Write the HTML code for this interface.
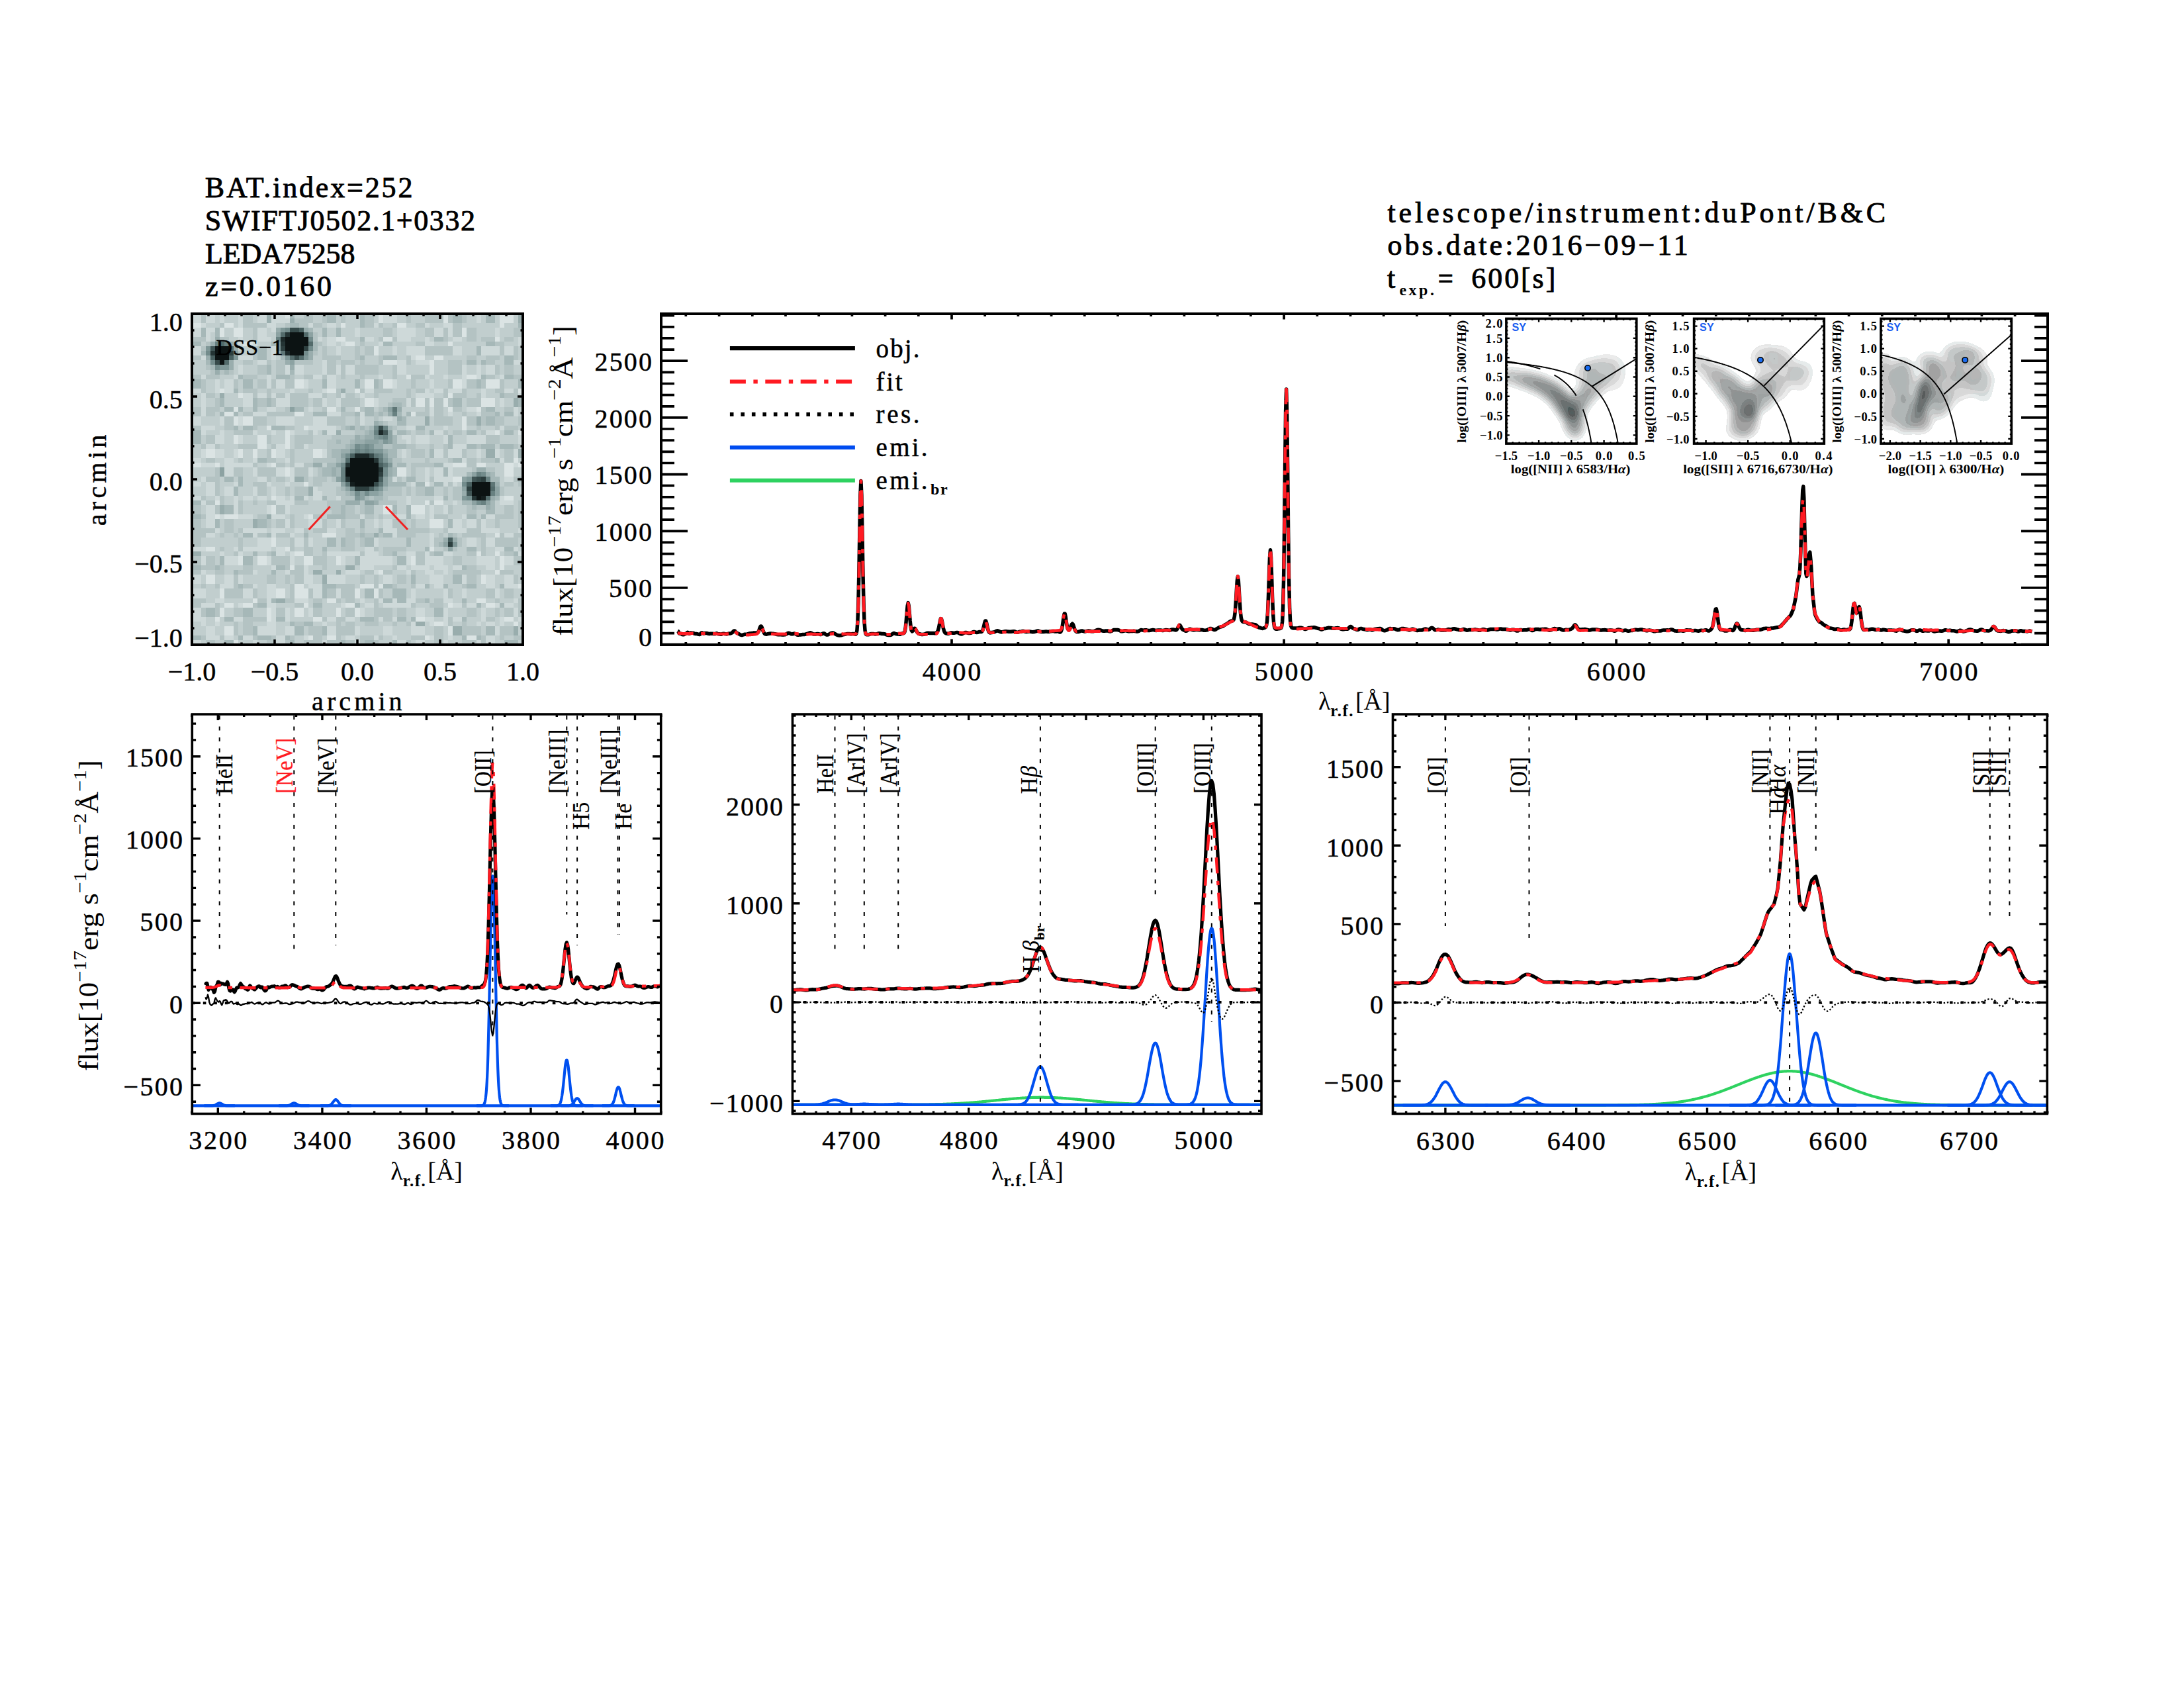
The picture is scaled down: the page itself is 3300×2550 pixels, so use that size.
<!DOCTYPE html><html><head><meta charset="utf-8"><style>html,body{margin:0;padding:0;background:#fff;width:3300px;height:2550px;overflow:hidden}svg{display:block;font-family:"Liberation Serif",serif}</style></head><body>
<svg width="3300" height="2550" viewBox="0 0 3300 2550">
<rect width="3300" height="2550" fill="#fff"/>
<text x="309.8" y="298.4" font-size="44" fill="#000" stroke="#000" stroke-width="0.9" textLength="313.6" lengthAdjust="spacing">BAT.index=252</text>
<text x="309.8" y="347.6" font-size="44" fill="#000" stroke="#000" stroke-width="0.9" textLength="408.2" lengthAdjust="spacing">SWIFTJ0502.1+0332</text>
<text x="310" y="397.9" font-size="44" fill="#000" stroke="#000" stroke-width="0.9" textLength="226.4" lengthAdjust="spacing">LEDA75258</text>
<text x="310" y="447.2" font-size="44" fill="#000" stroke="#000" stroke-width="0.9" textLength="190.9" lengthAdjust="spacing">z=0.0160</text>
<text x="2096.5" y="335.8" font-size="44" fill="#000" stroke="#000" stroke-width="0.9" textLength="752.7" lengthAdjust="spacing">telescope/instrument:duPont/B&amp;C</text>
<text x="2096.5" y="385.2" font-size="44" fill="#000" stroke="#000" stroke-width="0.9" textLength="454.2" lengthAdjust="spacing">obs.date:2016&#8722;09&#8722;11</text>
<text x="2096" y="435.4" font-size="44" fill="#000" stroke="#000" stroke-width="0.9" textLength="15.4" lengthAdjust="spacing">t</text>
<text x="2114.4" y="445.6" font-size="24" fill="#000" font-weight="bold" textLength="52.5" lengthAdjust="spacing">exp.</text>
<text x="2172.7" y="435.4" font-size="44" fill="#000" stroke="#000" stroke-width="0.9" textLength="23.1" lengthAdjust="spacingAndGlyphs">=</text>
<text x="2223.3" y="435.4" font-size="44" fill="#000" stroke="#000" stroke-width="0.9" textLength="127" lengthAdjust="spacing">600[s]</text>
<g transform="translate(290 474) scale(7.04225)" shape-rendering="crispEdges">
<path fill="#0c1313" d="M21 4h3v1h-3zM20 5h5v1h-5zM20 6h5v1h-5zM5 7h3v1h-3zM20 7h4v1h-4zM5 8h3v1h-3zM21 8h3v1h-3zM5 9h3v1h-3zM6 10h1v1h-1zM34 31h5v1h-5zM34 32h6v1h-6zM33 33h7v1h-7zM33 34h7v1h-7zM34 35h6v1h-6zM35 36h4v1h-4zM60 36h4v1h-4zM60 37h4v1h-4zM60 38h4v1h-4zM61 39h1v1h-1z"/>
<path fill="#141e1e" d="M34 36h1v1h-1zM62 39h1v1h-1z"/>
<path fill="#1c2929" d="M19 5h1v1h-1zM20 8h1v1h-1zM40 25h1v1h-1zM35 30h3v1h-3z"/>
<path fill="#243434" d="M20 4h1v1h-1zM19 6h1v1h-1zM4 8h1v1h-1zM39 31h1v1h-1zM33 32h1v1h-1zM40 33h1v1h-1zM33 35h1v1h-1zM60 39h1v1h-1z"/>
<path fill="#2d3f3f" d="M19 7h1v1h-1zM24 7h1v1h-1zM8 8h1v1h-1zM40 34h1v1h-1zM62 35h1v1h-1zM35 37h3v1h-3zM59 37h1v1h-1zM55 49h1v1h-1z"/>
<path fill="#364a4a" d="M21 3h2v1h-2zM22 9h1v1h-1zM5 10h1v1h-1zM40 24h1v1h-1zM38 30h1v1h-1zM61 35h1v1h-1zM39 36h1v1h-1z"/>
<path fill="#405555" d="M4 7h1v1h-1zM41 25h1v1h-1zM60 35h1v1h-1zM59 38h1v1h-1z"/>
<path fill="#496060" d="M23 3h1v1h-1zM4 9h1v1h-1zM8 9h1v1h-1zM34 30h1v1h-1zM40 32h1v1h-1zM40 35h1v1h-1zM59 36h1v1h-1zM38 37h1v1h-1zM55 48h1v1h-1z"/>
<path fill="#536b6b" d="M19 4h1v1h-1zM24 4h1v1h-1zM6 6h1v1h-1zM25 6h1v1h-1zM8 7h1v1h-1zM21 9h1v1h-1zM23 9h1v1h-1zM7 10h1v1h-1zM33 31h1v1h-1zM64 37h1v1h-1zM63 39h1v1h-1z"/>
<path fill="#5e7676" d="M19 8h1v1h-1zM43 20h1v1h-1zM39 30h1v1h-1zM40 31h1v1h-1zM41 32h1v1h-1zM33 36h1v1h-1zM40 36h1v1h-1zM64 36h1v1h-1z"/>
<path fill="#688181" d="M18 5h1v1h-1zM5 6h1v1h-1zM7 6h1v1h-1zM43 21h1v1h-1zM41 24h1v1h-1zM39 25h1v1h-1zM41 26h1v1h-1zM35 29h1v1h-1zM37 29h1v1h-1zM40 30h1v1h-1zM32 33h1v1h-1zM32 34h1v1h-1zM61 34h1v1h-1zM32 35h1v1h-1zM63 35h1v1h-1zM34 37h1v1h-1zM39 37h1v1h-1zM64 38h1v1h-1zM62 40h1v1h-1z"/>
<path fill="#738c8c" d="M20 3h1v1h-1zM25 5h1v1h-1zM25 7h1v1h-1zM3 8h1v1h-1zM24 8h1v1h-1zM4 10h1v1h-1zM5 11h1v1h-1zM39 24h1v1h-1zM40 26h1v1h-1zM35 28h1v1h-1zM37 28h1v1h-1zM36 29h1v1h-1zM38 29h1v1h-1zM33 30h1v1h-1zM32 32h1v1h-1zM41 33h1v1h-1zM41 34h1v1h-1zM62 34h1v1h-1zM58 36h1v1h-1zM35 38h1v1h-1zM37 38h1v1h-1zM59 39h1v1h-1zM61 40h1v1h-1z"/>
<path fill="#7f9797" d="M19 3h1v1h-1zM18 6h1v1h-1zM3 7h1v1h-1zM18 7h1v1h-1zM9 9h1v1h-1zM20 9h1v1h-1zM24 9h1v1h-1zM6 11h2v1h-2zM39 26h1v1h-1zM41 27h1v1h-1zM36 28h1v1h-1zM38 28h1v1h-1zM34 29h1v1h-1zM39 29h2v1h-2zM41 31h1v1h-1zM42 32h1v1h-1zM59 35h1v1h-1zM40 37h1v1h-1zM35 39h1v1h-1zM58 39h1v1h-1zM56 49h1v1h-1z"/>
<path fill="#8ca2a2" d="M18 4h1v1h-1zM25 4h1v1h-1zM9 8h1v1h-1zM21 10h1v1h-1zM21 20h1v1h-1zM42 20h1v1h-1zM42 25h1v1h-1zM42 26h1v1h-1zM37 27h3v1h-3zM42 27h1v1h-1zM32 30h1v1h-1zM41 30h1v1h-1zM31 32h1v1h-1zM6 33h1v1h-1zM6 34h1v1h-1zM60 34h1v1h-1zM31 35h1v1h-1zM41 35h1v1h-1zM58 35h1v1h-1zM32 36h1v1h-1zM41 36h1v1h-1zM33 37h1v1h-1zM58 37h1v1h-1zM65 37h1v1h-1zM36 38h1v1h-1zM38 38h2v1h-2zM65 38h1v1h-1zM36 39h1v1h-1zM37 40h2v1h-2zM60 40h1v1h-1zM63 40h1v1h-1zM54 49h1v1h-1zM55 50h1v1h-1z"/>
<path fill="#99adad" d="M16 0h1v1h-1zM70 0h1v1h-1zM16 1h1v1h-1zM21 1h1v1h-1zM70 1h1v1h-1zM18 3h1v1h-1zM24 3h1v1h-1zM5 5h1v1h-1zM4 6h1v1h-1zM8 6h1v1h-1zM9 7h1v1h-1zM18 8h1v1h-1zM25 8h1v1h-1zM3 9h1v1h-1zM25 9h1v1h-1zM8 10h1v1h-1zM20 10h1v1h-1zM8 11h1v1h-1zM21 11h1v1h-1zM5 12h1v1h-1zM32 16h1v1h-1zM6 17h1v1h-1zM69 18h1v1h-1zM69 19h1v1h-1zM44 20h1v1h-1zM42 21h1v1h-1zM44 22h1v1h-1zM50 22h1v1h-1zM61 22h1v1h-1zM39 23h1v1h-1zM50 23h1v1h-1zM61 23h1v1h-1zM34 24h1v1h-1zM31 25h1v1h-1zM38 25h1v1h-1zM35 26h1v1h-1zM37 26h2v1h-2zM35 27h2v1h-2zM40 27h1v1h-1zM34 28h1v1h-1zM39 28h2v1h-2zM32 29h2v1h-2zM41 29h1v1h-1zM63 29h2v1h-2zM70 29h1v1h-1zM63 30h2v1h-2zM70 30h1v1h-1zM32 31h1v1h-1zM42 31h1v1h-1zM26 32h2v1h-2zM30 33h1v1h-1zM42 33h1v1h-1zM61 33h2v1h-2zM30 34h1v1h-1zM42 34h1v1h-1zM63 34h1v1h-1zM22 35h2v1h-2zM65 36h1v1h-1zM25 37h1v1h-1zM25 38h1v1h-1zM34 38h1v1h-1zM40 38h1v1h-1zM58 38h1v1h-1zM64 39h1v1h-1zM33 40h3v1h-3zM39 40h1v1h-1zM6 41h1v1h-1zM63 41h1v1h-1zM6 42h1v1h-1zM16 43h1v1h-1zM13 44h1v1h-1zM13 45h1v1h-1zM39 47h1v1h-1zM54 48h1v1h-1zM56 48h1v1h-1zM0 51h2v1h-2zM33 54h2v1h-2zM26 55h2v1h-2zM31 55h1v1h-1zM28 56h1v1h-1zM28 57h1v1h-1zM18 61h2v1h-2zM48 66h2v1h-2zM56 67h2v1h-2zM69 67h1v1h-1zM56 68h2v1h-2zM69 68h1v1h-1z"/>
<path fill="#a6b8b8" d="M21 0h1v1h-1zM29 0h2v1h-2zM36 0h1v1h-1zM56 0h2v1h-2zM63 0h2v1h-2zM29 1h2v1h-2zM36 1h1v1h-1zM56 1h2v1h-2zM63 1h2v1h-2zM21 2h2v1h-2zM36 2h1v1h-1zM70 2h1v1h-1zM2 3h1v1h-1zM5 3h1v1h-1zM25 3h1v1h-1zM28 3h1v1h-1zM31 3h1v1h-1zM2 4h1v1h-1zM5 4h1v1h-1zM28 4h1v1h-1zM31 4h1v1h-1zM36 5h1v1h-1zM52 5h2v1h-2zM0 6h2v1h-2zM17 6h1v1h-1zM26 6h1v1h-1zM41 6h2v1h-2zM63 6h2v1h-2zM14 7h2v1h-2zM26 7h1v1h-1zM61 7h1v1h-1zM2 8h1v1h-1zM14 8h2v1h-2zM61 8h1v1h-1zM14 9h2v1h-2zM19 9h1v1h-1zM36 9h1v1h-1zM41 9h3v1h-3zM67 9h2v1h-2zM3 10h1v1h-1zM59 10h2v1h-2zM62 10h1v1h-1zM67 10h2v1h-2zM4 11h1v1h-1zM16 11h1v1h-1zM7 12h1v1h-1zM16 12h1v1h-1zM21 12h1v1h-1zM10 13h1v1h-1zM18 13h3v1h-3zM62 13h1v1h-1zM67 13h2v1h-2zM0 14h2v1h-2zM11 14h2v1h-2zM28 14h1v1h-1zM35 14h1v1h-1zM39 14h1v1h-1zM61 14h1v1h-1zM70 14h1v1h-1zM0 15h2v1h-2zM11 15h2v1h-2zM28 15h1v1h-1zM35 15h1v1h-1zM39 15h1v1h-1zM61 15h1v1h-1zM70 15h1v1h-1zM9 16h1v1h-1zM66 17h1v1h-1zM6 18h1v1h-1zM13 18h1v1h-1zM16 18h1v1h-1zM56 18h2v1h-2zM70 18h1v1h-1zM6 19h1v1h-1zM13 19h1v1h-1zM16 19h1v1h-1zM43 19h2v1h-2zM56 19h2v1h-2zM70 19h1v1h-1zM7 20h2v1h-2zM10 20h1v1h-1zM13 20h1v1h-1zM22 20h2v1h-2zM32 20h1v1h-1zM37 20h2v1h-2zM41 20h1v1h-1zM63 20h2v1h-2zM6 21h1v1h-1zM9 21h1v1h-1zM26 21h3v1h-3zM35 21h1v1h-1zM37 21h2v1h-2zM40 21h1v1h-1zM44 21h1v1h-1zM46 21h1v1h-1zM65 21h1v1h-1zM67 21h2v1h-2zM45 22h1v1h-1zM63 22h2v1h-2zM40 23h1v1h-1zM44 23h2v1h-2zM63 23h2v1h-2zM9 24h1v1h-1zM11 24h2v1h-2zM17 24h3v1h-3zM33 24h1v1h-1zM36 24h1v1h-1zM38 24h1v1h-1zM42 24h1v1h-1zM48 24h2v1h-2zM0 25h2v1h-2zM28 25h1v1h-1zM37 25h1v1h-1zM44 25h2v1h-2zM51 25h1v1h-1zM59 25h2v1h-2zM67 25h2v1h-2zM0 26h2v1h-2zM36 26h1v1h-1zM43 26h1v1h-1zM55 26h1v1h-1zM0 27h2v1h-2zM31 27h1v1h-1zM34 27h1v1h-1zM43 27h1v1h-1zM55 27h1v1h-1zM33 28h1v1h-1zM43 28h3v1h-3zM55 28h1v1h-1zM59 28h2v1h-2zM62 28h3v1h-3zM66 28h3v1h-3zM30 29h2v1h-2zM42 29h2v1h-2zM51 29h1v1h-1zM30 30h2v1h-2zM42 30h2v1h-2zM51 30h1v1h-1zM14 31h2v1h-2zM31 31h1v1h-1zM56 31h2v1h-2zM65 31h1v1h-1zM29 32h2v1h-2zM44 32h2v1h-2zM52 32h2v1h-2zM28 33h2v1h-2zM31 33h1v1h-1zM43 33h1v1h-1zM54 33h1v1h-1zM28 34h2v1h-2zM31 34h1v1h-1zM43 34h1v1h-1zM54 34h1v1h-1zM59 34h1v1h-1zM64 34h1v1h-1zM7 35h2v1h-2zM10 35h1v1h-1zM42 35h1v1h-1zM46 35h2v1h-2zM64 35h2v1h-2zM70 35h1v1h-1zM10 36h1v1h-1zM42 36h4v1h-4zM48 36h2v1h-2zM52 36h2v1h-2zM9 37h1v1h-1zM32 37h1v1h-1zM41 37h1v1h-1zM50 37h2v1h-2zM9 38h1v1h-1zM33 38h1v1h-1zM50 38h2v1h-2zM22 39h2v1h-2zM28 39h1v1h-1zM37 39h1v1h-1zM39 39h2v1h-2zM54 39h1v1h-1zM65 39h1v1h-1zM0 40h2v1h-2zM58 40h2v1h-2zM64 40h1v1h-1zM7 41h2v1h-2zM32 41h1v1h-1zM37 41h2v1h-2zM43 41h1v1h-1zM46 41h1v1h-1zM60 41h1v1h-1zM64 41h1v1h-1zM7 42h2v1h-2zM32 42h1v1h-1zM37 42h2v1h-2zM43 42h1v1h-1zM46 42h1v1h-1zM63 42h2v1h-2zM0 43h2v1h-2zM29 43h4v1h-4zM46 43h1v1h-1zM59 43h2v1h-2zM62 43h1v1h-1zM5 44h1v1h-1zM14 44h2v1h-2zM36 44h1v1h-1zM55 44h1v1h-1zM5 45h1v1h-1zM14 45h2v1h-2zM36 45h1v1h-1zM55 45h1v1h-1zM40 46h1v1h-1zM11 47h2v1h-2zM16 47h1v1h-1zM24 47h1v1h-1zM36 47h1v1h-1zM41 47h2v1h-2zM55 47h1v1h-1zM29 48h2v1h-2zM32 48h1v1h-1zM37 48h2v1h-2zM46 48h1v1h-1zM29 49h2v1h-2zM32 49h1v1h-1zM37 49h2v1h-2zM46 49h1v1h-1zM53 49h1v1h-1zM28 50h1v1h-1zM50 50h1v1h-1zM59 50h2v1h-2zM67 50h2v1h-2zM13 51h1v1h-1zM17 51h1v1h-1zM43 51h1v1h-1zM52 51h2v1h-2zM69 51h1v1h-1zM6 52h1v1h-1zM11 52h2v1h-2zM35 52h1v1h-1zM44 52h2v1h-2zM6 53h1v1h-1zM11 53h2v1h-2zM35 53h1v1h-1zM44 53h2v1h-2zM0 54h2v1h-2zM5 54h1v1h-1zM18 54h2v1h-2zM58 54h1v1h-1zM9 55h1v1h-1zM17 55h1v1h-1zM47 56h1v1h-1zM56 56h2v1h-2zM47 57h1v1h-1zM56 57h2v1h-2zM10 58h1v1h-1zM28 58h3v1h-3zM41 58h2v1h-2zM50 58h1v1h-1zM54 58h1v1h-1zM59 58h2v1h-2zM66 58h1v1h-1zM28 59h1v1h-1zM37 59h2v1h-2zM43 59h3v1h-3zM28 60h1v1h-1zM37 60h2v1h-2zM43 60h3v1h-3zM17 61h1v1h-1zM41 61h2v1h-2zM44 61h2v1h-2zM50 61h1v1h-1zM58 61h1v1h-1zM14 62h2v1h-2zM26 62h2v1h-2zM35 62h1v1h-1zM61 62h1v1h-1zM66 62h1v1h-1zM3 63h2v1h-2zM11 63h2v1h-2zM52 63h2v1h-2zM3 64h2v1h-2zM11 64h2v1h-2zM52 64h2v1h-2zM7 65h2v1h-2zM18 65h2v1h-2zM36 65h3v1h-3zM44 65h2v1h-2zM47 65h1v1h-1zM58 65h1v1h-1zM21 66h1v1h-1zM24 66h2v1h-2zM13 67h1v1h-1zM22 67h2v1h-2zM28 67h1v1h-1zM63 67h2v1h-2zM13 68h1v1h-1zM22 68h2v1h-2zM28 68h1v1h-1zM63 68h2v1h-2zM0 69h2v1h-2zM10 69h1v1h-1zM14 69h3v1h-3zM20 69h1v1h-1zM58 69h1v1h-1zM61 69h1v1h-1zM7 70h2v1h-2zM21 70h1v1h-1zM32 70h1v1h-1zM37 70h2v1h-2zM43 70h1v1h-1zM67 70h3v1h-3z"/>
<path fill="#b4c3c3" d="M2 0h1v1h-1zM11 0h2v1h-2zM24 0h2v1h-2zM28 0h1v1h-1zM32 0h1v1h-1zM37 0h2v1h-2zM46 0h1v1h-1zM50 0h4v1h-4zM55 0h1v1h-1zM58 0h1v1h-1zM2 1h1v1h-1zM11 1h2v1h-2zM22 1h4v1h-4zM28 1h1v1h-1zM32 1h1v1h-1zM37 1h2v1h-2zM46 1h1v1h-1zM50 1h4v1h-4zM55 1h1v1h-1zM58 1h1v1h-1zM6 2h1v1h-1zM11 2h5v1h-5zM20 2h1v1h-1zM23 2h2v1h-2zM26 2h2v1h-2zM37 2h2v1h-2zM40 2h1v1h-1zM43 2h1v1h-1zM48 2h2v1h-2zM56 2h2v1h-2zM13 3h1v1h-1zM41 3h2v1h-2zM50 3h2v1h-2zM54 3h1v1h-1zM56 3h2v1h-2zM59 3h2v1h-2zM69 3h2v1h-2zM13 4h1v1h-1zM26 4h1v1h-1zM41 4h2v1h-2zM50 4h2v1h-2zM54 4h1v1h-1zM56 4h2v1h-2zM59 4h2v1h-2zM69 4h2v1h-2zM0 5h3v1h-3zM6 5h2v1h-2zM13 5h1v1h-1zM26 5h1v1h-1zM40 5h1v1h-1zM43 5h1v1h-1zM54 5h1v1h-1zM59 5h2v1h-2zM62 5h3v1h-3zM67 5h2v1h-2zM3 6h1v1h-1zM9 6h1v1h-1zM27 6h1v1h-1zM36 6h1v1h-1zM48 6h2v1h-2zM65 6h2v1h-2zM2 7h1v1h-1zM13 7h1v1h-1zM28 7h1v1h-1zM35 7h1v1h-1zM37 7h2v1h-2zM50 7h6v1h-6zM66 7h1v1h-1zM69 7h1v1h-1zM10 8h1v1h-1zM13 8h1v1h-1zM26 8h1v1h-1zM28 8h1v1h-1zM35 8h1v1h-1zM37 8h2v1h-2zM50 8h6v1h-6zM66 8h1v1h-1zM69 8h1v1h-1zM0 9h2v1h-2zM13 9h1v1h-1zM28 9h4v1h-4zM35 9h1v1h-1zM40 9h1v1h-1zM46 9h1v1h-1zM59 9h2v1h-2zM63 9h3v1h-3zM69 9h1v1h-1zM11 10h2v1h-2zM16 10h1v1h-1zM18 10h2v1h-2zM22 10h4v1h-4zM29 10h2v1h-2zM32 10h3v1h-3zM36 10h1v1h-1zM40 10h1v1h-1zM46 10h1v1h-1zM55 10h3v1h-3zM63 10h2v1h-2zM3 11h1v1h-1zM14 11h2v1h-2zM18 11h2v1h-2zM29 11h2v1h-2zM32 11h1v1h-1zM35 11h5v1h-5zM43 11h1v1h-1zM55 11h3v1h-3zM65 11h1v1h-1zM67 11h2v1h-2zM4 12h1v1h-1zM6 12h1v1h-1zM8 12h1v1h-1zM14 12h2v1h-2zM18 12h2v1h-2zM29 12h2v1h-2zM32 12h1v1h-1zM35 12h5v1h-5zM43 12h1v1h-1zM55 12h3v1h-3zM65 12h1v1h-1zM67 12h2v1h-2zM0 13h2v1h-2zM3 13h3v1h-3zM11 13h3v1h-3zM21 13h1v1h-1zM24 13h2v1h-2zM28 13h1v1h-1zM32 13h1v1h-1zM36 13h1v1h-1zM43 13h1v1h-1zM47 13h3v1h-3zM63 13h2v1h-2zM69 13h2v1h-2zM2 14h1v1h-1zM9 14h1v1h-1zM14 14h2v1h-2zM17 14h1v1h-1zM20 14h2v1h-2zM40 14h1v1h-1zM47 14h1v1h-1zM55 14h1v1h-1zM59 14h2v1h-2zM62 14h1v1h-1zM66 14h1v1h-1zM2 15h1v1h-1zM9 15h1v1h-1zM14 15h2v1h-2zM17 15h1v1h-1zM20 15h2v1h-2zM40 15h1v1h-1zM47 15h1v1h-1zM55 15h1v1h-1zM59 15h2v1h-2zM62 15h1v1h-1zM66 15h1v1h-1zM2 16h1v1h-1zM11 16h3v1h-3zM16 16h1v1h-1zM25 16h1v1h-1zM31 16h1v1h-1zM36 16h1v1h-1zM39 16h4v1h-4zM46 16h1v1h-1zM48 16h2v1h-2zM54 16h1v1h-1zM58 16h1v1h-1zM65 16h2v1h-2zM69 16h1v1h-1zM3 17h2v1h-2zM13 17h1v1h-1zM16 17h1v1h-1zM18 17h2v1h-2zM21 17h4v1h-4zM28 17h1v1h-1zM31 17h1v1h-1zM33 17h2v1h-2zM39 17h1v1h-1zM46 17h1v1h-1zM54 17h1v1h-1zM56 17h3v1h-3zM61 17h1v1h-1zM67 17h3v1h-3zM5 18h1v1h-1zM14 18h2v1h-2zM17 18h1v1h-1zM21 18h4v1h-4zM26 18h2v1h-2zM32 18h4v1h-4zM43 18h3v1h-3zM47 18h1v1h-1zM50 18h1v1h-1zM52 18h2v1h-2zM55 18h1v1h-1zM59 18h3v1h-3zM5 19h1v1h-1zM14 19h2v1h-2zM17 19h1v1h-1zM21 19h4v1h-4zM26 19h2v1h-2zM32 19h4v1h-4zM42 19h1v1h-1zM45 19h1v1h-1zM47 19h1v1h-1zM50 19h1v1h-1zM52 19h2v1h-2zM55 19h1v1h-1zM59 19h3v1h-3zM0 20h2v1h-2zM3 20h3v1h-3zM20 20h1v1h-1zM28 20h1v1h-1zM36 20h1v1h-1zM40 20h1v1h-1zM50 20h1v1h-1zM52 20h2v1h-2zM56 20h2v1h-2zM62 20h1v1h-1zM67 20h2v1h-2zM0 21h2v1h-2zM3 21h2v1h-2zM11 21h2v1h-2zM16 21h6v1h-6zM32 21h3v1h-3zM39 21h1v1h-1zM41 21h1v1h-1zM48 21h3v1h-3zM52 21h2v1h-2zM58 21h1v1h-1zM62 21h3v1h-3zM7 22h2v1h-2zM13 22h3v1h-3zM29 22h4v1h-4zM35 22h1v1h-1zM39 22h1v1h-1zM52 22h4v1h-4zM59 22h2v1h-2zM62 22h1v1h-1zM65 22h2v1h-2zM70 22h1v1h-1zM7 23h2v1h-2zM13 23h3v1h-3zM29 23h4v1h-4zM35 23h1v1h-1zM41 23h1v1h-1zM52 23h4v1h-4zM59 23h2v1h-2zM62 23h1v1h-1zM65 23h2v1h-2zM70 23h1v1h-1zM0 24h2v1h-2zM7 24h2v1h-2zM13 24h1v1h-1zM20 24h2v1h-2zM32 24h1v1h-1zM35 24h1v1h-1zM37 24h1v1h-1zM43 24h1v1h-1zM61 24h1v1h-1zM65 24h1v1h-1zM67 24h3v1h-3zM9 25h4v1h-4zM25 25h1v1h-1zM35 25h2v1h-2zM46 25h1v1h-1zM48 25h2v1h-2zM54 25h1v1h-1zM56 25h2v1h-2zM62 25h1v1h-1zM3 26h2v1h-2zM16 26h1v1h-1zM22 26h4v1h-4zM30 26h5v1h-5zM63 26h3v1h-3zM3 27h2v1h-2zM16 27h1v1h-1zM22 27h4v1h-4zM29 27h2v1h-2zM32 27h2v1h-2zM63 27h3v1h-3zM2 28h1v1h-1zM5 28h1v1h-1zM10 28h4v1h-4zM17 28h1v1h-1zM22 28h2v1h-2zM29 28h4v1h-4zM41 28h2v1h-2zM46 28h2v1h-2zM51 28h1v1h-1zM54 28h1v1h-1zM61 28h1v1h-1zM69 28h1v1h-1zM16 29h1v1h-1zM21 29h1v1h-1zM29 29h1v1h-1zM47 29h3v1h-3zM54 29h1v1h-1zM58 29h1v1h-1zM67 29h2v1h-2zM16 30h1v1h-1zM21 30h1v1h-1zM29 30h1v1h-1zM47 30h3v1h-3zM54 30h1v1h-1zM58 30h1v1h-1zM67 30h2v1h-2zM3 31h2v1h-2zM10 31h1v1h-1zM16 31h2v1h-2zM21 31h1v1h-1zM26 31h5v1h-5zM43 31h2v1h-2zM50 31h1v1h-1zM55 31h1v1h-1zM59 31h2v1h-2zM62 31h3v1h-3zM67 31h2v1h-2zM13 32h1v1h-1zM18 32h2v1h-2zM21 32h1v1h-1zM24 32h2v1h-2zM43 32h1v1h-1zM47 32h5v1h-5zM59 32h2v1h-2zM5 33h1v1h-1zM9 33h2v1h-2zM14 33h4v1h-4zM22 33h3v1h-3zM27 33h1v1h-1zM47 33h1v1h-1zM60 33h1v1h-1zM63 33h2v1h-2zM5 34h1v1h-1zM9 34h2v1h-2zM14 34h4v1h-4zM22 34h3v1h-3zM27 34h1v1h-1zM47 34h1v1h-1zM3 35h3v1h-3zM16 35h1v1h-1zM18 35h2v1h-2zM24 35h1v1h-1zM26 35h3v1h-3zM30 35h1v1h-1zM44 35h1v1h-1zM51 35h1v1h-1zM69 35h1v1h-1zM5 36h1v1h-1zM13 36h3v1h-3zM26 36h2v1h-2zM55 36h1v1h-1zM67 36h2v1h-2zM70 36h1v1h-1zM5 37h1v1h-1zM14 37h2v1h-2zM20 37h1v1h-1zM22 37h3v1h-3zM31 37h1v1h-1zM42 37h3v1h-3zM46 37h1v1h-1zM48 37h2v1h-2zM54 37h1v1h-1zM56 37h2v1h-2zM66 37h1v1h-1zM5 38h1v1h-1zM14 38h2v1h-2zM20 38h1v1h-1zM22 38h3v1h-3zM31 38h2v1h-2zM41 38h4v1h-4zM46 38h1v1h-1zM48 38h2v1h-2zM54 38h1v1h-1zM56 38h2v1h-2zM66 38h1v1h-1zM2 39h1v1h-1zM6 39h1v1h-1zM32 39h3v1h-3zM38 39h1v1h-1zM41 39h1v1h-1zM56 39h2v1h-2zM3 40h2v1h-2zM6 40h1v1h-1zM10 40h1v1h-1zM13 40h1v1h-1zM16 40h2v1h-2zM22 40h3v1h-3zM29 40h4v1h-4zM36 40h1v1h-1zM40 40h4v1h-4zM51 40h1v1h-1zM70 40h1v1h-1zM0 41h2v1h-2zM5 41h1v1h-1zM10 41h1v1h-1zM18 41h2v1h-2zM29 41h3v1h-3zM33 41h2v1h-2zM36 41h1v1h-1zM55 41h1v1h-1zM59 41h1v1h-1zM61 41h2v1h-2zM67 41h2v1h-2zM70 41h1v1h-1zM0 42h2v1h-2zM5 42h1v1h-1zM10 42h1v1h-1zM18 42h2v1h-2zM30 42h2v1h-2zM33 42h2v1h-2zM36 42h1v1h-1zM55 42h1v1h-1zM59 42h2v1h-2zM67 42h2v1h-2zM70 42h1v1h-1zM2 43h1v1h-1zM14 43h2v1h-2zM21 43h1v1h-1zM26 43h2v1h-2zM33 43h3v1h-3zM37 43h2v1h-2zM40 43h1v1h-1zM52 43h3v1h-3zM65 43h4v1h-4zM70 43h1v1h-1zM0 44h2v1h-2zM7 44h2v1h-2zM16 44h1v1h-1zM18 44h2v1h-2zM21 44h1v1h-1zM28 44h1v1h-1zM32 44h1v1h-1zM43 44h3v1h-3zM47 44h1v1h-1zM61 44h1v1h-1zM65 44h1v1h-1zM70 44h1v1h-1zM0 45h2v1h-2zM7 45h2v1h-2zM16 45h1v1h-1zM18 45h2v1h-2zM21 45h1v1h-1zM28 45h1v1h-1zM32 45h1v1h-1zM43 45h3v1h-3zM47 45h1v1h-1zM61 45h1v1h-1zM65 45h1v1h-1zM70 45h1v1h-1zM0 46h5v1h-5zM7 46h2v1h-2zM10 46h1v1h-1zM24 46h1v1h-1zM26 46h3v1h-3zM33 46h2v1h-2zM36 46h1v1h-1zM44 46h7v1h-7zM54 46h1v1h-1zM59 46h3v1h-3zM0 47h3v1h-3zM6 47h1v1h-1zM9 47h1v1h-1zM14 47h2v1h-2zM18 47h3v1h-3zM33 47h3v1h-3zM37 47h2v1h-2zM40 47h1v1h-1zM44 47h4v1h-4zM53 47h1v1h-1zM56 47h1v1h-1zM58 47h5v1h-5zM66 47h1v1h-1zM69 47h2v1h-2zM0 48h2v1h-2zM10 48h1v1h-1zM21 48h1v1h-1zM24 48h1v1h-1zM33 48h2v1h-2zM36 48h1v1h-1zM52 48h2v1h-2zM57 48h1v1h-1zM62 48h1v1h-1zM65 48h5v1h-5zM0 49h2v1h-2zM10 49h1v1h-1zM21 49h1v1h-1zM24 49h1v1h-1zM33 49h2v1h-2zM36 49h1v1h-1zM52 49h1v1h-1zM57 49h1v1h-1zM62 49h1v1h-1zM65 49h5v1h-5zM6 50h1v1h-1zM10 50h1v1h-1zM21 50h1v1h-1zM24 50h2v1h-2zM32 50h3v1h-3zM39 50h1v1h-1zM41 50h5v1h-5zM54 50h1v1h-1zM56 50h1v1h-1zM62 50h1v1h-1zM9 51h1v1h-1zM16 51h1v1h-1zM24 51h2v1h-2zM28 51h1v1h-1zM36 51h1v1h-1zM41 51h2v1h-2zM48 51h2v1h-2zM51 51h1v1h-1zM59 51h2v1h-2zM62 51h1v1h-1zM67 51h2v1h-2zM0 52h2v1h-2zM3 52h2v1h-2zM17 52h4v1h-4zM26 52h3v1h-3zM48 52h2v1h-2zM56 52h2v1h-2zM69 52h2v1h-2zM0 53h2v1h-2zM3 53h2v1h-2zM17 53h4v1h-4zM26 53h3v1h-3zM48 53h2v1h-2zM56 53h2v1h-2zM69 53h2v1h-2zM2 54h3v1h-3zM6 54h1v1h-1zM11 54h2v1h-2zM20 54h1v1h-1zM22 54h2v1h-2zM28 54h1v1h-1zM43 54h1v1h-1zM59 54h2v1h-2zM0 55h2v1h-2zM5 55h2v1h-2zM10 55h3v1h-3zM21 55h3v1h-3zM37 55h2v1h-2zM41 55h2v1h-2zM47 55h1v1h-1zM56 55h6v1h-6zM66 55h3v1h-3zM9 56h1v1h-1zM16 56h2v1h-2zM20 56h1v1h-1zM22 56h2v1h-2zM36 56h1v1h-1zM39 56h1v1h-1zM44 56h2v1h-2zM59 56h2v1h-2zM69 56h1v1h-1zM9 57h1v1h-1zM16 57h2v1h-2zM20 57h1v1h-1zM22 57h2v1h-2zM36 57h1v1h-1zM39 57h1v1h-1zM44 57h2v1h-2zM59 57h2v1h-2zM69 57h1v1h-1zM2 58h1v1h-1zM5 58h1v1h-1zM9 58h1v1h-1zM11 58h2v1h-2zM21 58h1v1h-1zM31 58h4v1h-4zM39 58h1v1h-1zM43 58h1v1h-1zM47 58h1v1h-1zM58 58h1v1h-1zM7 59h4v1h-4zM13 59h1v1h-1zM21 59h1v1h-1zM25 59h1v1h-1zM29 59h2v1h-2zM32 59h3v1h-3zM40 59h1v1h-1zM55 59h1v1h-1zM63 59h2v1h-2zM67 59h2v1h-2zM7 60h4v1h-4zM13 60h1v1h-1zM21 60h1v1h-1zM25 60h1v1h-1zM29 60h2v1h-2zM32 60h3v1h-3zM40 60h1v1h-1zM55 60h1v1h-1zM63 60h2v1h-2zM67 60h2v1h-2zM0 61h3v1h-3zM14 61h2v1h-2zM20 61h2v1h-2zM26 61h2v1h-2zM31 61h1v1h-1zM33 61h2v1h-2zM39 61h1v1h-1zM48 61h2v1h-2zM52 61h2v1h-2zM65 61h1v1h-1zM70 61h1v1h-1zM0 62h2v1h-2zM5 62h1v1h-1zM13 62h1v1h-1zM22 62h2v1h-2zM39 62h1v1h-1zM47 62h1v1h-1zM51 62h3v1h-3zM58 62h1v1h-1zM70 62h1v1h-1zM2 63h1v1h-1zM5 63h1v1h-1zM9 63h2v1h-2zM18 63h2v1h-2zM26 63h2v1h-2zM33 63h2v1h-2zM39 63h4v1h-4zM44 63h2v1h-2zM59 63h2v1h-2zM65 63h1v1h-1zM67 63h2v1h-2zM70 63h1v1h-1zM2 64h1v1h-1zM5 64h1v1h-1zM9 64h2v1h-2zM18 64h2v1h-2zM26 64h2v1h-2zM33 64h2v1h-2zM39 64h4v1h-4zM44 64h2v1h-2zM59 64h2v1h-2zM65 64h1v1h-1zM67 64h2v1h-2zM70 64h1v1h-1zM11 65h5v1h-5zM28 65h1v1h-1zM31 65h2v1h-2zM39 65h1v1h-1zM41 65h2v1h-2zM55 65h1v1h-1zM63 65h2v1h-2zM9 66h1v1h-1zM11 66h2v1h-2zM22 66h2v1h-2zM31 66h1v1h-1zM33 66h2v1h-2zM37 66h3v1h-3zM43 66h1v1h-1zM46 66h1v1h-1zM55 66h1v1h-1zM58 66h1v1h-1zM9 67h1v1h-1zM11 67h2v1h-2zM25 67h3v1h-3zM31 67h4v1h-4zM52 67h2v1h-2zM58 67h4v1h-4zM66 67h3v1h-3zM9 68h1v1h-1zM11 68h2v1h-2zM25 68h3v1h-3zM31 68h4v1h-4zM52 68h2v1h-2zM58 68h4v1h-4zM66 68h3v1h-3zM2 69h1v1h-1zM6 69h1v1h-1zM13 69h1v1h-1zM17 69h1v1h-1zM21 69h1v1h-1zM26 69h2v1h-2zM31 69h1v1h-1zM36 69h3v1h-3zM40 69h1v1h-1zM47 69h3v1h-3zM52 69h2v1h-2zM62 69h1v1h-1zM66 69h1v1h-1zM69 69h2v1h-2zM3 70h2v1h-2zM16 70h2v1h-2zM20 70h1v1h-1zM24 70h4v1h-4zM29 70h3v1h-3zM33 70h2v1h-2zM36 70h1v1h-1zM39 70h1v1h-1zM46 70h1v1h-1zM52 70h2v1h-2zM58 70h3v1h-3zM62 70h1v1h-1z"/>
<path fill="#c1cece" d="M5 0h1v1h-1zM7 0h3v1h-3zM13 0h1v1h-1zM22 0h2v1h-2zM26 0h2v1h-2zM31 0h1v1h-1zM33 0h3v1h-3zM39 0h1v1h-1zM44 0h2v1h-2zM47 0h3v1h-3zM59 0h2v1h-2zM62 0h1v1h-1zM65 0h1v1h-1zM69 0h1v1h-1zM5 1h1v1h-1zM7 1h3v1h-3zM13 1h1v1h-1zM26 1h2v1h-2zM31 1h1v1h-1zM33 1h3v1h-3zM39 1h1v1h-1zM44 1h2v1h-2zM47 1h3v1h-3zM59 1h2v1h-2zM62 1h1v1h-1zM65 1h1v1h-1zM69 1h1v1h-1zM3 2h3v1h-3zM9 2h1v1h-1zM18 2h2v1h-2zM28 2h1v1h-1zM31 2h1v1h-1zM33 2h3v1h-3zM41 2h2v1h-2zM46 2h2v1h-2zM51 2h3v1h-3zM58 2h8v1h-8zM67 2h3v1h-3zM7 3h2v1h-2zM11 3h2v1h-2zM16 3h1v1h-1zM26 3h2v1h-2zM29 3h2v1h-2zM32 3h3v1h-3zM36 3h5v1h-5zM43 3h1v1h-1zM48 3h2v1h-2zM61 3h4v1h-4zM66 3h3v1h-3zM4 4h1v1h-1zM7 4h2v1h-2zM11 4h2v1h-2zM16 4h2v1h-2zM27 4h1v1h-1zM29 4h2v1h-2zM32 4h3v1h-3zM36 4h5v1h-5zM43 4h1v1h-1zM48 4h2v1h-2zM61 4h4v1h-4zM66 4h3v1h-3zM4 5h1v1h-1zM8 5h2v1h-2zM11 5h2v1h-2zM17 5h1v1h-1zM28 5h1v1h-1zM33 5h3v1h-3zM39 5h1v1h-1zM47 5h3v1h-3zM51 5h1v1h-1zM55 5h1v1h-1zM58 5h1v1h-1zM61 5h1v1h-1zM66 5h1v1h-1zM69 5h1v1h-1zM2 6h1v1h-1zM14 6h3v1h-3zM28 6h1v1h-1zM31 6h1v1h-1zM35 6h1v1h-1zM37 6h3v1h-3zM43 6h5v1h-5zM52 6h3v1h-3zM56 6h7v1h-7zM67 6h3v1h-3zM10 7h3v1h-3zM16 7h1v1h-1zM27 7h1v1h-1zM29 7h2v1h-2zM32 7h3v1h-3zM36 7h1v1h-1zM40 7h3v1h-3zM44 7h2v1h-2zM58 7h3v1h-3zM70 7h1v1h-1zM11 8h2v1h-2zM16 8h1v1h-1zM27 8h1v1h-1zM29 8h2v1h-2zM32 8h3v1h-3zM36 8h1v1h-1zM40 8h3v1h-3zM44 8h2v1h-2zM58 8h3v1h-3zM70 8h1v1h-1zM16 9h1v1h-1zM18 9h1v1h-1zM26 9h2v1h-2zM32 9h3v1h-3zM37 9h3v1h-3zM44 9h2v1h-2zM50 9h2v1h-2zM54 9h5v1h-5zM61 9h2v1h-2zM66 9h1v1h-1zM70 9h1v1h-1zM0 10h3v1h-3zM9 10h2v1h-2zM13 10h1v1h-1zM17 10h1v1h-1zM26 10h2v1h-2zM31 10h1v1h-1zM35 10h1v1h-1zM37 10h3v1h-3zM47 10h1v1h-1zM52 10h3v1h-3zM58 10h1v1h-1zM61 10h1v1h-1zM65 10h2v1h-2zM0 11h3v1h-3zM9 11h1v1h-1zM11 11h3v1h-3zM17 11h1v1h-1zM24 11h4v1h-4zM40 11h3v1h-3zM46 11h5v1h-5zM52 11h3v1h-3zM59 11h2v1h-2zM62 11h1v1h-1zM66 11h1v1h-1zM69 11h2v1h-2zM0 12h4v1h-4zM9 12h1v1h-1zM11 12h3v1h-3zM17 12h1v1h-1zM24 12h4v1h-4zM40 12h3v1h-3zM46 12h5v1h-5zM52 12h3v1h-3zM59 12h2v1h-2zM62 12h1v1h-1zM66 12h1v1h-1zM69 12h2v1h-2zM6 13h3v1h-3zM14 13h2v1h-2zM17 13h1v1h-1zM22 13h2v1h-2zM31 13h1v1h-1zM33 13h3v1h-3zM37 13h3v1h-3zM41 13h2v1h-2zM44 13h2v1h-2zM51 13h3v1h-3zM55 13h3v1h-3zM65 13h1v1h-1zM3 14h2v1h-2zM6 14h1v1h-1zM10 14h1v1h-1zM13 14h1v1h-1zM25 14h3v1h-3zM31 14h4v1h-4zM36 14h1v1h-1zM44 14h3v1h-3zM48 14h3v1h-3zM52 14h3v1h-3zM67 14h3v1h-3zM3 15h2v1h-2zM6 15h1v1h-1zM10 15h1v1h-1zM13 15h1v1h-1zM25 15h3v1h-3zM31 15h4v1h-4zM36 15h1v1h-1zM44 15h3v1h-3zM48 15h3v1h-3zM52 15h3v1h-3zM67 15h3v1h-3zM3 16h2v1h-2zM10 16h1v1h-1zM14 16h2v1h-2zM17 16h4v1h-4zM22 16h3v1h-3zM26 16h2v1h-2zM33 16h2v1h-2zM43 16h3v1h-3zM47 16h1v1h-1zM51 16h1v1h-1zM59 16h3v1h-3zM63 16h2v1h-2zM0 17h2v1h-2zM5 17h1v1h-1zM7 17h3v1h-3zM29 17h2v1h-2zM35 17h1v1h-1zM37 17h2v1h-2zM40 17h6v1h-6zM47 17h1v1h-1zM52 17h2v1h-2zM59 17h2v1h-2zM63 17h3v1h-3zM0 18h2v1h-2zM3 18h2v1h-2zM7 18h4v1h-4zM25 18h1v1h-1zM29 18h2v1h-2zM36 18h1v1h-1zM40 18h3v1h-3zM58 18h1v1h-1zM65 18h1v1h-1zM67 18h2v1h-2zM0 19h2v1h-2zM3 19h2v1h-2zM7 19h4v1h-4zM25 19h1v1h-1zM29 19h2v1h-2zM36 19h1v1h-1zM40 19h2v1h-2zM58 19h1v1h-1zM65 19h1v1h-1zM67 19h2v1h-2zM6 20h1v1h-1zM11 20h2v1h-2zM14 20h2v1h-2zM18 20h2v1h-2zM24 20h1v1h-1zM26 20h2v1h-2zM31 20h1v1h-1zM33 20h2v1h-2zM39 20h1v1h-1zM45 20h5v1h-5zM54 20h1v1h-1zM58 20h1v1h-1zM65 20h2v1h-2zM70 20h1v1h-1zM5 21h1v1h-1zM10 21h1v1h-1zM24 21h2v1h-2zM45 21h1v1h-1zM54 21h1v1h-1zM56 21h2v1h-2zM59 21h2v1h-2zM66 21h1v1h-1zM70 21h1v1h-1zM2 22h4v1h-4zM16 22h2v1h-2zM22 22h4v1h-4zM33 22h2v1h-2zM37 22h2v1h-2zM40 22h1v1h-1zM43 22h1v1h-1zM46 22h4v1h-4zM51 22h1v1h-1zM56 22h2v1h-2zM67 22h3v1h-3zM2 23h4v1h-4zM16 23h2v1h-2zM22 23h4v1h-4zM33 23h2v1h-2zM37 23h2v1h-2zM42 23h2v1h-2zM46 23h4v1h-4zM51 23h1v1h-1zM56 23h2v1h-2zM67 23h3v1h-3zM5 24h2v1h-2zM10 24h1v1h-1zM14 24h2v1h-2zM22 24h2v1h-2zM31 24h1v1h-1zM44 24h2v1h-2zM50 24h4v1h-4zM55 24h3v1h-3zM59 24h2v1h-2zM62 24h3v1h-3zM70 24h1v1h-1zM3 25h3v1h-3zM7 25h2v1h-2zM14 25h3v1h-3zM18 25h2v1h-2zM22 25h3v1h-3zM27 25h1v1h-1zM32 25h3v1h-3zM43 25h1v1h-1zM47 25h1v1h-1zM50 25h1v1h-1zM55 25h1v1h-1zM58 25h1v1h-1zM61 25h1v1h-1zM66 25h1v1h-1zM69 25h1v1h-1zM2 26h1v1h-1zM7 26h2v1h-2zM11 26h3v1h-3zM17 26h3v1h-3zM21 26h1v1h-1zM26 26h4v1h-4zM44 26h1v1h-1zM47 26h1v1h-1zM51 26h3v1h-3zM56 26h3v1h-3zM66 26h4v1h-4zM2 27h1v1h-1zM7 27h2v1h-2zM11 27h3v1h-3zM17 27h3v1h-3zM21 27h1v1h-1zM26 27h3v1h-3zM44 27h2v1h-2zM47 27h1v1h-1zM51 27h3v1h-3zM56 27h3v1h-3zM66 27h4v1h-4zM0 28h2v1h-2zM6 28h4v1h-4zM16 28h1v1h-1zM21 28h1v1h-1zM25 28h4v1h-4zM48 28h3v1h-3zM52 28h2v1h-2zM65 28h1v1h-1zM70 28h1v1h-1zM0 29h2v1h-2zM7 29h2v1h-2zM11 29h2v1h-2zM14 29h2v1h-2zM20 29h1v1h-1zM22 29h4v1h-4zM44 29h1v1h-1zM46 29h1v1h-1zM50 29h1v1h-1zM59 29h2v1h-2zM62 29h1v1h-1zM66 29h1v1h-1zM0 30h2v1h-2zM7 30h2v1h-2zM11 30h2v1h-2zM14 30h2v1h-2zM20 30h1v1h-1zM22 30h4v1h-4zM44 30h1v1h-1zM46 30h1v1h-1zM50 30h1v1h-1zM59 30h2v1h-2zM62 30h1v1h-1zM66 30h1v1h-1zM2 31h1v1h-1zM5 31h2v1h-2zM9 31h1v1h-1zM11 31h2v1h-2zM18 31h2v1h-2zM22 31h4v1h-4zM45 31h5v1h-5zM51 31h4v1h-4zM61 31h1v1h-1zM70 31h1v1h-1zM6 32h1v1h-1zM14 32h2v1h-2zM20 32h1v1h-1zM28 32h1v1h-1zM46 32h1v1h-1zM63 32h4v1h-4zM0 33h5v1h-5zM11 33h2v1h-2zM26 33h1v1h-1zM46 33h1v1h-1zM48 33h2v1h-2zM51 33h1v1h-1zM56 33h4v1h-4zM65 33h2v1h-2zM69 33h2v1h-2zM0 34h5v1h-5zM11 34h2v1h-2zM26 34h1v1h-1zM46 34h1v1h-1zM48 34h2v1h-2zM51 34h1v1h-1zM56 34h3v1h-3zM65 34h2v1h-2zM69 34h2v1h-2zM0 35h2v1h-2zM6 35h1v1h-1zM9 35h1v1h-1zM11 35h3v1h-3zM17 35h1v1h-1zM20 35h1v1h-1zM25 35h1v1h-1zM29 35h1v1h-1zM45 35h1v1h-1zM48 35h2v1h-2zM66 35h1v1h-1zM2 36h1v1h-1zM6 36h3v1h-3zM11 36h2v1h-2zM17 36h3v1h-3zM21 36h3v1h-3zM25 36h1v1h-1zM28 36h4v1h-4zM46 36h1v1h-1zM51 36h1v1h-1zM57 36h1v1h-1zM66 36h1v1h-1zM69 36h1v1h-1zM0 37h3v1h-3zM6 37h1v1h-1zM10 37h3v1h-3zM16 37h1v1h-1zM18 37h2v1h-2zM21 37h1v1h-1zM27 37h4v1h-4zM45 37h1v1h-1zM47 37h1v1h-1zM52 37h2v1h-2zM55 37h1v1h-1zM67 37h4v1h-4zM0 38h3v1h-3zM6 38h1v1h-1zM10 38h3v1h-3zM16 38h1v1h-1zM18 38h2v1h-2zM21 38h1v1h-1zM28 38h3v1h-3zM45 38h1v1h-1zM47 38h1v1h-1zM52 38h2v1h-2zM55 38h1v1h-1zM67 38h4v1h-4zM3 39h2v1h-2zM7 39h2v1h-2zM10 39h1v1h-1zM13 39h1v1h-1zM16 39h1v1h-1zM20 39h1v1h-1zM25 39h1v1h-1zM29 39h2v1h-2zM42 39h4v1h-4zM47 39h5v1h-5zM55 39h1v1h-1zM69 39h2v1h-2zM7 40h2v1h-2zM11 40h2v1h-2zM14 40h2v1h-2zM25 40h4v1h-4zM44 40h2v1h-2zM47 40h3v1h-3zM54 40h2v1h-2zM57 40h1v1h-1zM65 40h1v1h-1zM69 40h1v1h-1zM2 41h1v1h-1zM11 41h5v1h-5zM21 41h8v1h-8zM35 41h1v1h-1zM39 41h2v1h-2zM44 41h2v1h-2zM50 41h1v1h-1zM52 41h2v1h-2zM56 41h3v1h-3zM65 41h2v1h-2zM69 41h1v1h-1zM2 42h1v1h-1zM11 42h5v1h-5zM21 42h9v1h-9zM35 42h1v1h-1zM39 42h2v1h-2zM44 42h2v1h-2zM50 42h1v1h-1zM52 42h2v1h-2zM56 42h3v1h-3zM61 42h2v1h-2zM65 42h2v1h-2zM69 42h1v1h-1zM13 43h1v1h-1zM20 43h1v1h-1zM22 43h2v1h-2zM28 43h1v1h-1zM39 43h1v1h-1zM41 43h3v1h-3zM47 43h1v1h-1zM50 43h1v1h-1zM55 43h3v1h-3zM61 43h1v1h-1zM69 43h1v1h-1zM2 44h1v1h-1zM6 44h1v1h-1zM9 44h4v1h-4zM17 44h1v1h-1zM22 44h3v1h-3zM29 44h2v1h-2zM33 44h3v1h-3zM37 44h2v1h-2zM40 44h1v1h-1zM46 44h1v1h-1zM48 44h3v1h-3zM54 44h1v1h-1zM58 44h1v1h-1zM63 44h2v1h-2zM66 44h4v1h-4zM2 45h1v1h-1zM6 45h1v1h-1zM9 45h4v1h-4zM17 45h1v1h-1zM22 45h3v1h-3zM29 45h2v1h-2zM33 45h3v1h-3zM37 45h2v1h-2zM40 45h1v1h-1zM46 45h1v1h-1zM48 45h3v1h-3zM54 45h1v1h-1zM58 45h1v1h-1zM63 45h2v1h-2zM66 45h4v1h-4zM6 46h1v1h-1zM9 46h1v1h-1zM16 46h1v1h-1zM20 46h2v1h-2zM25 46h1v1h-1zM31 46h2v1h-2zM35 46h1v1h-1zM37 46h3v1h-3zM51 46h3v1h-3zM66 46h4v1h-4zM5 47h1v1h-1zM7 47h2v1h-2zM10 47h1v1h-1zM22 47h2v1h-2zM25 47h3v1h-3zM31 47h2v1h-2zM48 47h3v1h-3zM52 47h1v1h-1zM54 47h1v1h-1zM57 47h1v1h-1zM63 47h2v1h-2zM2 48h8v1h-8zM11 48h3v1h-3zM18 48h3v1h-3zM26 48h3v1h-3zM31 48h1v1h-1zM35 48h1v1h-1zM40 48h6v1h-6zM47 48h4v1h-4zM58 48h1v1h-1zM61 48h1v1h-1zM70 48h1v1h-1zM2 49h8v1h-8zM11 49h3v1h-3zM18 49h3v1h-3zM26 49h3v1h-3zM31 49h1v1h-1zM35 49h1v1h-1zM40 49h6v1h-6zM47 49h4v1h-4zM58 49h1v1h-1zM61 49h1v1h-1zM70 49h1v1h-1zM5 50h1v1h-1zM7 50h2v1h-2zM17 50h1v1h-1zM22 50h2v1h-2zM26 50h2v1h-2zM29 50h3v1h-3zM35 50h2v1h-2zM40 50h1v1h-1zM46 50h4v1h-4zM52 50h2v1h-2zM57 50h2v1h-2zM61 50h1v1h-1zM63 50h2v1h-2zM70 50h1v1h-1zM2 51h4v1h-4zM7 51h2v1h-2zM11 51h2v1h-2zM14 51h2v1h-2zM20 51h1v1h-1zM26 51h2v1h-2zM40 51h1v1h-1zM44 51h2v1h-2zM56 51h3v1h-3zM63 51h2v1h-2zM66 51h1v1h-1zM5 52h1v1h-1zM13 52h1v1h-1zM22 52h2v1h-2zM29 52h2v1h-2zM33 52h2v1h-2zM43 52h1v1h-1zM54 52h2v1h-2zM58 52h3v1h-3zM65 52h1v1h-1zM5 53h1v1h-1zM13 53h1v1h-1zM22 53h2v1h-2zM29 53h2v1h-2zM33 53h2v1h-2zM43 53h1v1h-1zM54 53h2v1h-2zM58 53h3v1h-3zM65 53h1v1h-1zM7 54h4v1h-4zM13 54h4v1h-4zM25 54h3v1h-3zM29 54h4v1h-4zM35 54h1v1h-1zM39 54h4v1h-4zM46 54h1v1h-1zM51 54h1v1h-1zM55 54h1v1h-1zM61 54h2v1h-2zM65 54h1v1h-1zM67 54h4v1h-4zM3 55h2v1h-2zM7 55h2v1h-2zM14 55h3v1h-3zM18 55h2v1h-2zM25 55h1v1h-1zM28 55h3v1h-3zM32 55h1v1h-1zM36 55h1v1h-1zM43 55h3v1h-3zM48 55h2v1h-2zM52 55h2v1h-2zM55 55h1v1h-1zM62 55h3v1h-3zM69 55h2v1h-2zM2 56h1v1h-1zM5 56h2v1h-2zM11 56h5v1h-5zM18 56h2v1h-2zM21 56h1v1h-1zM26 56h2v1h-2zM33 56h3v1h-3zM37 56h2v1h-2zM40 56h1v1h-1zM43 56h1v1h-1zM46 56h1v1h-1zM48 56h3v1h-3zM54 56h2v1h-2zM61 56h1v1h-1zM65 56h2v1h-2zM70 56h1v1h-1zM2 57h1v1h-1zM5 57h2v1h-2zM11 57h5v1h-5zM18 57h2v1h-2zM21 57h1v1h-1zM26 57h2v1h-2zM33 57h3v1h-3zM37 57h2v1h-2zM40 57h1v1h-1zM43 57h1v1h-1zM46 57h1v1h-1zM48 57h3v1h-3zM54 57h2v1h-2zM61 57h1v1h-1zM65 57h2v1h-2zM70 57h1v1h-1zM0 58h2v1h-2zM3 58h2v1h-2zM14 58h2v1h-2zM18 58h3v1h-3zM24 58h1v1h-1zM35 58h1v1h-1zM44 58h3v1h-3zM51 58h1v1h-1zM55 58h3v1h-3zM61 58h2v1h-2zM65 58h1v1h-1zM3 59h3v1h-3zM14 59h2v1h-2zM20 59h1v1h-1zM36 59h1v1h-1zM41 59h2v1h-2zM46 59h1v1h-1zM48 59h6v1h-6zM56 59h2v1h-2zM59 59h4v1h-4zM66 59h1v1h-1zM69 59h2v1h-2zM3 60h3v1h-3zM14 60h2v1h-2zM20 60h1v1h-1zM36 60h1v1h-1zM41 60h2v1h-2zM46 60h1v1h-1zM48 60h6v1h-6zM56 60h2v1h-2zM59 60h4v1h-4zM66 60h1v1h-1zM69 60h2v1h-2zM3 61h2v1h-2zM7 61h6v1h-6zM25 61h1v1h-1zM28 61h1v1h-1zM32 61h1v1h-1zM35 61h1v1h-1zM37 61h2v1h-2zM51 61h1v1h-1zM56 61h2v1h-2zM59 61h2v1h-2zM63 61h2v1h-2zM66 61h3v1h-3zM6 62h1v1h-1zM9 62h1v1h-1zM18 62h4v1h-4zM25 62h1v1h-1zM28 62h4v1h-4zM36 62h1v1h-1zM40 62h1v1h-1zM48 62h3v1h-3zM54 62h1v1h-1zM62 62h1v1h-1zM69 62h1v1h-1zM7 63h2v1h-2zM13 63h3v1h-3zM21 63h1v1h-1zM24 63h1v1h-1zM28 63h3v1h-3zM32 63h1v1h-1zM37 63h2v1h-2zM43 63h1v1h-1zM46 63h2v1h-2zM50 63h2v1h-2zM55 63h4v1h-4zM61 63h1v1h-1zM63 63h2v1h-2zM66 63h1v1h-1zM7 64h2v1h-2zM13 64h3v1h-3zM21 64h1v1h-1zM24 64h1v1h-1zM28 64h3v1h-3zM32 64h1v1h-1zM37 64h2v1h-2zM43 64h1v1h-1zM46 64h2v1h-2zM50 64h2v1h-2zM55 64h4v1h-4zM61 64h1v1h-1zM63 64h2v1h-2zM66 64h1v1h-1zM3 65h2v1h-2zM6 65h1v1h-1zM21 65h5v1h-5zM35 65h1v1h-1zM46 65h1v1h-1zM52 65h2v1h-2zM59 65h3v1h-3zM65 65h1v1h-1zM69 65h1v1h-1zM0 66h2v1h-2zM3 66h2v1h-2zM6 66h3v1h-3zM10 66h1v1h-1zM13 66h3v1h-3zM18 66h3v1h-3zM26 66h2v1h-2zM29 66h2v1h-2zM32 66h1v1h-1zM35 66h2v1h-2zM40 66h3v1h-3zM44 66h2v1h-2zM50 66h1v1h-1zM56 66h2v1h-2zM59 66h2v1h-2zM62 66h1v1h-1zM65 66h1v1h-1zM67 66h2v1h-2zM70 66h1v1h-1zM0 67h3v1h-3zM5 67h2v1h-2zM10 67h1v1h-1zM18 67h2v1h-2zM24 67h1v1h-1zM36 67h5v1h-5zM43 67h4v1h-4zM50 67h2v1h-2zM54 67h1v1h-1zM62 67h1v1h-1zM70 67h1v1h-1zM0 68h3v1h-3zM5 68h2v1h-2zM10 68h1v1h-1zM18 68h2v1h-2zM24 68h1v1h-1zM36 68h5v1h-5zM43 68h4v1h-4zM50 68h2v1h-2zM54 68h1v1h-1zM62 68h1v1h-1zM70 68h1v1h-1zM9 69h1v1h-1zM22 69h2v1h-2zM28 69h1v1h-1zM32 69h1v1h-1zM35 69h1v1h-1zM41 69h2v1h-2zM44 69h3v1h-3zM54 69h1v1h-1zM56 69h2v1h-2zM65 69h1v1h-1zM67 69h2v1h-2zM2 70h1v1h-1zM5 70h2v1h-2zM10 70h3v1h-3zM14 70h2v1h-2zM22 70h2v1h-2zM40 70h3v1h-3zM47 70h1v1h-1zM50 70h2v1h-2zM55 70h3v1h-3zM65 70h2v1h-2zM70 70h1v1h-1z"/>
<path fill="#ced9d9" d="M0 0h2v1h-2zM3 0h2v1h-2zM6 0h1v1h-1zM10 0h1v1h-1zM14 0h2v1h-2zM17 0h3v1h-3zM41 0h3v1h-3zM61 0h1v1h-1zM0 1h2v1h-2zM3 1h2v1h-2zM6 1h1v1h-1zM10 1h1v1h-1zM14 1h2v1h-2zM17 1h4v1h-4zM41 1h3v1h-3zM61 1h1v1h-1zM2 2h1v1h-1zM10 2h1v1h-1zM16 2h2v1h-2zM25 2h1v1h-1zM29 2h2v1h-2zM39 2h1v1h-1zM50 2h1v1h-1zM54 2h2v1h-2zM0 3h2v1h-2zM3 3h2v1h-2zM14 3h2v1h-2zM17 3h1v1h-1zM35 3h1v1h-1zM44 3h4v1h-4zM52 3h2v1h-2zM55 3h1v1h-1zM65 3h1v1h-1zM0 4h2v1h-2zM3 4h1v1h-1zM14 4h2v1h-2zM35 4h1v1h-1zM44 4h4v1h-4zM52 4h2v1h-2zM55 4h1v1h-1zM65 4h1v1h-1zM3 5h1v1h-1zM10 5h1v1h-1zM14 5h3v1h-3zM27 5h1v1h-1zM29 5h2v1h-2zM37 5h2v1h-2zM44 5h3v1h-3zM50 5h1v1h-1zM56 5h2v1h-2zM70 5h1v1h-1zM10 6h1v1h-1zM13 6h1v1h-1zM29 6h2v1h-2zM32 6h1v1h-1zM40 6h1v1h-1zM50 6h2v1h-2zM70 6h1v1h-1zM0 7h2v1h-2zM17 7h1v1h-1zM31 7h1v1h-1zM43 7h1v1h-1zM46 7h4v1h-4zM56 7h2v1h-2zM62 7h4v1h-4zM67 7h2v1h-2zM0 8h2v1h-2zM17 8h1v1h-1zM31 8h1v1h-1zM43 8h1v1h-1zM46 8h4v1h-4zM56 8h2v1h-2zM62 8h4v1h-4zM67 8h2v1h-2zM2 9h1v1h-1zM10 9h3v1h-3zM17 9h1v1h-1zM47 9h1v1h-1zM14 10h2v1h-2zM28 10h1v1h-1zM44 10h2v1h-2zM48 10h3v1h-3zM69 10h2v1h-2zM10 11h1v1h-1zM20 11h1v1h-1zM22 11h2v1h-2zM28 11h1v1h-1zM31 11h1v1h-1zM33 11h2v1h-2zM44 11h2v1h-2zM58 11h1v1h-1zM61 11h1v1h-1zM63 11h2v1h-2zM10 12h1v1h-1zM20 12h1v1h-1zM22 12h2v1h-2zM28 12h1v1h-1zM31 12h1v1h-1zM33 12h2v1h-2zM44 12h2v1h-2zM58 12h1v1h-1zM61 12h1v1h-1zM63 12h2v1h-2zM2 13h1v1h-1zM9 13h1v1h-1zM16 13h1v1h-1zM26 13h2v1h-2zM29 13h2v1h-2zM40 13h1v1h-1zM50 13h1v1h-1zM54 13h1v1h-1zM58 13h1v1h-1zM61 13h1v1h-1zM66 13h1v1h-1zM5 14h1v1h-1zM7 14h2v1h-2zM16 14h1v1h-1zM18 14h2v1h-2zM24 14h1v1h-1zM29 14h2v1h-2zM43 14h1v1h-1zM51 14h1v1h-1zM58 14h1v1h-1zM5 15h1v1h-1zM7 15h2v1h-2zM16 15h1v1h-1zM18 15h2v1h-2zM24 15h1v1h-1zM29 15h2v1h-2zM43 15h1v1h-1zM51 15h1v1h-1zM58 15h1v1h-1zM0 16h2v1h-2zM5 16h1v1h-1zM7 16h2v1h-2zM21 16h1v1h-1zM28 16h1v1h-1zM37 16h2v1h-2zM50 16h1v1h-1zM52 16h2v1h-2zM55 16h3v1h-3zM62 16h1v1h-1zM67 16h2v1h-2zM2 17h1v1h-1zM11 17h2v1h-2zM14 17h2v1h-2zM17 17h1v1h-1zM20 17h1v1h-1zM25 17h3v1h-3zM32 17h1v1h-1zM36 17h1v1h-1zM48 17h4v1h-4zM62 17h1v1h-1zM70 17h1v1h-1zM2 18h1v1h-1zM11 18h2v1h-2zM18 18h3v1h-3zM28 18h1v1h-1zM31 18h1v1h-1zM39 18h1v1h-1zM46 18h1v1h-1zM66 18h1v1h-1zM2 19h1v1h-1zM11 19h2v1h-2zM18 19h3v1h-3zM28 19h1v1h-1zM31 19h1v1h-1zM39 19h1v1h-1zM46 19h1v1h-1zM66 19h1v1h-1zM2 20h1v1h-1zM16 20h2v1h-2zM25 20h1v1h-1zM51 20h1v1h-1zM59 20h2v1h-2zM69 20h1v1h-1zM2 21h1v1h-1zM13 21h3v1h-3zM29 21h3v1h-3zM36 21h1v1h-1zM51 21h1v1h-1zM55 21h1v1h-1zM61 21h1v1h-1zM69 21h1v1h-1zM0 22h2v1h-2zM6 22h1v1h-1zM10 22h1v1h-1zM18 22h4v1h-4zM26 22h3v1h-3zM36 22h1v1h-1zM41 22h2v1h-2zM0 23h2v1h-2zM6 23h1v1h-1zM10 23h1v1h-1zM18 23h4v1h-4zM26 23h3v1h-3zM36 23h1v1h-1zM2 24h3v1h-3zM25 24h6v1h-6zM46 24h2v1h-2zM54 24h1v1h-1zM66 24h1v1h-1zM2 25h1v1h-1zM6 25h1v1h-1zM13 25h1v1h-1zM17 25h1v1h-1zM21 25h1v1h-1zM26 25h1v1h-1zM29 25h2v1h-2zM52 25h2v1h-2zM63 25h2v1h-2zM5 26h2v1h-2zM10 26h1v1h-1zM45 26h2v1h-2zM48 26h3v1h-3zM54 26h1v1h-1zM59 26h4v1h-4zM70 26h1v1h-1zM5 27h2v1h-2zM10 27h1v1h-1zM46 27h1v1h-1zM48 27h3v1h-3zM54 27h1v1h-1zM59 27h4v1h-4zM70 27h1v1h-1zM3 28h2v1h-2zM18 28h2v1h-2zM24 28h1v1h-1zM56 28h3v1h-3zM2 29h1v1h-1zM5 29h2v1h-2zM9 29h1v1h-1zM18 29h2v1h-2zM28 29h1v1h-1zM45 29h1v1h-1zM52 29h2v1h-2zM55 29h3v1h-3zM61 29h1v1h-1zM65 29h1v1h-1zM69 29h1v1h-1zM2 30h1v1h-1zM5 30h2v1h-2zM9 30h1v1h-1zM18 30h2v1h-2zM28 30h1v1h-1zM45 30h1v1h-1zM52 30h2v1h-2zM55 30h3v1h-3zM61 30h1v1h-1zM65 30h1v1h-1zM69 30h1v1h-1zM0 31h2v1h-2zM7 31h2v1h-2zM13 31h1v1h-1zM20 31h1v1h-1zM58 31h1v1h-1zM66 31h1v1h-1zM2 32h3v1h-3zM7 32h6v1h-6zM16 32h1v1h-1zM22 32h2v1h-2zM54 32h2v1h-2zM69 32h1v1h-1zM7 33h2v1h-2zM13 33h1v1h-1zM18 33h2v1h-2zM21 33h1v1h-1zM25 33h1v1h-1zM50 33h1v1h-1zM52 33h2v1h-2zM55 33h1v1h-1zM7 34h2v1h-2zM13 34h1v1h-1zM18 34h2v1h-2zM21 34h1v1h-1zM25 34h1v1h-1zM50 34h1v1h-1zM52 34h2v1h-2zM55 34h1v1h-1zM2 35h1v1h-1zM14 35h2v1h-2zM21 35h1v1h-1zM43 35h1v1h-1zM50 35h1v1h-1zM52 35h4v1h-4zM67 35h2v1h-2zM0 36h2v1h-2zM3 36h2v1h-2zM9 36h1v1h-1zM16 36h1v1h-1zM20 36h1v1h-1zM47 36h1v1h-1zM54 36h1v1h-1zM56 36h1v1h-1zM3 37h2v1h-2zM7 37h2v1h-2zM13 37h1v1h-1zM17 37h1v1h-1zM26 37h1v1h-1zM3 38h2v1h-2zM7 38h2v1h-2zM13 38h1v1h-1zM17 38h1v1h-1zM26 38h2v1h-2zM0 39h2v1h-2zM5 39h1v1h-1zM9 39h1v1h-1zM11 39h2v1h-2zM14 39h2v1h-2zM18 39h2v1h-2zM21 39h1v1h-1zM24 39h1v1h-1zM26 39h2v1h-2zM31 39h1v1h-1zM46 39h1v1h-1zM52 39h2v1h-2zM66 39h1v1h-1zM2 40h1v1h-1zM9 40h1v1h-1zM18 40h4v1h-4zM46 40h1v1h-1zM56 40h1v1h-1zM66 40h3v1h-3zM3 41h2v1h-2zM9 41h1v1h-1zM16 41h1v1h-1zM20 41h1v1h-1zM51 41h1v1h-1zM54 41h1v1h-1zM3 42h2v1h-2zM9 42h1v1h-1zM16 42h1v1h-1zM20 42h1v1h-1zM51 42h1v1h-1zM54 42h1v1h-1zM3 43h2v1h-2zM6 43h1v1h-1zM10 43h3v1h-3zM17 43h3v1h-3zM24 43h1v1h-1zM36 43h1v1h-1zM44 43h2v1h-2zM48 43h2v1h-2zM51 43h1v1h-1zM58 43h1v1h-1zM63 43h2v1h-2zM3 44h2v1h-2zM20 44h1v1h-1zM25 44h3v1h-3zM31 44h1v1h-1zM39 44h1v1h-1zM41 44h2v1h-2zM56 44h2v1h-2zM59 44h2v1h-2zM62 44h1v1h-1zM3 45h2v1h-2zM20 45h1v1h-1zM25 45h3v1h-3zM31 45h1v1h-1zM39 45h1v1h-1zM41 45h2v1h-2zM56 45h2v1h-2zM59 45h2v1h-2zM62 45h1v1h-1zM5 46h1v1h-1zM11 46h5v1h-5zM17 46h3v1h-3zM22 46h2v1h-2zM29 46h2v1h-2zM41 46h3v1h-3zM55 46h4v1h-4zM62 46h4v1h-4zM70 46h1v1h-1zM3 47h2v1h-2zM13 47h1v1h-1zM17 47h1v1h-1zM21 47h1v1h-1zM43 47h1v1h-1zM51 47h1v1h-1zM67 47h2v1h-2zM14 48h3v1h-3zM22 48h2v1h-2zM25 48h1v1h-1zM39 48h1v1h-1zM51 48h1v1h-1zM59 48h2v1h-2zM63 48h2v1h-2zM14 49h3v1h-3zM22 49h2v1h-2zM25 49h1v1h-1zM39 49h1v1h-1zM51 49h1v1h-1zM59 49h2v1h-2zM63 49h2v1h-2zM0 50h3v1h-3zM9 50h1v1h-1zM11 50h6v1h-6zM18 50h2v1h-2zM37 50h2v1h-2zM65 50h2v1h-2zM69 50h1v1h-1zM6 51h1v1h-1zM10 51h1v1h-1zM18 51h2v1h-2zM21 51h1v1h-1zM29 51h7v1h-7zM37 51h3v1h-3zM46 51h2v1h-2zM50 51h1v1h-1zM54 51h2v1h-2zM70 51h1v1h-1zM2 52h1v1h-1zM7 52h3v1h-3zM16 52h1v1h-1zM21 52h1v1h-1zM32 52h1v1h-1zM36 52h7v1h-7zM46 52h1v1h-1zM50 52h4v1h-4zM61 52h4v1h-4zM67 52h2v1h-2zM2 53h1v1h-1zM7 53h3v1h-3zM16 53h1v1h-1zM21 53h1v1h-1zM32 53h1v1h-1zM36 53h7v1h-7zM46 53h1v1h-1zM50 53h4v1h-4zM61 53h4v1h-4zM67 53h2v1h-2zM17 54h1v1h-1zM24 54h1v1h-1zM36 54h3v1h-3zM44 54h2v1h-2zM47 54h4v1h-4zM52 54h3v1h-3zM56 54h2v1h-2zM63 54h2v1h-2zM2 55h1v1h-1zM13 55h1v1h-1zM20 55h1v1h-1zM24 55h1v1h-1zM33 55h3v1h-3zM39 55h1v1h-1zM46 55h1v1h-1zM50 55h2v1h-2zM54 55h1v1h-1zM0 56h2v1h-2zM7 56h2v1h-2zM10 56h1v1h-1zM24 56h2v1h-2zM29 56h4v1h-4zM41 56h2v1h-2zM51 56h3v1h-3zM58 56h1v1h-1zM63 56h2v1h-2zM67 56h2v1h-2zM0 57h2v1h-2zM7 57h2v1h-2zM10 57h1v1h-1zM24 57h2v1h-2zM29 57h4v1h-4zM41 57h2v1h-2zM51 57h3v1h-3zM58 57h1v1h-1zM63 57h2v1h-2zM67 57h2v1h-2zM6 58h3v1h-3zM13 58h1v1h-1zM16 58h2v1h-2zM25 58h3v1h-3zM48 58h2v1h-2zM52 58h2v1h-2zM63 58h2v1h-2zM67 58h3v1h-3zM0 59h3v1h-3zM11 59h2v1h-2zM16 59h2v1h-2zM26 59h2v1h-2zM31 59h1v1h-1zM47 59h1v1h-1zM54 59h1v1h-1zM58 59h1v1h-1zM65 59h1v1h-1zM0 60h3v1h-3zM11 60h2v1h-2zM16 60h2v1h-2zM26 60h2v1h-2zM31 60h1v1h-1zM47 60h1v1h-1zM54 60h1v1h-1zM58 60h1v1h-1zM65 60h1v1h-1zM5 61h2v1h-2zM16 61h1v1h-1zM22 61h3v1h-3zM36 61h1v1h-1zM40 61h1v1h-1zM43 61h1v1h-1zM46 61h2v1h-2zM54 61h2v1h-2zM69 61h1v1h-1zM2 62h3v1h-3zM10 62h1v1h-1zM16 62h2v1h-2zM32 62h1v1h-1zM37 62h2v1h-2zM41 62h6v1h-6zM56 62h2v1h-2zM59 62h2v1h-2zM65 62h1v1h-1zM67 62h2v1h-2zM0 63h2v1h-2zM17 63h1v1h-1zM20 63h1v1h-1zM25 63h1v1h-1zM36 63h1v1h-1zM48 63h2v1h-2zM54 63h1v1h-1zM62 63h1v1h-1zM69 63h1v1h-1zM0 64h2v1h-2zM17 64h1v1h-1zM20 64h1v1h-1zM25 64h1v1h-1zM36 64h1v1h-1zM48 64h2v1h-2zM54 64h1v1h-1zM62 64h1v1h-1zM69 64h1v1h-1zM0 65h3v1h-3zM9 65h2v1h-2zM17 65h1v1h-1zM20 65h1v1h-1zM29 65h2v1h-2zM33 65h2v1h-2zM40 65h1v1h-1zM43 65h1v1h-1zM50 65h2v1h-2zM54 65h1v1h-1zM56 65h2v1h-2zM62 65h1v1h-1zM66 65h1v1h-1zM70 65h1v1h-1zM2 66h1v1h-1zM5 66h1v1h-1zM16 66h2v1h-2zM28 66h1v1h-1zM47 66h1v1h-1zM51 66h1v1h-1zM54 66h1v1h-1zM61 66h1v1h-1zM63 66h2v1h-2zM66 66h1v1h-1zM3 67h2v1h-2zM14 67h4v1h-4zM20 67h2v1h-2zM29 67h2v1h-2zM35 67h1v1h-1zM41 67h2v1h-2zM47 67h3v1h-3zM65 67h1v1h-1zM3 68h2v1h-2zM14 68h4v1h-4zM20 68h2v1h-2zM29 68h2v1h-2zM35 68h1v1h-1zM41 68h2v1h-2zM47 68h3v1h-3zM65 68h1v1h-1zM3 69h3v1h-3zM7 69h2v1h-2zM11 69h2v1h-2zM18 69h2v1h-2zM24 69h1v1h-1zM33 69h2v1h-2zM39 69h1v1h-1zM43 69h1v1h-1zM51 69h1v1h-1zM55 69h1v1h-1zM63 69h2v1h-2zM0 70h2v1h-2zM13 70h1v1h-1zM18 70h2v1h-2zM28 70h1v1h-1zM35 70h1v1h-1zM44 70h2v1h-2zM48 70h2v1h-2zM54 70h1v1h-1zM61 70h1v1h-1zM63 70h2v1h-2z"/>
<path fill="#dbe4e4" d="M20 0h1v1h-1zM40 0h1v1h-1zM54 0h1v1h-1zM66 0h3v1h-3zM40 1h1v1h-1zM54 1h1v1h-1zM66 1h3v1h-3zM0 2h2v1h-2zM7 2h2v1h-2zM32 2h1v1h-1zM44 2h2v1h-2zM66 2h1v1h-1zM6 3h1v1h-1zM9 3h2v1h-2zM58 3h1v1h-1zM6 4h1v1h-1zM9 4h2v1h-2zM58 4h1v1h-1zM31 5h2v1h-2zM41 5h2v1h-2zM65 5h1v1h-1zM11 6h2v1h-2zM33 6h2v1h-2zM55 6h1v1h-1zM39 7h1v1h-1zM39 8h1v1h-1zM48 9h2v1h-2zM52 9h2v1h-2zM41 10h3v1h-3zM51 10h1v1h-1zM51 11h1v1h-1zM51 12h1v1h-1zM46 13h1v1h-1zM59 13h2v1h-2zM22 14h2v1h-2zM37 14h2v1h-2zM41 14h2v1h-2zM56 14h2v1h-2zM63 14h3v1h-3zM22 15h2v1h-2zM37 15h2v1h-2zM41 15h2v1h-2zM56 15h2v1h-2zM63 15h3v1h-3zM6 16h1v1h-1zM29 16h2v1h-2zM35 16h1v1h-1zM70 16h1v1h-1zM10 17h1v1h-1zM55 17h1v1h-1zM37 18h2v1h-2zM48 18h2v1h-2zM51 18h1v1h-1zM54 18h1v1h-1zM62 18h3v1h-3zM37 19h2v1h-2zM48 19h2v1h-2zM51 19h1v1h-1zM54 19h1v1h-1zM62 19h3v1h-3zM9 20h1v1h-1zM29 20h2v1h-2zM35 20h1v1h-1zM55 20h1v1h-1zM61 20h1v1h-1zM7 21h2v1h-2zM22 21h2v1h-2zM47 21h1v1h-1zM9 22h1v1h-1zM11 22h2v1h-2zM58 22h1v1h-1zM9 23h1v1h-1zM11 23h2v1h-2zM58 23h1v1h-1zM16 24h1v1h-1zM24 24h1v1h-1zM58 24h1v1h-1zM20 25h1v1h-1zM65 25h1v1h-1zM70 25h1v1h-1zM9 26h1v1h-1zM14 26h2v1h-2zM20 26h1v1h-1zM9 27h1v1h-1zM14 27h2v1h-2zM20 27h1v1h-1zM14 28h2v1h-2zM20 28h1v1h-1zM3 29h2v1h-2zM10 29h1v1h-1zM13 29h1v1h-1zM17 29h1v1h-1zM26 29h2v1h-2zM3 30h2v1h-2zM10 30h1v1h-1zM13 30h1v1h-1zM17 30h1v1h-1zM26 30h2v1h-2zM69 31h1v1h-1zM0 32h2v1h-2zM5 32h1v1h-1zM17 32h1v1h-1zM56 32h3v1h-3zM61 32h2v1h-2zM67 32h2v1h-2zM70 32h1v1h-1zM20 33h1v1h-1zM44 33h2v1h-2zM67 33h2v1h-2zM20 34h1v1h-1zM44 34h2v1h-2zM67 34h2v1h-2zM56 35h2v1h-2zM24 36h1v1h-1zM50 36h1v1h-1zM17 39h1v1h-1zM67 39h2v1h-2zM5 40h1v1h-1zM50 40h1v1h-1zM52 40h2v1h-2zM17 41h1v1h-1zM41 41h2v1h-2zM47 41h3v1h-3zM17 42h1v1h-1zM41 42h2v1h-2zM47 42h3v1h-3zM5 43h1v1h-1zM7 43h3v1h-3zM25 43h1v1h-1zM51 44h3v1h-3zM51 45h3v1h-3zM28 47h3v1h-3zM65 47h1v1h-1zM17 48h1v1h-1zM17 49h1v1h-1zM3 50h2v1h-2zM20 50h1v1h-1zM51 50h1v1h-1zM22 51h2v1h-2zM61 51h1v1h-1zM65 51h1v1h-1zM10 52h1v1h-1zM14 52h2v1h-2zM24 52h2v1h-2zM31 52h1v1h-1zM47 52h1v1h-1zM66 52h1v1h-1zM10 53h1v1h-1zM14 53h2v1h-2zM24 53h2v1h-2zM31 53h1v1h-1zM47 53h1v1h-1zM66 53h1v1h-1zM21 54h1v1h-1zM66 54h1v1h-1zM40 55h1v1h-1zM65 55h1v1h-1zM3 56h2v1h-2zM62 56h1v1h-1zM3 57h2v1h-2zM62 57h1v1h-1zM22 58h2v1h-2zM36 58h3v1h-3zM40 58h1v1h-1zM70 58h1v1h-1zM6 59h1v1h-1zM18 59h2v1h-2zM22 59h3v1h-3zM35 59h1v1h-1zM39 59h1v1h-1zM6 60h1v1h-1zM18 60h2v1h-2zM22 60h3v1h-3zM35 60h1v1h-1zM39 60h1v1h-1zM13 61h1v1h-1zM29 61h2v1h-2zM61 61h2v1h-2zM7 62h2v1h-2zM11 62h2v1h-2zM24 62h1v1h-1zM33 62h2v1h-2zM55 62h1v1h-1zM63 62h2v1h-2zM6 63h1v1h-1zM16 63h1v1h-1zM22 63h2v1h-2zM31 63h1v1h-1zM35 63h1v1h-1zM6 64h1v1h-1zM16 64h1v1h-1zM22 64h2v1h-2zM31 64h1v1h-1zM35 64h1v1h-1zM5 65h1v1h-1zM16 65h1v1h-1zM26 65h2v1h-2zM48 65h2v1h-2zM67 65h2v1h-2zM52 66h2v1h-2zM69 66h1v1h-1zM7 67h2v1h-2zM55 67h1v1h-1zM7 68h2v1h-2zM55 68h1v1h-1zM25 69h1v1h-1zM29 69h2v1h-2zM50 69h1v1h-1zM59 69h2v1h-2zM9 70h1v1h-1z"/>
</g>
<line x1="466.7" y1="800" x2="498.7" y2="765.3" stroke="#f02020" stroke-width="3"/>
<line x1="583" y1="765.3" x2="616" y2="800" stroke="#f02020" stroke-width="3"/>
<text x="326.6" y="535.8" font-size="34" fill="#000" stroke="#000" stroke-width="0.5" textLength="100.8" lengthAdjust="spacing">DSS&#8722;1</text>
<rect x="290" y="474" width="500" height="500" fill="none" stroke="#000" stroke-width="4"/>
<path d="M290 974v-8M290 474v8M415 974v-8M415 474v8M540 974v-8M540 474v8M665 974v-8M665 474v8M790 974v-8M790 474v8M290 974v-3.5M290 474v3.5M315 974v-3.5M315 474v3.5M340 974v-3.5M340 474v3.5M365 974v-3.5M365 474v3.5M390 974v-3.5M390 474v3.5M415 974v-3.5M415 474v3.5M440 974v-3.5M440 474v3.5M465 974v-3.5M465 474v3.5M490 974v-3.5M490 474v3.5M515 974v-3.5M515 474v3.5M540 974v-3.5M540 474v3.5M565 974v-3.5M565 474v3.5M590 974v-3.5M590 474v3.5M615 974v-3.5M615 474v3.5M640 974v-3.5M640 474v3.5M665 974v-3.5M665 474v3.5M690 974v-3.5M690 474v3.5M715 974v-3.5M715 474v3.5M740 974v-3.5M740 474v3.5M765 974v-3.5M765 474v3.5M790 974v-3.5M790 474v3.5M290 974h8M790 974h-8M290 849h8M790 849h-8M290 724h8M790 724h-8M290 599h8M790 599h-8M290 474h8M790 474h-8M290 974h3.5M790 974h-3.5M290 949h3.5M790 949h-3.5M290 924h3.5M790 924h-3.5M290 899h3.5M790 899h-3.5M290 874h3.5M790 874h-3.5M290 849h3.5M790 849h-3.5M290 824h3.5M790 824h-3.5M290 799h3.5M790 799h-3.5M290 774h3.5M790 774h-3.5M290 749h3.5M790 749h-3.5M290 724h3.5M790 724h-3.5M290 699h3.5M790 699h-3.5M290 674h3.5M790 674h-3.5M290 649h3.5M790 649h-3.5M290 624h3.5M790 624h-3.5M290 599h3.5M790 599h-3.5M290 574h3.5M790 574h-3.5M290 549h3.5M790 549h-3.5M290 524h3.5M790 524h-3.5M290 499h3.5M790 499h-3.5M290 474h3.5M790 474h-3.5" stroke="#000" stroke-width="3.5" fill="none"/>
<text x="290" y="1028.2" font-size="40" fill="#000" stroke="#000" stroke-width="0.5" text-anchor="middle">&#8722;1.0</text>
<text x="415" y="1028.2" font-size="40" fill="#000" stroke="#000" stroke-width="0.5" text-anchor="middle">&#8722;0.5</text>
<text x="540" y="1028.2" font-size="40" fill="#000" stroke="#000" stroke-width="0.5" text-anchor="middle">0.0</text>
<text x="665" y="1028.2" font-size="40" fill="#000" stroke="#000" stroke-width="0.5" text-anchor="middle">0.5</text>
<text x="790" y="1028.2" font-size="40" fill="#000" stroke="#000" stroke-width="0.5" text-anchor="middle">1.0</text>
<text x="275.7" y="499.6" font-size="40" fill="#000" stroke="#000" stroke-width="0.5" text-anchor="end">1.0</text>
<text x="275.7" y="617" font-size="40" fill="#000" stroke="#000" stroke-width="0.5" text-anchor="end">0.5</text>
<text x="275.7" y="741.3" font-size="40" fill="#000" stroke="#000" stroke-width="0.5" text-anchor="end">0.0</text>
<text x="275.7" y="865" font-size="40" fill="#000" stroke="#000" stroke-width="0.5" text-anchor="end">&#8722;0.5</text>
<text x="275.7" y="977" font-size="40" fill="#000" stroke="#000" stroke-width="0.5" text-anchor="end">&#8722;1.0</text>
<text x="471.1" y="1072.7" font-size="40" fill="#000" stroke="#000" stroke-width="0.5" textLength="136.5" lengthAdjust="spacing">arcmin</text>
<text transform="translate(159.8 794.2) rotate(-90)" font-size="40" fill="#000" stroke="#000" stroke-width="0.5" textLength="137.5" lengthAdjust="spacing">arcmin</text>
<svg x="999" y="474" width="2095" height="500" viewBox="999 474 2095 500" overflow="hidden">
<polyline points="1023.8,953.3 1024.8,953.8 1025.8,956 1026.8,957.1 1027.8,957.1 1028.8,957.2 1029.8,958 1030.8,958.6 1031.8,958.7 1032.8,958.8 1033.8,958.6 1034.8,957.9 1035.8,957.3 1036.8,957.1 1037.9,956.3 1038.9,955.3 1039.9,955.8 1040.9,957.2 1041.9,957.3 1042.9,956.1 1043.9,955.9 1044.9,956.2 1045.9,956.3 1046.9,956.2 1047.9,956.5 1048.9,957 1049.9,957.3 1050.9,957.4 1051.9,957.6 1052.9,957.6 1053.9,957.8 1054.9,958.1 1055.9,958.4 1056.9,958.6 1057.9,958 1058.9,957 1059.9,956 1060.9,955.8 1061.9,956.5 1063,957 1064,956.7 1065,956.5 1066,956.6 1067,956.5 1068,956.5 1069,956.8 1070,957.2 1071,957.4 1072,957.4 1073,957.3 1074,957.2 1075,957.3 1076,957.3 1077,957.3 1078,957.4 1079,957.4 1080,957.5 1081,957.5 1082,957 1083,956.8 1084,957.3 1085,957.7 1086,957.9 1087.1,957.8 1088.1,958 1089.1,958.3 1090.1,958.2 1091.1,957.7 1092.1,957.4 1093.1,957.2 1094.1,957.2 1095.1,957.6 1096.1,957.8 1097.1,957.8 1098.1,957.9 1099.1,957.8 1100.1,957.4 1101.1,957.1 1102.1,957.1 1103.1,957.1 1104.1,956.9 1105.1,956.4 1106.1,955.8 1107.1,955 1108.1,953.8 1109.1,952.9 1110.1,953 1111.2,953.9 1112.2,955.1 1113.2,956.1 1114.2,956.6 1115.2,957 1116.2,957.5 1117.2,958.1 1118.2,958.7 1119.2,959.1 1120.2,959.4 1121.2,959.5 1122.2,959.2 1123.2,958.9 1124.2,958.5 1125.2,958.3 1126.2,958.3 1127.2,958.3 1128.2,958.2 1129.2,958 1130.2,957.7 1131.2,957.3 1132.2,957 1133.2,956.8 1134.2,956.7 1135.3,956.6 1136.3,956.6 1137.3,956.4 1138.3,956.1 1139.3,956 1140.3,955.9 1141.3,955.9 1142.3,956.2 1143.3,956.4 1144.3,956.2 1145.3,955.4 1146.3,953.6 1147.3,950.9 1148.3,947.9 1149.3,945.9 1150.3,945.9 1151.3,947.9 1152.3,950.9 1153.3,953.8 1154.3,955.9 1155.3,957.2 1156.3,957.9 1157.3,958.2 1158.3,958.2 1159.4,957.9 1160.4,957.6 1161.4,957.4 1162.4,957.2 1163.4,957.1 1164.4,957.1 1165.4,957.1 1166.4,957.2 1167.4,957.2 1168.4,957.3 1169.4,957.4 1170.4,957.6 1171.4,957.8 1172.4,958.1 1173.4,958.3 1174.4,958.6 1175.4,958.7 1176.4,958.8 1177.4,958.7 1178.4,958.7 1179.4,958.7 1180.4,958.8 1181.4,958.9 1182.4,958.9 1183.5,958.9 1184.5,958.9 1185.5,958.8 1186.5,958.7 1187.5,958.3 1188.5,957.7 1189.5,957 1190.5,956.5 1191.5,956.3 1192.5,956.4 1193.5,956.8 1194.5,957.2 1195.5,957.7 1196.5,957.9 1197.5,957.8 1198.5,957.5 1199.5,957.2 1200.5,957.1 1201.5,957.5 1202.5,958 1203.5,958.5 1204.5,959 1205.5,959.2 1206.5,959.2 1207.5,959.1 1208.6,959 1209.6,958.9 1210.6,958.8 1211.6,958.7 1212.6,958.6 1213.6,958.6 1214.6,958.5 1215.6,958.4 1216.6,958.2 1217.6,957.9 1218.6,957.8 1219.6,957.5 1220.6,957.2 1221.6,956.7 1222.6,956.3 1223.6,955.9 1224.6,955.8 1225.6,956.1 1226.6,956.7 1227.6,957.3 1228.6,957.8 1229.6,958 1230.6,958.1 1231.6,958 1232.7,957.9 1233.7,957.7 1234.7,957.5 1235.7,957.4 1236.7,957.6 1237.7,957.9 1238.7,958.2 1239.7,958.5 1240.7,958.4 1241.7,957.9 1242.7,957.3 1243.7,956.9 1244.7,956.8 1245.7,957 1246.7,957.7 1247.7,958.4 1248.7,959 1249.7,959.1 1250.7,959 1251.7,958.6 1252.7,958.1 1253.7,957.5 1254.7,957 1255.7,956.5 1256.8,956.2 1257.8,956 1258.8,956 1259.8,956.4 1260.8,957 1261.8,957.6 1262.8,958.2 1263.8,958.8 1264.8,959.2 1265.8,959.6 1266.8,959.8 1267.8,959.9 1268.8,959.9 1269.8,959.9 1270.8,959.7 1271.8,959.5 1272.8,959.2 1273.8,958.9 1274.8,958.6 1275.8,958.4 1276.8,958.3 1277.8,958.1 1278.8,957.8 1279.8,957.6 1280.9,957.5 1281.9,957.5 1282.9,957.5 1283.9,957.6 1284.9,957.8 1285.9,957.8 1286.9,957.7 1287.9,957.6 1288.9,957.6 1289.9,957.6 1290.9,957.8 1291.9,958.1 1292.9,958.2 1293.9,956.9 1294.9,952.2 1295.9,939 1296.9,910.7 1297.9,862.9 1298.9,801.9 1299.9,748.1 1300.9,726.5 1301.9,748.4 1302.9,802.4 1303.9,863.3 1305,910.8 1306,939 1307,952.2 1308,957.1 1309,958.6 1310,958.8 1311,958.8 1312,958.7 1313,958.5 1314,958.2 1315,957.9 1316,957.6 1317,957.5 1318,957.4 1319,957.5 1320,957.6 1321,957.8 1322,957.9 1323,957.9 1324,957.8 1325,957.7 1326,957.3 1327,957 1328,956.8 1329.1,956.8 1330.1,956.9 1331.1,957.1 1332.1,957.5 1333.1,957.6 1334.1,957.6 1335.1,957.6 1336.1,957.7 1337.1,957.9 1338.1,958.3 1339.1,958.7 1340.1,959.1 1341.1,959.3 1342.1,959.4 1343.1,959.4 1344.1,959.4 1345.1,959.4 1346.1,959.3 1347.1,958.8 1348.1,958 1349.1,957.1 1350.1,956.6 1351.1,956.6 1352.1,957 1353.2,957.4 1354.2,957.7 1355.2,957.9 1356.2,957.9 1357.2,957.9 1358.2,958.1 1359.2,958.2 1360.2,958.2 1361.2,957.8 1362.2,957.4 1363.2,957 1364.2,956.8 1365.2,956.8 1366.2,956.1 1367.2,953.8 1368.2,948.2 1369.2,938.4 1370.2,926 1371.2,915 1372.2,910.6 1373.2,915 1374.2,925.8 1375.2,938 1376.2,947.3 1377.2,952.4 1378.3,953.9 1379.3,953 1380.3,951.2 1381.3,949.5 1382.3,949.2 1383.3,950.2 1384.3,952.2 1385.3,954.3 1386.3,955.8 1387.3,956.7 1388.3,957.2 1389.3,957.6 1390.3,958 1391.3,958.2 1392.3,958.4 1393.3,958.4 1394.3,958.4 1395.3,958.3 1396.3,958.2 1397.3,958 1398.3,957.5 1399.3,957 1400.3,956.5 1401.3,956.3 1402.4,956.2 1403.4,956.2 1404.4,956.4 1405.4,956.5 1406.4,956.5 1407.4,956.6 1408.4,956.5 1409.4,956.5 1410.4,956.5 1411.4,956.6 1412.4,956.7 1413.4,956.6 1414.4,956.3 1415.4,955.6 1416.4,954.3 1417.4,952.1 1418.4,948.6 1419.4,943.5 1420.4,938.2 1421.4,934.6 1422.4,934.8 1423.4,938.4 1424.4,944 1425.4,949.3 1426.5,953.1 1427.5,955.3 1428.5,956.4 1429.5,956.9 1430.5,957.1 1431.5,957.2 1432.5,957.3 1433.5,957.2 1434.5,956.8 1435.5,956.4 1436.5,956 1437.5,955.8 1438.5,955.9 1439.5,956.2 1440.5,956.3 1441.5,956.3 1442.5,956.1 1443.5,955.9 1444.5,955.6 1445.5,955.4 1446.5,955.4 1447.5,955.7 1448.5,956.2 1449.5,956.7 1450.6,957.4 1451.6,957.8 1452.6,957.9 1453.6,957.7 1454.6,957.2 1455.6,956.7 1456.6,956.1 1457.6,955.6 1458.6,955.4 1459.6,955.4 1460.6,955.6 1461.6,955.9 1462.6,956.3 1463.6,956.5 1464.6,956.5 1465.6,956.4 1466.6,956.3 1467.6,956 1468.6,955.5 1469.6,955 1470.6,954.6 1471.6,954.5 1472.6,954.6 1473.6,955 1474.7,955.3 1475.7,955.4 1476.7,955.4 1477.7,955.2 1478.7,954.8 1479.7,954.5 1480.7,954.4 1481.7,954.5 1482.7,954.5 1483.7,954 1484.7,952.5 1485.7,949.5 1486.7,945.3 1487.7,940.8 1488.7,937.9 1489.7,938 1490.7,941.3 1491.7,946.1 1492.7,950.6 1493.7,953.8 1494.7,955.4 1495.7,955.9 1496.7,955.8 1497.7,955.5 1498.8,955.4 1499.8,955.3 1500.8,955.2 1501.8,955 1502.8,954.6 1503.8,954.1 1504.8,953.5 1505.8,953.1 1506.8,952.8 1507.8,953 1508.8,953.3 1509.8,953.8 1510.8,954.3 1511.8,954.6 1512.8,954.9 1513.8,954.8 1514.8,954.7 1515.8,954.4 1516.8,954.1 1517.8,953.9 1518.8,953.7 1519.8,953.7 1520.8,953.8 1521.8,953.9 1522.8,954.1 1523.9,954.2 1524.9,954.3 1525.9,954.3 1526.9,954.2 1527.9,954.2 1528.9,954.1 1529.9,954 1530.9,953.8 1531.9,953.7 1532.9,953.8 1533.9,954.1 1534.9,954.6 1535.9,955.1 1536.9,955.3 1537.9,955.2 1538.9,954.9 1539.9,954.5 1540.9,954.3 1541.9,954.3 1542.9,954.1 1543.9,953.9 1544.9,953.5 1545.9,953.5 1546.9,953.5 1548,953.9 1549,954.2 1550,954.4 1551,954.5 1552,954.3 1553,954.2 1554,954 1555,953.9 1556,954.1 1557,954.2 1558,954.4 1559,954.6 1560,954.7 1561,954.7 1562,954.6 1563,954.5 1564,954.2 1565,953.9 1566,953.5 1567,953.2 1568,953.1 1569,953.1 1570,953.5 1571,953.9 1572.1,954.3 1573.1,954.5 1574.1,954.6 1575.1,954.5 1576.1,954.5 1577.1,954.5 1578.1,954.3 1579.1,954.2 1580.1,954.1 1581.1,954.1 1582.1,954.2 1583.1,954.3 1584.1,954.4 1585.1,954.2 1586.1,954 1587.1,953.8 1588.1,953.7 1589.1,953.6 1590.1,953.5 1591.1,953.5 1592.1,953.5 1593.1,953.7 1594.1,954 1595.1,954.1 1596.2,953.9 1597.2,953.8 1598.2,953.8 1599.2,954 1600.2,954.5 1601.2,955 1602.2,954.9 1603.2,953.8 1604.2,951.1 1605.2,946.2 1606.2,939.2 1607.2,931.8 1608.2,927 1609.2,927 1610.2,931.9 1611.2,939.1 1612.2,945.4 1613.2,949.5 1614.2,951.2 1615.2,951.3 1616.2,950.4 1617.2,948.4 1618.2,945.7 1619.2,943.2 1620.3,942.2 1621.3,943.2 1622.3,946 1623.3,949.2 1624.3,951.8 1625.3,953.4 1626.3,954.3 1627.3,954.6 1628.3,954.6 1629.3,954.5 1630.3,954.3 1631.3,953.9 1632.3,953.5 1633.3,953.1 1634.3,952.9 1635.3,953 1636.3,953.3 1637.3,953.6 1638.3,953.9 1639.3,954 1640.3,953.8 1641.3,953.6 1642.3,953.4 1643.3,953.2 1644.4,953.1 1645.4,953.1 1646.4,953.2 1647.4,953.3 1648.4,953.6 1649.4,953.7 1650.4,953.8 1651.4,953.8 1652.4,953.7 1653.4,953.4 1654.4,953 1655.4,952.6 1656.4,952.1 1657.4,951.7 1658.4,951.4 1659.4,951.3 1660.4,951.4 1661.4,951.5 1662.4,951.8 1663.4,952.1 1664.4,952.5 1665.4,952.9 1666.4,953.2 1667.4,953.3 1668.5,953.3 1669.5,953.2 1670.5,953.1 1671.5,953 1672.5,953 1673.5,953 1674.5,953.1 1675.5,953.5 1676.5,953.8 1677.5,953.9 1678.5,953.7 1679.5,953.4 1680.5,952.7 1681.5,952.1 1682.5,951.7 1683.5,951.4 1684.5,951.4 1685.5,951.5 1686.5,951.6 1687.5,951.6 1688.5,951.5 1689.5,951.7 1690.5,952 1691.5,952.4 1692.5,952.9 1693.6,953.5 1694.6,953.8 1695.6,953.8 1696.6,953.6 1697.6,953.3 1698.6,953 1699.6,952.8 1700.6,952.7 1701.6,952.8 1702.6,953.1 1703.6,953.4 1704.6,953.7 1705.6,953.8 1706.6,953.7 1707.6,953.6 1708.6,953.5 1709.6,953.4 1710.6,953.4 1711.6,953.4 1712.6,953.3 1713.6,953.3 1714.6,953.4 1715.6,953.6 1716.6,953.8 1717.7,954 1718.7,954 1719.7,953.8 1720.7,953.4 1721.7,952.8 1722.7,952.1 1723.7,951.6 1724.7,951.6 1725.7,951.8 1726.7,952.1 1727.7,952.2 1728.7,952.1 1729.7,951.8 1730.7,951.7 1731.7,951.7 1732.7,952 1733.7,952.2 1734.7,952.5 1735.7,952.6 1736.7,952.6 1737.7,952.4 1738.7,952.2 1739.7,951.9 1740.7,951.7 1741.8,951.6 1742.8,951.6 1743.8,951.8 1744.8,952.1 1745.8,952.3 1746.8,952.4 1747.8,952.3 1748.8,952.2 1749.8,952 1750.8,951.9 1751.8,951.9 1752.8,952 1753.8,952 1754.8,952.2 1755.8,952.4 1756.8,952.4 1757.8,952.4 1758.8,952.1 1759.8,951.9 1760.8,951.7 1761.8,951.6 1762.8,951.7 1763.8,951.8 1764.8,952 1765.9,952.3 1766.9,952.4 1767.9,952.2 1768.9,951.8 1769.9,951.3 1770.9,951 1771.9,950.9 1772.9,951 1773.9,951.3 1774.9,951.5 1775.9,951.8 1776.9,951.9 1777.9,951.4 1778.9,950.1 1779.9,948.1 1780.9,945.9 1781.9,944.5 1782.9,944.6 1783.9,946.1 1784.9,948 1785.9,949.8 1786.9,950.9 1787.9,951.6 1788.9,952.1 1790,952.6 1791,953 1792,953.2 1793,953.1 1794,952.5 1795,951.7 1796,951 1797,950.4 1798,950.3 1799,950.5 1800,950.9 1801,951.3 1802,951.6 1803,951.8 1804,951.8 1805,951.6 1806,951.5 1807,951.4 1808,951.3 1809,951.3 1810,951.5 1811,951.6 1812,951.7 1813,951.7 1814.1,951.5 1815.1,951.4 1816.1,951.4 1817.1,951.7 1818.1,952 1819.1,952.3 1820.1,952.3 1821.1,952.3 1822.1,952.2 1823.1,951.9 1824.1,951.7 1825.1,951.2 1826.1,950.6 1827.1,950 1828.1,949.6 1829.1,949.5 1830.1,949.6 1831.1,949.9 1832.1,950.4 1833.1,950.9 1834.1,951.4 1835.1,951.6 1836.1,951.4 1837.1,950.8 1838.1,950.1 1839.2,949.5 1840.2,948.9 1841.2,948.3 1842.2,947.8 1843.2,947.4 1844.2,947 1845.2,946.8 1846.2,946.6 1847.2,946.4 1848.2,945.8 1849.2,945.2 1850.2,944.4 1851.2,943.7 1852.2,943.1 1853.2,942.6 1854.2,942 1855.2,941.4 1856.2,940.7 1857.2,939.9 1858.2,939.1 1859.2,938.5 1860.2,938.2 1861.2,938.1 1862.2,937.9 1863.3,937.2 1864.3,935.7 1865.3,931.7 1866.3,923.6 1867.3,910 1868.3,892.6 1869.3,877.2 1870.3,871 1871.3,877.3 1872.3,892.9 1873.3,910.5 1874.3,924.6 1875.3,933 1876.3,937.2 1877.3,938.9 1878.3,939.5 1879.3,939.6 1880.3,939.6 1881.3,939.8 1882.3,940 1883.3,940.4 1884.3,941 1885.3,941.6 1886.3,942.2 1887.4,942.6 1888.4,942.9 1889.4,943 1890.4,942.9 1891.4,942.9 1892.4,943 1893.4,943.2 1894.4,943.4 1895.4,943.6 1896.4,943.7 1897.4,944 1898.4,944.7 1899.4,945.6 1900.4,946.7 1901.4,947.5 1902.4,948 1903.4,948.2 1904.4,948.5 1905.4,948.9 1906.4,949.2 1907.4,949.4 1908.4,949.3 1909.4,948.9 1910.4,948.5 1911.5,948.1 1912.5,947.4 1913.5,945.2 1914.5,938.9 1915.5,924.9 1916.5,900.8 1917.5,869.7 1918.5,842.1 1919.5,830.7 1920.5,841.9 1921.5,869.5 1922.5,900.8 1923.5,925.3 1924.5,939.8 1925.5,946.5 1926.5,949.2 1927.5,950.1 1928.5,950.3 1929.5,950.2 1930.5,950 1931.5,949.8 1932.5,949.7 1933.5,949.5 1934.5,949.4 1935.6,948.8 1936.6,946.5 1937.6,939 1938.6,918.5 1939.6,874.5 1940.6,800.2 1941.6,705.3 1942.6,621.6 1943.6,588 1944.6,622.3 1945.6,706.4 1946.6,801.1 1947.6,874.9 1948.6,918.3 1949.6,938.3 1950.6,945.7 1951.6,947.9 1952.6,948.6 1953.6,948.9 1954.6,949 1955.6,949 1956.6,949 1957.6,949 1958.6,949.1 1959.7,949.1 1960.7,948.9 1961.7,948.7 1962.7,948.5 1963.7,948.3 1964.7,948.3 1965.7,948.3 1966.7,948.5 1967.7,948.7 1968.7,949.1 1969.7,949.6 1970.7,950.1 1971.7,950.5 1972.7,950.4 1973.7,950.1 1974.7,949.7 1975.7,949.2 1976.7,948.8 1977.7,948.5 1978.7,948.4 1979.7,948.3 1980.7,948.2 1981.7,948.1 1982.7,948 1983.8,947.9 1984.8,947.8 1985.8,947.8 1986.8,948 1987.8,948.2 1988.8,948.6 1989.8,948.9 1990.8,949.2 1991.8,949.4 1992.8,949.5 1993.8,949.9 1994.8,950.4 1995.8,950.9 1996.8,951.1 1997.8,950.8 1998.8,950.4 1999.8,949.8 2000.8,949.5 2001.8,949.4 2002.8,949.4 2003.8,949.3 2004.8,949 2005.8,948.7 2006.8,948.5 2007.8,948.3 2008.9,948.4 2009.9,948.5 2010.9,948.5 2011.9,948.7 2012.9,949 2013.9,949.2 2014.9,949.3 2015.9,949.3 2016.9,949.2 2017.9,949 2018.9,948.8 2019.9,948.7 2020.9,948.6 2021.9,948.7 2022.9,948.9 2023.9,949.3 2024.9,949.7 2025.9,950 2026.9,950.3 2027.9,950.6 2028.9,950.8 2029.9,950.8 2030.9,950.6 2031.9,950.2 2033,950 2034,950 2035,950.2 2036,950.2 2037,949.7 2038,948.7 2039,947.5 2040,946.6 2041,946.4 2042,947 2043,948 2044,948.9 2045,949.5 2046,949.7 2047,949.9 2048,950.3 2049,950.9 2050,951.3 2051,951.4 2052,951.2 2053,950.7 2054,950 2055,949.6 2056,949.4 2057.1,949.5 2058.1,949.8 2059.1,950.2 2060.1,950.5 2061.1,950.6 2062.1,950.7 2063.1,951 2064.1,951.1 2065.1,951.4 2066.1,951.5 2067.1,951.3 2068.1,951 2069.1,950.7 2070.1,950.8 2071.1,951.1 2072.1,951.5 2073.1,951.8 2074.1,951.7 2075.1,951.3 2076.1,950.9 2077.1,950.5 2078.1,950.3 2079.1,950.2 2080.1,950.1 2081.2,950 2082.2,949.8 2083.2,949.6 2084.2,949.4 2085.2,949.4 2086.2,949.7 2087.2,950.2 2088.2,951 2089.2,951.8 2090.2,952.4 2091.2,952.7 2092.2,952.7 2093.2,952.5 2094.2,952.3 2095.2,951.9 2096.2,951.5 2097.2,950.8 2098.2,950.2 2099.2,949.7 2100.2,949.6 2101.2,949.6 2102.2,949.9 2103.2,950 2104.2,949.9 2105.3,949.8 2106.3,949.7 2107.3,949.9 2108.3,950.2 2109.3,950.7 2110.3,951.2 2111.3,951.5 2112.3,951.7 2113.3,951.6 2114.3,951.3 2115.3,950.8 2116.3,950.3 2117.3,949.8 2118.3,949.5 2119.3,949.4 2120.3,949.5 2121.3,949.7 2122.3,950 2123.3,950.1 2124.3,950.3 2125.3,950.5 2126.3,950.8 2127.3,951.3 2128.3,951.7 2129.4,951.9 2130.4,951.7 2131.4,951.3 2132.4,950.9 2133.4,950.4 2134.4,950.2 2135.4,950.4 2136.4,950.8 2137.4,951.2 2138.4,951.6 2139.4,952 2140.4,952.3 2141.4,952.5 2142.4,952.4 2143.4,952.2 2144.4,952 2145.4,952 2146.4,952.1 2147.4,952.1 2148.4,952 2149.4,951.7 2150.4,951.3 2151.4,950.7 2152.4,950.3 2153.4,950.1 2154.5,950.2 2155.5,950.5 2156.5,951 2157.5,951.3 2158.5,951.3 2159.5,950.9 2160.5,950.2 2161.5,949.3 2162.5,948.6 2163.5,948.3 2164.5,948.6 2165.5,949.3 2166.5,950.3 2167.5,951.2 2168.5,951.7 2169.5,951.8 2170.5,951.6 2171.5,951.4 2172.5,951.1 2173.5,951.1 2174.5,951.4 2175.5,951.5 2176.5,951.7 2177.5,952 2178.6,952.1 2179.6,952.1 2180.6,951.9 2181.6,951.9 2182.6,951.9 2183.6,951.9 2184.6,951.9 2185.6,951.7 2186.6,951.2 2187.6,950.8 2188.6,950.6 2189.6,950.7 2190.6,950.8 2191.6,950.9 2192.6,950.9 2193.6,950.6 2194.6,950.2 2195.6,949.9 2196.6,949.8 2197.6,949.8 2198.6,950 2199.6,950.3 2200.6,950.5 2201.6,950.9 2202.7,951.1 2203.7,951.3 2204.7,951.6 2205.7,951.8 2206.7,951.9 2207.7,951.8 2208.7,951.5 2209.7,951.1 2210.7,950.7 2211.7,950.5 2212.7,950.7 2213.7,951.1 2214.7,951.6 2215.7,952 2216.7,952.2 2217.7,952.1 2218.7,951.9 2219.7,951.5 2220.7,951.4 2221.7,951.5 2222.7,951.6 2223.7,951.6 2224.7,951.6 2225.7,951.4 2226.8,951.3 2227.8,951.1 2228.8,951.1 2229.8,951.1 2230.8,951.3 2231.8,951.4 2232.8,951.7 2233.8,952 2234.8,952.3 2235.8,952.3 2236.8,952.2 2237.8,951.8 2238.8,951.4 2239.8,951 2240.8,950.8 2241.8,950.7 2242.8,951 2243.8,951.2 2244.8,951.7 2245.8,952 2246.8,952.1 2247.8,952 2248.8,951.7 2249.8,951.2 2250.9,950.8 2251.9,950.5 2252.9,950.5 2253.9,950.5 2254.9,950.5 2255.9,950.5 2256.9,950.4 2257.9,950.4 2258.9,950.6 2259.9,950.7 2260.9,950.9 2261.9,951 2262.9,950.9 2263.9,950.7 2264.9,950.3 2265.9,950.1 2266.9,949.9 2267.9,950 2268.9,950.2 2269.9,950.5 2270.9,950.6 2271.9,950.5 2272.9,950.5 2273.9,950.5 2275,950.6 2276,950.7 2277,950.9 2278,951.2 2279,951.4 2280,951.6 2281,951.8 2282,951.9 2283,951.8 2284,951.5 2285,951.3 2286,951.2 2287,951.2 2288,951.5 2289,951.9 2290,952.4 2291,952.8 2292,953.1 2293,953.1 2294,952.8 2295,952.3 2296,951.8 2297,951.5 2298,951.4 2299.1,951.7 2300.1,951.9 2301.1,951.9 2302.1,951.8 2303.1,951.8 2304.1,951.8 2305.1,951.8 2306.1,951.8 2307.1,951.7 2308.1,951.3 2309.1,950.9 2310.1,950.7 2311.1,950.7 2312.1,951 2313.1,951.5 2314.1,952.2 2315.1,952.6 2316.1,952.5 2317.1,952.1 2318.1,951.5 2319.1,950.9 2320.1,950.6 2321.1,950.5 2322.1,950.5 2323.1,950.5 2324.2,950.5 2325.2,950.8 2326.2,950.9 2327.2,951 2328.2,950.8 2329.2,950.7 2330.2,950.6 2331.2,950.5 2332.2,950.5 2333.2,950.5 2334.2,950.3 2335.2,950.2 2336.2,950.3 2337.2,950.7 2338.2,951.2 2339.2,951.7 2340.2,952.1 2341.2,952.2 2342.2,952.1 2343.2,951.9 2344.2,951.6 2345.2,951.1 2346.2,950.5 2347.2,949.9 2348.3,949.6 2349.3,949.6 2350.3,949.9 2351.3,950.2 2352.3,950.4 2353.3,950.3 2354.3,950.1 2355.3,949.8 2356.3,949.7 2357.3,949.9 2358.3,950.4 2359.3,951.1 2360.3,951.6 2361.3,951.9 2362.3,952 2363.3,951.9 2364.3,951.7 2365.3,951.5 2366.3,951.3 2367.3,951.3 2368.3,951.4 2369.3,951.5 2370.3,951.4 2371.3,951.1 2372.4,950.8 2373.4,950.4 2374.4,950 2375.4,949.3 2376.4,948.2 2377.4,946.7 2378.4,945.2 2379.4,944.1 2380.4,944.1 2381.4,945.2 2382.4,946.8 2383.4,948.5 2384.4,949.8 2385.4,950.5 2386.4,950.8 2387.4,950.9 2388.4,950.9 2389.4,950.9 2390.4,950.8 2391.4,950.8 2392.4,950.7 2393.4,950.7 2394.4,950.6 2395.4,950.6 2396.5,950.8 2397.5,951.1 2398.5,951.4 2399.5,951.8 2400.5,952 2401.5,952 2402.5,951.9 2403.5,951.7 2404.5,951.4 2405.5,951.1 2406.5,951 2407.5,950.9 2408.5,950.9 2409.5,951 2410.5,951.1 2411.5,951.1 2412.5,951.1 2413.5,951.2 2414.5,951.3 2415.5,951.6 2416.5,951.8 2417.5,952 2418.5,952.1 2419.5,952 2420.6,951.9 2421.6,951.8 2422.6,951.8 2423.6,951.7 2424.6,951.6 2425.6,951.7 2426.6,951.8 2427.6,952.1 2428.6,952.2 2429.6,952.3 2430.6,952.3 2431.6,952.1 2432.6,952.1 2433.6,952.1 2434.6,952.1 2435.6,952.2 2436.6,952.3 2437.6,952.7 2438.6,953 2439.6,953.2 2440.6,953.1 2441.6,952.6 2442.6,952 2443.6,951.4 2444.7,951.1 2445.7,951.1 2446.7,951.2 2447.7,951.5 2448.7,951.8 2449.7,952.1 2450.7,952.5 2451.7,952.7 2452.7,952.7 2453.7,952.5 2454.7,952.2 2455.7,952.1 2456.7,952.2 2457.7,952.5 2458.7,952.9 2459.7,953.2 2460.7,953.3 2461.7,953.1 2462.7,952.9 2463.7,952.6 2464.7,952.5 2465.7,952.5 2466.7,952.4 2467.7,952.1 2468.7,951.8 2469.8,951.5 2470.8,951.3 2471.8,951.2 2472.8,951.4 2473.8,951.6 2474.8,951.7 2475.8,951.6 2476.8,951.4 2477.8,951.1 2478.8,950.9 2479.8,950.9 2480.8,951 2481.8,951.3 2482.8,951.6 2483.8,951.8 2484.8,952 2485.8,952.3 2486.8,952.5 2487.8,952.7 2488.8,952.7 2489.8,952.5 2490.8,952.3 2491.8,952.1 2492.8,952.1 2493.9,952.3 2494.9,952.4 2495.9,952.6 2496.9,952.9 2497.9,953.3 2498.9,953.7 2499.9,953.8 2500.9,953.7 2501.9,953.3 2502.9,953 2503.9,952.8 2504.9,952.8 2505.9,953 2506.9,953.1 2507.9,953.1 2508.9,953 2509.9,952.8 2510.9,952.5 2511.9,952.3 2512.9,952.1 2513.9,952 2514.9,952 2515.9,952 2516.9,951.9 2518,951.9 2519,951.8 2520,951.9 2521,952 2522,951.9 2523,951.7 2524,951.3 2525,950.9 2526,951 2527,951.2 2528,951.8 2529,952.3 2530,952.7 2531,953 2532,953.1 2533,953.2 2534,953.2 2535,953.1 2536,953.1 2537,952.9 2538,952.8 2539,952.7 2540,952.7 2541,952.8 2542.1,953 2543.1,953.2 2544.1,953.2 2545.1,952.9 2546.1,952.5 2547.1,952.1 2548.1,951.8 2549.1,951.8 2550.1,951.9 2551.1,951.9 2552.1,951.9 2553.1,951.9 2554.1,952 2555.1,952.2 2556.1,952.5 2557.1,952.7 2558.1,952.8 2559.1,952.7 2560.1,952.5 2561.1,952.4 2562.1,952.4 2563.1,952.6 2564.1,952.9 2565.1,953.1 2566.2,953.2 2567.2,953 2568.2,952.7 2569.2,952.4 2570.2,952.3 2571.2,952.3 2572.2,952.4 2573.2,952.5 2574.2,952.4 2575.2,952.2 2576.2,951.9 2577.2,951.8 2578.2,951.8 2579.2,952.1 2580.2,952.6 2581.2,953 2582.2,953 2583.2,952.7 2584.2,951.9 2585.2,950.9 2586.2,949.7 2587.2,948 2588.2,944.8 2589.2,939.6 2590.3,932.5 2591.3,925.1 2592.3,920.1 2593.3,919.8 2594.3,924.4 2595.3,931.8 2596.3,939.6 2597.3,945.7 2598.3,949.3 2599.3,950.9 2600.3,951.3 2601.3,951.4 2602.3,951.5 2603.3,951.8 2604.3,952.3 2605.3,952.7 2606.3,953 2607.3,953 2608.3,953 2609.3,952.9 2610.3,952.7 2611.3,952.4 2612.3,952 2613.3,951.4 2614.4,951.2 2615.4,951.4 2616.4,951.8 2617.4,952.4 2618.4,952.5 2619.4,951.8 2620.4,950.2 2621.4,947.7 2622.4,944.9 2623.4,942.7 2624.4,941.8 2625.4,942.5 2626.4,944.4 2627.4,946.8 2628.4,948.9 2629.4,950.3 2630.4,951.2 2631.4,951.6 2632.4,951.8 2633.4,951.8 2634.4,951.9 2635.4,952.2 2636.4,952.4 2637.4,952.4 2638.4,952.1 2639.5,951.7 2640.5,951.4 2641.5,951.2 2642.5,951.5 2643.5,951.8 2644.5,952.1 2645.5,952.2 2646.5,952.2 2647.5,952.2 2648.5,952.2 2649.5,952.2 2650.5,952.1 2651.5,951.9 2652.5,951.8 2653.5,951.5 2654.5,951.3 2655.5,951.2 2656.5,951.2 2657.5,951.3 2658.5,951.3 2659.5,951.3 2660.5,951.2 2661.5,950.9 2662.5,950.5 2663.6,950 2664.6,949.7 2665.6,949.4 2666.6,949.4 2667.6,949.3 2668.6,949.3 2669.6,949.3 2670.6,949.4 2671.6,949.5 2672.6,949.7 2673.6,949.6 2674.6,949.4 2675.6,949.2 2676.6,948.9 2677.6,948.9 2678.6,948.9 2679.6,948.9 2680.6,948.6 2681.6,948.4 2682.6,948.1 2683.6,947.9 2684.6,947.7 2685.6,947.6 2686.6,947.4 2687.7,947.1 2688.7,946.8 2689.7,946.4 2690.7,946.1 2691.7,944.9 2692.7,943.7 2693.7,942.6 2694.7,941.6 2695.7,940.5 2696.7,939.3 2697.7,938.2 2698.7,937 2699.7,935.7 2700.7,934.6 2701.7,933.6 2702.7,932.5 2703.7,931.5 2704.7,930.7 2705.7,929.2 2706.7,927.2 2707.7,925 2708.7,922.5 2709.7,919.9 2710.7,915.1 2711.8,909.9 2712.8,904.9 2713.8,899.6 2714.8,891.3 2715.8,883 2716.8,875.8 2717.8,872.2 2718.8,868.4 2719.8,857.6 2720.8,834.8 2721.8,799.9 2722.8,766.4 2723.8,740.4 2724.8,734.9 2725.8,752.4 2726.8,795.2 2727.8,831.9 2728.8,866.6 2729.8,870.5 2730.8,869.1 2731.8,855.8 2732.8,842.7 2733.8,836.9 2734.8,834.2 2735.9,845.2 2736.9,859.3 2737.9,879.2 2738.9,898 2739.9,907 2740.9,915.9 2741.9,924.6 2742.9,929.1 2743.9,931.2 2744.9,933.3 2745.9,935.2 2746.9,936.7 2747.9,938.1 2748.9,939.3 2749.9,939.8 2750.9,940.1 2751.9,940.7 2752.9,941.5 2753.9,942.4 2754.9,943.3 2755.9,943.9 2756.9,944.5 2757.9,945.1 2758.9,945.5 2760,946 2761,946.7 2762,947.5 2763,948.1 2764,948.6 2765,948.9 2766,949.1 2767,949.2 2768,949.4 2769,949.6 2770,949.9 2771,950.3 2772,950.6 2773,950.6 2774,950.4 2775,950.2 2776,950 2777,950 2778,950.4 2779,951 2780,951.6 2781,952 2782,952.1 2783,951.9 2784,951.5 2785.1,951.2 2786.1,951.1 2787.1,951.1 2788.1,951.3 2789.1,951.4 2790.1,951.4 2791.1,951.3 2792.1,951.1 2793.1,951 2794.1,951 2795.1,950.7 2796.1,948.9 2797.1,944.7 2798.1,937.5 2799.1,927.9 2800.1,918.4 2801.1,912.2 2802.1,911.4 2803.1,915.6 2804.1,921.7 2805.1,925.9 2806.1,925.7 2807.1,922.1 2808.1,918 2809.2,916.6 2810.2,919.9 2811.2,927 2812.2,935.4 2813.2,942.8 2814.2,947.9 2815.2,950.6 2816.2,951.6 2817.2,951.6 2818.2,951.4 2819.2,951.1 2820.2,951 2821.2,951.2 2822.2,951.3 2823.2,951.4 2824.2,951.3 2825.2,951 2826.2,950.7 2827.2,950.4 2828.2,950.2 2829.2,950.2 2830.2,950.3 2831.2,950.6 2832.2,950.9 2833.3,951.3 2834.3,951.5 2835.3,951.4 2836.3,951.2 2837.3,950.9 2838.3,950.8 2839.3,951.1 2840.3,951.6 2841.3,951.9 2842.3,952.1 2843.3,951.9 2844.3,951.5 2845.3,951.2 2846.3,951.2 2847.3,951.4 2848.3,951.6 2849.3,951.8 2850.3,952.1 2851.3,952.2 2852.3,952.2 2853.3,952.1 2854.3,952 2855.3,951.9 2856.3,951.9 2857.4,952 2858.4,952.1 2859.4,952.2 2860.4,952.2 2861.4,952.3 2862.4,952.5 2863.4,952.9 2864.4,953.1 2865.4,953.2 2866.4,952.8 2867.4,952.2 2868.4,951.6 2869.4,951.1 2870.4,951 2871.4,951.3 2872.4,951.9 2873.4,952.4 2874.4,952.7 2875.4,952.8 2876.4,952.9 2877.4,953 2878.4,953.3 2879.4,953.6 2880.4,953.8 2881.5,953.9 2882.5,953.8 2883.5,953.7 2884.5,953.3 2885.5,953 2886.5,952.5 2887.5,952.1 2888.5,951.8 2889.5,951.8 2890.5,951.8 2891.5,951.8 2892.5,952.1 2893.5,952.4 2894.5,952.8 2895.5,953.3 2896.5,953.4 2897.5,953.2 2898.5,952.6 2899.5,952.1 2900.5,951.9 2901.5,952 2902.5,952.4 2903.5,952.9 2904.5,953.2 2905.6,953.3 2906.6,953.2 2907.6,952.9 2908.6,952.7 2909.6,952.7 2910.6,952.8 2911.6,952.9 2912.6,953.1 2913.6,953.1 2914.6,953 2915.6,952.7 2916.6,952.4 2917.6,952.2 2918.6,952.3 2919.6,952.6 2920.6,953.1 2921.6,953.7 2922.6,953.9 2923.6,953.9 2924.6,953.7 2925.6,953.4 2926.6,953.2 2927.6,953 2928.6,953 2929.6,953 2930.7,953 2931.7,953.1 2932.7,953.2 2933.7,953.2 2934.7,953.2 2935.7,952.9 2936.7,952.6 2937.7,952.1 2938.7,951.7 2939.7,951.7 2940.7,951.9 2941.7,952.3 2942.7,952.4 2943.7,952.5 2944.7,952.4 2945.7,952.3 2946.7,952.3 2947.7,952.5 2948.7,952.7 2949.7,952.8 2950.7,952.8 2951.7,952.8 2952.7,952.8 2953.7,953.1 2954.8,953.4 2955.8,953.8 2956.8,953.9 2957.8,953.8 2958.8,953.5 2959.8,952.9 2960.8,952.5 2961.8,952.2 2962.8,952.4 2963.8,952.8 2964.8,953.3 2965.8,953.8 2966.8,953.9 2967.8,953.8 2968.8,953.6 2969.8,953.3 2970.8,952.9 2971.8,952.6 2972.8,952.1 2973.8,951.7 2974.8,951.3 2975.8,951.1 2976.8,951 2977.8,951.1 2978.9,951.4 2979.9,951.8 2980.9,952.2 2981.9,952.6 2982.9,952.8 2983.9,953 2984.9,953.1 2985.9,953.2 2986.9,953.2 2987.9,953.2 2988.9,953 2989.9,952.6 2990.9,952 2991.9,951.5 2992.9,951.1 2993.9,950.9 2994.9,951.1 2995.9,951.6 2996.9,952.2 2997.9,952.6 2998.9,952.8 2999.9,952.8 3000.9,952.7 3001.9,952.7 3003,952.8 3004,953 3005,952.9 3006,952.7 3007,952.4 3008,951.6 3009,950.5 3010,949 3011,947.5 3012,946.5 3013,946.4 3014,947.4 3015,949.1 3016,950.8 3017,952.1 3018,952.7 3019,953 3020,953 3021,953.2 3022,953.3 3023,953.4 3024,953.2 3025,952.9 3026,952.7 3027.1,952.6 3028.1,952.7 3029.1,952.8 3030.1,952.9 3031.1,953.2 3032.1,953.7 3033.1,954.1 3034.1,954.5 3035.1,954.8 3036.1,954.6 3037.1,954.3 3038.1,953.7 3039.1,953.3 3040.1,953 3041.1,953 3042.1,953 3043.1,952.9 3044.1,952.8 3045.1,952.8 3046.1,952.9 3047.1,953.2 3048.1,953.7 3049.1,954 3050.1,953.9 3051.2,953.4 3052.2,953 3053.2,952.7 3054.2,952.7 3055.2,953.1 3056.2,953.4 3057.2,953.5 3058.2,953.5 3059.2,953.4 3060.2,953.4 3061.2,953.6 3062.2,953.8 3063.2,953.9 3064.2,953.6 3065.2,953.4 3066.2,953.1 3067.2,953 3068.2,953.3 3069.2,953.7 3070.2,954" fill="none" stroke="#000" stroke-width="5.5" stroke-linejoin="round"/>
<polyline points="1023.8,956.3 1024.8,956.4 1025.8,956.5 1026.8,956.6 1027.8,956.8 1028.8,956.9 1029.8,957 1030.8,957.1 1031.8,957.2 1032.8,957.3 1033.8,957.4 1034.8,957.4 1035.8,957.4 1036.8,957.4 1037.9,957.4 1038.9,957.3 1039.9,957.3 1040.9,957.2 1041.9,957.1 1042.9,957.1 1043.9,957 1044.9,956.9 1045.9,956.8 1046.9,956.7 1047.9,956.7 1048.9,956.6 1049.9,956.6 1050.9,956.6 1051.9,956.6 1052.9,956.5 1053.9,956.6 1054.9,956.6 1055.9,956.7 1056.9,956.7 1057.9,956.7 1058.9,956.8 1059.9,956.8 1060.9,956.9 1061.9,957 1063,957 1064,957.1 1065,957.1 1066,957.1 1067,957.1 1068,957.1 1069,957.1 1070,957.1 1071,957.1 1072,957.1 1073,957.1 1074,957.1 1075,957.1 1076,957.2 1077,957.2 1078,957.3 1079,957.3 1080,957.3 1081,957.4 1082,957.5 1083,957.6 1084,957.7 1085,957.7 1086,957.7 1087.1,957.7 1088.1,957.7 1089.1,957.7 1090.1,957.7 1091.1,957.7 1092.1,957.7 1093.1,957.8 1094.1,957.8 1095.1,957.7 1096.1,957.7 1097.1,957.6 1098.1,957.6 1099.1,957.6 1100.1,957.6 1101.1,957.6 1102.1,957.6 1103.1,957.5 1104.1,957.4 1105.1,957.2 1106.1,956.5 1107.1,955.5 1108.1,954.2 1109.1,953.3 1110.1,953.3 1111.2,954.2 1112.2,955.5 1113.2,956.6 1114.2,957.2 1115.2,957.5 1116.2,957.7 1117.2,957.8 1118.2,957.9 1119.2,958 1120.2,958.1 1121.2,958.2 1122.2,958.4 1123.2,958.5 1124.2,958.6 1125.2,958.8 1126.2,958.9 1127.2,959 1128.2,959.1 1129.2,959.1 1130.2,959.1 1131.2,959.1 1132.2,959 1133.2,959 1134.2,958.9 1135.3,958.8 1136.3,958.7 1137.3,958.6 1138.3,958.5 1139.3,958.4 1140.3,958.3 1141.3,958.1 1142.3,958 1143.3,957.8 1144.3,957.2 1145.3,956.1 1146.3,954.1 1147.3,951.1 1148.3,947.9 1149.3,945.7 1150.3,945.5 1151.3,947.6 1152.3,950.7 1153.3,953.6 1154.3,955.6 1155.3,956.7 1156.3,957.1 1157.3,957.3 1158.3,957.4 1159.4,957.5 1160.4,957.5 1161.4,957.6 1162.4,957.7 1163.4,957.7 1164.4,957.7 1165.4,957.8 1166.4,957.8 1167.4,957.8 1168.4,957.8 1169.4,957.9 1170.4,957.8 1171.4,957.8 1172.4,957.9 1173.4,957.8 1174.4,957.9 1175.4,957.9 1176.4,957.9 1177.4,957.9 1178.4,957.9 1179.4,957.9 1180.4,957.9 1181.4,957.8 1182.4,957.9 1183.5,957.9 1184.5,957.9 1185.5,957.9 1186.5,957.9 1187.5,957.9 1188.5,957.9 1189.5,957.9 1190.5,957.9 1191.5,957.9 1192.5,957.9 1193.5,957.8 1194.5,957.8 1195.5,957.7 1196.5,957.6 1197.5,957.5 1198.5,957.5 1199.5,957.4 1200.5,957.4 1201.5,957.4 1202.5,957.4 1203.5,957.4 1204.5,957.4 1205.5,957.5 1206.5,957.6 1207.5,957.6 1208.6,957.7 1209.6,957.8 1210.6,957.9 1211.6,958 1212.6,958.1 1213.6,958.1 1214.6,958.2 1215.6,958.2 1216.6,958.2 1217.6,958.2 1218.6,958.2 1219.6,958.1 1220.6,958.1 1221.6,958.1 1222.6,958 1223.6,958 1224.6,957.9 1225.6,957.9 1226.6,957.9 1227.6,958 1228.6,958 1229.6,958.1 1230.6,958.1 1231.6,958.1 1232.7,958.2 1233.7,958.2 1234.7,958.2 1235.7,958.3 1236.7,958.3 1237.7,958.3 1238.7,958.3 1239.7,958.3 1240.7,958.4 1241.7,958.3 1242.7,958.3 1243.7,958.2 1244.7,958.2 1245.7,958.2 1246.7,958.2 1247.7,958.2 1248.7,958.2 1249.7,958.1 1250.7,958.1 1251.7,958 1252.7,957.9 1253.7,957.8 1254.7,957.8 1255.7,957.7 1256.8,957.6 1257.8,957.5 1258.8,957.5 1259.8,957.4 1260.8,957.4 1261.8,957.3 1262.8,957.3 1263.8,957.3 1264.8,957.4 1265.8,957.4 1266.8,957.4 1267.8,957.5 1268.8,957.6 1269.8,957.6 1270.8,957.6 1271.8,957.6 1272.8,957.6 1273.8,957.7 1274.8,957.7 1275.8,957.7 1276.8,957.7 1277.8,957.7 1278.8,957.7 1279.8,957.7 1280.9,957.8 1281.9,957.8 1282.9,957.9 1283.9,957.9 1284.9,957.9 1285.9,957.9 1286.9,958 1287.9,958 1288.9,958 1289.9,958.1 1290.9,958.1 1291.9,958 1292.9,957.7 1293.9,956.4 1294.9,951.7 1295.9,938.7 1296.9,910.6 1297.9,863.1 1298.9,802.2 1299.9,748.3 1300.9,726.5 1301.9,748.5 1302.9,802.5 1303.9,863.5 1305,911.2 1306,939.3 1307,952.4 1308,957.1 1309,958.4 1310,958.6 1311,958.6 1312,958.5 1313,958.3 1314,958.2 1315,958.1 1316,958 1317,957.9 1318,957.9 1319,957.8 1320,957.8 1321,957.7 1322,957.7 1323,957.8 1324,957.8 1325,957.9 1326,958 1327,958.1 1328,958.2 1329.1,958.2 1330.1,958.3 1331.1,958.4 1332.1,958.4 1333.1,958.5 1334.1,958.6 1335.1,958.6 1336.1,958.6 1337.1,958.6 1338.1,958.6 1339.1,958.6 1340.1,958.5 1341.1,958.5 1342.1,958.4 1343.1,958.3 1344.1,958.3 1345.1,958.2 1346.1,958 1347.1,957.9 1348.1,957.7 1349.1,957.6 1350.1,957.4 1351.1,957.2 1352.1,957.1 1353.2,957 1354.2,956.9 1355.2,956.8 1356.2,956.7 1357.2,956.7 1358.2,956.7 1359.2,956.7 1360.2,956.8 1361.2,956.9 1362.2,957 1363.2,957.1 1364.2,957.2 1365.2,957 1366.2,956.1 1367.2,953.5 1368.2,948 1369.2,938.5 1370.2,926.4 1371.2,915.7 1372.2,911.3 1373.2,915.6 1374.2,926.3 1375.2,938.4 1376.2,947.7 1377.2,952.8 1378.3,954.3 1379.3,953.4 1380.3,951.2 1381.3,949.2 1382.3,948.4 1383.3,949.4 1384.3,951.6 1385.3,954.1 1386.3,956.1 1387.3,957.3 1388.3,957.9 1389.3,958.1 1390.3,958.1 1391.3,958.2 1392.3,958.2 1393.3,958.2 1394.3,958.2 1395.3,958.2 1396.3,958.3 1397.3,958.3 1398.3,958.4 1399.3,958.4 1400.3,958.4 1401.3,958.5 1402.4,958.6 1403.4,958.6 1404.4,958.6 1405.4,958.5 1406.4,958.5 1407.4,958.4 1408.4,958.3 1409.4,958.2 1410.4,958.1 1411.4,957.9 1412.4,957.8 1413.4,957.6 1414.4,957.5 1415.4,957.1 1416.4,956.1 1417.4,954 1418.4,950.2 1419.4,944.5 1420.4,938.4 1421.4,934.3 1422.4,934.2 1423.4,938.2 1424.4,944.3 1425.4,949.9 1426.5,953.6 1427.5,955.6 1428.5,956.4 1429.5,956.7 1430.5,956.8 1431.5,956.8 1432.5,956.8 1433.5,956.8 1434.5,956.8 1435.5,956.7 1436.5,956.7 1437.5,956.6 1438.5,956.5 1439.5,956.4 1440.5,956.3 1441.5,956.2 1442.5,956 1443.5,955.9 1444.5,955.8 1445.5,955.7 1446.5,955.7 1447.5,955.7 1448.5,955.6 1449.5,955.6 1450.6,955.6 1451.6,955.7 1452.6,955.8 1453.6,955.9 1454.6,955.9 1455.6,956 1456.6,956.1 1457.6,956.2 1458.6,956.2 1459.6,956.2 1460.6,956.2 1461.6,956.2 1462.6,956.2 1463.6,956.1 1464.6,956.1 1465.6,956 1466.6,955.9 1467.6,955.9 1468.6,955.8 1469.6,955.7 1470.6,955.6 1471.6,955.6 1472.6,955.5 1473.6,955.5 1474.7,955.5 1475.7,955.5 1476.7,955.5 1477.7,955.5 1478.7,955.6 1479.7,955.6 1480.7,955.7 1481.7,955.7 1482.7,955.5 1483.7,955 1484.7,953.5 1485.7,950.7 1486.7,946.6 1487.7,942.1 1488.7,939.1 1489.7,939.1 1490.7,942.1 1491.7,946.6 1492.7,950.7 1493.7,953.5 1494.7,954.9 1495.7,955.5 1496.7,955.7 1497.7,955.7 1498.8,955.7 1499.8,955.8 1500.8,955.8 1501.8,955.8 1502.8,955.7 1503.8,955.7 1504.8,955.6 1505.8,955.6 1506.8,955.5 1507.8,955.4 1508.8,955.3 1509.8,955.3 1510.8,955.2 1511.8,955.1 1512.8,955.1 1513.8,955.1 1514.8,955 1515.8,955 1516.8,955 1517.8,955 1518.8,955 1519.8,955 1520.8,955 1521.8,955.1 1522.8,955.1 1523.9,955.1 1524.9,955.1 1525.9,955.2 1526.9,955.3 1527.9,955.3 1528.9,955.4 1529.9,955.4 1530.9,955.5 1531.9,955.5 1532.9,955.6 1533.9,955.6 1534.9,955.5 1535.9,955.4 1536.9,955.4 1537.9,955.2 1538.9,955.1 1539.9,954.9 1540.9,954.8 1541.9,954.6 1542.9,954.4 1543.9,954.3 1544.9,954.1 1545.9,953.9 1546.9,953.8 1548,953.7 1549,953.6 1550,953.5 1551,953.5 1552,953.5 1553,953.6 1554,953.6 1555,953.7 1556,953.7 1557,953.8 1558,953.9 1559,954 1560,954.1 1561,954.2 1562,954.3 1563,954.4 1564,954.3 1565,954.3 1566,954.3 1567,954.3 1568,954.2 1569,954.2 1570,954.2 1571,954.1 1572.1,954.1 1573.1,954 1574.1,953.9 1575.1,953.9 1576.1,953.9 1577.1,953.8 1578.1,953.8 1579.1,953.9 1580.1,953.8 1581.1,953.8 1582.1,953.8 1583.1,953.7 1584.1,953.7 1585.1,953.6 1586.1,953.6 1587.1,953.5 1588.1,953.5 1589.1,953.4 1590.1,953.3 1591.1,953.1 1592.1,953.1 1593.1,953 1594.1,952.8 1595.1,952.7 1596.2,952.7 1597.2,952.6 1598.2,952.5 1599.2,952.5 1600.2,952.4 1601.2,952.3 1602.2,952 1603.2,951.1 1604.2,948.9 1605.2,944.7 1606.2,938.4 1607.2,931.6 1608.2,927.1 1609.2,927.2 1610.2,932 1611.2,939.1 1612.2,945.7 1613.2,950.1 1614.2,952.3 1615.2,952.7 1616.2,951.8 1617.2,949.7 1618.2,946.8 1619.2,944.2 1620.3,943.2 1621.3,944.3 1622.3,946.8 1623.3,949.7 1624.3,951.9 1625.3,953.1 1626.3,953.7 1627.3,953.8 1628.3,953.7 1629.3,953.7 1630.3,953.6 1631.3,953.6 1632.3,953.5 1633.3,953.5 1634.3,953.4 1635.3,953.4 1636.3,953.5 1637.3,953.6 1638.3,953.6 1639.3,953.7 1640.3,953.7 1641.3,953.8 1642.3,953.8 1643.3,953.8 1644.4,953.9 1645.4,953.9 1646.4,953.9 1647.4,953.9 1648.4,953.9 1649.4,953.9 1650.4,953.9 1651.4,953.8 1652.4,953.8 1653.4,953.8 1654.4,953.8 1655.4,953.8 1656.4,953.8 1657.4,953.7 1658.4,953.8 1659.4,953.7 1660.4,953.7 1661.4,953.7 1662.4,953.7 1663.4,953.6 1664.4,953.7 1665.4,953.6 1666.4,953.6 1667.4,953.6 1668.5,953.5 1669.5,953.4 1670.5,953.4 1671.5,953.3 1672.5,953.3 1673.5,953.2 1674.5,953.1 1675.5,953.1 1676.5,953.1 1677.5,953.1 1678.5,953.1 1679.5,953.1 1680.5,953.1 1681.5,953.1 1682.5,953.1 1683.5,953.1 1684.5,953.2 1685.5,953.2 1686.5,953.2 1687.5,953.2 1688.5,953.2 1689.5,953.2 1690.5,953.1 1691.5,953.1 1692.5,953 1693.6,952.9 1694.6,952.9 1695.6,952.8 1696.6,952.8 1697.6,952.8 1698.6,952.7 1699.6,952.7 1700.6,952.7 1701.6,952.8 1702.6,952.8 1703.6,952.8 1704.6,952.8 1705.6,952.9 1706.6,952.9 1707.6,953 1708.6,953 1709.6,953 1710.6,953 1711.6,953 1712.6,953 1713.6,953 1714.6,953 1715.6,953.1 1716.6,953.1 1717.7,953.1 1718.7,953.1 1719.7,953.1 1720.7,953.2 1721.7,953.2 1722.7,953.2 1723.7,953.2 1724.7,953.2 1725.7,953.2 1726.7,953.2 1727.7,953.2 1728.7,953.2 1729.7,953.1 1730.7,953.1 1731.7,953 1732.7,952.9 1733.7,952.8 1734.7,952.8 1735.7,952.7 1736.7,952.6 1737.7,952.6 1738.7,952.5 1739.7,952.5 1740.7,952.4 1741.8,952.4 1742.8,952.4 1743.8,952.4 1744.8,952.4 1745.8,952.5 1746.8,952.5 1747.8,952.6 1748.8,952.6 1749.8,952.6 1750.8,952.6 1751.8,952.5 1752.8,952.6 1753.8,952.6 1754.8,952.5 1755.8,952.4 1756.8,952.3 1757.8,952.3 1758.8,952.2 1759.8,952.1 1760.8,952.1 1761.8,952 1762.8,952 1763.8,952 1764.8,952.1 1765.9,952.1 1766.9,952.2 1767.9,952.2 1768.9,952.2 1769.9,952.3 1770.9,952.4 1771.9,952.4 1772.9,952.4 1773.9,952.4 1774.9,952.3 1775.9,952.2 1776.9,951.8 1777.9,951 1778.9,949.6 1779.9,947.5 1780.9,945.2 1781.9,943.6 1782.9,943.5 1783.9,945 1784.9,947.2 1785.9,949.2 1786.9,950.5 1787.9,951.2 1788.9,951.5 1790,951.5 1791,951.5 1792,951.4 1793,951.4 1794,951.3 1795,951.2 1796,951.1 1797,951 1798,950.9 1799,950.9 1800,950.9 1801,950.9 1802,950.8 1803,950.8 1804,950.8 1805,950.8 1806,950.9 1807,950.9 1808,950.9 1809,951 1810,951 1811,951 1812,950.9 1813,950.9 1814.1,950.9 1815.1,950.8 1816.1,950.7 1817.1,950.7 1818.1,950.6 1819.1,950.6 1820.1,950.5 1821.1,950.5 1822.1,950.5 1823.1,950.5 1824.1,950.5 1825.1,950.5 1826.1,950.5 1827.1,950.5 1828.1,950.5 1829.1,950.4 1830.1,950.3 1831.1,950.2 1832.1,950.1 1833.1,950 1834.1,949.8 1835.1,949.5 1836.1,949.3 1837.1,949 1838.1,948.7 1839.2,948.4 1840.2,948.1 1841.2,947.8 1842.2,947.5 1843.2,947.2 1844.2,946.8 1845.2,946.5 1846.2,946.1 1847.2,945.8 1848.2,945.4 1849.2,944.9 1850.2,944.5 1851.2,944 1852.2,943.5 1853.2,943 1854.2,942.4 1855.2,941.8 1856.2,941.3 1857.2,940.7 1858.2,940.2 1859.2,939.7 1860.2,939.2 1861.2,938.8 1862.2,938.3 1863.3,937.6 1864.3,936 1865.3,932 1866.3,923.7 1867.3,909.8 1868.3,892.2 1869.3,876.7 1870.3,870.4 1871.3,876.7 1872.3,892.3 1873.3,910 1874.3,923.8 1875.3,932.1 1876.3,936 1877.3,937.6 1878.3,938.3 1879.3,938.7 1880.3,939 1881.3,939.4 1882.3,939.7 1883.3,940.1 1884.3,940.5 1885.3,941 1886.3,941.4 1887.4,941.9 1888.4,942.4 1889.4,942.9 1890.4,943.5 1891.4,944 1892.4,944.5 1893.4,945 1894.4,945.5 1895.4,946 1896.4,946.5 1897.4,946.9 1898.4,947.2 1899.4,947.6 1900.4,947.8 1901.4,948 1902.4,948.2 1903.4,948.3 1904.4,948.4 1905.4,948.5 1906.4,948.5 1907.4,948.6 1908.4,948.5 1909.4,948.5 1910.4,948.5 1911.5,948.3 1912.5,947.6 1913.5,945.1 1914.5,938.4 1915.5,923.8 1916.5,899.2 1917.5,867.8 1918.5,839.9 1919.5,828.6 1920.5,839.9 1921.5,867.8 1922.5,899.3 1923.5,923.9 1924.5,938.5 1925.5,945.3 1926.5,947.8 1927.5,948.5 1928.5,948.7 1929.5,948.7 1930.5,948.7 1931.5,948.7 1932.5,948.8 1933.5,948.8 1934.5,948.8 1935.6,948.3 1936.6,946.2 1937.6,938.7 1938.6,918.6 1939.6,874.8 1940.6,800.7 1941.6,705.9 1942.6,622 1943.6,588 1944.6,622.1 1945.6,706.2 1946.6,801.2 1947.6,875.5 1948.6,919.4 1949.6,939.7 1950.6,947.2 1951.6,949.4 1952.6,950 1953.6,950.1 1954.6,950.1 1955.6,950.1 1956.6,950.1 1957.6,950.1 1958.6,950.1 1959.7,950.1 1960.7,950.1 1961.7,950.1 1962.7,950 1963.7,950 1964.7,949.9 1965.7,949.9 1966.7,949.8 1967.7,949.8 1968.7,949.7 1969.7,949.6 1970.7,949.6 1971.7,949.5 1972.7,949.5 1973.7,949.4 1974.7,949.4 1975.7,949.3 1976.7,949.3 1977.7,949.2 1978.7,949.2 1979.7,949.2 1980.7,949.1 1981.7,949.1 1982.7,949.1 1983.8,949.1 1984.8,949.1 1985.8,949.1 1986.8,949.1 1987.8,949.2 1988.8,949.2 1989.8,949.2 1990.8,949.3 1991.8,949.4 1992.8,949.4 1993.8,949.5 1994.8,949.6 1995.8,949.6 1996.8,949.7 1997.8,949.7 1998.8,949.7 1999.8,949.8 2000.8,949.8 2001.8,949.8 2002.8,949.7 2003.8,949.7 2004.8,949.6 2005.8,949.6 2006.8,949.5 2007.8,949.4 2008.9,949.3 2009.9,949.3 2010.9,949.3 2011.9,949.2 2012.9,949.2 2013.9,949.2 2014.9,949.2 2015.9,949.2 2016.9,949.3 2017.9,949.3 2018.9,949.3 2019.9,949.3 2020.9,949.3 2021.9,949.3 2022.9,949.3 2023.9,949.4 2024.9,949.4 2025.9,949.4 2026.9,949.3 2027.9,949.3 2028.9,949.3 2029.9,949.4 2030.9,949.4 2031.9,949.5 2033,949.5 2034,949.5 2035,949.3 2036,948.9 2037,948.3 2038,947.4 2039,946.5 2040,946 2041,946.1 2042,946.7 2043,947.8 2044,948.8 2045,949.6 2046,950 2047,950.3 2048,950.3 2049,950.4 2050,950.4 2051,950.3 2052,950.4 2053,950.3 2054,950.3 2055,950.3 2056,950.3 2057.1,950.4 2058.1,950.4 2059.1,950.4 2060.1,950.5 2061.1,950.5 2062.1,950.5 2063.1,950.5 2064.1,950.6 2065.1,950.5 2066.1,950.6 2067.1,950.6 2068.1,950.6 2069.1,950.6 2070.1,950.6 2071.1,950.6 2072.1,950.6 2073.1,950.7 2074.1,950.7 2075.1,950.7 2076.1,950.8 2077.1,950.9 2078.1,951 2079.1,951.1 2080.1,951.2 2081.2,951.2 2082.2,951.3 2083.2,951.4 2084.2,951.4 2085.2,951.4 2086.2,951.4 2087.2,951.4 2088.2,951.4 2089.2,951.3 2090.2,951.2 2091.2,951.1 2092.2,951 2093.2,950.9 2094.2,950.8 2095.2,950.7 2096.2,950.6 2097.2,950.6 2098.2,950.5 2099.2,950.5 2100.2,950.5 2101.2,950.5 2102.2,950.4 2103.2,950.5 2104.2,950.5 2105.3,950.5 2106.3,950.5 2107.3,950.6 2108.3,950.6 2109.3,950.6 2110.3,950.7 2111.3,950.7 2112.3,950.7 2113.3,950.8 2114.3,950.8 2115.3,950.8 2116.3,950.9 2117.3,950.9 2118.3,950.9 2119.3,951 2120.3,951 2121.3,951 2122.3,951 2123.3,951 2124.3,951 2125.3,951 2126.3,951.1 2127.3,951.1 2128.3,951.1 2129.4,951.1 2130.4,951.1 2131.4,951.1 2132.4,951.2 2133.4,951.2 2134.4,951.1 2135.4,951.1 2136.4,951.1 2137.4,951.1 2138.4,951.1 2139.4,951.1 2140.4,951.1 2141.4,951.1 2142.4,951.1 2143.4,951.2 2144.4,951.2 2145.4,951.3 2146.4,951.4 2147.4,951.4 2148.4,951.5 2149.4,951.6 2150.4,951.6 2151.4,951.6 2152.4,951.7 2153.4,951.8 2154.5,951.8 2155.5,951.8 2156.5,951.8 2157.5,951.8 2158.5,951.8 2159.5,951.8 2160.5,951.8 2161.5,951.8 2162.5,951.8 2163.5,951.8 2164.5,951.9 2165.5,951.9 2166.5,951.9 2167.5,951.9 2168.5,951.9 2169.5,951.8 2170.5,951.7 2171.5,951.7 2172.5,951.7 2173.5,951.6 2174.5,951.6 2175.5,951.5 2176.5,951.5 2177.5,951.4 2178.6,951.4 2179.6,951.5 2180.6,951.5 2181.6,951.5 2182.6,951.6 2183.6,951.7 2184.6,951.8 2185.6,951.9 2186.6,952 2187.6,952 2188.6,952.1 2189.6,952.1 2190.6,952.2 2191.6,952.2 2192.6,952.2 2193.6,952.2 2194.6,952.2 2195.6,952.2 2196.6,952.2 2197.6,952.1 2198.6,952 2199.6,952 2200.6,951.9 2201.6,951.9 2202.7,951.9 2203.7,951.8 2204.7,951.7 2205.7,951.7 2206.7,951.7 2207.7,951.6 2208.7,951.6 2209.7,951.5 2210.7,951.5 2211.7,951.5 2212.7,951.4 2213.7,951.4 2214.7,951.3 2215.7,951.3 2216.7,951.3 2217.7,951.3 2218.7,951.3 2219.7,951.3 2220.7,951.3 2221.7,951.3 2222.7,951.4 2223.7,951.4 2224.7,951.4 2225.7,951.4 2226.8,951.5 2227.8,951.5 2228.8,951.5 2229.8,951.5 2230.8,951.5 2231.8,951.5 2232.8,951.5 2233.8,951.5 2234.8,951.5 2235.8,951.6 2236.8,951.6 2237.8,951.6 2238.8,951.7 2239.8,951.8 2240.8,951.9 2241.8,951.9 2242.8,952 2243.8,952.1 2244.8,952.1 2245.8,952.1 2246.8,952.2 2247.8,952.1 2248.8,952.1 2249.8,952 2250.9,951.9 2251.9,951.8 2252.9,951.5 2253.9,951.3 2254.9,951.2 2255.9,950.9 2256.9,950.7 2257.9,950.4 2258.9,950.3 2259.9,950.1 2260.9,949.9 2261.9,949.8 2262.9,949.8 2263.9,949.7 2264.9,949.8 2265.9,949.8 2266.9,949.9 2267.9,950 2268.9,950.2 2269.9,950.4 2270.9,950.5 2271.9,950.7 2272.9,950.8 2273.9,950.9 2275,951.1 2276,951.1 2277,951.2 2278,951.3 2279,951.3 2280,951.3 2281,951.3 2282,951.3 2283,951.3 2284,951.3 2285,951.3 2286,951.3 2287,951.3 2288,951.3 2289,951.3 2290,951.3 2291,951.3 2292,951.4 2293,951.4 2294,951.4 2295,951.5 2296,951.5 2297,951.5 2298,951.6 2299.1,951.7 2300.1,951.7 2301.1,951.7 2302.1,951.7 2303.1,951.7 2304.1,951.7 2305.1,951.7 2306.1,951.6 2307.1,951.5 2308.1,951.4 2309.1,951.3 2310.1,951.2 2311.1,951.1 2312.1,951 2313.1,950.9 2314.1,950.8 2315.1,950.7 2316.1,950.6 2317.1,950.5 2318.1,950.4 2319.1,950.4 2320.1,950.4 2321.1,950.5 2322.1,950.5 2323.1,950.6 2324.2,950.7 2325.2,950.7 2326.2,950.9 2327.2,951 2328.2,951.2 2329.2,951.3 2330.2,951.5 2331.2,951.6 2332.2,951.7 2333.2,951.9 2334.2,952 2335.2,952 2336.2,952 2337.2,952 2338.2,951.9 2339.2,951.8 2340.2,951.7 2341.2,951.6 2342.2,951.5 2343.2,951.4 2344.2,951.2 2345.2,951.1 2346.2,951 2347.2,951 2348.3,951 2349.3,951.1 2350.3,951.2 2351.3,951.2 2352.3,951.4 2353.3,951.5 2354.3,951.6 2355.3,951.8 2356.3,951.9 2357.3,952 2358.3,952 2359.3,952.1 2360.3,952.1 2361.3,952.1 2362.3,952.1 2363.3,952.1 2364.3,952 2365.3,952 2366.3,951.9 2367.3,951.9 2368.3,951.9 2369.3,951.9 2370.3,951.9 2371.3,951.9 2372.4,951.9 2373.4,951.8 2374.4,951.5 2375.4,950.8 2376.4,949.6 2377.4,947.9 2378.4,946.2 2379.4,945.2 2380.4,945.2 2381.4,946.4 2382.4,948.1 2383.4,949.9 2384.4,951.3 2385.4,952.1 2386.4,952.4 2387.4,952.6 2388.4,952.6 2389.4,952.5 2390.4,952.5 2391.4,952.4 2392.4,952.4 2393.4,952.4 2394.4,952.3 2395.4,952.3 2396.5,952.3 2397.5,952.3 2398.5,952.3 2399.5,952.2 2400.5,952.2 2401.5,952.1 2402.5,952 2403.5,952 2404.5,951.9 2405.5,951.9 2406.5,951.8 2407.5,951.7 2408.5,951.7 2409.5,951.6 2410.5,951.6 2411.5,951.6 2412.5,951.7 2413.5,951.7 2414.5,951.8 2415.5,951.8 2416.5,951.8 2417.5,951.9 2418.5,951.9 2419.5,952 2420.6,952 2421.6,952.1 2422.6,952.1 2423.6,952 2424.6,952 2425.6,952.1 2426.6,952.1 2427.6,952.1 2428.6,952.1 2429.6,952.1 2430.6,952 2431.6,952.1 2432.6,952.1 2433.6,952.2 2434.6,952.2 2435.6,952.1 2436.6,952.1 2437.6,952.1 2438.6,952.1 2439.6,952.1 2440.6,952.1 2441.6,952 2442.6,952 2443.6,952 2444.7,952 2445.7,952 2446.7,952 2447.7,952.1 2448.7,952.2 2449.7,952.2 2450.7,952.2 2451.7,952.3 2452.7,952.3 2453.7,952.3 2454.7,952.3 2455.7,952.3 2456.7,952.3 2457.7,952.2 2458.7,952.2 2459.7,952.1 2460.7,952 2461.7,952 2462.7,951.9 2463.7,951.8 2464.7,951.8 2465.7,951.8 2466.7,951.9 2467.7,951.9 2468.7,951.9 2469.8,951.9 2470.8,952 2471.8,952 2472.8,952.1 2473.8,952.2 2474.8,952.2 2475.8,952.3 2476.8,952.3 2477.8,952.3 2478.8,952.3 2479.8,952.2 2480.8,952.2 2481.8,952.2 2482.8,952.1 2483.8,952.1 2484.8,952.1 2485.8,952 2486.8,952.1 2487.8,952.1 2488.8,952.1 2489.8,952.1 2490.8,952.1 2491.8,952.2 2492.8,952.3 2493.9,952.4 2494.9,952.4 2495.9,952.5 2496.9,952.7 2497.9,952.7 2498.9,952.8 2499.9,952.9 2500.9,952.9 2501.9,953 2502.9,953 2503.9,953 2504.9,953 2505.9,952.9 2506.9,952.9 2507.9,952.9 2508.9,952.8 2509.9,952.8 2510.9,952.7 2511.9,952.7 2512.9,952.7 2513.9,952.8 2514.9,952.8 2515.9,952.8 2516.9,952.8 2518,952.9 2519,952.9 2520,952.9 2521,952.9 2522,952.9 2523,952.8 2524,952.8 2525,952.7 2526,952.6 2527,952.5 2528,952.4 2529,952.3 2530,952.2 2531,952.1 2532,952.1 2533,952 2534,952.1 2535,952.1 2536,952.2 2537,952.2 2538,952.2 2539,952.3 2540,952.3 2541,952.4 2542.1,952.4 2543.1,952.5 2544.1,952.5 2545.1,952.4 2546.1,952.4 2547.1,952.4 2548.1,952.4 2549.1,952.4 2550.1,952.4 2551.1,952.4 2552.1,952.5 2553.1,952.5 2554.1,952.6 2555.1,952.7 2556.1,952.6 2557.1,952.7 2558.1,952.8 2559.1,952.8 2560.1,952.9 2561.1,952.9 2562.1,953 2563.1,953 2564.1,953.1 2565.1,953.1 2566.2,953.1 2567.2,953.1 2568.2,953 2569.2,953 2570.2,953 2571.2,953 2572.2,953 2573.2,953 2574.2,952.9 2575.2,952.8 2576.2,952.7 2577.2,952.6 2578.2,952.6 2579.2,952.5 2580.2,952.4 2581.2,952.4 2582.2,952.3 2583.2,952.2 2584.2,952 2585.2,951.7 2586.2,950.9 2587.2,949.1 2588.2,945.6 2589.2,939.9 2590.3,932.5 2591.3,925.2 2592.3,920.6 2593.3,920.5 2594.3,925.1 2595.3,932.3 2596.3,939.5 2597.3,945.1 2598.3,948.5 2599.3,950.2 2600.3,951 2601.3,951.2 2602.3,951.3 2603.3,951.3 2604.3,951.4 2605.3,951.5 2606.3,951.6 2607.3,951.6 2608.3,951.7 2609.3,951.8 2610.3,951.9 2611.3,952 2612.3,952.2 2613.3,952.2 2614.4,952.3 2615.4,952.4 2616.4,952.4 2617.4,952.2 2618.4,951.8 2619.4,951 2620.4,949.5 2621.4,947.4 2622.4,945 2623.4,943 2624.4,942.2 2625.4,942.9 2626.4,944.8 2627.4,947.1 2628.4,949.2 2629.4,950.6 2630.4,951.4 2631.4,951.8 2632.4,952 2633.4,952.1 2634.4,952.2 2635.4,952.3 2636.4,952.3 2637.4,952.4 2638.4,952.4 2639.5,952.4 2640.5,952.4 2641.5,952.4 2642.5,952.4 2643.5,952.3 2644.5,952.2 2645.5,952.2 2646.5,952.1 2647.5,951.9 2648.5,951.8 2649.5,951.7 2650.5,951.7 2651.5,951.6 2652.5,951.6 2653.5,951.5 2654.5,951.3 2655.5,951.3 2656.5,951.2 2657.5,951.1 2658.5,951.1 2659.5,951.1 2660.5,951.1 2661.5,951 2662.5,951.1 2663.6,951.1 2664.6,951.1 2665.6,951.2 2666.6,951.2 2667.6,951.2 2668.6,951.2 2669.6,951.1 2670.6,951.1 2671.6,951 2672.6,950.9 2673.6,950.7 2674.6,950.6 2675.6,950.4 2676.6,950.2 2677.6,950 2678.6,949.7 2679.6,949.5 2680.6,949.2 2681.6,948.9 2682.6,948.6 2683.6,948.3 2684.6,948 2685.6,947.8 2686.6,947.6 2687.7,947.4 2688.7,947.2 2689.7,946.9 2690.7,946.7 2691.7,945.5 2692.7,944.3 2693.7,943 2694.7,941.6 2695.7,940.3 2696.7,939 2697.7,937.9 2698.7,936.8 2699.7,935.7 2700.7,934.6 2701.7,933.5 2702.7,932.4 2703.7,931.4 2704.7,930.4 2705.7,928.6 2706.7,926.3 2707.7,924 2708.7,921.8 2709.7,919.6 2710.7,914.9 2711.8,909.7 2712.8,904.4 2713.8,898.8 2714.8,890.3 2715.8,881.8 2716.8,874.5 2717.8,870.9 2718.8,867.3 2719.8,856.9 2720.8,834.7 2721.8,800.5 2722.8,773.5 2723.8,757.4 2724.8,755 2725.8,766.4 2726.8,795.7 2727.8,832.2 2728.8,867 2729.8,871.1 2730.8,870.9 2731.8,860.6 2732.8,850.2 2733.8,844.5 2734.8,841 2735.9,848.9 2736.9,860.8 2737.9,880.2 2738.9,898.5 2739.9,906.9 2740.9,915.3 2741.9,923.7 2742.9,927.9 2743.9,929.7 2744.9,931.6 2745.9,933.5 2746.9,935.4 2747.9,937.3 2748.9,939.2 2749.9,940.3 2750.9,941.1 2751.9,941.9 2752.9,942.6 2753.9,943.4 2754.9,944.1 2755.9,944.9 2756.9,945.6 2757.9,946.3 2758.9,946.8 2760,947.1 2761,947.4 2762,947.7 2763,948 2764,948.4 2765,948.6 2766,948.9 2767,949.3 2768,949.6 2769,949.9 2770,950 2771,950.2 2772,950.4 2773,950.6 2774,950.8 2775,951 2776,951.2 2777,951.4 2778,951.6 2779,951.8 2780,951.9 2781,952.1 2782,952.2 2783,952.3 2784,952.3 2785.1,952.2 2786.1,952.1 2787.1,952.1 2788.1,952 2789.1,951.9 2790.1,951.9 2791.1,951.8 2792.1,951.7 2793.1,951.6 2794.1,951.2 2795.1,950.3 2796.1,948.1 2797.1,943.7 2798.1,936.4 2799.1,926.9 2800.1,917.5 2801.1,911.5 2802.1,911.1 2803.1,915.8 2804.1,922.5 2805.1,927.1 2806.1,927.1 2807.1,923.2 2808.1,918.6 2809.2,916.8 2810.2,919.9 2811.2,926.8 2812.2,935.2 2813.2,942.5 2814.2,947.5 2815.2,950.2 2816.2,951.4 2817.2,951.8 2818.2,951.9 2819.2,951.9 2820.2,951.8 2821.2,951.7 2822.2,951.7 2823.2,951.7 2824.2,951.6 2825.2,951.6 2826.2,951.6 2827.2,951.5 2828.2,951.6 2829.2,951.5 2830.2,951.5 2831.2,951.5 2832.2,951.4 2833.3,951.4 2834.3,951.4 2835.3,951.3 2836.3,951.3 2837.3,951.3 2838.3,951.2 2839.3,951.2 2840.3,951.2 2841.3,951.2 2842.3,951.2 2843.3,951.2 2844.3,951.3 2845.3,951.4 2846.3,951.5 2847.3,951.6 2848.3,951.7 2849.3,951.8 2850.3,951.9 2851.3,952 2852.3,952.1 2853.3,952.1 2854.3,952.2 2855.3,952.3 2856.3,952.3 2857.4,952.3 2858.4,952.3 2859.4,952.2 2860.4,952.2 2861.4,952.2 2862.4,952 2863.4,952 2864.4,951.9 2865.4,951.8 2866.4,951.7 2867.4,951.6 2868.4,951.5 2869.4,951.4 2870.4,951.2 2871.4,951.2 2872.4,951.1 2873.4,951.1 2874.4,951.1 2875.4,951.1 2876.4,951.1 2877.4,951.2 2878.4,951.2 2879.4,951.3 2880.4,951.3 2881.5,951.4 2882.5,951.5 2883.5,951.6 2884.5,951.6 2885.5,951.7 2886.5,951.7 2887.5,951.8 2888.5,951.8 2889.5,951.8 2890.5,951.8 2891.5,951.8 2892.5,951.7 2893.5,951.7 2894.5,951.7 2895.5,951.6 2896.5,951.6 2897.5,951.5 2898.5,951.5 2899.5,951.5 2900.5,951.4 2901.5,951.4 2902.5,951.4 2903.5,951.4 2904.5,951.4 2905.6,951.4 2906.6,951.4 2907.6,951.4 2908.6,951.5 2909.6,951.5 2910.6,951.6 2911.6,951.6 2912.6,951.7 2913.6,951.8 2914.6,951.8 2915.6,951.9 2916.6,951.9 2917.6,952 2918.6,952 2919.6,952 2920.6,952 2921.6,952 2922.6,952 2923.6,951.9 2924.6,951.9 2925.6,951.8 2926.6,951.8 2927.6,951.8 2928.6,951.8 2929.6,951.8 2930.7,951.8 2931.7,951.8 2932.7,951.8 2933.7,951.9 2934.7,951.9 2935.7,952 2936.7,952.1 2937.7,952.2 2938.7,952.3 2939.7,952.3 2940.7,952.4 2941.7,952.5 2942.7,952.6 2943.7,952.7 2944.7,952.8 2945.7,952.9 2946.7,952.9 2947.7,953.1 2948.7,953.2 2949.7,953.3 2950.7,953.4 2951.7,953.5 2952.7,953.6 2953.7,953.7 2954.8,953.7 2955.8,953.7 2956.8,953.8 2957.8,953.8 2958.8,953.8 2959.8,953.8 2960.8,953.8 2961.8,953.7 2962.8,953.7 2963.8,953.6 2964.8,953.5 2965.8,953.5 2966.8,953.4 2967.8,953.4 2968.8,953.3 2969.8,953.3 2970.8,953.2 2971.8,953.1 2972.8,953 2973.8,953 2974.8,952.9 2975.8,952.8 2976.8,952.8 2977.8,952.7 2978.9,952.7 2979.9,952.6 2980.9,952.5 2981.9,952.5 2982.9,952.5 2983.9,952.5 2984.9,952.5 2985.9,952.5 2986.9,952.5 2987.9,952.5 2988.9,952.6 2989.9,952.7 2990.9,952.7 2991.9,952.8 2992.9,952.8 2993.9,952.8 2994.9,952.8 2995.9,952.8 2996.9,952.8 2997.9,952.8 2998.9,952.8 2999.9,952.7 3000.9,952.6 3001.9,952.5 3003,952.4 3004,952.2 3005,952.1 3006,951.8 3007,951.4 3008,950.7 3009,949.7 3010,948.3 3011,946.9 3012,946.1 3013,946.2 3014,947.2 3015,948.7 3016,950.2 3017,951.4 3018,952.2 3019,952.7 3020,952.9 3021,953 3022,953 3023,953.1 3024,953 3025,953 3026,952.9 3027.1,952.8 3028.1,952.7 3029.1,952.6 3030.1,952.5 3031.1,952.4 3032.1,952.4 3033.1,952.3 3034.1,952.3 3035.1,952.3 3036.1,952.3 3037.1,952.4 3038.1,952.4 3039.1,952.4 3040.1,952.5 3041.1,952.6 3042.1,952.6 3043.1,952.7 3044.1,952.8 3045.1,952.8 3046.1,952.9 3047.1,952.9 3048.1,953 3049.1,953 3050.1,953.1 3051.2,953.2 3052.2,953.2 3053.2,953.3 3054.2,953.4 3055.2,953.4 3056.2,953.5 3057.2,953.5 3058.2,953.6 3059.2,953.6 3060.2,953.7 3061.2,953.6 3062.2,953.6 3063.2,953.6 3064.2,953.6 3065.2,953.5 3066.2,953.5 3067.2,953.4 3068.2,953.3 3069.2,953.2 3070.2,953.1" fill="none" stroke="#ff1a22" stroke-width="4.6" stroke-linejoin="round" stroke-dasharray="24 11.5 6.4 11.5"/>
</svg>
<line x1="1102.9" y1="526.2" x2="1291.9" y2="526.2" stroke="#000" stroke-width="6.2"/>
<line x1="1102.9" y1="576.5" x2="1291.9" y2="576.5" stroke="#ff1a22" stroke-width="6.2" stroke-dasharray="24 11.5 6.4 11.5"/>
<line x1="1102.9" y1="626" x2="1293.9" y2="626" stroke="#000" stroke-width="6.2" stroke-dasharray="5.6 10.9"/>
<line x1="1102.9" y1="676.1" x2="1291.9" y2="676.1" stroke="#004cf0" stroke-width="6"/>
<line x1="1102.9" y1="725.8" x2="1291.9" y2="725.8" stroke="#2ed260" stroke-width="6"/>
<text x="1323.6" y="539.5" font-size="39" fill="#000" stroke="#000" stroke-width="0.5" textLength="66" lengthAdjust="spacing">obj.</text>
<text x="1323.6" y="589.8" font-size="39" fill="#000" stroke="#000" stroke-width="0.5" textLength="40" lengthAdjust="spacing">fit</text>
<text x="1323.6" y="639.3" font-size="39" fill="#000" stroke="#000" stroke-width="0.5" textLength="66" lengthAdjust="spacing">res.</text>
<text x="1323.6" y="688.7" font-size="39" fill="#000" stroke="#000" stroke-width="0.5" textLength="78" lengthAdjust="spacing">emi.</text>
<text x="1323.6" y="739" font-size="39" fill="#000" stroke="#000" stroke-width="0.5" textLength="78" lengthAdjust="spacing">emi.</text>
<text x="1406" y="747.3" font-size="24" fill="#000" font-weight="bold" textLength="25.6" lengthAdjust="spacing">br</text>
<rect x="999" y="474" width="2095" height="500" fill="none" stroke="#000" stroke-width="4"/>
<path d="M1438 974v-8.5M1438 474v8.5M1940.1 974v-8.5M1940.1 474v8.5M2442.1 974v-8.5M2442.1 474v8.5M2944.2 974v-8.5M2944.2 474v8.5M1036.3 974v-4M1036.3 474v4M1086.6 974v-4M1086.6 474v4M1136.8 974v-4M1136.8 474v4M1187 974v-4M1187 474v4M1237.2 974v-4M1237.2 474v4M1287.4 974v-4M1287.4 474v4M1337.6 974v-4M1337.6 474v4M1387.8 974v-4M1387.8 474v4M1438 974v-4M1438 474v4M1488.2 974v-4M1488.2 474v4M1538.4 974v-4M1538.4 474v4M1588.6 974v-4M1588.6 474v4M1638.8 974v-4M1638.8 474v4M1689 974v-4M1689 474v4M1739.2 974v-4M1739.2 474v4M1789.4 974v-4M1789.4 474v4M1839.7 974v-4M1839.7 474v4M1889.9 974v-4M1889.9 474v4M1940.1 974v-4M1940.1 474v4M1990.3 974v-4M1990.3 474v4M2040.5 974v-4M2040.5 474v4M2090.7 974v-4M2090.7 474v4M2140.9 974v-4M2140.9 474v4M2191.1 974v-4M2191.1 474v4M2241.3 974v-4M2241.3 474v4M2291.5 974v-4M2291.5 474v4M2341.7 974v-4M2341.7 474v4M2391.9 974v-4M2391.9 474v4M2442.1 974v-4M2442.1 474v4M2492.3 974v-4M2492.3 474v4M2542.6 974v-4M2542.6 474v4M2592.8 974v-4M2592.8 474v4M2643 974v-4M2643 474v4M2693.2 974v-4M2693.2 474v4M2743.4 974v-4M2743.4 474v4M2793.6 974v-4M2793.6 474v4M2843.8 974v-4M2843.8 474v4M2894 974v-4M2894 474v4M2944.2 974v-4M2944.2 474v4M2994.4 974v-4M2994.4 474v4M3044.6 974v-4M3044.6 474v4M999 973.7h40M3094 973.7h-40M999 888h40M3094 888h-40M999 802.3h40M3094 802.3h-40M999 716.6h40M3094 716.6h-40M999 630.9h40M3094 630.9h-40M999 545.2h40M3094 545.2h-40M999 973.7h20M3094 973.7h-20M999 956.6h20M3094 956.6h-20M999 939.4h20M3094 939.4h-20M999 922.3h20M3094 922.3h-20M999 905.1h20M3094 905.1h-20M999 888h20M3094 888h-20M999 870.9h20M3094 870.9h-20M999 853.7h20M3094 853.7h-20M999 836.6h20M3094 836.6h-20M999 819.4h20M3094 819.4h-20M999 802.3h20M3094 802.3h-20M999 785.2h20M3094 785.2h-20M999 768h20M3094 768h-20M999 750.9h20M3094 750.9h-20M999 733.7h20M3094 733.7h-20M999 716.6h20M3094 716.6h-20M999 699.5h20M3094 699.5h-20M999 682.3h20M3094 682.3h-20M999 665.2h20M3094 665.2h-20M999 648h20M3094 648h-20M999 630.9h20M3094 630.9h-20M999 613.8h20M3094 613.8h-20M999 596.6h20M3094 596.6h-20M999 579.5h20M3094 579.5h-20M999 562.3h20M3094 562.3h-20M999 545.2h20M3094 545.2h-20M999 528.1h20M3094 528.1h-20M999 510.9h20M3094 510.9h-20M999 493.8h20M3094 493.8h-20M999 476.6h20M3094 476.6h-20" stroke="#000" stroke-width="3.7" fill="none"/>
<text x="1438" y="1027.6" font-size="40" fill="#000" stroke="#000" stroke-width="0.5" text-anchor="middle" textLength="88.6" lengthAdjust="spacing">4000</text>
<text x="1940.1" y="1027.6" font-size="40" fill="#000" stroke="#000" stroke-width="0.5" text-anchor="middle" textLength="88.6" lengthAdjust="spacing">5000</text>
<text x="2442.1" y="1027.6" font-size="40" fill="#000" stroke="#000" stroke-width="0.5" text-anchor="middle" textLength="88.6" lengthAdjust="spacing">6000</text>
<text x="2944.2" y="1027.6" font-size="40" fill="#000" stroke="#000" stroke-width="0.5" text-anchor="middle" textLength="88.6" lengthAdjust="spacing">7000</text>
<text x="985" y="975.8" font-size="40" fill="#000" stroke="#000" stroke-width="0.5" text-anchor="end" textLength="22" lengthAdjust="spacing">0</text>
<text x="985" y="902.3" font-size="40" fill="#000" stroke="#000" stroke-width="0.5" text-anchor="end" textLength="65" lengthAdjust="spacing">500</text>
<text x="985" y="817.3" font-size="40" fill="#000" stroke="#000" stroke-width="0.5" text-anchor="end" textLength="86.5" lengthAdjust="spacing">1000</text>
<text x="985" y="731.3" font-size="40" fill="#000" stroke="#000" stroke-width="0.5" text-anchor="end" textLength="86.5" lengthAdjust="spacing">1500</text>
<text x="985" y="645.8" font-size="40" fill="#000" stroke="#000" stroke-width="0.5" text-anchor="end" textLength="86.5" lengthAdjust="spacing">2000</text>
<text x="985" y="560.3" font-size="40" fill="#000" stroke="#000" stroke-width="0.5" text-anchor="end" textLength="86.5" lengthAdjust="spacing">2500</text>
<text x="1991.9" y="1072" font-size="38">&#955;<tspan font-size="25" font-weight="bold" dy="10" letter-spacing="1.5">r.f.</tspan><tspan dy="-10" dx="2">[&#197;]</tspan></text>
<text transform="translate(865 960.7) rotate(-90)" font-size="42" textLength="468.7" lengthAdjust="spacingAndGlyphs">flux[10<tspan font-size="28" dy="-18">&#8722;17</tspan><tspan dy="18">erg s</tspan><tspan font-size="28" dy="-18">&#8722;1</tspan><tspan dy="18">cm</tspan><tspan font-size="28" dy="-18">&#8722;2</tspan><tspan dy="18">&#197;</tspan><tspan font-size="28" dy="-18">&#8722;1</tspan><tspan dy="18">]</tspan></text>
<svg x="290.3" y="1079" width="708.4" height="603.5" viewBox="290.3 1079 708.4 603.5" overflow="hidden">
<polyline points="308.4,1670.4 308.8,1670.4 309.2,1670.4 309.6,1670.4 310,1670.4 310.4,1670.4 310.8,1670.4 311.2,1670.4 311.6,1670.4 312,1670.4 312.4,1670.4 312.8,1670.4 313.2,1670.4 313.5,1670.4 313.9,1670.4 314.3,1670.4 314.7,1670.4 315.1,1670.4 315.5,1670.4 315.9,1670.4 316.3,1670.4 316.7,1670.4 317.1,1670.4 317.5,1670.4 317.9,1670.4 318.3,1670.4 318.7,1670.4 319.1,1670.4 319.5,1670.4 319.8,1670.3 320.2,1670.3 320.6,1670.3 321,1670.3 321.4,1670.3 321.8,1670.2 322.2,1670.2 322.6,1670.1 323,1670 323.4,1669.9 323.8,1669.8 324.2,1669.7 324.6,1669.6 325,1669.5 325.4,1669.3 325.8,1669.1 326.1,1668.9 326.5,1668.7 326.9,1668.5 327.3,1668.2 327.7,1668 328.1,1667.7 328.5,1667.5 328.9,1667.3 329.3,1667.1 329.7,1666.9 330.1,1666.7 330.5,1666.6 330.9,1666.5 331.3,1666.4 331.7,1666.4 332.1,1666.4 332.5,1666.5 332.8,1666.6 333.2,1666.7 333.6,1666.9 334,1667.1 334.4,1667.3 334.8,1667.5 335.2,1667.7 335.6,1668 336,1668.2 336.4,1668.5 336.8,1668.7 337.2,1668.9 337.6,1669.1 338,1669.3 338.4,1669.5 338.8,1669.6 339.1,1669.7 339.5,1669.8 339.9,1669.9 340.3,1670 340.7,1670.1 341.1,1670.2 341.5,1670.2 341.9,1670.3 342.3,1670.3 342.7,1670.3 343.1,1670.3 343.5,1670.3 343.9,1670.4 344.3,1670.4 344.7,1670.4 345.1,1670.4 345.4,1670.4 345.8,1670.4 346.2,1670.4 346.6,1670.4 347,1670.4 347.4,1670.4 347.8,1670.4 348.2,1670.4 348.6,1670.4 349,1670.4 349.4,1670.4 349.8,1670.4 350.2,1670.4 350.6,1670.4 351,1670.4 351.4,1670.4 351.8,1670.4 352.1,1670.4 352.5,1670.4 352.9,1670.4 353.3,1670.4 353.7,1670.4 354.1,1670.4 354.5,1670.4 354.9,1670.4" fill="none" stroke="#0050f0" stroke-width="4.2" stroke-linejoin="round"/>
<polyline points="421.1,1670.4 421.5,1670.4 421.9,1670.4 422.3,1670.4 422.6,1670.4 423,1670.4 423.4,1670.4 423.8,1670.4 424.2,1670.4 424.6,1670.4 425,1670.4 425.4,1670.4 425.8,1670.4 426.2,1670.4 426.6,1670.4 427,1670.4 427.4,1670.4 427.8,1670.4 428.2,1670.4 428.6,1670.4 429,1670.4 429.3,1670.4 429.7,1670.4 430.1,1670.4 430.5,1670.4 430.9,1670.4 431.3,1670.4 431.7,1670.4 432.1,1670.4 432.5,1670.3 432.9,1670.3 433.3,1670.3 433.7,1670.3 434.1,1670.3 434.5,1670.2 434.9,1670.2 435.3,1670.1 435.6,1670 436,1669.9 436.4,1669.8 436.8,1669.7 437.2,1669.6 437.6,1669.5 438,1669.3 438.4,1669.1 438.8,1668.9 439.2,1668.7 439.6,1668.5 440,1668.2 440.4,1668 440.8,1667.7 441.2,1667.5 441.6,1667.3 441.9,1667.1 442.3,1666.9 442.7,1666.7 443.1,1666.6 443.5,1666.5 443.9,1666.4 444.3,1666.4 444.7,1666.4 445.1,1666.5 445.5,1666.6 445.9,1666.7 446.3,1666.9 446.7,1667.1 447.1,1667.3 447.5,1667.5 447.9,1667.7 448.3,1668 448.6,1668.2 449,1668.5 449.4,1668.7 449.8,1668.9 450.2,1669.1 450.6,1669.3 451,1669.5 451.4,1669.6 451.8,1669.7 452.2,1669.8 452.6,1669.9 453,1670 453.4,1670.1 453.8,1670.2 454.2,1670.2 454.6,1670.3 454.9,1670.3 455.3,1670.3 455.7,1670.3 456.1,1670.3 456.5,1670.4 456.9,1670.4 457.3,1670.4 457.7,1670.4 458.1,1670.4 458.5,1670.4 458.9,1670.4 459.3,1670.4 459.7,1670.4 460.1,1670.4 460.5,1670.4 460.9,1670.4 461.2,1670.4 461.6,1670.4 462,1670.4 462.4,1670.4 462.8,1670.4 463.2,1670.4 463.6,1670.4 464,1670.4 464.4,1670.4 464.8,1670.4 465.2,1670.4 465.6,1670.4 466,1670.4 466.4,1670.4 466.8,1670.4 467.2,1670.4 467.6,1670.4" fill="none" stroke="#0050f0" stroke-width="4.2" stroke-linejoin="round"/>
<polyline points="484.1,1670.4 484.5,1670.4 484.9,1670.4 485.3,1670.4 485.7,1670.4 486.1,1670.4 486.5,1670.4 486.9,1670.4 487.2,1670.4 487.6,1670.4 488,1670.4 488.4,1670.4 488.8,1670.4 489.2,1670.4 489.6,1670.4 490,1670.4 490.4,1670.4 490.8,1670.4 491.2,1670.4 491.6,1670.4 492,1670.4 492.4,1670.4 492.8,1670.4 493.2,1670.4 493.5,1670.4 493.9,1670.4 494.3,1670.3 494.7,1670.3 495.1,1670.3 495.5,1670.3 495.9,1670.3 496.3,1670.2 496.7,1670.1 497.1,1670.1 497.5,1670 497.9,1669.9 498.3,1669.7 498.7,1669.6 499.1,1669.4 499.5,1669.1 499.8,1668.9 500.2,1668.6 500.6,1668.2 501,1667.8 501.4,1667.4 501.8,1666.9 502.2,1666.4 502.6,1665.9 503,1665.4 503.4,1664.8 503.8,1664.3 504.2,1663.7 504.6,1663.2 505,1662.7 505.4,1662.3 505.8,1661.9 506.1,1661.6 506.5,1661.4 506.9,1661.2 507.3,1661.2 507.7,1661.2 508.1,1661.4 508.5,1661.6 508.9,1661.9 509.3,1662.3 509.7,1662.7 510.1,1663.2 510.5,1663.7 510.9,1664.3 511.3,1664.8 511.7,1665.4 512.1,1665.9 512.5,1666.4 512.8,1666.9 513.2,1667.4 513.6,1667.8 514,1668.2 514.4,1668.6 514.8,1668.9 515.2,1669.1 515.6,1669.4 516,1669.6 516.4,1669.7 516.8,1669.9 517.2,1670 517.6,1670.1 518,1670.1 518.4,1670.2 518.8,1670.3 519.1,1670.3 519.5,1670.3 519.9,1670.3 520.3,1670.3 520.7,1670.4 521.1,1670.4 521.5,1670.4 521.9,1670.4 522.3,1670.4 522.7,1670.4 523.1,1670.4 523.5,1670.4 523.9,1670.4 524.3,1670.4 524.7,1670.4 525.1,1670.4 525.4,1670.4 525.8,1670.4 526.2,1670.4 526.6,1670.4 527,1670.4 527.4,1670.4 527.8,1670.4 528.2,1670.4 528.6,1670.4 529,1670.4 529.4,1670.4 529.8,1670.4 530.2,1670.4 530.6,1670.4" fill="none" stroke="#0050f0" stroke-width="4.2" stroke-linejoin="round"/>
<polyline points="720,1670.4 720.4,1670.4 720.8,1670.4 721.2,1670.4 721.6,1670.4 722,1670.4 722.4,1670.4 722.8,1670.4 723.2,1670.4 723.6,1670.4 724,1670.4 724.4,1670.4 724.8,1670.4 725.1,1670.4 725.5,1670.4 725.9,1670.4 726.3,1670.4 726.7,1670.4 727.1,1670.3 727.5,1670.3 727.9,1670.3 728.3,1670.2 728.7,1670.2 729.1,1670.1 729.5,1669.9 729.9,1669.8 730.3,1669.5 730.7,1669.2 731.1,1668.7 731.4,1668.1 731.8,1667.3 732.2,1666.3 732.6,1665 733,1663.3 733.4,1661.1 733.8,1658.5 734.2,1655.1 734.6,1651.1 735,1646.2 735.4,1640.3 735.8,1633.3 736.2,1625.2 736.6,1615.8 737,1605 737.4,1592.8 737.7,1579.1 738.1,1564.1 738.5,1547.7 738.9,1530.1 739.3,1511.5 739.7,1492 740.1,1472 740.5,1451.8 740.9,1431.7 741.3,1412.2 741.7,1393.6 742.1,1376.5 742.5,1361.1 742.9,1348 743.3,1337.4 743.7,1329.6 744.1,1324.9 744.4,1323.3 744.8,1324.9 745.2,1329.6 745.6,1337.4 746,1348 746.4,1361.1 746.8,1376.5 747.2,1393.6 747.6,1412.2 748,1431.7 748.4,1451.8 748.8,1472 749.2,1492 749.6,1511.5 750,1530.1 750.4,1547.7 750.7,1564.1 751.1,1579.1 751.5,1592.8 751.9,1605 752.3,1615.8 752.7,1625.2 753.1,1633.3 753.5,1640.3 753.9,1646.2 754.3,1651.1 754.7,1655.1 755.1,1658.5 755.5,1661.1 755.9,1663.3 756.3,1665 756.7,1666.3 757,1667.3 757.4,1668.1 757.8,1668.7 758.2,1669.2 758.6,1669.5 759,1669.8 759.4,1669.9 759.8,1670.1 760.2,1670.2 760.6,1670.2 761,1670.3 761.4,1670.3 761.8,1670.3 762.2,1670.4 762.6,1670.4 763,1670.4 763.4,1670.4 763.7,1670.4 764.1,1670.4 764.5,1670.4 764.9,1670.4 765.3,1670.4 765.7,1670.4 766.1,1670.4 766.5,1670.4 766.9,1670.4 767.3,1670.4 767.7,1670.4 768.1,1670.4 768.5,1670.4 768.9,1670.4" fill="none" stroke="#0050f0" stroke-width="4.2" stroke-linejoin="round"/>
<polyline points="831.9,1670.4 832.3,1670.4 832.7,1670.4 833.1,1670.4 833.5,1670.4 833.9,1670.4 834.2,1670.4 834.6,1670.4 835,1670.4 835.4,1670.4 835.8,1670.4 836.2,1670.4 836.6,1670.4 837,1670.4 837.4,1670.4 837.8,1670.4 838.2,1670.4 838.6,1670.4 839,1670.4 839.4,1670.4 839.8,1670.4 840.2,1670.4 840.5,1670.3 840.9,1670.3 841.3,1670.3 841.7,1670.3 842.1,1670.2 842.5,1670.1 842.9,1670.1 843.3,1669.9 843.7,1669.8 844.1,1669.6 844.5,1669.3 844.9,1669 845.3,1668.5 845.7,1668 846.1,1667.4 846.5,1666.5 846.9,1665.6 847.2,1664.4 847.6,1663 848,1661.4 848.4,1659.5 848.8,1657.4 849.2,1655 849.6,1652.2 850,1649.2 850.4,1646 850.8,1642.5 851.2,1638.8 851.6,1634.9 852,1630.9 852.4,1626.9 852.8,1622.9 853.2,1619 853.5,1615.4 853.9,1611.9 854.3,1608.9 854.7,1606.3 855.1,1604.2 855.5,1602.6 855.9,1601.7 856.3,1601.4 856.7,1601.7 857.1,1602.6 857.5,1604.2 857.9,1606.3 858.3,1608.9 858.7,1611.9 859.1,1615.4 859.5,1619 859.8,1622.9 860.2,1626.9 860.6,1630.9 861,1634.9 861.4,1638.8 861.8,1642.5 862.2,1646 862.6,1649.2 863,1652.2 863.4,1655 863.8,1657.4 864.2,1659.5 864.6,1661.4 865,1663 865.4,1664.4 865.8,1665.6 866.2,1666.5 866.5,1667.4 866.9,1668 867.3,1668.5 867.7,1669 868.1,1669.3 868.5,1669.6 868.9,1669.8 869.3,1669.9 869.7,1670.1 870.1,1670.1 870.5,1670.2 870.9,1670.3 871.3,1670.3 871.7,1670.3 872.1,1670.3 872.5,1670.4 872.8,1670.4 873.2,1670.4 873.6,1670.4 874,1670.4 874.4,1670.4 874.8,1670.4 875.2,1670.4 875.6,1670.4 876,1670.4 876.4,1670.4 876.8,1670.4 877.2,1670.4 877.6,1670.4 878,1670.4 878.4,1670.4 878.8,1670.4 879.1,1670.4 879.5,1670.4 879.9,1670.4 880.3,1670.4 880.7,1670.4" fill="none" stroke="#0050f0" stroke-width="4.2" stroke-linejoin="round"/>
<polyline points="847.6,1670.4 848,1670.4 848.4,1670.4 848.8,1670.4 849.2,1670.4 849.6,1670.4 850,1670.4 850.4,1670.4 850.8,1670.4 851.2,1670.4 851.6,1670.4 852,1670.4 852.4,1670.4 852.8,1670.4 853.2,1670.4 853.5,1670.4 853.9,1670.4 854.3,1670.4 854.7,1670.4 855.1,1670.4 855.5,1670.4 855.9,1670.4 856.3,1670.4 856.7,1670.4 857.1,1670.4 857.5,1670.4 857.9,1670.4 858.3,1670.3 858.7,1670.3 859.1,1670.3 859.5,1670.3 859.8,1670.3 860.2,1670.2 860.6,1670.2 861,1670.1 861.4,1670 861.8,1669.9 862.2,1669.8 862.6,1669.6 863,1669.4 863.4,1669.2 863.8,1668.9 864.2,1668.6 864.6,1668.3 865,1667.9 865.4,1667.4 865.8,1667 866.2,1666.4 866.5,1665.9 866.9,1665.3 867.3,1664.6 867.7,1664 868.1,1663.3 868.5,1662.7 868.9,1662.1 869.3,1661.5 869.7,1660.9 870.1,1660.4 870.5,1660 870.9,1659.7 871.3,1659.4 871.7,1659.3 872.1,1659.2 872.5,1659.3 872.8,1659.4 873.2,1659.7 873.6,1660 874,1660.4 874.4,1660.9 874.8,1661.5 875.2,1662.1 875.6,1662.7 876,1663.3 876.4,1664 876.8,1664.6 877.2,1665.3 877.6,1665.9 878,1666.4 878.4,1667 878.8,1667.4 879.1,1667.9 879.5,1668.3 879.9,1668.6 880.3,1668.9 880.7,1669.2 881.1,1669.4 881.5,1669.6 881.9,1669.8 882.3,1669.9 882.7,1670 883.1,1670.1 883.5,1670.2 883.9,1670.2 884.3,1670.3 884.7,1670.3 885.1,1670.3 885.5,1670.3 885.8,1670.3 886.2,1670.4 886.6,1670.4 887,1670.4 887.4,1670.4 887.8,1670.4 888.2,1670.4 888.6,1670.4 889,1670.4 889.4,1670.4 889.8,1670.4 890.2,1670.4 890.6,1670.4 891,1670.4 891.4,1670.4 891.8,1670.4 892.1,1670.4 892.5,1670.4 892.9,1670.4 893.3,1670.4 893.7,1670.4 894.1,1670.4 894.5,1670.4 894.9,1670.4 895.3,1670.4 895.7,1670.4 896.1,1670.4 896.5,1670.4" fill="none" stroke="#0050f0" stroke-width="4.2" stroke-linejoin="round"/>
<polyline points="909.9,1670.4 910.3,1670.4 910.7,1670.4 911.1,1670.4 911.4,1670.4 911.8,1670.4 912.2,1670.4 912.6,1670.4 913,1670.4 913.4,1670.4 913.8,1670.4 914.2,1670.4 914.6,1670.4 915,1670.4 915.4,1670.4 915.8,1670.4 916.2,1670.4 916.6,1670.4 917,1670.4 917.4,1670.4 917.7,1670.4 918.1,1670.4 918.5,1670.4 918.9,1670.4 919.3,1670.4 919.7,1670.3 920.1,1670.3 920.5,1670.3 920.9,1670.3 921.3,1670.2 921.7,1670.1 922.1,1670.1 922.5,1669.9 922.9,1669.8 923.3,1669.6 923.7,1669.4 924.1,1669.2 924.4,1668.8 924.8,1668.4 925.2,1668 925.6,1667.4 926,1666.7 926.4,1666 926.8,1665.1 927.2,1664.1 927.6,1663 928,1661.8 928.4,1660.5 928.8,1659 929.2,1657.5 929.6,1656 930,1654.4 930.4,1652.7 930.7,1651.1 931.1,1649.5 931.5,1648 931.9,1646.6 932.3,1645.4 932.7,1644.3 933.1,1643.5 933.5,1642.8 933.9,1642.5 934.3,1642.3 934.7,1642.5 935.1,1642.8 935.5,1643.5 935.9,1644.3 936.3,1645.4 936.7,1646.6 937,1648 937.4,1649.5 937.8,1651.1 938.2,1652.7 938.6,1654.4 939,1656 939.4,1657.5 939.8,1659 940.2,1660.5 940.6,1661.8 941,1663 941.4,1664.1 941.8,1665.1 942.2,1666 942.6,1666.7 943,1667.4 943.4,1668 943.7,1668.4 944.1,1668.8 944.5,1669.2 944.9,1669.4 945.3,1669.6 945.7,1669.8 946.1,1669.9 946.5,1670.1 946.9,1670.1 947.3,1670.2 947.7,1670.3 948.1,1670.3 948.5,1670.3 948.9,1670.3 949.3,1670.4 949.7,1670.4 950,1670.4 950.4,1670.4 950.8,1670.4 951.2,1670.4 951.6,1670.4 952,1670.4 952.4,1670.4 952.8,1670.4 953.2,1670.4 953.6,1670.4 954,1670.4 954.4,1670.4 954.8,1670.4 955.2,1670.4 955.6,1670.4 956,1670.4 956.3,1670.4 956.7,1670.4 957.1,1670.4 957.5,1670.4 957.9,1670.4 958.3,1670.4 958.7,1670.4" fill="none" stroke="#0050f0" stroke-width="4.2" stroke-linejoin="round"/>
<polyline points="286,1670.4 1002.8,1670.4" fill="none" stroke="#0050f0" stroke-width="4.4" stroke-linejoin="round"/>
<polyline points="290.3,1515.2 998.7,1515.2" fill="none" stroke="#000" stroke-width="4" stroke-linejoin="round" stroke-dasharray="4.6 11.9"/>
<polyline points="310.4,1506.3 311.6,1509.6 312.8,1507.5 313.9,1502.7 315.1,1506.4 316.3,1514 317.5,1517.2 318.7,1518.2 319.8,1518.9 321,1517.3 322.2,1516.3 323.4,1515.3 324.6,1509.9 325.8,1507.4 326.9,1509.5 328.1,1511.5 329.3,1513.2 330.5,1513.7 331.7,1512.1 332.8,1513 334,1516.3 335.2,1518.4 336.4,1515.8 337.6,1511.9 338.8,1510.9 339.9,1511 341.1,1510.1 342.3,1511 343.5,1512.6 344.7,1514.6 345.8,1515.7 347,1514.5 348.2,1513.2 349.4,1512.8 350.6,1513.2 351.8,1515.6 352.9,1516.6 354.1,1516.2 355.3,1515.7 356.5,1515.9 357.7,1516.7 358.8,1517.3 360,1516.8 361.2,1516.5 362.4,1517.6 363.6,1518.8 364.7,1518.7 365.9,1517.6 367.1,1516.9 368.3,1517 369.5,1516.6 370.7,1516.2 371.8,1516.2 373,1516.1 374.2,1516 375.4,1515.1 376.6,1514.6 377.7,1515 378.9,1514.5 380.1,1513.9 381.3,1514.6 382.5,1515.6 383.7,1516.3 384.8,1516.6 386,1516.2 387.2,1515.6 388.4,1515.2 389.6,1515 390.7,1514.6 391.9,1514.3 393.1,1514.8 394.3,1516 395.5,1517.1 396.7,1517.4 397.8,1516.9 399,1516 400.2,1515.1 401.4,1514.5 402.6,1514.5 403.7,1515.2 404.9,1515.9 406.1,1516.4 407.3,1516.3 408.5,1515.7 409.7,1515.2 410.8,1515 412,1514.7 413.2,1514.7 414.4,1514.7 415.6,1514.4 416.7,1513.6 417.9,1512.7 419.1,1512 420.3,1511.8 421.5,1512.3 422.6,1513.2 423.8,1514.3 425,1515 426.2,1515.6 427.4,1516 428.6,1515.9 429.7,1515.6 430.9,1515.5 432.1,1515.4 433.3,1515.6 434.5,1515.9 435.6,1516.7 436.8,1517.1 438,1517.1 439.2,1516.9 440.4,1516.5 441.6,1516.1 442.7,1515.9 443.9,1515.5 445.1,1515 446.3,1514.1 447.5,1513.6 448.6,1513.6 449.8,1513.7 451,1514.1 452.2,1514.3 453.4,1514.4 454.6,1514.8 455.7,1515.2 456.9,1515.7 458.1,1515.9 459.3,1515.7 460.5,1515.2 461.6,1514.3 462.8,1513.5 464,1512.7 465.2,1512.2 466.4,1512.3 467.6,1512.7 468.7,1513.4 469.9,1514 471.1,1514.5 472.3,1514.9 473.5,1515.2 474.6,1515.4 475.8,1515.3 477,1515 478.2,1514.6 479.4,1514.5 480.5,1514.5 481.7,1514.9 482.9,1515.1 484.1,1515.7 485.3,1516 486.5,1515.9 487.6,1515.6 488.8,1515 490,1514.5 491.2,1514.4 492.4,1514.6 493.5,1515.1 494.7,1515.1 495.9,1515 497.1,1514.7 498.3,1514.3 499.5,1514.1 500.6,1513.9 501.8,1513.5 503,1512.7 504.2,1511.2 505.4,1509.7 506.5,1508.8 507.7,1508.8 508.9,1509.8 510.1,1511.5 511.3,1513.4 512.5,1515 513.6,1515.8 514.8,1516.1 516,1515.5 517.2,1514.6 518.4,1513.8 519.5,1513.5 520.7,1513.4 521.9,1513.6 523.1,1514 524.3,1514.6 525.4,1515.3 526.6,1516.4 527.8,1517.3 529,1517.9 530.2,1517.9 531.4,1517.5 532.5,1516.9 533.7,1516.5 534.9,1516.2 536.1,1516.1 537.3,1515.9 538.4,1515.8 539.6,1515.7 540.8,1515.9 542,1516.4 543.2,1516.8 544.4,1516.9 545.5,1516.7 546.7,1516.3 547.9,1515.7 549.1,1515.1 550.3,1514.7 551.4,1514.3 552.6,1514 553.8,1513.9 555,1514.1 556.2,1514.7 557.4,1515.8 558.5,1516.8 559.7,1517.5 560.9,1517.8 562.1,1517.4 563.3,1516.7 564.4,1515.9 565.6,1515.6 566.8,1515.8 568,1516.2 569.2,1516.5 570.4,1516.5 571.5,1516.2 572.7,1515.9 573.9,1515.8 575.1,1516 576.3,1516.3 577.4,1516.5 578.6,1516.5 579.8,1516.3 581,1515.9 582.2,1515.4 583.3,1514.7 584.5,1514.2 585.7,1513.6 586.9,1513.3 588.1,1513.4 589.3,1513.8 590.4,1514.4 591.6,1515.3 592.8,1516.1 594,1516.5 595.2,1516.7 596.3,1516.7 597.5,1516.5 598.7,1516.6 599.9,1516.7 601.1,1516.7 602.3,1516.4 603.4,1516.1 604.6,1515.8 605.8,1515.7 607,1515.9 608.2,1516.3 609.3,1516.6 610.5,1517 611.7,1517 612.9,1516.7 614.1,1516 615.3,1515.3 616.4,1515.1 617.6,1515.4 618.8,1516.2 620,1516.9 621.2,1517 622.3,1516.6 623.5,1515.8 624.7,1515.1 625.9,1514.7 627.1,1514.7 628.3,1515 629.4,1515 630.6,1514.9 631.8,1514.6 633,1514.3 634.2,1514.3 635.3,1514.6 636.5,1515.3 637.7,1515.7 638.9,1515.6 640.1,1515 641.2,1513.8 642.4,1512.7 643.6,1512 644.8,1512.1 646,1512.9 647.2,1514.1 648.3,1515.1 649.5,1515.7 650.7,1515.9 651.9,1515.6 653.1,1515.1 654.2,1514.5 655.4,1513.9 656.6,1513.3 657.8,1513 659,1513.2 660.2,1513.9 661.3,1514.7 662.5,1515.4 663.7,1515.8 664.9,1515.9 666.1,1515.7 667.2,1515.8 668.4,1515.8 669.6,1515.7 670.8,1515.5 672,1515 673.2,1514.7 674.3,1514.7 675.5,1514.8 676.7,1515 677.9,1515.1 679.1,1515 680.2,1515 681.4,1515.1 682.6,1515.3 683.8,1515.3 685,1515.4 686.2,1515.6 687.3,1515.8 688.5,1515.9 689.7,1515.9 690.9,1515.5 692.1,1515.1 693.2,1514.9 694.4,1514.7 695.6,1514.5 696.8,1514.4 698,1514.3 699.1,1514.3 700.3,1514.6 701.5,1514.8 702.7,1514.8 703.9,1514.9 705.1,1515.1 706.2,1515.4 707.4,1515.8 708.6,1516.2 709.8,1516.2 711,1515.8 712.1,1515.5 713.3,1515.1 714.5,1514.9 715.7,1514.9 716.9,1514.5 718.1,1513.6 719.2,1512.6 720.4,1511.5 721.6,1510.8 722.8,1510.8 724,1511.3 725.1,1512 726.3,1512.6 727.5,1512.9 728.7,1513 729.9,1513 731.1,1513.3 732.2,1513.9 733.4,1514.7 734.6,1515.6 735.8,1516.5 737,1517.6 738.1,1519.9 739.3,1525.1 740.5,1534.1 741.7,1546.1 742.9,1557.6 744.1,1563.7 745.2,1561.3 746.4,1551.3 747.6,1538.5 748.8,1527.4 750,1520.2 751.1,1516.7 752.3,1515.5 753.5,1515.7 754.7,1516.5 755.9,1517.4 757,1518.2 758.2,1518.3 759.4,1517.8 760.6,1516.8 761.8,1515.8 763,1515.1 764.1,1514.8 765.3,1514.7 766.5,1514.8 767.7,1515 768.9,1514.9 770,1515 771.2,1515 772.4,1515 773.6,1514.9 774.8,1514.8 776,1514.9 777.1,1515.2 778.3,1515.7 779.5,1516.2 780.7,1516.6 781.9,1516.7 783,1516.7 784.2,1516.7 785.4,1517.1 786.6,1517.7 787.8,1518.3 789,1518.9 790.1,1519 791.3,1518.9 792.5,1518.4 793.7,1517.6 794.9,1516.7 796,1515.7 797.2,1515 798.4,1514.5 799.6,1514.2 800.8,1514.4 802,1514.3 803.1,1514.2 804.3,1513.8 805.5,1513.3 806.7,1512.9 807.9,1512.8 809,1513.2 810.2,1513.7 811.4,1514 812.6,1514.2 813.8,1514.1 814.9,1514 816.1,1513.9 817.3,1514 818.5,1514.1 819.7,1514 820.9,1513.9 822,1514 823.2,1514.2 824.4,1514.3 825.6,1514.2 826.8,1513.8 827.9,1512.8 829.1,1511.9 830.3,1511.4 831.5,1511.3 832.7,1511.5 833.9,1511.8 835,1511.9 836.2,1512.1 837.4,1512.2 838.6,1512.5 839.8,1512.8 840.9,1513.1 842.1,1513.2 843.3,1513.2 844.5,1513.2 845.7,1513.5 846.9,1514.1 848,1515 849.2,1515.7 850.4,1516.2 851.6,1516.2 852.8,1516.2 853.9,1516.2 855.1,1516.5 856.3,1516.7 857.5,1516.8 858.7,1516.7 859.8,1516.3 861,1515.9 862.2,1515.5 863.4,1515.4 864.6,1515.4 865.8,1515.3 866.9,1514.7 868.1,1513.4 869.3,1511.6 870.5,1510.1 871.7,1509.6 872.8,1510.1 874,1511.2 875.2,1512.3 876.4,1513.1 877.6,1513.7 878.8,1514.4 879.9,1515.2 881.1,1516 882.3,1516.6 883.5,1517 884.7,1516.9 885.8,1516.6 887,1516.3 888.2,1516 889.4,1515.9 890.6,1515.9 891.8,1515.8 892.9,1515.8 894.1,1515.8 895.3,1515.9 896.5,1516.5 897.7,1517 898.8,1517.5 900,1517.5 901.2,1517.1 902.4,1516.4 903.6,1515.7 904.8,1515.3 905.9,1515.1 907.1,1514.8 908.3,1514.4 909.5,1514 910.7,1513.8 911.8,1513.9 913,1514.5 914.2,1515 915.4,1515 916.6,1514.6 917.7,1514.3 918.9,1514.4 920.1,1514.8 921.3,1515.5 922.5,1515.9 923.7,1515.8 924.8,1515.3 926,1514.6 927.2,1514.2 928.4,1514 929.6,1514.2 930.7,1514.6 931.9,1514.9 933.1,1515.2 934.3,1515.4 935.5,1515.6 936.7,1515.9 937.8,1516 939,1516 940.2,1515.8 941.4,1515.3 942.6,1514.8 943.7,1514.3 944.9,1513.7 946.1,1513.2 947.3,1513.2 948.5,1513.7 949.7,1514.4 950.8,1515.3 952,1515.8 953.2,1515.7 954.4,1515.1 955.6,1514.3 956.7,1513.9 957.9,1513.9 959.1,1514.2 960.3,1514.8 961.5,1515.1 962.7,1515.4 963.8,1515.6 965,1515.9 966.2,1516.3 967.4,1516.6 968.6,1516.7 969.7,1516.6 970.9,1516.4 972.1,1516.2 973.3,1515.8 974.5,1515.3 975.6,1514.9 976.8,1514.5 978,1514.3 979.2,1514.3 980.4,1514.5 981.6,1514.7 982.7,1514.7 983.9,1514.6 985.1,1514.2 986.3,1513.8 987.5,1513.6 988.6,1513.3 989.8,1513.4 991,1513.6 992.2,1513.9 993.4,1514 994.6,1514.1 995.7,1514.2 996.9,1514.6 998.1,1515.4 999.3,1516.4" fill="none" stroke="#000" stroke-width="2.3" stroke-linejoin="round"/>
<polyline points="310.4,1488.1 311.6,1485.3 312.8,1485.4 313.9,1490.1 315.1,1495.5 316.3,1493.4 317.5,1491.5 318.7,1491.3 319.8,1492.6 321,1494.1 322.2,1495.9 323.4,1499.4 324.6,1497.6 325.8,1491.6 326.9,1489.6 328.1,1487.4 329.3,1483.4 330.5,1483.3 331.7,1487.4 332.8,1487.7 334,1485.3 335.2,1485.8 336.4,1486 337.6,1486.3 338.8,1486.9 339.9,1487.2 341.1,1487.5 342.3,1485.9 343.5,1483.3 344.7,1486.1 345.8,1492.4 347,1496.5 348.2,1497.1 349.4,1495.7 350.6,1494.8 351.8,1494.8 352.9,1496.8 354.1,1498.7 355.3,1497.4 356.5,1494.2 357.7,1492.1 358.8,1492 360,1491.8 361.2,1490.2 362.4,1487.5 363.6,1485.6 364.7,1487.3 365.9,1489.4 367.1,1490.2 368.3,1490.9 369.5,1492.1 370.7,1493.7 371.8,1494 373,1493.8 374.2,1495.4 375.4,1494.6 376.6,1490.8 377.7,1488.9 378.9,1490.3 380.1,1492.2 381.3,1493 382.5,1493.6 383.7,1494.6 384.8,1495 386,1493.9 387.2,1492.4 388.4,1491.1 389.6,1490.4 390.7,1489.9 391.9,1489.9 393.1,1491.6 394.3,1491.9 395.5,1490.8 396.7,1491.3 397.8,1493.4 399,1495.5 400.2,1496.8 401.4,1496.7 402.6,1495.1 403.7,1491.9 404.9,1490.9 406.1,1491.8 407.3,1491.7 408.5,1490.9 409.7,1490.5 410.8,1490.1 412,1490.2 413.2,1490 414.4,1489.7 415.6,1490.3 416.7,1491.2 417.9,1491.1 419.1,1490.3 420.3,1491 421.5,1492 422.6,1492 423.8,1491.5 425,1490.8 426.2,1490.1 427.4,1490 428.6,1489.8 429.7,1489.4 430.9,1488.8 432.1,1489 433.3,1490.6 434.5,1491.6 435.6,1491.4 436.8,1491.4 438,1490.7 439.2,1489.3 440.4,1488.2 441.6,1487.7 442.7,1487.9 443.9,1488.3 445.1,1488.7 446.3,1489.4 447.5,1489.9 448.6,1490.2 449.8,1490.6 451,1491.7 452.2,1492.7 453.4,1493.5 454.6,1493.9 455.7,1493.7 456.9,1493 458.1,1492.4 459.3,1491.8 460.5,1491.2 461.6,1490.9 462.8,1490.6 464,1490.2 465.2,1490.2 466.4,1490.2 467.6,1490.4 468.7,1491.1 469.9,1491.9 471.1,1493 472.3,1493.4 473.5,1493.2 474.6,1493.3 475.8,1493.5 477,1493.7 478.2,1494.2 479.4,1494.6 480.5,1494.7 481.7,1494.3 482.9,1494.1 484.1,1494.5 485.3,1495.2 486.5,1496 487.6,1495.9 488.8,1495.1 490,1493.9 491.2,1492.3 492.4,1491.1 493.5,1490.6 494.7,1490.5 495.9,1490.1 497.1,1489.4 498.3,1488.6 499.5,1487.6 500.6,1486.6 501.8,1485.4 503,1483.1 504.2,1480.1 505.4,1477.1 506.5,1475 507.7,1474.4 508.9,1475.8 510.1,1478.6 511.3,1481.8 512.5,1484.7 513.6,1486.9 514.8,1488.5 516,1489.4 517.2,1489.8 518.4,1490 519.5,1490.2 520.7,1490.4 521.9,1490.3 523.1,1490.3 524.3,1490.3 525.4,1490 526.6,1489.7 527.8,1489.3 529,1489 530.2,1489.2 531.4,1490.2 532.5,1491.8 533.7,1493.1 534.9,1493.9 536.1,1493.8 537.3,1493.1 538.4,1492 539.6,1491.2 540.8,1491.2 542,1491.6 543.2,1491.9 544.4,1492.3 545.5,1492.5 546.7,1492.7 547.9,1493 549.1,1493.4 550.3,1493.8 551.4,1493.7 552.6,1493.2 553.8,1492.8 555,1492.3 556.2,1492.1 557.4,1492 558.5,1492 559.7,1492.3 560.9,1492.5 562.1,1492.6 563.3,1492.9 564.4,1493 565.6,1492.9 566.8,1492.6 568,1492 569.2,1491.6 570.4,1491.4 571.5,1491.8 572.7,1492.5 573.9,1493 575.1,1493.2 576.3,1493.1 577.4,1493.1 578.6,1493 579.8,1492.8 581,1492.8 582.2,1492.7 583.3,1492.7 584.5,1493.1 585.7,1493.2 586.9,1493 588.1,1492.3 589.3,1491.5 590.4,1490.7 591.6,1490.2 592.8,1490.2 594,1490.7 595.2,1491.3 596.3,1492.1 597.5,1492.7 598.7,1493.1 599.9,1493.2 601.1,1493.2 602.3,1493 603.4,1492.7 604.6,1492.5 605.8,1492.3 607,1492 608.2,1491.8 609.3,1491.6 610.5,1491.4 611.7,1491.6 612.9,1492.1 614.1,1492.5 615.3,1492.5 616.4,1492.1 617.6,1491.5 618.8,1490.8 620,1490.1 621.2,1489.5 622.3,1489.2 623.5,1489.3 624.7,1489.8 625.9,1490.8 627.1,1491.9 628.3,1493 629.4,1493.5 630.6,1493.5 631.8,1492.8 633,1491.6 634.2,1490.3 635.3,1489.3 636.5,1489 637.7,1489.5 638.9,1490.5 640.1,1491.5 641.2,1492.1 642.4,1492.3 643.6,1492 644.8,1491.7 646,1491.1 647.2,1490.7 648.3,1490.4 649.5,1490.3 650.7,1490.4 651.9,1490.6 653.1,1490.6 654.2,1490.9 655.4,1491.2 656.6,1491.7 657.8,1492.1 659,1492.8 660.2,1493.6 661.3,1494.4 662.5,1495 663.7,1495.4 664.9,1495.1 666.1,1494.4 667.2,1493.4 668.4,1492.9 669.6,1492.6 670.8,1492.8 672,1493.1 673.2,1493.3 674.3,1493 675.5,1492.5 676.7,1491.8 677.9,1491.1 679.1,1490.6 680.2,1490.5 681.4,1490.5 682.6,1490.4 683.8,1490.3 685,1490 686.2,1489.7 687.3,1489.8 688.5,1490 689.7,1490.2 690.9,1490.6 692.1,1490.9 693.2,1491.4 694.4,1491.8 695.6,1492.3 696.8,1492.7 698,1492.9 699.1,1493 700.3,1493 701.5,1492.7 702.7,1492.2 703.9,1491.5 705.1,1490.8 706.2,1490.2 707.4,1490.2 708.6,1490.7 709.8,1491.4 711,1492.1 712.1,1492.4 713.3,1492.5 714.5,1492.2 715.7,1492 716.9,1491.9 718.1,1492.1 719.2,1492.1 720.4,1491.9 721.6,1491.6 722.8,1491.5 724,1491.6 725.1,1491.6 726.3,1491.1 727.5,1490.2 728.7,1489.1 729.9,1488.2 731.1,1487.1 732.2,1485.5 733.4,1481.8 734.6,1473.9 735.8,1458.9 737,1434.6 738.1,1399.4 739.3,1353.8 740.5,1302 741.7,1251.3 742.9,1211.1 744.1,1190.3 745.2,1194.1 746.4,1221.5 747.6,1266.2 748.8,1318.5 750,1369.2 751.1,1411.5 752.3,1443.1 753.5,1464.4 754.7,1477.5 755.9,1484.9 757,1488.8 758.2,1490.7 759.4,1491.5 760.6,1491.8 761.8,1492 763,1492.3 764.1,1492.8 765.3,1493.1 766.5,1493.3 767.7,1492.9 768.9,1492.4 770,1491.9 771.2,1491.5 772.4,1491.4 773.6,1491.7 774.8,1492.2 776,1492.8 777.1,1493.4 778.3,1494.1 779.5,1494.6 780.7,1494.6 781.9,1494.3 783,1493.6 784.2,1492.3 785.4,1490.9 786.6,1489.7 787.8,1488.7 789,1488.3 790.1,1488.4 791.3,1489.4 792.5,1490.6 793.7,1492 794.9,1492.6 796,1492.1 797.2,1490.7 798.4,1489.3 799.6,1488.4 800.8,1488.6 802,1489.8 803.1,1491.1 804.3,1492 805.5,1492.4 806.7,1492 807.9,1491.3 809,1490.2 810.2,1489.1 811.4,1488.5 812.6,1488.4 813.8,1489.4 814.9,1490.7 816.1,1492.1 817.3,1493.2 818.5,1493.8 819.7,1494 820.9,1493.9 822,1493.9 823.2,1494 824.4,1493.8 825.6,1493.5 826.8,1492.8 827.9,1492 829.1,1491.3 830.3,1491.2 831.5,1491.3 832.7,1491.6 833.9,1491.9 835,1492.1 836.2,1492.3 837.4,1492.6 838.6,1492.7 839.8,1492.4 840.9,1491.7 842.1,1490.9 843.3,1490.4 844.5,1490.1 845.7,1489.6 846.9,1487.7 848,1483.9 849.2,1477.6 850.4,1468.6 851.6,1457.4 852.8,1445.4 853.9,1434.4 855.1,1426.6 856.3,1423.7 857.5,1426.7 858.7,1434.5 859.8,1445.6 861,1457.8 862.2,1468.9 863.4,1477.4 864.6,1482.9 865.8,1485.5 866.9,1485.7 868.1,1483.9 869.3,1481 870.5,1478 871.7,1476 872.8,1476 874,1477.7 875.2,1480.5 876.4,1483.3 877.6,1485.8 878.8,1487.8 879.9,1489.5 881.1,1490.6 882.3,1491.7 883.5,1492.4 884.7,1492.9 885.8,1493.4 887,1493.6 888.2,1493.2 889.4,1492.4 890.6,1491.3 891.8,1490.6 892.9,1490.3 894.1,1490.5 895.3,1490.8 896.5,1490.8 897.7,1491.2 898.8,1491.8 900,1492.7 901.2,1493.7 902.4,1494.2 903.6,1493.9 904.8,1492.7 905.9,1491.5 907.1,1490.8 908.3,1490.5 909.5,1490.8 910.7,1491.4 911.8,1491.7 913,1491.8 914.2,1491.6 915.4,1491.2 916.6,1490.6 917.7,1490.1 918.9,1489.6 920.1,1489.5 921.3,1489.4 922.5,1488.9 923.7,1487.9 924.8,1486.1 926,1483.3 927.2,1479.6 928.4,1475 929.6,1469.6 930.7,1464.1 931.9,1459.4 933.1,1456.6 934.3,1456.1 935.5,1458.2 936.7,1462.6 937.8,1468.1 939,1473.9 940.2,1479.1 941.4,1483.3 942.6,1486.5 943.7,1488.5 944.9,1489.5 946.1,1489.8 947.3,1489.9 948.5,1489.9 949.7,1490.1 950.8,1490.3 952,1490.3 953.2,1490.3 954.4,1490.1 955.6,1489.7 956.7,1489.1 957.9,1488.5 959.1,1488.2 960.3,1488.3 961.5,1488.8 962.7,1489.6 963.8,1490 965,1490.1 966.2,1490 967.4,1490 968.6,1490.3 969.7,1491 970.9,1491.8 972.1,1492.3 973.3,1492.5 974.5,1492.3 975.6,1491.9 976.8,1491.4 978,1490.9 979.2,1490.6 980.4,1490.6 981.6,1491 982.7,1491.3 983.9,1491.3 985.1,1491.3 986.3,1490.7 987.5,1490.2 988.6,1489.8 989.8,1489.6 991,1490 992.2,1490.6 993.4,1490.9 994.6,1490.6 995.7,1489.9 996.9,1489.2 998.1,1488.9 999.3,1489.3" fill="none" stroke="#000" stroke-width="5.2" stroke-linejoin="round"/>
<polyline points="310.4,1491.7 311.6,1491.7 312.8,1491.8 313.9,1491.8 315.1,1491.8 316.3,1491.8 317.5,1491.8 318.7,1491.8 319.8,1491.8 321,1491.7 322.2,1491.6 323.4,1491.4 324.6,1491.1 325.8,1490.7 326.9,1490.2 328.1,1489.5 329.3,1489 330.5,1488.5 331.7,1488.4 332.8,1488.6 334,1489 335.2,1489.6 336.4,1490.2 337.6,1490.8 338.8,1491.2 339.9,1491.5 341.1,1491.7 342.3,1491.9 343.5,1491.9 344.7,1491.9 345.8,1492 347,1492 348.2,1492 349.4,1492 350.6,1492 351.8,1492 352.9,1492 354.1,1492 355.3,1492 356.5,1492 357.7,1492 358.8,1492 360,1492.1 361.2,1492.1 362.4,1492.1 363.6,1492.1 364.7,1492.1 365.9,1492.1 367.1,1492.1 368.3,1492.1 369.5,1492.1 370.7,1492.1 371.8,1492.1 373,1492.1 374.2,1492.1 375.4,1492.2 376.6,1492.2 377.7,1492.2 378.9,1492.2 380.1,1492.2 381.3,1492.2 382.5,1492.2 383.7,1492.2 384.8,1492.2 386,1492.2 387.2,1492.2 388.4,1492.2 389.6,1492.2 390.7,1492.2 391.9,1492.3 393.1,1492.3 394.3,1492.3 395.5,1492.3 396.7,1492.3 397.8,1492.3 399,1492.3 400.2,1492.3 401.4,1492.3 402.6,1492.3 403.7,1492.3 404.9,1492.3 406.1,1492.3 407.3,1492.4 408.5,1492.4 409.7,1492.4 410.8,1492.4 412,1492.4 413.2,1492.4 414.4,1492.4 415.6,1492.4 416.7,1492.4 417.9,1492.4 419.1,1492.4 420.3,1492.4 421.5,1492.4 422.6,1492.4 423.8,1492.4 425,1492.4 426.2,1492.4 427.4,1492.4 428.6,1492.4 429.7,1492.4 430.9,1492.3 432.1,1492.3 433.3,1492.3 434.5,1492.2 435.6,1492 436.8,1491.7 438,1491.3 439.2,1490.6 440.4,1489.9 441.6,1489.2 442.7,1488.7 443.9,1488.4 445.1,1488.5 446.3,1488.9 447.5,1489.5 448.6,1490.2 449.8,1490.9 451,1491.4 452.2,1491.8 453.4,1492.1 454.6,1492.2 455.7,1492.3 456.9,1492.3 458.1,1492.3 459.3,1492.4 460.5,1492.4 461.6,1492.4 462.8,1492.4 464,1492.4 465.2,1492.4 466.4,1492.4 467.6,1492.4 468.7,1492.4 469.9,1492.4 471.1,1492.4 472.3,1492.4 473.5,1492.4 474.6,1492.4 475.8,1492.4 477,1492.4 478.2,1492.4 479.4,1492.4 480.5,1492.4 481.7,1492.4 482.9,1492.4 484.1,1492.4 485.3,1492.4 486.5,1492.4 487.6,1492.4 488.8,1492.4 490,1492.4 491.2,1492.4 492.4,1492.3 493.5,1492.3 494.7,1492.3 495.9,1492.2 497.1,1492 498.3,1491.7 499.5,1491 500.6,1490 501.8,1488.6 503,1486.9 504.2,1485.1 505.4,1483.6 506.5,1482.6 507.7,1482.5 508.9,1483.2 510.1,1484.6 511.3,1486.3 512.5,1488.1 513.6,1489.6 514.8,1490.7 516,1491.5 517.2,1491.9 518.4,1492.2 519.5,1492.3 520.7,1492.3 521.9,1492.3 523.1,1492.4 524.3,1492.4 525.4,1492.4 526.6,1492.4 527.8,1492.4 529,1492.4 530.2,1492.4 531.4,1492.4 532.5,1492.4 533.7,1492.4 534.9,1492.4 536.1,1492.4 537.3,1492.4 538.4,1492.4 539.6,1492.4 540.8,1492.4 542,1492.4 543.2,1492.4 544.4,1492.4 545.5,1492.4 546.7,1492.4 547.9,1492.4 549.1,1492.4 550.3,1492.4 551.4,1492.4 552.6,1492.4 553.8,1492.4 555,1492.4 556.2,1492.4 557.4,1492.4 558.5,1492.4 559.7,1492.4 560.9,1492.4 562.1,1492.4 563.3,1492.4 564.4,1492.4 565.6,1492.4 566.8,1492.4 568,1492.4 569.2,1492.4 570.4,1492.4 571.5,1492.4 572.7,1492.4 573.9,1492.4 575.1,1492.4 576.3,1492.4 577.4,1492.4 578.6,1492.4 579.8,1492.4 581,1492.4 582.2,1492.4 583.3,1492.4 584.5,1492.4 585.7,1492.4 586.9,1492.4 588.1,1492.4 589.3,1492.4 590.4,1492.4 591.6,1492.4 592.8,1492.4 594,1492.4 595.2,1492.4 596.3,1492.4 597.5,1492.4 598.7,1492.4 599.9,1492.4 601.1,1492.4 602.3,1492.4 603.4,1492.4 604.6,1492.4 605.8,1492.4 607,1492.4 608.2,1492.4 609.3,1492.4 610.5,1492.4 611.7,1492.4 612.9,1492.4 614.1,1492.4 615.3,1492.4 616.4,1492.4 617.6,1492.4 618.8,1492.4 620,1492.4 621.2,1492.4 622.3,1492.4 623.5,1492.4 624.7,1492.4 625.9,1492.4 627.1,1492.4 628.3,1492.4 629.4,1492.4 630.6,1492.4 631.8,1492.4 633,1492.4 634.2,1492.4 635.3,1492.4 636.5,1492.4 637.7,1492.4 638.9,1492.4 640.1,1492.4 641.2,1492.4 642.4,1492.4 643.6,1492.4 644.8,1492.4 646,1492.3 647.2,1492.3 648.3,1492.3 649.5,1492.3 650.7,1492.3 651.9,1492.3 653.1,1492.3 654.2,1492.3 655.4,1492.3 656.6,1492.3 657.8,1492.3 659,1492.3 660.2,1492.3 661.3,1492.3 662.5,1492.3 663.7,1492.3 664.9,1492.3 666.1,1492.3 667.2,1492.3 668.4,1492.3 669.6,1492.3 670.8,1492.2 672,1492.2 673.2,1492.2 674.3,1492.2 675.5,1492.2 676.7,1492.2 677.9,1492.2 679.1,1492.2 680.2,1492.2 681.4,1492.2 682.6,1492.2 683.8,1492.2 685,1492.2 686.2,1492.2 687.3,1492.2 688.5,1492.2 689.7,1492.2 690.9,1492.2 692.1,1492.2 693.2,1492.2 694.4,1492.1 695.6,1492.1 696.8,1492.1 698,1492.1 699.1,1492.1 700.3,1492.1 701.5,1492.1 702.7,1492.1 703.9,1492.1 705.1,1492.1 706.2,1492.1 707.4,1492.1 708.6,1492.1 709.8,1492.1 711,1492.1 712.1,1492.1 713.3,1492.1 714.5,1492.1 715.7,1492.1 716.9,1492.1 718.1,1492 719.2,1492 720.4,1492 721.6,1492 722.8,1492 724,1492 725.1,1492 726.3,1492 727.5,1491.9 728.7,1491.8 729.9,1491.4 731.1,1490.4 732.2,1488 733.4,1482.9 734.6,1473.1 735.8,1455.7 737,1427.9 738.1,1387.8 739.3,1336.2 740.5,1277.7 741.7,1220.7 742.9,1176 744.1,1153.3 745.2,1158 746.4,1188.9 747.6,1238.9 748.8,1297.5 750,1354.4 751.1,1402.5 752.3,1438.4 753.5,1462.4 754.7,1476.9 755.9,1484.9 757,1488.9 758.2,1490.7 759.4,1491.4 760.6,1491.7 761.8,1491.8 763,1491.8 764.1,1491.8 765.3,1491.8 766.5,1491.8 767.7,1491.8 768.9,1491.8 770,1491.8 771.2,1491.8 772.4,1491.8 773.6,1491.8 774.8,1491.8 776,1491.8 777.1,1491.8 778.3,1491.8 779.5,1491.8 780.7,1491.8 781.9,1491.8 783,1491.8 784.2,1491.8 785.4,1491.8 786.6,1491.8 787.8,1491.8 789,1491.7 790.1,1491.7 791.3,1491.7 792.5,1491.7 793.7,1491.7 794.9,1491.7 796,1491.7 797.2,1491.7 798.4,1491.7 799.6,1491.7 800.8,1491.7 802,1491.7 803.1,1491.7 804.3,1491.7 805.5,1491.7 806.7,1491.7 807.9,1491.7 809,1491.7 810.2,1491.7 811.4,1491.7 812.6,1491.6 813.8,1491.6 814.9,1491.6 816.1,1491.6 817.3,1491.6 818.5,1491.6 819.7,1491.6 820.9,1491.6 822,1491.6 823.2,1491.6 824.4,1491.6 825.6,1491.6 826.8,1491.6 827.9,1491.6 829.1,1491.6 830.3,1491.6 831.5,1491.6 832.7,1491.6 833.9,1491.6 835,1491.6 836.2,1491.5 837.4,1491.5 838.6,1491.5 839.8,1491.5 840.9,1491.5 842.1,1491.4 843.3,1491.1 844.5,1490.5 845.7,1489.2 846.9,1486.8 848,1482.8 849.2,1476.5 850.4,1467.8 851.6,1457 852.8,1445.4 853.9,1434.7 855.1,1427.2 856.3,1424.4 857.5,1427.1 858.7,1434.6 859.8,1445.2 861,1456.7 862.2,1467.1 863.4,1475.3 864.6,1480.6 865.8,1483.3 866.9,1484 868.1,1483.3 869.3,1482.1 870.5,1480.9 871.7,1480.2 872.8,1480.4 874,1481.4 875.2,1483.1 876.4,1485 877.6,1486.9 878.8,1488.4 879.9,1489.6 881.1,1490.4 882.3,1490.8 883.5,1491.1 884.7,1491.2 885.8,1491.2 887,1491.2 888.2,1491.2 889.4,1491.2 890.6,1491.2 891.8,1491.2 892.9,1491.1 894.1,1491.1 895.3,1491.1 896.5,1491.1 897.7,1491 898.8,1491 900,1491 901.2,1491 902.4,1491 903.6,1490.9 904.8,1490.9 905.9,1490.9 907.1,1490.9 908.3,1490.8 909.5,1490.8 910.7,1490.8 911.8,1490.8 913,1490.8 914.2,1490.7 915.4,1490.7 916.6,1490.7 917.7,1490.7 918.9,1490.6 920.1,1490.5 921.3,1490.4 922.5,1490.1 923.7,1489.5 924.8,1488.4 926,1486.5 927.2,1483.5 928.4,1479.5 929.6,1474.5 930.7,1469.1 931.9,1464.1 933.1,1460.6 934.3,1459.3 935.5,1460.6 936.7,1464 937.8,1468.9 939,1474.3 940.2,1479.3 941.4,1483.3 942.6,1486.2 943.7,1488 944.9,1489.1 946.1,1489.6 947.3,1489.9 948.5,1490 949.7,1490 950.8,1490 952,1490 953.2,1490 954.4,1490 955.6,1489.9 956.7,1489.9 957.9,1489.9 959.1,1489.9 960.3,1489.9 961.5,1489.8 962.7,1489.8 963.8,1489.8 965,1489.8 966.2,1489.7 967.4,1489.7 968.6,1489.7 969.7,1489.7 970.9,1489.7 972.1,1489.6 973.3,1489.6 974.5,1489.6 975.6,1489.6 976.8,1489.5 978,1489.5 979.2,1489.5 980.4,1489.5 981.6,1489.5 982.7,1489.4 983.9,1489.4 985.1,1489.4 986.3,1489.4 987.5,1489.3 988.6,1489.3 989.8,1489.3 991,1489.3 992.2,1489.3 993.4,1489.2 994.6,1489.2 995.7,1489.2 996.9,1489.2 998.1,1489.1 999.3,1489.1" fill="none" stroke="#ff1a22" stroke-width="4.4" stroke-linejoin="round" stroke-dasharray="24 11.5 6.4 11.5"/>
</svg>
<path d="M331.7 1081V1433.9M444.3 1081V1437.6M507.3 1081V1428.3M744.4 1081V1566M856.3 1081V1381.6M872.1 1081V1428.3M933.5 1081V1411.5M935.9 1081V1411.5" stroke="#000" stroke-width="2" stroke-dasharray="6 10.5" fill="none"/>
<rect x="290.3" y="1079" width="708.4" height="603.5" fill="none" stroke="#000" stroke-width="3.6"/>
<path d="M329.3 1682.5v-9M329.3 1079v9M486.9 1682.5v-9M486.9 1079v9M644.4 1682.5v-9M644.4 1079v9M802 1682.5v-9M802 1079v9M959.5 1682.5v-9M959.5 1079v9M289.9 1682.5v-4M289.9 1079v4M329.3 1682.5v-4M329.3 1079v4M368.7 1682.5v-4M368.7 1079v4M408.1 1682.5v-4M408.1 1079v4M447.5 1682.5v-4M447.5 1079v4M486.9 1682.5v-4M486.9 1079v4M526.2 1682.5v-4M526.2 1079v4M565.6 1682.5v-4M565.6 1079v4M605 1682.5v-4M605 1079v4M644.4 1682.5v-4M644.4 1079v4M683.8 1682.5v-4M683.8 1079v4M723.2 1682.5v-4M723.2 1079v4M762.6 1682.5v-4M762.6 1079v4M802 1682.5v-4M802 1079v4M841.3 1682.5v-4M841.3 1079v4M880.7 1682.5v-4M880.7 1079v4M920.1 1682.5v-4M920.1 1079v4M959.5 1682.5v-4M959.5 1079v4M998.9 1682.5v-4M998.9 1079v4M290.3 1639.4h12.6M998.7 1639.4h-12.6M290.3 1515.2h12.6M998.7 1515.2h-12.6M290.3 1391h12.6M998.7 1391h-12.6M290.3 1266.9h12.6M998.7 1266.9h-12.6M290.3 1142.8h12.6M998.7 1142.8h-12.6M290.3 1664.2h5.8M998.7 1664.2h-5.8M290.3 1639.4h5.8M998.7 1639.4h-5.8M290.3 1614.5h5.8M998.7 1614.5h-5.8M290.3 1589.7h5.8M998.7 1589.7h-5.8M290.3 1564.9h5.8M998.7 1564.9h-5.8M290.3 1540h5.8M998.7 1540h-5.8M290.3 1515.2h5.8M998.7 1515.2h-5.8M290.3 1490.4h5.8M998.7 1490.4h-5.8M290.3 1465.5h5.8M998.7 1465.5h-5.8M290.3 1440.7h5.8M998.7 1440.7h-5.8M290.3 1415.9h5.8M998.7 1415.9h-5.8M290.3 1391h5.8M998.7 1391h-5.8M290.3 1366.2h5.8M998.7 1366.2h-5.8M290.3 1341.4h5.8M998.7 1341.4h-5.8M290.3 1316.6h5.8M998.7 1316.6h-5.8M290.3 1291.7h5.8M998.7 1291.7h-5.8M290.3 1266.9h5.8M998.7 1266.9h-5.8M290.3 1242.1h5.8M998.7 1242.1h-5.8M290.3 1217.2h5.8M998.7 1217.2h-5.8M290.3 1192.4h5.8M998.7 1192.4h-5.8M290.3 1167.6h5.8M998.7 1167.6h-5.8M290.3 1142.8h5.8M998.7 1142.8h-5.8M290.3 1117.9h5.8M998.7 1117.9h-5.8M290.3 1093.1h5.8M998.7 1093.1h-5.8" stroke="#000" stroke-width="3.4" fill="none"/>
<text x="329.3" y="1736.2" font-size="40" fill="#000" stroke="#000" stroke-width="0.5" text-anchor="middle" textLength="88" lengthAdjust="spacing">3200</text>
<text x="486.9" y="1736.2" font-size="40" fill="#000" stroke="#000" stroke-width="0.5" text-anchor="middle" textLength="88" lengthAdjust="spacing">3400</text>
<text x="644.4" y="1736.2" font-size="40" fill="#000" stroke="#000" stroke-width="0.5" text-anchor="middle" textLength="88" lengthAdjust="spacing">3600</text>
<text x="802" y="1736.2" font-size="40" fill="#000" stroke="#000" stroke-width="0.5" text-anchor="middle" textLength="88" lengthAdjust="spacing">3800</text>
<text x="959.5" y="1736.2" font-size="40" fill="#000" stroke="#000" stroke-width="0.5" text-anchor="middle" textLength="88" lengthAdjust="spacing">4000</text>
<text x="276" y="1654.7" font-size="40" fill="#000" stroke="#000" stroke-width="0.5" text-anchor="end" textLength="89.5" lengthAdjust="spacing">&#8722;500</text>
<text x="276" y="1530.5" font-size="40" fill="#000" stroke="#000" stroke-width="0.5" text-anchor="end" textLength="21.5" lengthAdjust="spacing">0</text>
<text x="276" y="1406.3" font-size="40" fill="#000" stroke="#000" stroke-width="0.5" text-anchor="end" textLength="64.5" lengthAdjust="spacing">500</text>
<text x="276" y="1282.2" font-size="40" fill="#000" stroke="#000" stroke-width="0.5" text-anchor="end" textLength="86" lengthAdjust="spacing">1000</text>
<text x="276" y="1158" font-size="40" fill="#000" stroke="#000" stroke-width="0.5" text-anchor="end" textLength="86" lengthAdjust="spacing">1500</text>
<text transform="translate(350.9 1200.6) rotate(-90)" font-size="36" fill="#000" stroke="#000" stroke-width="0.2" textLength="61.6" lengthAdjust="spacingAndGlyphs">HeII</text>
<text transform="translate(441.5 1198.8) rotate(-90)" font-size="36" fill="#ff1a22" stroke="#ff1a22" stroke-width="0.2" textLength="84" lengthAdjust="spacingAndGlyphs">[NeV]</text>
<text transform="translate(505 1198.8) rotate(-90)" font-size="36" fill="#000" stroke="#000" stroke-width="0.2" textLength="84" lengthAdjust="spacingAndGlyphs">[NeV]</text>
<text transform="translate(742 1198.8) rotate(-90)" font-size="36" fill="#000" stroke="#000" stroke-width="0.2" textLength="65.4" lengthAdjust="spacingAndGlyphs">[OII]</text>
<text transform="translate(854 1198.8) rotate(-90)" font-size="36" fill="#000" stroke="#000" stroke-width="0.2" textLength="97.1" lengthAdjust="spacingAndGlyphs">[NeIII]</text>
<text transform="translate(890.2 1252.9) rotate(-90)" font-size="36" fill="#000" stroke="#000" stroke-width="0.2" textLength="41.1" lengthAdjust="spacingAndGlyphs">H5</text>
<text transform="translate(932.3 1198.8) rotate(-90)" font-size="36" fill="#000" stroke="#000" stroke-width="0.2" textLength="97.1" lengthAdjust="spacingAndGlyphs">[NeIII]</text>
<text transform="translate(953.6 1252.9) rotate(-90)" font-size="36" fill="#000" stroke="#000" stroke-width="0.2" textLength="39.2" lengthAdjust="spacingAndGlyphs">He</text>
<text x="590.2" y="1781.8" font-size="38">&#955;<tspan font-size="25" font-weight="bold" dy="10" letter-spacing="1.5">r.f.</tspan><tspan dy="-10" dx="2">[&#197;]</tspan></text>
<text transform="translate(148 1618) rotate(-90)" font-size="42" textLength="470" lengthAdjust="spacingAndGlyphs">flux[10<tspan font-size="28" dy="-18">&#8722;17</tspan><tspan dy="18">erg s</tspan><tspan font-size="28" dy="-18">&#8722;1</tspan><tspan dy="18">cm</tspan><tspan font-size="28" dy="-18">&#8722;2</tspan><tspan dy="18">&#197;</tspan><tspan font-size="28" dy="-18">&#8722;1</tspan><tspan dy="18">]</tspan></text>
<svg x="1197.5" y="1079" width="708.5" height="603.5" viewBox="1197.5 1079 708.5 603.5" overflow="hidden">
<polyline points="1188.7,1668.9 1189.6,1668.9 1190.5,1668.9 1191.4,1668.9 1192.3,1668.9 1193.2,1668.9 1194.1,1668.9 1195,1668.9 1195.8,1668.9 1196.7,1668.9 1197.6,1668.9 1198.5,1668.9 1199.4,1668.9 1200.3,1668.9 1201.2,1668.9 1202,1668.9 1202.9,1668.9 1203.8,1668.9 1204.7,1668.9 1205.6,1668.9 1206.5,1668.9 1207.4,1668.9 1208.3,1668.9 1209.1,1668.9 1210,1668.9 1210.9,1668.9 1211.8,1668.9 1212.7,1668.9 1213.6,1668.9 1214.5,1668.9 1215.4,1668.9 1216.2,1668.9 1217.1,1668.9 1218,1668.9 1218.9,1668.9 1219.8,1668.9 1220.7,1668.9 1221.6,1668.9 1222.4,1668.9 1223.3,1668.9 1224.2,1668.9 1225.1,1668.9 1226,1668.9 1226.9,1668.9 1227.8,1668.9 1228.7,1668.9 1229.5,1668.9 1230.4,1668.9 1231.3,1668.9 1232.2,1668.9 1233.1,1668.9 1234,1668.9 1234.9,1668.9 1235.7,1668.9 1236.6,1668.9 1237.5,1668.9 1238.4,1668.9 1239.3,1668.9 1240.2,1668.9 1241.1,1668.9 1242,1668.9 1242.8,1668.9 1243.7,1668.9 1244.6,1668.9 1245.5,1668.9 1246.4,1668.9 1247.3,1668.9 1248.2,1668.9 1249.1,1668.9 1249.9,1668.9 1250.8,1668.9 1251.7,1668.9 1252.6,1668.9 1253.5,1668.9 1254.4,1668.9 1255.3,1668.9 1256.1,1668.9 1257,1668.9 1257.9,1668.9 1258.8,1668.9 1259.7,1668.9 1260.6,1668.9 1261.5,1668.9 1262.4,1668.9 1263.2,1668.9 1264.1,1668.9 1265,1668.9 1265.9,1668.9 1266.8,1668.9 1267.7,1668.9 1268.6,1668.9 1269.4,1668.9 1270.3,1668.9 1271.2,1668.9 1272.1,1668.9 1273,1668.9 1273.9,1668.9 1274.8,1668.9 1275.7,1668.9 1276.5,1668.9 1277.4,1668.9 1278.3,1668.9 1279.2,1668.9 1280.1,1668.9 1281,1668.9 1281.9,1668.9 1282.8,1668.9 1283.6,1668.9 1284.5,1668.9 1285.4,1668.9 1286.3,1668.9 1287.2,1668.9 1288.1,1668.9 1289,1668.9 1289.8,1668.9 1290.7,1668.9 1291.6,1668.9 1292.5,1668.9 1293.4,1668.9 1294.3,1668.9 1295.2,1668.9 1296.1,1668.9 1296.9,1668.9 1297.8,1668.9 1298.7,1668.9 1299.6,1668.9 1300.5,1668.9 1301.4,1668.9 1302.3,1668.9 1303.2,1668.9 1304,1668.9 1304.9,1668.9 1305.8,1668.9 1306.7,1668.9 1307.6,1668.9 1308.5,1668.9 1309.4,1668.9 1310.2,1668.9 1311.1,1668.9 1312,1668.9 1312.9,1668.9 1313.8,1668.9 1314.7,1668.9 1315.6,1668.9 1316.5,1668.9 1317.3,1668.9 1318.2,1668.9 1319.1,1668.9 1320,1668.9 1320.9,1668.9 1321.8,1668.9 1322.7,1668.9 1323.5,1668.9 1324.4,1668.9 1325.3,1668.9 1326.2,1668.9 1327.1,1668.9 1328,1668.9 1328.9,1668.9 1329.8,1668.9 1330.6,1668.9 1331.5,1668.9 1332.4,1668.9 1333.3,1668.9 1334.2,1668.9 1335.1,1668.9 1336,1668.9 1336.9,1668.9 1337.7,1668.9 1338.6,1668.9 1339.5,1668.9 1340.4,1668.9 1341.3,1668.9 1342.2,1668.9 1343.1,1668.9 1343.9,1668.9 1344.8,1668.9 1345.7,1668.9 1346.6,1668.9 1347.5,1668.9 1348.4,1668.9 1349.3,1668.9 1350.2,1668.9 1351,1668.9 1351.9,1668.9 1352.8,1668.9 1353.7,1668.9 1354.6,1668.9 1355.5,1668.9 1356.4,1668.9 1357.2,1668.9 1358.1,1668.9 1359,1668.9 1359.9,1668.9 1360.8,1668.8 1361.7,1668.8 1362.6,1668.8 1363.5,1668.8 1364.3,1668.8 1365.2,1668.8 1366.1,1668.8 1367,1668.8 1367.9,1668.8 1368.8,1668.8 1369.7,1668.8 1370.6,1668.8 1371.4,1668.8 1372.3,1668.8 1373.2,1668.8 1374.1,1668.8 1375,1668.8 1375.9,1668.8 1376.8,1668.8 1377.6,1668.8 1378.5,1668.8 1379.4,1668.7 1380.3,1668.7 1381.2,1668.7 1382.1,1668.7 1383,1668.7 1383.9,1668.7 1384.7,1668.7 1385.6,1668.7 1386.5,1668.7 1387.4,1668.7 1388.3,1668.7 1389.2,1668.7 1390.1,1668.6 1390.9,1668.6 1391.8,1668.6 1392.7,1668.6 1393.6,1668.6 1394.5,1668.6 1395.4,1668.6 1396.3,1668.6 1397.2,1668.6 1398,1668.5 1398.9,1668.5 1399.8,1668.5 1400.7,1668.5 1401.6,1668.5 1402.5,1668.5 1403.4,1668.5 1404.3,1668.4 1405.1,1668.4 1406,1668.4 1406.9,1668.4 1407.8,1668.4 1408.7,1668.4 1409.6,1668.3 1410.5,1668.3 1411.3,1668.3 1412.2,1668.3 1413.1,1668.3 1414,1668.2 1414.9,1668.2 1415.8,1668.2 1416.7,1668.2 1417.6,1668.2 1418.4,1668.1 1419.3,1668.1 1420.2,1668.1 1421.1,1668.1 1422,1668 1422.9,1668 1423.8,1668 1424.6,1668 1425.5,1667.9 1426.4,1667.9 1427.3,1667.9 1428.2,1667.8 1429.1,1667.8 1430,1667.8 1430.9,1667.7 1431.7,1667.7 1432.6,1667.7 1433.5,1667.6 1434.4,1667.6 1435.3,1667.6 1436.2,1667.5 1437.1,1667.5 1438,1667.4 1438.8,1667.4 1439.7,1667.4 1440.6,1667.3 1441.5,1667.3 1442.4,1667.2 1443.3,1667.2 1444.2,1667.2 1445,1667.1 1445.9,1667.1 1446.8,1667 1447.7,1667 1448.6,1666.9 1449.5,1666.9 1450.4,1666.8 1451.3,1666.8 1452.1,1666.7 1453,1666.7 1453.9,1666.6 1454.8,1666.6 1455.7,1666.5 1456.6,1666.4 1457.5,1666.4 1458.3,1666.3 1459.2,1666.3 1460.1,1666.2 1461,1666.2 1461.9,1666.1 1462.8,1666 1463.7,1666 1464.6,1665.9 1465.4,1665.8 1466.3,1665.8 1467.2,1665.7 1468.1,1665.6 1469,1665.6 1469.9,1665.5 1470.8,1665.4 1471.7,1665.4 1472.5,1665.3 1473.4,1665.2 1474.3,1665.1 1475.2,1665.1 1476.1,1665 1477,1664.9 1477.9,1664.8 1478.7,1664.8 1479.6,1664.7 1480.5,1664.6 1481.4,1664.5 1482.3,1664.5 1483.2,1664.4 1484.1,1664.3 1485,1664.2 1485.8,1664.1 1486.7,1664 1487.6,1664 1488.5,1663.9 1489.4,1663.8 1490.3,1663.7 1491.2,1663.6 1492,1663.5 1492.9,1663.5 1493.8,1663.4 1494.7,1663.3 1495.6,1663.2 1496.5,1663.1 1497.4,1663 1498.3,1662.9 1499.1,1662.8 1500,1662.8 1500.9,1662.7 1501.8,1662.6 1502.7,1662.5 1503.6,1662.4 1504.5,1662.3 1505.4,1662.2 1506.2,1662.1 1507.1,1662 1508,1662 1508.9,1661.9 1509.8,1661.8 1510.7,1661.7 1511.6,1661.6 1512.4,1661.5 1513.3,1661.4 1514.2,1661.3 1515.1,1661.2 1516,1661.2 1516.9,1661.1 1517.8,1661 1518.7,1660.9 1519.5,1660.8 1520.4,1660.7 1521.3,1660.6 1522.2,1660.6 1523.1,1660.5 1524,1660.4 1524.9,1660.3 1525.7,1660.2 1526.6,1660.1 1527.5,1660.1 1528.4,1660 1529.3,1659.9 1530.2,1659.8 1531.1,1659.8 1532,1659.7 1532.8,1659.6 1533.7,1659.5 1534.6,1659.5 1535.5,1659.4 1536.4,1659.3 1537.3,1659.2 1538.2,1659.2 1539.1,1659.1 1539.9,1659 1540.8,1659 1541.7,1658.9 1542.6,1658.9 1543.5,1658.8 1544.4,1658.7 1545.3,1658.7 1546.1,1658.6 1547,1658.6 1547.9,1658.5 1548.8,1658.5 1549.7,1658.4 1550.6,1658.4 1551.5,1658.3 1552.4,1658.3 1553.2,1658.2 1554.1,1658.2 1555,1658.1 1555.9,1658.1 1556.8,1658.1 1557.7,1658 1558.6,1658 1559.4,1658 1560.3,1657.9 1561.2,1657.9 1562.1,1657.9 1563,1657.9 1563.9,1657.8 1564.8,1657.8 1565.7,1657.8 1566.5,1657.8 1567.4,1657.8 1568.3,1657.8 1569.2,1657.8 1570.1,1657.7 1571,1657.7 1571.9,1657.7 1572.8,1657.7 1573.6,1657.7 1574.5,1657.7 1575.4,1657.7 1576.3,1657.7 1577.2,1657.7 1578.1,1657.8 1579,1657.8 1579.8,1657.8 1580.7,1657.8 1581.6,1657.8 1582.5,1657.8 1583.4,1657.8 1584.3,1657.9 1585.2,1657.9 1586.1,1657.9 1586.9,1657.9 1587.8,1658 1588.7,1658 1589.6,1658 1590.5,1658.1 1591.4,1658.1 1592.3,1658.1 1593.2,1658.2 1594,1658.2 1594.9,1658.3 1595.8,1658.3 1596.7,1658.4 1597.6,1658.4 1598.5,1658.5 1599.4,1658.5 1600.2,1658.6 1601.1,1658.6 1602,1658.7 1602.9,1658.7 1603.8,1658.8 1604.7,1658.9 1605.6,1658.9 1606.5,1659 1607.3,1659 1608.2,1659.1 1609.1,1659.2 1610,1659.2 1610.9,1659.3 1611.8,1659.4 1612.7,1659.5 1613.5,1659.5 1614.4,1659.6 1615.3,1659.7 1616.2,1659.8 1617.1,1659.8 1618,1659.9 1618.9,1660 1619.8,1660.1 1620.6,1660.1 1621.5,1660.2 1622.4,1660.3 1623.3,1660.4 1624.2,1660.5 1625.1,1660.6 1626,1660.6 1626.9,1660.7 1627.7,1660.8 1628.6,1660.9 1629.5,1661 1630.4,1661.1 1631.3,1661.2 1632.2,1661.2 1633.1,1661.3 1633.9,1661.4 1634.8,1661.5 1635.7,1661.6 1636.6,1661.7 1637.5,1661.8 1638.4,1661.9 1639.3,1662 1640.2,1662 1641,1662.1 1641.9,1662.2 1642.8,1662.3 1643.7,1662.4 1644.6,1662.5 1645.5,1662.6 1646.4,1662.7 1647.2,1662.8 1648.1,1662.8 1649,1662.9 1649.9,1663 1650.8,1663.1 1651.7,1663.2 1652.6,1663.3 1653.5,1663.4 1654.3,1663.5 1655.2,1663.5 1656.1,1663.6 1657,1663.7 1657.9,1663.8 1658.8,1663.9 1659.7,1664 1660.6,1664 1661.4,1664.1 1662.3,1664.2 1663.2,1664.3 1664.1,1664.4 1665,1664.5 1665.9,1664.5 1666.8,1664.6 1667.6,1664.7 1668.5,1664.8 1669.4,1664.8 1670.3,1664.9 1671.2,1665 1672.1,1665.1 1673,1665.1 1673.9,1665.2 1674.7,1665.3 1675.6,1665.4 1676.5,1665.4 1677.4,1665.5 1678.3,1665.6 1679.2,1665.6 1680.1,1665.7 1680.9,1665.8 1681.8,1665.8 1682.7,1665.9 1683.6,1666 1684.5,1666 1685.4,1666.1 1686.3,1666.2 1687.2,1666.2 1688,1666.3 1688.9,1666.3 1689.8,1666.4 1690.7,1666.4 1691.6,1666.5 1692.5,1666.6 1693.4,1666.6 1694.3,1666.7 1695.1,1666.7 1696,1666.8 1696.9,1666.8 1697.8,1666.9 1698.7,1666.9 1699.6,1667 1700.5,1667 1701.3,1667.1 1702.2,1667.1 1703.1,1667.2 1704,1667.2 1704.9,1667.2 1705.8,1667.3 1706.7,1667.3 1707.6,1667.4 1708.4,1667.4 1709.3,1667.4 1710.2,1667.5 1711.1,1667.5 1712,1667.6 1712.9,1667.6 1713.8,1667.6 1714.6,1667.7 1715.5,1667.7 1716.4,1667.7 1717.3,1667.8 1718.2,1667.8 1719.1,1667.8 1720,1667.9 1720.9,1667.9 1721.7,1667.9 1722.6,1668 1723.5,1668 1724.4,1668 1725.3,1668 1726.2,1668.1 1727.1,1668.1 1728,1668.1 1728.8,1668.1 1729.7,1668.2 1730.6,1668.2 1731.5,1668.2 1732.4,1668.2 1733.3,1668.2 1734.2,1668.3 1735,1668.3 1735.9,1668.3 1736.8,1668.3 1737.7,1668.3 1738.6,1668.4 1739.5,1668.4 1740.4,1668.4 1741.3,1668.4 1742.1,1668.4 1743,1668.4 1743.9,1668.5 1744.8,1668.5 1745.7,1668.5 1746.6,1668.5 1747.5,1668.5 1748.3,1668.5 1749.2,1668.5 1750.1,1668.6 1751,1668.6 1751.9,1668.6 1752.8,1668.6 1753.7,1668.6 1754.6,1668.6 1755.4,1668.6 1756.3,1668.6 1757.2,1668.6 1758.1,1668.7 1759,1668.7 1759.9,1668.7 1760.8,1668.7 1761.7,1668.7 1762.5,1668.7 1763.4,1668.7 1764.3,1668.7 1765.2,1668.7 1766.1,1668.7 1767,1668.7 1767.9,1668.7 1768.7,1668.8 1769.6,1668.8 1770.5,1668.8 1771.4,1668.8 1772.3,1668.8 1773.2,1668.8 1774.1,1668.8 1775,1668.8 1775.8,1668.8 1776.7,1668.8 1777.6,1668.8 1778.5,1668.8 1779.4,1668.8 1780.3,1668.8 1781.2,1668.8 1782,1668.8 1782.9,1668.8 1783.8,1668.8 1784.7,1668.8 1785.6,1668.8 1786.5,1668.8 1787.4,1668.9 1788.3,1668.9 1789.1,1668.9 1790,1668.9 1790.9,1668.9 1791.8,1668.9 1792.7,1668.9 1793.6,1668.9 1794.5,1668.9 1795.4,1668.9 1796.2,1668.9 1797.1,1668.9 1798,1668.9 1798.9,1668.9 1799.8,1668.9 1800.7,1668.9 1801.6,1668.9 1802.4,1668.9 1803.3,1668.9 1804.2,1668.9 1805.1,1668.9 1806,1668.9 1806.9,1668.9 1807.8,1668.9 1808.7,1668.9 1809.5,1668.9 1810.4,1668.9 1811.3,1668.9 1812.2,1668.9 1813.1,1668.9 1814,1668.9 1814.9,1668.9 1815.7,1668.9 1816.6,1668.9 1817.5,1668.9 1818.4,1668.9 1819.3,1668.9 1820.2,1668.9 1821.1,1668.9 1822,1668.9 1822.8,1668.9 1823.7,1668.9 1824.6,1668.9 1825.5,1668.9 1826.4,1668.9 1827.3,1668.9 1828.2,1668.9 1829.1,1668.9 1829.9,1668.9 1830.8,1668.9 1831.7,1668.9 1832.6,1668.9 1833.5,1668.9 1834.4,1668.9 1835.3,1668.9 1836.1,1668.9 1837,1668.9 1837.9,1668.9 1838.8,1668.9 1839.7,1668.9 1840.6,1668.9 1841.5,1668.9 1842.4,1668.9 1843.2,1668.9 1844.1,1668.9 1845,1668.9 1845.9,1668.9 1846.8,1668.9 1847.7,1668.9 1848.6,1668.9 1849.4,1668.9 1850.3,1668.9 1851.2,1668.9 1852.1,1668.9 1853,1668.9 1853.9,1668.9 1854.8,1668.9 1855.7,1668.9 1856.5,1668.9 1857.4,1668.9 1858.3,1668.9 1859.2,1668.9 1860.1,1668.9 1861,1668.9 1861.9,1668.9 1862.8,1668.9 1863.6,1668.9 1864.5,1668.9 1865.4,1668.9 1866.3,1668.9 1867.2,1668.9 1868.1,1668.9 1869,1668.9 1869.8,1668.9 1870.7,1668.9 1871.6,1668.9 1872.5,1668.9 1873.4,1668.9 1874.3,1668.9 1875.2,1668.9 1876.1,1668.9 1876.9,1668.9 1877.8,1668.9 1878.7,1668.9 1879.6,1668.9 1880.5,1668.9 1881.4,1668.9 1882.3,1668.9 1883.2,1668.9 1884,1668.9 1884.9,1668.9 1885.8,1668.9 1886.7,1668.9 1887.6,1668.9 1888.5,1668.9 1889.4,1668.9 1890.2,1668.9 1891.1,1668.9 1892,1668.9 1892.9,1668.9 1893.8,1668.9 1894.7,1668.9 1895.6,1668.9 1896.5,1668.9 1897.3,1668.9 1898.2,1668.9 1899.1,1668.9 1900,1668.9 1900.9,1668.9 1901.8,1668.9 1902.7,1668.9 1903.5,1668.9 1904.4,1668.9 1905.3,1668.9 1906.2,1668.9 1907.1,1668.9 1908,1668.9 1908.9,1668.9 1909.8,1668.9 1910.6,1668.9 1911.5,1668.9 1912.4,1668.9 1913.3,1668.9 1914.2,1668.9 1915.1,1668.9" fill="none" stroke="#2ed260" stroke-width="4.2" stroke-linejoin="round"/>
<polyline points="1198.5,1668.9 1199.4,1668.9 1200.3,1668.9 1201.2,1668.9 1202,1668.9 1202.9,1668.9 1203.8,1668.9 1204.7,1668.9 1205.6,1668.9 1206.5,1668.9 1207.4,1668.9 1208.3,1668.9 1209.1,1668.9 1210,1668.9 1210.9,1668.9 1211.8,1668.9 1212.7,1668.9 1213.6,1668.9 1214.5,1668.9 1215.4,1668.9 1216.2,1668.9 1217.1,1668.9 1218,1668.9 1218.9,1668.9 1219.8,1668.9 1220.7,1668.9 1221.6,1668.9 1222.4,1668.9 1223.3,1668.9 1224.2,1668.9 1225.1,1668.9 1226,1668.9 1226.9,1668.9 1227.8,1668.9 1228.7,1668.9 1229.5,1668.8 1230.4,1668.8 1231.3,1668.8 1232.2,1668.8 1233.1,1668.7 1234,1668.7 1234.9,1668.6 1235.7,1668.5 1236.6,1668.4 1237.5,1668.3 1238.4,1668.2 1239.3,1668.1 1240.2,1667.9 1241.1,1667.7 1242,1667.5 1242.8,1667.3 1243.7,1667.1 1244.6,1666.8 1245.5,1666.5 1246.4,1666.2 1247.3,1665.9 1248.2,1665.5 1249.1,1665.1 1249.9,1664.8 1250.8,1664.4 1251.7,1664 1252.6,1663.6 1253.5,1663.3 1254.4,1662.9 1255.3,1662.6 1256.1,1662.3 1257,1662.1 1257.9,1661.9 1258.8,1661.7 1259.7,1661.6 1260.6,1661.5 1261.5,1661.5 1262.4,1661.5 1263.2,1661.6 1264.1,1661.7 1265,1661.9 1265.9,1662.1 1266.8,1662.3 1267.7,1662.6 1268.6,1662.9 1269.4,1663.3 1270.3,1663.6 1271.2,1664 1272.1,1664.4 1273,1664.8 1273.9,1665.1 1274.8,1665.5 1275.7,1665.9 1276.5,1666.2 1277.4,1666.5 1278.3,1666.8 1279.2,1667.1 1280.1,1667.3 1281,1667.5 1281.9,1667.7 1282.8,1667.9 1283.6,1668.1 1284.5,1668.2 1285.4,1668.3 1286.3,1668.4 1287.2,1668.5 1288.1,1668.6 1289,1668.7 1289.8,1668.7 1290.7,1668.8 1291.6,1668.8 1292.5,1668.8 1293.4,1668.8 1294.3,1668.9 1295.2,1668.9 1296.1,1668.9 1296.9,1668.9 1297.8,1668.9 1298.7,1668.9 1299.6,1668.9 1300.5,1668.9 1301.4,1668.9 1302.3,1668.9 1303.2,1668.9 1304,1668.9 1304.9,1668.9 1305.8,1668.9 1306.7,1668.9 1307.6,1668.9 1308.5,1668.9 1309.4,1668.9 1310.2,1668.9 1311.1,1668.9 1312,1668.9 1312.9,1668.9 1313.8,1668.9 1314.7,1668.9 1315.6,1668.9 1316.5,1668.9 1317.3,1668.9 1318.2,1668.9 1319.1,1668.9 1320,1668.9 1320.9,1668.9 1321.8,1668.9 1322.7,1668.9 1323.5,1668.9 1324.4,1668.9" fill="none" stroke="#0050f0" stroke-width="4.2" stroke-linejoin="round"/>
<polyline points="1242.8,1668.9 1243.7,1668.9 1244.6,1668.9 1245.5,1668.9 1246.4,1668.9 1247.3,1668.9 1248.2,1668.9 1249.1,1668.9 1249.9,1668.9 1250.8,1668.9 1251.7,1668.9 1252.6,1668.9 1253.5,1668.9 1254.4,1668.9 1255.3,1668.9 1256.1,1668.9 1257,1668.9 1257.9,1668.9 1258.8,1668.9 1259.7,1668.9 1260.6,1668.9 1261.5,1668.9 1262.4,1668.9 1263.2,1668.9 1264.1,1668.9 1265,1668.9 1265.9,1668.9 1266.8,1668.9 1267.7,1668.9 1268.6,1668.9 1269.4,1668.9 1270.3,1668.9 1271.2,1668.9 1272.1,1668.9 1273,1668.9 1273.9,1668.9 1274.8,1668.9 1275.7,1668.9 1276.5,1668.9 1277.4,1668.9 1278.3,1668.9 1279.2,1668.9 1280.1,1668.9 1281,1668.8 1281.9,1668.8 1282.8,1668.8 1283.6,1668.8 1284.5,1668.8 1285.4,1668.7 1286.3,1668.7 1287.2,1668.7 1288.1,1668.6 1289,1668.6 1289.8,1668.5 1290.7,1668.5 1291.6,1668.4 1292.5,1668.4 1293.4,1668.3 1294.3,1668.3 1295.2,1668.2 1296.1,1668.1 1296.9,1668.1 1297.8,1668 1298.7,1668 1299.6,1667.9 1300.5,1667.9 1301.4,1667.8 1302.3,1667.8 1303.2,1667.8 1304,1667.7 1304.9,1667.7 1305.8,1667.7 1306.7,1667.7 1307.6,1667.7 1308.5,1667.8 1309.4,1667.8 1310.2,1667.8 1311.1,1667.9 1312,1667.9 1312.9,1668 1313.8,1668 1314.7,1668.1 1315.6,1668.1 1316.5,1668.2 1317.3,1668.3 1318.2,1668.3 1319.1,1668.4 1320,1668.4 1320.9,1668.5 1321.8,1668.5 1322.7,1668.6 1323.5,1668.6 1324.4,1668.7 1325.3,1668.7 1326.2,1668.7 1327.1,1668.8 1328,1668.8 1328.9,1668.8 1329.8,1668.8 1330.6,1668.8 1331.5,1668.9 1332.4,1668.9 1333.3,1668.9 1334.2,1668.9 1335.1,1668.9 1336,1668.9 1336.9,1668.9 1337.7,1668.9 1338.6,1668.9 1339.5,1668.9 1340.4,1668.9 1341.3,1668.9 1342.2,1668.9 1343.1,1668.9 1343.9,1668.9 1344.8,1668.9 1345.7,1668.9 1346.6,1668.9 1347.5,1668.9 1348.4,1668.9 1349.3,1668.9 1350.2,1668.9 1351,1668.9 1351.9,1668.9 1352.8,1668.9 1353.7,1668.9 1354.6,1668.9 1355.5,1668.9 1356.4,1668.9 1357.2,1668.9 1358.1,1668.9 1359,1668.9 1359.9,1668.9 1360.8,1668.9 1361.7,1668.9 1362.6,1668.9 1363.5,1668.9 1364.3,1668.9 1365.2,1668.9 1366.1,1668.9 1367,1668.9 1367.9,1668.9 1368.8,1668.9" fill="none" stroke="#0050f0" stroke-width="4.2" stroke-linejoin="round"/>
<polyline points="1294.3,1668.9 1295.2,1668.9 1296.1,1668.9 1296.9,1668.9 1297.8,1668.9 1298.7,1668.9 1299.6,1668.9 1300.5,1668.9 1301.4,1668.9 1302.3,1668.9 1303.2,1668.9 1304,1668.9 1304.9,1668.9 1305.8,1668.9 1306.7,1668.9 1307.6,1668.9 1308.5,1668.9 1309.4,1668.9 1310.2,1668.9 1311.1,1668.9 1312,1668.9 1312.9,1668.9 1313.8,1668.9 1314.7,1668.9 1315.6,1668.9 1316.5,1668.9 1317.3,1668.9 1318.2,1668.9 1319.1,1668.9 1320,1668.9 1320.9,1668.9 1321.8,1668.9 1322.7,1668.9 1323.5,1668.9 1324.4,1668.9 1325.3,1668.9 1326.2,1668.9 1327.1,1668.9 1328,1668.9 1328.9,1668.9 1329.8,1668.9 1330.6,1668.9 1331.5,1668.9 1332.4,1668.8 1333.3,1668.8 1334.2,1668.8 1335.1,1668.8 1336,1668.8 1336.9,1668.7 1337.7,1668.7 1338.6,1668.7 1339.5,1668.6 1340.4,1668.6 1341.3,1668.5 1342.2,1668.5 1343.1,1668.4 1343.9,1668.4 1344.8,1668.3 1345.7,1668.3 1346.6,1668.2 1347.5,1668.1 1348.4,1668.1 1349.3,1668 1350.2,1668 1351,1667.9 1351.9,1667.9 1352.8,1667.8 1353.7,1667.8 1354.6,1667.8 1355.5,1667.7 1356.4,1667.7 1357.2,1667.7 1358.1,1667.7 1359,1667.7 1359.9,1667.8 1360.8,1667.8 1361.7,1667.8 1362.6,1667.9 1363.5,1667.9 1364.3,1668 1365.2,1668 1366.1,1668.1 1367,1668.1 1367.9,1668.2 1368.8,1668.3 1369.7,1668.3 1370.6,1668.4 1371.4,1668.4 1372.3,1668.5 1373.2,1668.5 1374.1,1668.6 1375,1668.6 1375.9,1668.7 1376.8,1668.7 1377.6,1668.7 1378.5,1668.8 1379.4,1668.8 1380.3,1668.8 1381.2,1668.8 1382.1,1668.8 1383,1668.9 1383.9,1668.9 1384.7,1668.9 1385.6,1668.9 1386.5,1668.9 1387.4,1668.9 1388.3,1668.9 1389.2,1668.9 1390.1,1668.9 1390.9,1668.9 1391.8,1668.9 1392.7,1668.9 1393.6,1668.9 1394.5,1668.9 1395.4,1668.9 1396.3,1668.9 1397.2,1668.9 1398,1668.9 1398.9,1668.9 1399.8,1668.9 1400.7,1668.9 1401.6,1668.9 1402.5,1668.9 1403.4,1668.9 1404.3,1668.9 1405.1,1668.9 1406,1668.9 1406.9,1668.9 1407.8,1668.9 1408.7,1668.9 1409.6,1668.9 1410.5,1668.9 1411.3,1668.9 1412.2,1668.9 1413.1,1668.9 1414,1668.9 1414.9,1668.9 1415.8,1668.9 1416.7,1668.9 1417.6,1668.9 1418.4,1668.9 1419.3,1668.9 1420.2,1668.9" fill="none" stroke="#0050f0" stroke-width="4.2" stroke-linejoin="round"/>
<polyline points="1514.2,1668.9 1515.1,1668.9 1516,1668.9 1516.9,1668.9 1517.8,1668.9 1518.7,1668.9 1519.5,1668.9 1520.4,1668.9 1521.3,1668.9 1522.2,1668.9 1523.1,1668.9 1524,1668.9 1524.9,1668.9 1525.7,1668.9 1526.6,1668.9 1527.5,1668.9 1528.4,1668.9 1529.3,1668.9 1530.2,1668.9 1531.1,1668.9 1532,1668.9 1532.8,1668.9 1533.7,1668.9 1534.6,1668.9 1535.5,1668.9 1536.4,1668.8 1537.3,1668.8 1538.2,1668.8 1539.1,1668.7 1539.9,1668.7 1540.8,1668.6 1541.7,1668.4 1542.6,1668.3 1543.5,1668.1 1544.4,1667.8 1545.3,1667.5 1546.1,1667.1 1547,1666.7 1547.9,1666.1 1548.8,1665.4 1549.7,1664.6 1550.6,1663.6 1551.5,1662.4 1552.4,1661.1 1553.2,1659.6 1554.1,1657.9 1555,1655.9 1555.9,1653.8 1556.8,1651.4 1557.7,1648.9 1558.6,1646.1 1559.4,1643.2 1560.3,1640.2 1561.2,1637.1 1562.1,1633.9 1563,1630.7 1563.9,1627.6 1564.8,1624.6 1565.7,1621.7 1566.5,1619.1 1567.4,1616.8 1568.3,1614.8 1569.2,1613.3 1570.1,1612.1 1571,1611.4 1571.9,1611.1 1572.8,1611.4 1573.6,1612.1 1574.5,1613.3 1575.4,1614.8 1576.3,1616.8 1577.2,1619.1 1578.1,1621.7 1579,1624.6 1579.8,1627.6 1580.7,1630.7 1581.6,1633.9 1582.5,1637.1 1583.4,1640.2 1584.3,1643.2 1585.2,1646.1 1586.1,1648.9 1586.9,1651.4 1587.8,1653.8 1588.7,1655.9 1589.6,1657.9 1590.5,1659.6 1591.4,1661.1 1592.3,1662.4 1593.2,1663.6 1594,1664.6 1594.9,1665.4 1595.8,1666.1 1596.7,1666.7 1597.6,1667.1 1598.5,1667.5 1599.4,1667.8 1600.2,1668.1 1601.1,1668.3 1602,1668.4 1602.9,1668.6 1603.8,1668.7 1604.7,1668.7 1605.6,1668.8 1606.5,1668.8 1607.3,1668.8 1608.2,1668.9 1609.1,1668.9 1610,1668.9 1610.9,1668.9 1611.8,1668.9 1612.7,1668.9 1613.5,1668.9 1614.4,1668.9 1615.3,1668.9 1616.2,1668.9 1617.1,1668.9 1618,1668.9 1618.9,1668.9 1619.8,1668.9 1620.6,1668.9 1621.5,1668.9 1622.4,1668.9 1623.3,1668.9 1624.2,1668.9 1625.1,1668.9 1626,1668.9 1626.9,1668.9 1627.7,1668.9 1628.6,1668.9 1629.5,1668.9" fill="none" stroke="#0050f0" stroke-width="4.2" stroke-linejoin="round"/>
<polyline points="1688,1668.9 1688.9,1668.9 1689.8,1668.9 1690.7,1668.9 1691.6,1668.9 1692.5,1668.9 1693.4,1668.9 1694.3,1668.9 1695.1,1668.9 1696,1668.9 1696.9,1668.9 1697.8,1668.9 1698.7,1668.9 1699.6,1668.9 1700.5,1668.9 1701.3,1668.9 1702.2,1668.9 1703.1,1668.9 1704,1668.9 1704.9,1668.9 1705.8,1668.9 1706.7,1668.9 1707.6,1668.9 1708.4,1668.9 1709.3,1668.8 1710.2,1668.8 1711.1,1668.8 1712,1668.7 1712.9,1668.6 1713.8,1668.5 1714.6,1668.3 1715.5,1668.1 1716.4,1667.9 1717.3,1667.6 1718.2,1667.2 1719.1,1666.7 1720,1666 1720.9,1665.3 1721.7,1664.3 1722.6,1663.2 1723.5,1661.9 1724.4,1660.3 1725.3,1658.4 1726.2,1656.3 1727.1,1653.8 1728,1651.1 1728.8,1647.9 1729.7,1644.5 1730.6,1640.7 1731.5,1636.5 1732.4,1632.1 1733.3,1627.4 1734.2,1622.5 1735,1617.5 1735.9,1612.3 1736.8,1607.2 1737.7,1602.2 1738.6,1597.3 1739.5,1592.7 1740.4,1588.5 1741.3,1584.8 1742.1,1581.6 1743,1579 1743.9,1577.1 1744.8,1576 1745.7,1575.6 1746.6,1576 1747.5,1577.1 1748.3,1579 1749.2,1581.6 1750.1,1584.8 1751,1588.5 1751.9,1592.7 1752.8,1597.3 1753.7,1602.2 1754.6,1607.2 1755.4,1612.3 1756.3,1617.5 1757.2,1622.5 1758.1,1627.4 1759,1632.1 1759.9,1636.5 1760.8,1640.7 1761.7,1644.5 1762.5,1647.9 1763.4,1651.1 1764.3,1653.8 1765.2,1656.3 1766.1,1658.4 1767,1660.3 1767.9,1661.9 1768.7,1663.2 1769.6,1664.3 1770.5,1665.3 1771.4,1666 1772.3,1666.7 1773.2,1667.2 1774.1,1667.6 1775,1667.9 1775.8,1668.1 1776.7,1668.3 1777.6,1668.5 1778.5,1668.6 1779.4,1668.7 1780.3,1668.8 1781.2,1668.8 1782,1668.8 1782.9,1668.9 1783.8,1668.9 1784.7,1668.9 1785.6,1668.9 1786.5,1668.9 1787.4,1668.9 1788.3,1668.9 1789.1,1668.9 1790,1668.9 1790.9,1668.9 1791.8,1668.9 1792.7,1668.9 1793.6,1668.9 1794.5,1668.9 1795.4,1668.9 1796.2,1668.9 1797.1,1668.9 1798,1668.9 1798.9,1668.9 1799.8,1668.9 1800.7,1668.9 1801.6,1668.9 1802.4,1668.9 1803.3,1668.9" fill="none" stroke="#0050f0" stroke-width="4.2" stroke-linejoin="round"/>
<polyline points="1773.2,1668.9 1774.1,1668.9 1775,1668.9 1775.8,1668.9 1776.7,1668.9 1777.6,1668.9 1778.5,1668.9 1779.4,1668.9 1780.3,1668.9 1781.2,1668.9 1782,1668.9 1782.9,1668.9 1783.8,1668.9 1784.7,1668.9 1785.6,1668.9 1786.5,1668.9 1787.4,1668.9 1788.3,1668.9 1789.1,1668.9 1790,1668.9 1790.9,1668.9 1791.8,1668.8 1792.7,1668.8 1793.6,1668.7 1794.5,1668.7 1795.4,1668.6 1796.2,1668.4 1797.1,1668.2 1798,1668 1798.9,1667.7 1799.8,1667.2 1800.7,1666.7 1801.6,1666 1802.4,1665 1803.3,1663.9 1804.2,1662.5 1805.1,1660.7 1806,1658.5 1806.9,1655.8 1807.8,1652.6 1808.7,1648.8 1809.5,1644.2 1810.4,1638.9 1811.3,1632.8 1812.2,1625.8 1813.1,1617.8 1814,1608.9 1814.9,1599 1815.7,1588.1 1816.6,1576.3 1817.5,1563.6 1818.4,1550.2 1819.3,1536.2 1820.2,1521.8 1821.1,1507.1 1822,1492.4 1822.8,1478 1823.7,1464.1 1824.6,1451 1825.5,1439 1826.4,1428.3 1827.3,1419.2 1828.2,1411.9 1829.1,1406.5 1829.9,1403.2 1830.8,1402.1 1831.7,1403.2 1832.6,1406.5 1833.5,1411.9 1834.4,1419.2 1835.3,1428.3 1836.1,1439 1837,1451 1837.9,1464.1 1838.8,1478 1839.7,1492.4 1840.6,1507.1 1841.5,1521.8 1842.4,1536.2 1843.2,1550.2 1844.1,1563.6 1845,1576.3 1845.9,1588.1 1846.8,1599 1847.7,1608.9 1848.6,1617.8 1849.4,1625.8 1850.3,1632.8 1851.2,1638.9 1852.1,1644.2 1853,1648.8 1853.9,1652.6 1854.8,1655.8 1855.7,1658.5 1856.5,1660.7 1857.4,1662.5 1858.3,1663.9 1859.2,1665 1860.1,1666 1861,1666.7 1861.9,1667.2 1862.8,1667.7 1863.6,1668 1864.5,1668.2 1865.4,1668.4 1866.3,1668.6 1867.2,1668.7 1868.1,1668.7 1869,1668.8 1869.8,1668.8 1870.7,1668.9 1871.6,1668.9 1872.5,1668.9 1873.4,1668.9 1874.3,1668.9 1875.2,1668.9 1876.1,1668.9 1876.9,1668.9 1877.8,1668.9 1878.7,1668.9 1879.6,1668.9 1880.5,1668.9 1881.4,1668.9 1882.3,1668.9 1883.2,1668.9 1884,1668.9 1884.9,1668.9 1885.8,1668.9 1886.7,1668.9 1887.6,1668.9 1888.5,1668.9" fill="none" stroke="#0050f0" stroke-width="4.2" stroke-linejoin="round"/>
<polyline points="1188.7,1668.9 1916,1668.9" fill="none" stroke="#0050f0" stroke-width="4.4" stroke-linejoin="round"/>
<polyline points="1197.5,1514.1 1906,1514.1" fill="none" stroke="#000" stroke-width="4" stroke-linejoin="round" stroke-dasharray="4.6 11.9"/>
<polyline points="1197.6,1513.9 1199.4,1513.8 1201.2,1513.8 1202.9,1513.9 1204.7,1514 1206.5,1514 1208.3,1513.9 1210,1513.8 1211.8,1513.7 1213.6,1513.8 1215.4,1513.9 1217.1,1514.2 1218.9,1514.4 1220.7,1514.4 1222.4,1514.4 1224.2,1514.2 1226,1514 1227.8,1513.9 1229.5,1513.8 1231.3,1513.8 1233.1,1513.8 1234.9,1513.8 1236.6,1513.9 1238.4,1514 1240.2,1514.2 1242,1514.3 1243.7,1514.5 1245.5,1514.6 1247.3,1514.7 1249.1,1514.7 1250.8,1514.7 1252.6,1514.6 1254.4,1514.6 1256.1,1514.6 1257.9,1514.7 1259.7,1514.6 1261.5,1514.6 1263.2,1514.5 1265,1514.5 1266.8,1514.5 1268.6,1514.5 1270.3,1514.4 1272.1,1514.2 1273.9,1514 1275.7,1513.8 1277.4,1513.7 1279.2,1513.8 1281,1514 1282.8,1514.2 1284.5,1514.3 1286.3,1514.4 1288.1,1514.4 1289.8,1514.4 1291.6,1514.2 1293.4,1514 1295.2,1513.8 1296.9,1513.7 1298.7,1513.7 1300.5,1513.8 1302.3,1513.9 1304,1513.9 1305.8,1513.8 1307.6,1513.7 1309.4,1513.8 1311.1,1513.9 1312.9,1514 1314.7,1514 1316.5,1513.9 1318.2,1513.7 1320,1513.6 1321.8,1513.6 1323.5,1513.6 1325.3,1513.7 1327.1,1513.8 1328.9,1514 1330.6,1514.1 1332.4,1514.2 1334.2,1514.2 1336,1514.2 1337.7,1514 1339.5,1513.9 1341.3,1513.9 1343.1,1514 1344.8,1514.2 1346.6,1514.4 1348.4,1514.3 1350.2,1514.1 1351.9,1513.9 1353.7,1513.7 1355.5,1513.7 1357.2,1514 1359,1514.3 1360.8,1514.6 1362.6,1514.7 1364.3,1514.6 1366.1,1514.4 1367.9,1514.2 1369.7,1514 1371.4,1513.9 1373.2,1513.9 1375,1513.9 1376.8,1513.8 1378.5,1513.8 1380.3,1513.8 1382.1,1513.8 1383.9,1513.8 1385.6,1513.8 1387.4,1513.8 1389.2,1513.7 1390.9,1513.6 1392.7,1513.5 1394.5,1513.6 1396.3,1513.7 1398,1513.8 1399.8,1513.9 1401.6,1513.9 1403.4,1513.8 1405.1,1513.8 1406.9,1513.7 1408.7,1513.7 1410.5,1513.7 1412.2,1513.8 1414,1514 1415.8,1514.1 1417.6,1514.2 1419.3,1514.2 1421.1,1514.2 1422.9,1514.1 1424.6,1514 1426.4,1513.9 1428.2,1513.9 1430,1514 1431.7,1514 1433.5,1514 1435.3,1514 1437.1,1513.9 1438.8,1513.8 1440.6,1513.8 1442.4,1513.8 1444.2,1513.8 1445.9,1513.8 1447.7,1513.8 1449.5,1513.8 1451.3,1513.9 1453,1514.1 1454.8,1514.3 1456.6,1514.5 1458.3,1514.6 1460.1,1514.6 1461.9,1514.6 1463.7,1514.5 1465.4,1514.2 1467.2,1513.9 1469,1513.7 1470.8,1513.7 1472.5,1513.8 1474.3,1514.1 1476.1,1514.4 1477.9,1514.6 1479.6,1514.6 1481.4,1514.5 1483.2,1514.4 1485,1514.3 1486.7,1514.3 1488.5,1514.2 1490.3,1514.1 1492,1514 1493.8,1514 1495.6,1514 1497.4,1514 1499.1,1513.9 1500.9,1513.8 1502.7,1513.6 1504.5,1513.5 1506.2,1513.6 1508,1513.7 1509.8,1513.8 1511.6,1514 1513.3,1514.2 1515.1,1514.3 1516.9,1514.4 1518.7,1514.5 1520.4,1514.5 1522.2,1514.4 1524,1514.3 1525.7,1514.2 1527.5,1514.2 1529.3,1514.3 1531.1,1514.4 1532.8,1514.6 1534.6,1514.6 1536.4,1514.6 1538.2,1514.4 1539.9,1514.2 1541.7,1513.9 1543.5,1513.8 1545.3,1513.8 1547,1513.9 1548.8,1514.2 1550.6,1514.4 1552.4,1514.6 1554.1,1514.7 1555.9,1514.6 1557.7,1514.4 1559.4,1514.3 1561.2,1514.1 1563,1514 1564.8,1514 1566.5,1514.1 1568.3,1514.3 1570.1,1514.5 1571.9,1514.7 1573.6,1514.8 1575.4,1514.7 1577.2,1514.6 1579,1514.4 1580.7,1514.3 1582.5,1514.4 1584.3,1514.4 1586.1,1514.4 1587.8,1514.3 1589.6,1514.1 1591.4,1513.8 1593.2,1513.6 1594.9,1513.5 1596.7,1513.6 1598.5,1513.7 1600.2,1513.9 1602,1514.1 1603.8,1514.2 1605.6,1514.2 1607.3,1514.1 1609.1,1513.8 1610.9,1513.5 1612.7,1513.3 1614.4,1513.3 1616.2,1513.2 1618,1513.3 1619.8,1513.3 1621.5,1513.4 1623.3,1513.6 1625.1,1513.7 1626.9,1513.8 1628.6,1513.9 1630.4,1514 1632.2,1514 1633.9,1514.1 1635.7,1514.2 1637.5,1514.2 1639.3,1514.3 1641,1514.4 1642.8,1514.5 1644.6,1514.6 1646.4,1514.6 1648.1,1514.6 1649.9,1514.5 1651.7,1514.4 1653.5,1514.4 1655.2,1514.5 1657,1514.6 1658.8,1514.7 1660.6,1514.7 1662.3,1514.8 1664.1,1514.8 1665.9,1514.9 1667.6,1514.8 1669.4,1514.6 1671.2,1514.4 1673,1514.3 1674.7,1514 1676.5,1513.9 1678.3,1513.7 1680.1,1513.5 1681.8,1513.6 1683.6,1513.8 1685.4,1514.2 1687.2,1514.7 1688.9,1515 1690.7,1515.1 1692.5,1514.9 1694.3,1514.6 1696,1514.4 1697.8,1514.3 1699.6,1514.4 1701.3,1514.5 1703.1,1514.4 1704.9,1514.3 1706.7,1514.1 1708.4,1513.8 1710.2,1513.6 1712,1513.6 1713.8,1513.7 1715.5,1514 1717.3,1514.3 1719.1,1514.7 1720.9,1515.2 1722.6,1515.9 1724.4,1516.6 1726.2,1517.4 1728,1517.9 1729.7,1518.1 1731.5,1517.6 1733.3,1516.6 1735,1514.9 1736.8,1512.8 1738.6,1510.4 1740.4,1507.9 1742.1,1505.5 1743.9,1503.8 1745.7,1503.2 1747.5,1504 1749.2,1505.9 1751,1508.8 1752.8,1512 1754.6,1515.4 1756.3,1518.4 1758.1,1520.8 1759.9,1522.4 1761.7,1522.9 1763.4,1522.3 1765.2,1521 1767,1519.3 1768.7,1517.6 1770.5,1516.2 1772.3,1515.3 1774.1,1514.7 1775.8,1514.4 1777.6,1514.1 1779.4,1514 1781.2,1513.9 1782.9,1513.8 1784.7,1513.7 1786.5,1513.6 1788.3,1513.6 1790,1513.5 1791.8,1513.6 1793.6,1513.7 1795.4,1513.9 1797.1,1514.2 1798.9,1514.4 1800.7,1514.6 1802.4,1514.8 1804.2,1515.1 1806,1515.5 1807.8,1516.5 1809.5,1518.2 1811.3,1520.9 1813.1,1524.2 1814.9,1527.4 1816.6,1529.7 1818.4,1530.1 1820.2,1527.7 1822,1522 1823.7,1513 1825.5,1501.6 1827.3,1489.7 1829.1,1480.6 1830.8,1477.2 1832.6,1480.7 1834.4,1489.8 1836.1,1501.5 1837.9,1512.7 1839.7,1522.3 1841.5,1529.7 1843.2,1535.2 1845,1538.5 1846.8,1539.6 1848.6,1538.5 1850.3,1535.5 1852.1,1531.4 1853.9,1527.1 1855.7,1523.1 1857.4,1519.8 1859.2,1517.4 1861,1515.8 1862.8,1514.8 1864.5,1514.4 1866.3,1514.2 1868.1,1514.1 1869.8,1514.1 1871.6,1514.1 1873.4,1514.1 1875.2,1514.2 1876.9,1514.3 1878.7,1514.3 1880.5,1514.3 1882.3,1514.2 1884,1514.1 1885.8,1514 1887.6,1513.9 1889.4,1513.8 1891.1,1513.7 1892.9,1513.7 1894.7,1513.6 1896.5,1513.6 1898.2,1513.5 1900,1513.4 1901.8,1513.4 1903.5,1513.4 1905.3,1513.5 1907.1,1513.6" fill="none" stroke="#000" stroke-width="2.3" stroke-linejoin="round" stroke-dasharray="2.4 2.8"/>
<polyline points="1197.6,1495.6 1199.4,1495.7 1201.2,1495.6 1202.9,1495.4 1204.7,1495.2 1206.5,1495 1208.3,1494.9 1210,1494.9 1211.8,1495.1 1213.6,1495.4 1215.4,1495.7 1217.1,1495.9 1218.9,1495.9 1220.7,1495.6 1222.4,1495.3 1224.2,1495 1226,1494.8 1227.8,1494.7 1229.5,1494.9 1231.3,1494.9 1233.1,1494.8 1234.9,1494.7 1236.6,1494.5 1238.4,1494.1 1240.2,1493.7 1242,1493.3 1243.7,1493 1245.5,1492.7 1247.3,1492.5 1249.1,1492.1 1250.8,1491.6 1252.6,1491.1 1254.4,1490.5 1256.1,1490 1257.9,1489.7 1259.7,1489.4 1261.5,1489.3 1263.2,1489.1 1265,1489.2 1266.8,1489.4 1268.6,1489.9 1270.3,1490.6 1272.1,1491.4 1273.9,1492.2 1275.7,1492.9 1277.4,1493.3 1279.2,1493.6 1281,1493.7 1282.8,1493.8 1284.5,1493.9 1286.3,1494.1 1288.1,1494.2 1289.8,1494.3 1291.6,1494.2 1293.4,1494 1295.2,1493.8 1296.9,1493.6 1298.7,1493.6 1300.5,1493.7 1302.3,1493.9 1304,1494 1305.8,1494.1 1307.6,1493.9 1309.4,1493.7 1311.1,1493.4 1312.9,1493.3 1314.7,1493.3 1316.5,1493.4 1318.2,1493.6 1320,1493.9 1321.8,1494.1 1323.5,1494.3 1325.3,1494.4 1327.1,1494.5 1328.9,1494.7 1330.6,1494.9 1332.4,1495 1334.2,1495 1336,1494.8 1337.7,1494.6 1339.5,1494.3 1341.3,1494 1343.1,1493.8 1344.8,1493.8 1346.6,1493.9 1348.4,1493.9 1350.2,1493.8 1351.9,1493.6 1353.7,1493.3 1355.5,1493.1 1357.2,1493.1 1359,1493.2 1360.8,1493.4 1362.6,1493.6 1364.3,1493.7 1366.1,1493.8 1367.9,1493.8 1369.7,1493.8 1371.4,1493.6 1373.2,1493.5 1375,1493.4 1376.8,1493.5 1378.5,1493.7 1380.3,1494 1382.1,1494.2 1383.9,1494.2 1385.6,1494 1387.4,1493.7 1389.2,1493.5 1390.9,1493.4 1392.7,1493.4 1394.5,1493.3 1396.3,1493.2 1398,1493 1399.8,1492.9 1401.6,1492.8 1403.4,1492.8 1405.1,1492.9 1406.9,1493.1 1408.7,1493.4 1410.5,1493.7 1412.2,1493.7 1414,1493.7 1415.8,1493.5 1417.6,1493.3 1419.3,1493.1 1421.1,1493 1422.9,1492.9 1424.6,1492.6 1426.4,1492.2 1428.2,1491.8 1430,1491.5 1431.7,1491.4 1433.5,1491.4 1435.3,1491.3 1437.1,1491.1 1438.8,1491 1440.6,1490.9 1442.4,1491 1444.2,1491.1 1445.9,1491.3 1447.7,1491.5 1449.5,1491.6 1451.3,1491.6 1453,1491.5 1454.8,1491.3 1456.6,1491 1458.3,1490.6 1460.1,1490.2 1461.9,1489.8 1463.7,1489.5 1465.4,1489.4 1467.2,1489.4 1469,1489.5 1470.8,1489.6 1472.5,1489.6 1474.3,1489.5 1476.1,1489.2 1477.9,1488.8 1479.6,1488.5 1481.4,1488.3 1483.2,1488.2 1485,1488.1 1486.7,1488 1488.5,1487.6 1490.3,1487.1 1492,1486.6 1493.8,1486.2 1495.6,1486 1497.4,1485.8 1499.1,1485.7 1500.9,1485.7 1502.7,1485.7 1504.5,1485.7 1506.2,1485.8 1508,1485.7 1509.8,1485.6 1511.6,1485.6 1513.3,1485.5 1515.1,1485.3 1516.9,1485 1518.7,1484.6 1520.4,1484.1 1522.2,1483.6 1524,1483.2 1525.7,1482.9 1527.5,1482.6 1529.3,1482.4 1531.1,1482.3 1532.8,1482.4 1534.6,1482.4 1536.4,1482.3 1538.2,1482.2 1539.9,1481.9 1541.7,1481.5 1543.5,1480.9 1545.3,1480.2 1547,1479.3 1548.8,1478.1 1550.6,1476.4 1552.4,1474.3 1554.1,1471.5 1555.9,1468 1557.7,1463.8 1559.4,1459 1561.2,1453.6 1563,1447.9 1564.8,1442.4 1566.5,1437.6 1568.3,1433.8 1570.1,1431.5 1571.9,1430.8 1573.6,1431.7 1575.4,1434.1 1577.2,1437.8 1579,1442.3 1580.7,1447.3 1582.5,1452.4 1584.3,1457.3 1586.1,1461.9 1587.8,1465.9 1589.6,1469.4 1591.4,1472.3 1593.2,1474.6 1594.9,1476.5 1596.7,1477.9 1598.5,1478.6 1600.2,1479 1602,1479.1 1603.8,1479.3 1605.6,1479.6 1607.3,1479.9 1609.1,1480.3 1610.9,1480.5 1612.7,1480.5 1614.4,1480.7 1616.2,1480.9 1618,1481.2 1619.8,1481.4 1621.5,1481.7 1623.3,1481.8 1625.1,1481.9 1626.9,1481.8 1628.6,1481.7 1630.4,1481.6 1632.2,1481.6 1633.9,1481.7 1635.7,1482 1637.5,1482.3 1639.3,1482.7 1641,1483 1642.8,1483.2 1644.6,1483.5 1646.4,1483.6 1648.1,1483.8 1649.9,1484 1651.7,1484.1 1653.5,1484.3 1655.2,1484.6 1657,1485 1658.8,1485.5 1660.6,1485.9 1662.3,1486.3 1664.1,1486.5 1665.9,1486.5 1667.6,1486.6 1669.4,1486.6 1671.2,1486.9 1673,1487.2 1674.7,1487.5 1676.5,1487.9 1678.3,1488.4 1680.1,1488.8 1681.8,1489.1 1683.6,1489.5 1685.4,1489.8 1687.2,1490.1 1688.9,1490.4 1690.7,1490.7 1692.5,1491 1694.3,1491.1 1696,1491.3 1697.8,1491.4 1699.6,1491.4 1701.3,1491.4 1703.1,1491.5 1704.9,1491.6 1706.7,1491.8 1708.4,1492 1710.2,1492.2 1712,1492.1 1713.8,1491.9 1715.5,1491.6 1717.3,1491 1719.1,1490.1 1720.9,1488.7 1722.6,1486.6 1724.4,1483.4 1726.2,1478.9 1728,1472.9 1729.7,1465.4 1731.5,1456.6 1733.3,1446.5 1735,1435.5 1736.8,1424.3 1738.6,1413.5 1740.4,1403.9 1742.1,1396.5 1743.9,1391.9 1745.7,1390.3 1747.5,1392.1 1749.2,1397.1 1751,1404.8 1752.8,1414.6 1754.6,1425.6 1756.3,1437 1758.1,1448 1759.9,1458 1761.7,1466.7 1763.4,1474.1 1765.2,1480 1767,1484.6 1768.7,1488 1770.5,1490.4 1772.3,1492 1774.1,1493.1 1775.8,1493.8 1777.6,1494.1 1779.4,1494.2 1781.2,1494.2 1782.9,1494.4 1784.7,1494.5 1786.5,1494.7 1788.3,1494.7 1790,1494.7 1791.8,1494.6 1793.6,1494.5 1795.4,1494.3 1797.1,1493.9 1798.9,1493.1 1800.7,1491.9 1802.4,1489.9 1804.2,1486.8 1806,1481.9 1807.8,1474.8 1809.5,1464.9 1811.3,1451.5 1813.1,1434.1 1814.9,1412 1816.6,1385.3 1818.4,1354.4 1820.2,1320.7 1822,1285.9 1823.7,1252.3 1825.5,1222.8 1827.3,1199.5 1829.1,1184.6 1830.8,1179.5 1832.6,1184.6 1834.4,1199.4 1836.1,1222.5 1837.9,1252 1839.7,1285.3 1841.5,1320.1 1843.2,1353.9 1845,1384.8 1846.8,1411.6 1848.6,1433.9 1850.3,1451.7 1852.1,1465.3 1853.9,1475.4 1855.7,1482.6 1857.4,1487.5 1859.2,1490.7 1861,1492.8 1862.8,1494.1 1864.5,1495 1866.3,1495.3 1868.1,1495.4 1869.8,1495.4 1871.6,1495.4 1873.4,1495.5 1875.2,1495.6 1876.9,1495.6 1878.7,1495.6 1880.5,1495.5 1882.3,1495.6 1884,1495.5 1885.8,1495.5 1887.6,1495.4 1889.4,1495.2 1891.1,1494.9 1892.9,1494.6 1894.7,1494.3 1896.5,1494.2 1898.2,1494.3 1900,1494.7 1901.8,1495.1 1903.5,1495.3 1905.3,1495.2 1907.1,1495" fill="none" stroke="#000" stroke-width="5.2" stroke-linejoin="round"/>
<polyline points="1197.6,1495.4 1199.4,1495.4 1201.2,1495.4 1202.9,1495.4 1204.7,1495.4 1206.5,1495.4 1208.3,1495.4 1210,1495.4 1211.8,1495.4 1213.6,1495.4 1215.4,1495.3 1217.1,1495.3 1218.9,1495.3 1220.7,1495.3 1222.4,1495.3 1224.2,1495.3 1226,1495.3 1227.8,1495.2 1229.5,1495.2 1231.3,1495.1 1233.1,1495.1 1234.9,1495 1236.6,1494.8 1238.4,1494.6 1240.2,1494.3 1242,1494 1243.7,1493.5 1245.5,1493 1247.3,1492.4 1249.1,1491.8 1250.8,1491.1 1252.6,1490.4 1254.4,1489.8 1256.1,1489.2 1257.9,1488.8 1259.7,1488.5 1261.5,1488.4 1263.2,1488.5 1265,1488.7 1266.8,1489.2 1268.6,1489.7 1270.3,1490.3 1272.1,1491 1273.9,1491.6 1275.7,1492.3 1277.4,1492.8 1279.2,1493.3 1281,1493.7 1282.8,1494 1284.5,1494.2 1286.3,1494.4 1288.1,1494.4 1289.8,1494.5 1291.6,1494.4 1293.4,1494.4 1295.2,1494.3 1296.9,1494.2 1298.7,1494.1 1300.5,1494 1302.3,1493.9 1304,1493.9 1305.8,1493.8 1307.6,1493.8 1309.4,1493.8 1311.1,1493.9 1312.9,1493.9 1314.7,1494 1316.5,1494.1 1318.2,1494.1 1320,1494.2 1321.8,1494.2 1323.5,1494.3 1325.3,1494.3 1327.1,1494.3 1328.9,1494.3 1330.6,1494.3 1332.4,1494.3 1334.2,1494.3 1336,1494.2 1337.7,1494.1 1339.5,1494.1 1341.3,1494 1343.1,1493.9 1344.8,1493.8 1346.6,1493.6 1348.4,1493.5 1350.2,1493.4 1351.9,1493.3 1353.7,1493.2 1355.5,1493.2 1357.2,1493.1 1359,1493.1 1360.8,1493.1 1362.6,1493.2 1364.3,1493.2 1366.1,1493.3 1367.9,1493.3 1369.7,1493.4 1371.4,1493.4 1373.2,1493.5 1375,1493.5 1376.8,1493.5 1378.5,1493.5 1380.3,1493.5 1382.1,1493.5 1383.9,1493.5 1385.6,1493.5 1387.4,1493.5 1389.2,1493.4 1390.9,1493.4 1392.7,1493.3 1394.5,1493.3 1396.3,1493.2 1398,1493.2 1399.8,1493.2 1401.6,1493.1 1403.4,1493.1 1405.1,1493 1406.9,1492.9 1408.7,1492.9 1410.5,1492.8 1412.2,1492.8 1414,1492.7 1415.8,1492.6 1417.6,1492.6 1419.3,1492.5 1421.1,1492.4 1422.9,1492.3 1424.6,1492.3 1426.4,1492.2 1428.2,1492.1 1430,1492 1431.7,1491.9 1433.5,1491.8 1435.3,1491.7 1437.1,1491.6 1438.8,1491.5 1440.6,1491.4 1442.4,1491.3 1444.2,1491.2 1445.9,1491.1 1447.7,1491 1449.5,1490.8 1451.3,1490.7 1453,1490.6 1454.8,1490.5 1456.6,1490.3 1458.3,1490.2 1460.1,1490 1461.9,1489.9 1463.7,1489.7 1465.4,1489.6 1467.2,1489.4 1469,1489.3 1470.8,1489.1 1472.5,1488.9 1474.3,1488.8 1476.1,1488.6 1477.9,1488.4 1479.6,1488.2 1481.4,1488.1 1483.2,1487.9 1485,1487.7 1486.7,1487.5 1488.5,1487.3 1490.3,1487.1 1492,1486.9 1493.8,1486.7 1495.6,1486.5 1497.4,1486.3 1499.1,1486.1 1500.9,1485.9 1502.7,1485.7 1504.5,1485.5 1506.2,1485.3 1508,1485.1 1509.8,1484.9 1511.6,1484.7 1513.3,1484.5 1515.1,1484.3 1516.9,1484.1 1518.7,1483.9 1520.4,1483.7 1522.2,1483.5 1524,1483.3 1525.7,1483.1 1527.5,1482.9 1529.3,1482.8 1531.1,1482.6 1532.8,1482.4 1534.6,1482.2 1536.4,1482 1538.2,1481.8 1539.9,1481.5 1541.7,1481.1 1543.5,1480.7 1545.3,1480 1547,1479.2 1548.8,1477.9 1550.6,1476.2 1552.4,1474 1554.1,1471.1 1555.9,1467.5 1557.7,1463.2 1559.4,1458.3 1561.2,1453 1563,1447.5 1564.8,1442.1 1566.5,1437.4 1568.3,1433.7 1570.1,1431.3 1571.9,1430.5 1573.6,1431.2 1575.4,1433.5 1577.2,1437.2 1579,1441.8 1580.7,1447 1582.5,1452.4 1584.3,1457.7 1586.1,1462.5 1587.8,1466.7 1589.6,1470.2 1591.4,1473 1593.2,1475.2 1594.9,1476.8 1596.7,1477.9 1598.5,1478.7 1600.2,1479.2 1602,1479.6 1603.8,1479.9 1605.6,1480.1 1607.3,1480.2 1609.1,1480.4 1610.9,1480.5 1612.7,1480.6 1614.4,1480.7 1616.2,1480.8 1618,1480.9 1619.8,1481.1 1621.5,1481.2 1623.3,1481.3 1625.1,1481.4 1626.9,1481.6 1628.6,1481.7 1630.4,1481.8 1632.2,1482 1633.9,1482.1 1635.7,1482.3 1637.5,1482.4 1639.3,1482.5 1641,1482.7 1642.8,1483 1644.6,1483.2 1646.4,1483.5 1648.1,1483.8 1649.9,1484.1 1651.7,1484.4 1653.5,1484.6 1655.2,1484.9 1657,1485.2 1658.8,1485.5 1660.6,1485.7 1662.3,1486 1664.1,1486.3 1665.9,1486.5 1667.6,1486.8 1669.4,1487.1 1671.2,1487.3 1673,1487.6 1674.7,1487.8 1676.5,1488.1 1678.3,1488.3 1680.1,1488.5 1681.8,1488.8 1683.6,1489 1685.4,1489.2 1687.2,1489.5 1688.9,1489.7 1690.7,1489.9 1692.5,1490.1 1694.3,1490.3 1696,1490.6 1697.8,1490.8 1699.6,1491 1701.3,1491.2 1703.1,1491.3 1704.9,1491.5 1706.7,1491.7 1708.4,1491.9 1710.2,1492 1712,1492.1 1713.8,1491.9 1715.5,1491.7 1717.3,1491.2 1719.1,1490.4 1720.9,1489.1 1722.6,1487.2 1724.4,1484.4 1726.2,1480.6 1728,1475.5 1729.7,1469.2 1731.5,1461.5 1733.3,1452.7 1735,1443 1736.8,1433 1738.6,1423.4 1740.4,1414.9 1742.1,1408.2 1743.9,1403.9 1745.7,1402.5 1747.5,1404 1749.2,1408.4 1751,1415.2 1752.8,1423.8 1754.6,1433.5 1756.3,1443.6 1758.1,1453.3 1759.9,1462.2 1761.7,1470 1763.4,1476.5 1765.2,1481.6 1767,1485.6 1768.7,1488.5 1770.5,1490.5 1772.3,1491.9 1774.1,1492.8 1775.8,1493.4 1777.6,1493.7 1779.4,1494 1781.2,1494.1 1782.9,1494.2 1784.7,1494.2 1786.5,1494.3 1788.3,1494.3 1790,1494.3 1791.8,1494.3 1793.6,1494.2 1795.4,1494.1 1797.1,1493.8 1798.9,1493.2 1800.7,1492.3 1802.4,1490.8 1804.2,1488.3 1806,1484.4 1807.8,1478.8 1809.5,1470.7 1811.3,1459.7 1813.1,1445.3 1814.9,1427.1 1816.6,1405.2 1818.4,1380.1 1820.2,1352.6 1822,1324.3 1823.7,1297 1825.5,1272.8 1827.3,1253.7 1829.1,1241.5 1830.8,1237.2 1832.6,1241.5 1834.4,1253.8 1836.1,1272.9 1837.9,1297.2 1839.7,1324.5 1841.5,1352.8 1843.2,1380.3 1845,1405.5 1846.8,1427.4 1848.6,1445.6 1850.3,1460.1 1852.1,1471.1 1853.9,1479.2 1855.7,1484.9 1857.4,1488.8 1859.2,1491.3 1861,1492.9 1862.8,1493.8 1864.5,1494.4 1866.3,1494.7 1868.1,1494.9 1869.8,1495 1871.6,1495.1 1873.4,1495.1 1875.2,1495.2 1876.9,1495.2 1878.7,1495.2 1880.5,1495.2 1882.3,1495.2 1884,1495.2 1885.8,1495.3 1887.6,1495.3 1889.4,1495.3 1891.1,1495.3 1892.9,1495.3 1894.7,1495.3 1896.5,1495.3 1898.2,1495.4 1900,1495.4 1901.8,1495.4 1903.5,1495.4 1905.3,1495.4 1907.1,1495.4" fill="none" stroke="#ff1a22" stroke-width="4.4" stroke-linejoin="round" stroke-dasharray="24 11.5 6.4 11.5"/>
</svg>
<path d="M1261.5 1081V1437.6M1305.8 1081V1443.2M1357.2 1081V1441.3M1571.9 1081V1671M1745.7 1081V1353.6M1830.8 1081V1544" stroke="#000" stroke-width="2" stroke-dasharray="6 10.5" fill="none"/>
<rect x="1197.5" y="1079" width="708.5" height="603.5" fill="none" stroke="#000" stroke-width="3.6"/>
<path d="M1286.3 1682.5v-9M1286.3 1079v9M1463.7 1682.5v-9M1463.7 1079v9M1641 1682.5v-9M1641 1079v9M1818.4 1682.5v-9M1818.4 1079v9M1197.6 1682.5v-4M1197.6 1079v4M1215.4 1682.5v-4M1215.4 1079v4M1233.1 1682.5v-4M1233.1 1079v4M1250.8 1682.5v-4M1250.8 1079v4M1268.6 1682.5v-4M1268.6 1079v4M1286.3 1682.5v-4M1286.3 1079v4M1304 1682.5v-4M1304 1079v4M1321.8 1682.5v-4M1321.8 1079v4M1339.5 1682.5v-4M1339.5 1079v4M1357.2 1682.5v-4M1357.2 1079v4M1375 1682.5v-4M1375 1079v4M1392.7 1682.5v-4M1392.7 1079v4M1410.5 1682.5v-4M1410.5 1079v4M1428.2 1682.5v-4M1428.2 1079v4M1445.9 1682.5v-4M1445.9 1079v4M1463.7 1682.5v-4M1463.7 1079v4M1481.4 1682.5v-4M1481.4 1079v4M1499.1 1682.5v-4M1499.1 1079v4M1516.9 1682.5v-4M1516.9 1079v4M1534.6 1682.5v-4M1534.6 1079v4M1552.4 1682.5v-4M1552.4 1079v4M1570.1 1682.5v-4M1570.1 1079v4M1587.8 1682.5v-4M1587.8 1079v4M1605.6 1682.5v-4M1605.6 1079v4M1623.3 1682.5v-4M1623.3 1079v4M1641 1682.5v-4M1641 1079v4M1658.8 1682.5v-4M1658.8 1079v4M1676.5 1682.5v-4M1676.5 1079v4M1694.3 1682.5v-4M1694.3 1079v4M1712 1682.5v-4M1712 1079v4M1729.7 1682.5v-4M1729.7 1079v4M1747.5 1682.5v-4M1747.5 1079v4M1765.2 1682.5v-4M1765.2 1079v4M1782.9 1682.5v-4M1782.9 1079v4M1800.7 1682.5v-4M1800.7 1079v4M1818.4 1682.5v-4M1818.4 1079v4M1836.1 1682.5v-4M1836.1 1079v4M1853.9 1682.5v-4M1853.9 1079v4M1871.6 1682.5v-4M1871.6 1079v4M1889.4 1682.5v-4M1889.4 1079v4M1197.5 1663.4h11M1906 1663.4h-11M1197.5 1514.1h11M1906 1514.1h-11M1197.5 1364.8h11M1906 1364.8h-11M1197.5 1215.5h11M1906 1215.5h-11M1197.5 1678.3h5M1906 1678.3h-5M1197.5 1663.4h5M1906 1663.4h-5M1197.5 1648.5h5M1906 1648.5h-5M1197.5 1633.5h5M1906 1633.5h-5M1197.5 1618.6h5M1906 1618.6h-5M1197.5 1603.7h5M1906 1603.7h-5M1197.5 1588.8h5M1906 1588.8h-5M1197.5 1573.8h5M1906 1573.8h-5M1197.5 1558.9h5M1906 1558.9h-5M1197.5 1544h5M1906 1544h-5M1197.5 1529h5M1906 1529h-5M1197.5 1514.1h5M1906 1514.1h-5M1197.5 1499.2h5M1906 1499.2h-5M1197.5 1484.2h5M1906 1484.2h-5M1197.5 1469.3h5M1906 1469.3h-5M1197.5 1454.4h5M1906 1454.4h-5M1197.5 1439.4h5M1906 1439.4h-5M1197.5 1424.5h5M1906 1424.5h-5M1197.5 1409.6h5M1906 1409.6h-5M1197.5 1394.7h5M1906 1394.7h-5M1197.5 1379.7h5M1906 1379.7h-5M1197.5 1364.8h5M1906 1364.8h-5M1197.5 1349.9h5M1906 1349.9h-5M1197.5 1334.9h5M1906 1334.9h-5M1197.5 1320h5M1906 1320h-5M1197.5 1305.1h5M1906 1305.1h-5M1197.5 1290.1h5M1906 1290.1h-5M1197.5 1275.2h5M1906 1275.2h-5M1197.5 1260.3h5M1906 1260.3h-5M1197.5 1245.4h5M1906 1245.4h-5M1197.5 1230.4h5M1906 1230.4h-5M1197.5 1215.5h5M1906 1215.5h-5M1197.5 1200.6h5M1906 1200.6h-5M1197.5 1185.6h5M1906 1185.6h-5M1197.5 1170.7h5M1906 1170.7h-5M1197.5 1155.8h5M1906 1155.8h-5M1197.5 1140.8h5M1906 1140.8h-5M1197.5 1125.9h5M1906 1125.9h-5M1197.5 1111h5M1906 1111h-5M1197.5 1096.1h5M1906 1096.1h-5M1197.5 1081.1h5M1906 1081.1h-5" stroke="#000" stroke-width="3.4" fill="none"/>
<text x="1286.3" y="1736.2" font-size="40" fill="#000" stroke="#000" stroke-width="0.5" text-anchor="middle" textLength="88" lengthAdjust="spacing">4700</text>
<text x="1463.7" y="1736.2" font-size="40" fill="#000" stroke="#000" stroke-width="0.5" text-anchor="middle" textLength="88" lengthAdjust="spacing">4800</text>
<text x="1641" y="1736.2" font-size="40" fill="#000" stroke="#000" stroke-width="0.5" text-anchor="middle" textLength="88" lengthAdjust="spacing">4900</text>
<text x="1818.4" y="1736.2" font-size="40" fill="#000" stroke="#000" stroke-width="0.5" text-anchor="middle" textLength="88" lengthAdjust="spacing">5000</text>
<text x="1183" y="1679.7" font-size="40" fill="#000" stroke="#000" stroke-width="0.5" text-anchor="end" textLength="111" lengthAdjust="spacing">&#8722;1000</text>
<text x="1183" y="1530.4" font-size="40" fill="#000" stroke="#000" stroke-width="0.5" text-anchor="end" textLength="21.5" lengthAdjust="spacing">0</text>
<text x="1183" y="1381.1" font-size="40" fill="#000" stroke="#000" stroke-width="0.5" text-anchor="end" textLength="86" lengthAdjust="spacing">1000</text>
<text x="1183" y="1231.8" font-size="40" fill="#000" stroke="#000" stroke-width="0.5" text-anchor="end" textLength="86" lengthAdjust="spacing">2000</text>
<text transform="translate(1259 1198.8) rotate(-90)" font-size="36" fill="#000" stroke="#000" stroke-width="0.2" textLength="59.8" lengthAdjust="spacingAndGlyphs">HeII</text>
<text transform="translate(1304.7 1198.8) rotate(-90)" font-size="36" fill="#000" stroke="#000" stroke-width="0.2" textLength="91.5" lengthAdjust="spacingAndGlyphs">[ArIV]</text>
<text transform="translate(1355.1 1198.8) rotate(-90)" font-size="36" fill="#000" stroke="#000" stroke-width="0.2" textLength="91.5" lengthAdjust="spacingAndGlyphs">[ArIV]</text>
<text transform="translate(1567 1199.5) rotate(-90)" font-size="35">H<tspan font-style="italic">&#946;</tspan></text>
<text transform="translate(1743.3 1198.8) rotate(-90)" font-size="36" fill="#000" stroke="#000" stroke-width="0.2" textLength="76.6" lengthAdjust="spacingAndGlyphs">[OIII]</text>
<text transform="translate(1829.1 1198.8) rotate(-90)" font-size="36" fill="#000" stroke="#000" stroke-width="0.2" textLength="76.6" lengthAdjust="spacingAndGlyphs">[OIII]</text>
<text transform="translate(1570 1469.3) rotate(-90)" font-size="35">H<tspan dx="6" font-style="italic">&#946;</tspan><tspan font-size="22" font-weight="bold" dy="8">br</tspan></text>
<text x="1498" y="1781.5" font-size="38">&#955;<tspan font-size="25" font-weight="bold" dy="10" letter-spacing="1.5">r.f.</tspan><tspan dy="-10" dx="2">[&#197;]</tspan></text>
<svg x="2104.5" y="1079" width="988.8" height="603.5" viewBox="2104.5 1079 988.8 603.5" overflow="hidden">
<polyline points="2094.9,1669.6 2095.9,1669.6 2096.9,1669.6 2097.9,1669.6 2098.8,1669.6 2099.8,1669.6 2100.8,1669.6 2101.8,1669.6 2102.8,1669.6 2103.8,1669.6 2104.8,1669.6 2105.8,1669.6 2106.8,1669.6 2107.7,1669.6 2108.7,1669.6 2109.7,1669.6 2110.7,1669.6 2111.7,1669.6 2112.7,1669.6 2113.7,1669.6 2114.7,1669.6 2115.7,1669.6 2116.6,1669.6 2117.6,1669.6 2118.6,1669.6 2119.6,1669.6 2120.6,1669.6 2121.6,1669.6 2122.6,1669.6 2123.6,1669.6 2124.6,1669.6 2125.5,1669.6 2126.5,1669.6 2127.5,1669.6 2128.5,1669.6 2129.5,1669.6 2130.5,1669.6 2131.5,1669.6 2132.5,1669.6 2133.5,1669.6 2134.5,1669.6 2135.4,1669.6 2136.4,1669.6 2137.4,1669.6 2138.4,1669.6 2139.4,1669.6 2140.4,1669.6 2141.4,1669.6 2142.4,1669.6 2143.4,1669.6 2144.3,1669.6 2145.3,1669.6 2146.3,1669.6 2147.3,1669.6 2148.3,1669.6 2149.3,1669.6 2150.3,1669.6 2151.3,1669.6 2152.3,1669.6 2153.2,1669.6 2154.2,1669.6 2155.2,1669.6 2156.2,1669.6 2157.2,1669.6 2158.2,1669.6 2159.2,1669.6 2160.2,1669.6 2161.2,1669.6 2162.1,1669.6 2163.1,1669.6 2164.1,1669.6 2165.1,1669.6 2166.1,1669.6 2167.1,1669.6 2168.1,1669.6 2169.1,1669.6 2170.1,1669.6 2171,1669.6 2172,1669.6 2173,1669.6 2174,1669.6 2175,1669.6 2176,1669.6 2177,1669.6 2178,1669.6 2179,1669.6 2179.9,1669.6 2180.9,1669.6 2181.9,1669.6 2182.9,1669.6 2183.9,1669.6 2184.9,1669.6 2185.9,1669.6 2186.9,1669.6 2187.9,1669.6 2188.8,1669.6 2189.8,1669.6 2190.8,1669.6 2191.8,1669.6 2192.8,1669.6 2193.8,1669.6 2194.8,1669.6 2195.8,1669.6 2196.8,1669.6 2197.7,1669.6 2198.7,1669.6 2199.7,1669.6 2200.7,1669.6 2201.7,1669.6 2202.7,1669.6 2203.7,1669.6 2204.7,1669.6 2205.7,1669.6 2206.6,1669.6 2207.6,1669.6 2208.6,1669.6 2209.6,1669.6 2210.6,1669.6 2211.6,1669.6 2212.6,1669.6 2213.6,1669.6 2214.6,1669.6 2215.5,1669.6 2216.5,1669.6 2217.5,1669.6 2218.5,1669.6 2219.5,1669.6 2220.5,1669.6 2221.5,1669.6 2222.5,1669.6 2223.5,1669.6 2224.4,1669.6 2225.4,1669.6 2226.4,1669.6 2227.4,1669.6 2228.4,1669.6 2229.4,1669.6 2230.4,1669.6 2231.4,1669.6 2232.4,1669.6 2233.3,1669.6 2234.3,1669.6 2235.3,1669.6 2236.3,1669.6 2237.3,1669.6 2238.3,1669.6 2239.3,1669.6 2240.3,1669.6 2241.3,1669.6 2242.3,1669.6 2243.2,1669.6 2244.2,1669.6 2245.2,1669.6 2246.2,1669.6 2247.2,1669.6 2248.2,1669.6 2249.2,1669.6 2250.2,1669.6 2251.2,1669.6 2252.1,1669.6 2253.1,1669.6 2254.1,1669.6 2255.1,1669.6 2256.1,1669.6 2257.1,1669.6 2258.1,1669.6 2259.1,1669.6 2260.1,1669.6 2261,1669.6 2262,1669.6 2263,1669.6 2264,1669.6 2265,1669.6 2266,1669.6 2267,1669.6 2268,1669.6 2269,1669.6 2269.9,1669.6 2270.9,1669.6 2271.9,1669.6 2272.9,1669.6 2273.9,1669.6 2274.9,1669.6 2275.9,1669.6 2276.9,1669.6 2277.9,1669.6 2278.8,1669.6 2279.8,1669.6 2280.8,1669.6 2281.8,1669.6 2282.8,1669.6 2283.8,1669.6 2284.8,1669.6 2285.8,1669.6 2286.8,1669.6 2287.7,1669.6 2288.7,1669.6 2289.7,1669.6 2290.7,1669.6 2291.7,1669.6 2292.7,1669.6 2293.7,1669.6 2294.7,1669.6 2295.7,1669.6 2296.6,1669.6 2297.6,1669.6 2298.6,1669.6 2299.6,1669.6 2300.6,1669.6 2301.6,1669.6 2302.6,1669.6 2303.6,1669.6 2304.6,1669.6 2305.5,1669.6 2306.5,1669.6 2307.5,1669.6 2308.5,1669.6 2309.5,1669.6 2310.5,1669.6 2311.5,1669.6 2312.5,1669.6 2313.5,1669.6 2314.4,1669.6 2315.4,1669.6 2316.4,1669.6 2317.4,1669.6 2318.4,1669.6 2319.4,1669.6 2320.4,1669.6 2321.4,1669.6 2322.4,1669.6 2323.3,1669.6 2324.3,1669.6 2325.3,1669.6 2326.3,1669.6 2327.3,1669.6 2328.3,1669.6 2329.3,1669.6 2330.3,1669.6 2331.3,1669.6 2332.2,1669.6 2333.2,1669.6 2334.2,1669.6 2335.2,1669.6 2336.2,1669.6 2337.2,1669.6 2338.2,1669.6 2339.2,1669.6 2340.2,1669.6 2341.2,1669.6 2342.1,1669.6 2343.1,1669.6 2344.1,1669.6 2345.1,1669.6 2346.1,1669.6 2347.1,1669.6 2348.1,1669.6 2349.1,1669.6 2350.1,1669.6 2351,1669.6 2352,1669.6 2353,1669.6 2354,1669.6 2355,1669.6 2356,1669.6 2357,1669.6 2358,1669.6 2359,1669.6 2359.9,1669.6 2360.9,1669.6 2361.9,1669.6 2362.9,1669.6 2363.9,1669.6 2364.9,1669.6 2365.9,1669.6 2366.9,1669.6 2367.9,1669.6 2368.8,1669.6 2369.8,1669.6 2370.8,1669.6 2371.8,1669.6 2372.8,1669.6 2373.8,1669.6 2374.8,1669.6 2375.8,1669.6 2376.8,1669.6 2377.7,1669.6 2378.7,1669.6 2379.7,1669.6 2380.7,1669.6 2381.7,1669.6 2382.7,1669.6 2383.7,1669.6 2384.7,1669.6 2385.7,1669.6 2386.6,1669.6 2387.6,1669.6 2388.6,1669.6 2389.6,1669.6 2390.6,1669.6 2391.6,1669.6 2392.6,1669.6 2393.6,1669.6 2394.6,1669.6 2395.5,1669.6 2396.5,1669.6 2397.5,1669.6 2398.5,1669.6 2399.5,1669.6 2400.5,1669.6 2401.5,1669.6 2402.5,1669.6 2403.5,1669.6 2404.4,1669.6 2405.4,1669.6 2406.4,1669.6 2407.4,1669.6 2408.4,1669.6 2409.4,1669.6 2410.4,1669.6 2411.4,1669.6 2412.4,1669.6 2413.3,1669.6 2414.3,1669.6 2415.3,1669.6 2416.3,1669.6 2417.3,1669.6 2418.3,1669.6 2419.3,1669.6 2420.3,1669.6 2421.3,1669.6 2422.2,1669.6 2423.2,1669.6 2424.2,1669.6 2425.2,1669.6 2426.2,1669.6 2427.2,1669.5 2428.2,1669.5 2429.2,1669.5 2430.2,1669.5 2431.2,1669.5 2432.1,1669.5 2433.1,1669.5 2434.1,1669.5 2435.1,1669.5 2436.1,1669.5 2437.1,1669.5 2438.1,1669.5 2439.1,1669.5 2440.1,1669.5 2441,1669.5 2442,1669.5 2443,1669.5 2444,1669.5 2445,1669.4 2446,1669.4 2447,1669.4 2448,1669.4 2449,1669.4 2449.9,1669.4 2450.9,1669.4 2451.9,1669.4 2452.9,1669.4 2453.9,1669.4 2454.9,1669.4 2455.9,1669.3 2456.9,1669.3 2457.9,1669.3 2458.8,1669.3 2459.8,1669.3 2460.8,1669.3 2461.8,1669.3 2462.8,1669.2 2463.8,1669.2 2464.8,1669.2 2465.8,1669.2 2466.8,1669.2 2467.7,1669.2 2468.7,1669.1 2469.7,1669.1 2470.7,1669.1 2471.7,1669.1 2472.7,1669.1 2473.7,1669 2474.7,1669 2475.7,1669 2476.6,1669 2477.6,1668.9 2478.6,1668.9 2479.6,1668.9 2480.6,1668.9 2481.6,1668.8 2482.6,1668.8 2483.6,1668.8 2484.6,1668.7 2485.5,1668.7 2486.5,1668.7 2487.5,1668.6 2488.5,1668.6 2489.5,1668.6 2490.5,1668.5 2491.5,1668.5 2492.5,1668.4 2493.5,1668.4 2494.4,1668.3 2495.4,1668.3 2496.4,1668.3 2497.4,1668.2 2498.4,1668.2 2499.4,1668.1 2500.4,1668.1 2501.4,1668 2502.4,1667.9 2503.3,1667.9 2504.3,1667.8 2505.3,1667.8 2506.3,1667.7 2507.3,1667.6 2508.3,1667.6 2509.3,1667.5 2510.3,1667.4 2511.3,1667.4 2512.2,1667.3 2513.2,1667.2 2514.2,1667.1 2515.2,1667.1 2516.2,1667 2517.2,1666.9 2518.2,1666.8 2519.2,1666.7 2520.2,1666.6 2521.1,1666.5 2522.1,1666.4 2523.1,1666.3 2524.1,1666.2 2525.1,1666.1 2526.1,1666 2527.1,1665.9 2528.1,1665.8 2529.1,1665.7 2530.1,1665.6 2531,1665.5 2532,1665.4 2533,1665.2 2534,1665.1 2535,1665 2536,1664.8 2537,1664.7 2538,1664.6 2539,1664.4 2539.9,1664.3 2540.9,1664.1 2541.9,1664 2542.9,1663.8 2543.9,1663.7 2544.9,1663.5 2545.9,1663.4 2546.9,1663.2 2547.9,1663 2548.8,1662.8 2549.8,1662.7 2550.8,1662.5 2551.8,1662.3 2552.8,1662.1 2553.8,1661.9 2554.8,1661.7 2555.8,1661.5 2556.8,1661.3 2557.7,1661.1 2558.7,1660.9 2559.7,1660.7 2560.7,1660.5 2561.7,1660.3 2562.7,1660 2563.7,1659.8 2564.7,1659.6 2565.7,1659.3 2566.6,1659.1 2567.6,1658.9 2568.6,1658.6 2569.6,1658.4 2570.6,1658.1 2571.6,1657.9 2572.6,1657.6 2573.6,1657.3 2574.6,1657.1 2575.5,1656.8 2576.5,1656.5 2577.5,1656.2 2578.5,1656 2579.5,1655.7 2580.5,1655.4 2581.5,1655.1 2582.5,1654.8 2583.5,1654.5 2584.4,1654.2 2585.4,1653.9 2586.4,1653.6 2587.4,1653.2 2588.4,1652.9 2589.4,1652.6 2590.4,1652.3 2591.4,1651.9 2592.4,1651.6 2593.3,1651.3 2594.3,1650.9 2595.3,1650.6 2596.3,1650.2 2597.3,1649.9 2598.3,1649.5 2599.3,1649.2 2600.3,1648.8 2601.3,1648.5 2602.2,1648.1 2603.2,1647.7 2604.2,1647.4 2605.2,1647 2606.2,1646.6 2607.2,1646.3 2608.2,1645.9 2609.2,1645.5 2610.2,1645.1 2611.1,1644.7 2612.1,1644.3 2613.1,1644 2614.1,1643.6 2615.1,1643.2 2616.1,1642.8 2617.1,1642.4 2618.1,1642 2619.1,1641.6 2620,1641.2 2621,1640.8 2622,1640.4 2623,1640 2624,1639.6 2625,1639.2 2626,1638.8 2627,1638.4 2628,1638 2629,1637.6 2629.9,1637.2 2630.9,1636.8 2631.9,1636.4 2632.9,1636 2633.9,1635.6 2634.9,1635.2 2635.9,1634.8 2636.9,1634.4 2637.9,1634 2638.8,1633.6 2639.8,1633.3 2640.8,1632.9 2641.8,1632.5 2642.8,1632.1 2643.8,1631.7 2644.8,1631.3 2645.8,1631 2646.8,1630.6 2647.7,1630.2 2648.7,1629.9 2649.7,1629.5 2650.7,1629.1 2651.7,1628.8 2652.7,1628.4 2653.7,1628.1 2654.7,1627.7 2655.7,1627.4 2656.6,1627 2657.6,1626.7 2658.6,1626.4 2659.6,1626 2660.6,1625.7 2661.6,1625.4 2662.6,1625.1 2663.6,1624.8 2664.6,1624.5 2665.5,1624.2 2666.5,1623.9 2667.5,1623.6 2668.5,1623.4 2669.5,1623.1 2670.5,1622.8 2671.5,1622.6 2672.5,1622.3 2673.5,1622.1 2674.4,1621.8 2675.4,1621.6 2676.4,1621.4 2677.4,1621.1 2678.4,1620.9 2679.4,1620.7 2680.4,1620.5 2681.4,1620.3 2682.4,1620.2 2683.3,1620 2684.3,1619.8 2685.3,1619.7 2686.3,1619.5 2687.3,1619.4 2688.3,1619.2 2689.3,1619.1 2690.3,1619 2691.3,1618.9 2692.2,1618.8 2693.2,1618.7 2694.2,1618.6 2695.2,1618.5 2696.2,1618.4 2697.2,1618.4 2698.2,1618.3 2699.2,1618.3 2700.2,1618.2 2701.1,1618.2 2702.1,1618.2 2703.1,1618.2 2704.1,1618.2 2705.1,1618.2 2706.1,1618.2 2707.1,1618.2 2708.1,1618.2 2709.1,1618.3 2710,1618.3 2711,1618.4 2712,1618.4 2713,1618.5 2714,1618.6 2715,1618.7 2716,1618.8 2717,1618.9 2718,1619 2718.9,1619.1 2719.9,1619.2 2720.9,1619.4 2721.9,1619.5 2722.9,1619.7 2723.9,1619.8 2724.9,1620 2725.9,1620.2 2726.9,1620.3 2727.9,1620.5 2728.8,1620.7 2729.8,1620.9 2730.8,1621.1 2731.8,1621.4 2732.8,1621.6 2733.8,1621.8 2734.8,1622.1 2735.8,1622.3 2736.8,1622.6 2737.7,1622.8 2738.7,1623.1 2739.7,1623.4 2740.7,1623.6 2741.7,1623.9 2742.7,1624.2 2743.7,1624.5 2744.7,1624.8 2745.7,1625.1 2746.6,1625.4 2747.6,1625.7 2748.6,1626 2749.6,1626.4 2750.6,1626.7 2751.6,1627 2752.6,1627.4 2753.6,1627.7 2754.6,1628.1 2755.5,1628.4 2756.5,1628.8 2757.5,1629.1 2758.5,1629.5 2759.5,1629.9 2760.5,1630.2 2761.5,1630.6 2762.5,1631 2763.5,1631.3 2764.4,1631.7 2765.4,1632.1 2766.4,1632.5 2767.4,1632.9 2768.4,1633.3 2769.4,1633.6 2770.4,1634 2771.4,1634.4 2772.4,1634.8 2773.3,1635.2 2774.3,1635.6 2775.3,1636 2776.3,1636.4 2777.3,1636.8 2778.3,1637.2 2779.3,1637.6 2780.3,1638 2781.3,1638.4 2782.2,1638.8 2783.2,1639.2 2784.2,1639.6 2785.2,1640 2786.2,1640.4 2787.2,1640.8 2788.2,1641.2 2789.2,1641.6 2790.2,1642 2791.1,1642.4 2792.1,1642.8 2793.1,1643.2 2794.1,1643.6 2795.1,1644 2796.1,1644.3 2797.1,1644.7 2798.1,1645.1 2799.1,1645.5 2800,1645.9 2801,1646.3 2802,1646.6 2803,1647 2804,1647.4 2805,1647.7 2806,1648.1 2807,1648.5 2808,1648.8 2808.9,1649.2 2809.9,1649.5 2810.9,1649.9 2811.9,1650.2 2812.9,1650.6 2813.9,1650.9 2814.9,1651.3 2815.9,1651.6 2816.9,1651.9 2817.8,1652.3 2818.8,1652.6 2819.8,1652.9 2820.8,1653.2 2821.8,1653.6 2822.8,1653.9 2823.8,1654.2 2824.8,1654.5 2825.8,1654.8 2826.8,1655.1 2827.7,1655.4 2828.7,1655.7 2829.7,1656 2830.7,1656.2 2831.7,1656.5 2832.7,1656.8 2833.7,1657.1 2834.7,1657.3 2835.7,1657.6 2836.6,1657.9 2837.6,1658.1 2838.6,1658.4 2839.6,1658.6 2840.6,1658.9 2841.6,1659.1 2842.6,1659.3 2843.6,1659.6 2844.6,1659.8 2845.5,1660 2846.5,1660.3 2847.5,1660.5 2848.5,1660.7 2849.5,1660.9 2850.5,1661.1 2851.5,1661.3 2852.5,1661.5 2853.5,1661.7 2854.4,1661.9 2855.4,1662.1 2856.4,1662.3 2857.4,1662.5 2858.4,1662.7 2859.4,1662.8 2860.4,1663 2861.4,1663.2 2862.4,1663.4 2863.3,1663.5 2864.3,1663.7 2865.3,1663.8 2866.3,1664 2867.3,1664.1 2868.3,1664.3 2869.3,1664.4 2870.3,1664.6 2871.3,1664.7 2872.2,1664.8 2873.2,1665 2874.2,1665.1 2875.2,1665.2 2876.2,1665.4 2877.2,1665.5 2878.2,1665.6 2879.2,1665.7 2880.2,1665.8 2881.1,1665.9 2882.1,1666 2883.1,1666.1 2884.1,1666.2 2885.1,1666.3 2886.1,1666.4 2887.1,1666.5 2888.1,1666.6 2889.1,1666.7 2890,1666.8 2891,1666.9 2892,1667 2893,1667.1 2894,1667.1 2895,1667.2 2896,1667.3 2897,1667.4 2898,1667.4 2898.9,1667.5 2899.9,1667.6 2900.9,1667.6 2901.9,1667.7 2902.9,1667.8 2903.9,1667.8 2904.9,1667.9 2905.9,1667.9 2906.9,1668 2907.8,1668.1 2908.8,1668.1 2909.8,1668.2 2910.8,1668.2 2911.8,1668.3 2912.8,1668.3 2913.8,1668.3 2914.8,1668.4 2915.8,1668.4 2916.7,1668.5 2917.7,1668.5 2918.7,1668.6 2919.7,1668.6 2920.7,1668.6 2921.7,1668.7 2922.7,1668.7 2923.7,1668.7 2924.7,1668.8 2925.7,1668.8 2926.6,1668.8 2927.6,1668.9 2928.6,1668.9 2929.6,1668.9 2930.6,1668.9 2931.6,1669 2932.6,1669 2933.6,1669 2934.6,1669 2935.5,1669.1 2936.5,1669.1 2937.5,1669.1 2938.5,1669.1 2939.5,1669.1 2940.5,1669.2 2941.5,1669.2 2942.5,1669.2 2943.5,1669.2 2944.4,1669.2 2945.4,1669.2 2946.4,1669.3 2947.4,1669.3 2948.4,1669.3 2949.4,1669.3 2950.4,1669.3 2951.4,1669.3 2952.4,1669.3 2953.3,1669.4 2954.3,1669.4 2955.3,1669.4 2956.3,1669.4 2957.3,1669.4 2958.3,1669.4 2959.3,1669.4 2960.3,1669.4 2961.3,1669.4 2962.2,1669.4 2963.2,1669.4 2964.2,1669.5 2965.2,1669.5 2966.2,1669.5 2967.2,1669.5 2968.2,1669.5 2969.2,1669.5 2970.2,1669.5 2971.1,1669.5 2972.1,1669.5 2973.1,1669.5 2974.1,1669.5 2975.1,1669.5 2976.1,1669.5 2977.1,1669.5 2978.1,1669.5 2979.1,1669.5 2980,1669.5 2981,1669.5 2982,1669.6 2983,1669.6 2984,1669.6 2985,1669.6 2986,1669.6 2987,1669.6 2988,1669.6 2988.9,1669.6 2989.9,1669.6 2990.9,1669.6 2991.9,1669.6 2992.9,1669.6 2993.9,1669.6 2994.9,1669.6 2995.9,1669.6 2996.9,1669.6 2997.8,1669.6 2998.8,1669.6 2999.8,1669.6 3000.8,1669.6 3001.8,1669.6 3002.8,1669.6 3003.8,1669.6 3004.8,1669.6 3005.8,1669.6 3006.7,1669.6 3007.7,1669.6 3008.7,1669.6 3009.7,1669.6 3010.7,1669.6 3011.7,1669.6 3012.7,1669.6 3013.7,1669.6 3014.7,1669.6 3015.6,1669.6 3016.6,1669.6 3017.6,1669.6 3018.6,1669.6 3019.6,1669.6 3020.6,1669.6 3021.6,1669.6 3022.6,1669.6 3023.6,1669.6 3024.6,1669.6 3025.5,1669.6 3026.5,1669.6 3027.5,1669.6 3028.5,1669.6 3029.5,1669.6 3030.5,1669.6 3031.5,1669.6 3032.5,1669.6 3033.5,1669.6 3034.4,1669.6 3035.4,1669.6 3036.4,1669.6 3037.4,1669.6 3038.4,1669.6 3039.4,1669.6 3040.4,1669.6 3041.4,1669.6 3042.4,1669.6 3043.3,1669.6 3044.3,1669.6 3045.3,1669.6 3046.3,1669.6 3047.3,1669.6 3048.3,1669.6 3049.3,1669.6 3050.3,1669.6 3051.3,1669.6 3052.2,1669.6 3053.2,1669.6 3054.2,1669.6 3055.2,1669.6 3056.2,1669.6 3057.2,1669.6 3058.2,1669.6 3059.2,1669.6 3060.2,1669.6 3061.1,1669.6 3062.1,1669.6 3063.1,1669.6 3064.1,1669.6 3065.1,1669.6 3066.1,1669.6 3067.1,1669.6 3068.1,1669.6 3069.1,1669.6 3070,1669.6 3071,1669.6 3072,1669.6 3073,1669.6 3074,1669.6 3075,1669.6 3076,1669.6 3077,1669.6 3078,1669.6 3078.9,1669.6 3079.9,1669.6 3080.9,1669.6 3081.9,1669.6 3082.9,1669.6 3083.9,1669.6 3084.9,1669.6 3085.9,1669.6 3086.9,1669.6 3087.8,1669.6 3088.8,1669.6 3089.8,1669.6 3090.8,1669.6 3091.8,1669.6 3092.8,1669.6 3093.8,1669.6 3094.8,1669.6 3095.8,1669.6 3096.7,1669.6 3097.7,1669.6 3098.7,1669.6 3099.7,1669.6 3100.7,1669.6 3101.7,1669.6 3102.7,1669.6" fill="none" stroke="#2ed260" stroke-width="4.2" stroke-linejoin="round"/>
<polyline points="2119.6,1669.6 2120.6,1669.6 2121.6,1669.6 2122.6,1669.6 2123.6,1669.6 2124.6,1669.6 2125.5,1669.6 2126.5,1669.6 2127.5,1669.6 2128.5,1669.6 2129.5,1669.6 2130.5,1669.6 2131.5,1669.6 2132.5,1669.6 2133.5,1669.6 2134.5,1669.6 2135.4,1669.6 2136.4,1669.6 2137.4,1669.6 2138.4,1669.6 2139.4,1669.6 2140.4,1669.6 2141.4,1669.6 2142.4,1669.6 2143.4,1669.6 2144.3,1669.6 2145.3,1669.6 2146.3,1669.5 2147.3,1669.5 2148.3,1669.5 2149.3,1669.4 2150.3,1669.3 2151.3,1669.2 2152.3,1669.1 2153.2,1669 2154.2,1668.8 2155.2,1668.5 2156.2,1668.2 2157.2,1667.9 2158.2,1667.5 2159.2,1667 2160.2,1666.4 2161.2,1665.7 2162.1,1664.8 2163.1,1663.9 2164.1,1662.9 2165.1,1661.7 2166.1,1660.4 2167.1,1658.9 2168.1,1657.4 2169.1,1655.7 2170.1,1653.9 2171,1652 2172,1650.1 2173,1648.2 2174,1646.2 2175,1644.3 2176,1642.5 2177,1640.8 2178,1639.2 2179,1637.8 2179.9,1636.5 2180.9,1635.6 2181.9,1634.9 2182.9,1634.4 2183.9,1634.3 2184.9,1634.4 2185.9,1634.9 2186.9,1635.6 2187.9,1636.5 2188.8,1637.8 2189.8,1639.2 2190.8,1640.8 2191.8,1642.5 2192.8,1644.3 2193.8,1646.2 2194.8,1648.2 2195.8,1650.1 2196.8,1652 2197.7,1653.9 2198.7,1655.7 2199.7,1657.4 2200.7,1658.9 2201.7,1660.4 2202.7,1661.7 2203.7,1662.9 2204.7,1663.9 2205.7,1664.8 2206.6,1665.7 2207.6,1666.4 2208.6,1667 2209.6,1667.5 2210.6,1667.9 2211.6,1668.2 2212.6,1668.5 2213.6,1668.8 2214.6,1669 2215.5,1669.1 2216.5,1669.2 2217.5,1669.3 2218.5,1669.4 2219.5,1669.5 2220.5,1669.5 2221.5,1669.5 2222.5,1669.6 2223.5,1669.6 2224.4,1669.6 2225.4,1669.6 2226.4,1669.6 2227.4,1669.6 2228.4,1669.6 2229.4,1669.6 2230.4,1669.6 2231.4,1669.6 2232.4,1669.6 2233.3,1669.6 2234.3,1669.6 2235.3,1669.6 2236.3,1669.6 2237.3,1669.6 2238.3,1669.6 2239.3,1669.6 2240.3,1669.6 2241.3,1669.6 2242.3,1669.6 2243.2,1669.6 2244.2,1669.6 2245.2,1669.6 2246.2,1669.6 2247.2,1669.6 2248.2,1669.6" fill="none" stroke="#0050f0" stroke-width="4.2" stroke-linejoin="round"/>
<polyline points="2244.2,1669.6 2245.2,1669.6 2246.2,1669.6 2247.2,1669.6 2248.2,1669.6 2249.2,1669.6 2250.2,1669.6 2251.2,1669.6 2252.1,1669.6 2253.1,1669.6 2254.1,1669.6 2255.1,1669.6 2256.1,1669.6 2257.1,1669.6 2258.1,1669.6 2259.1,1669.6 2260.1,1669.6 2261,1669.6 2262,1669.6 2263,1669.6 2264,1669.6 2265,1669.6 2266,1669.6 2267,1669.6 2268,1669.6 2269,1669.6 2269.9,1669.6 2270.9,1669.6 2271.9,1669.6 2272.9,1669.6 2273.9,1669.6 2274.9,1669.5 2275.9,1669.5 2276.9,1669.5 2277.9,1669.4 2278.8,1669.4 2279.8,1669.3 2280.8,1669.2 2281.8,1669.1 2282.8,1668.9 2283.8,1668.8 2284.8,1668.6 2285.8,1668.4 2286.8,1668.1 2287.7,1667.8 2288.7,1667.5 2289.7,1667.1 2290.7,1666.7 2291.7,1666.3 2292.7,1665.8 2293.7,1665.2 2294.7,1664.7 2295.7,1664.1 2296.6,1663.5 2297.6,1662.9 2298.6,1662.3 2299.6,1661.7 2300.6,1661.1 2301.6,1660.5 2302.6,1660 2303.6,1659.6 2304.6,1659.2 2305.5,1658.9 2306.5,1658.7 2307.5,1658.5 2308.5,1658.5 2309.5,1658.5 2310.5,1658.7 2311.5,1658.9 2312.5,1659.2 2313.5,1659.6 2314.4,1660 2315.4,1660.5 2316.4,1661.1 2317.4,1661.7 2318.4,1662.3 2319.4,1662.9 2320.4,1663.5 2321.4,1664.1 2322.4,1664.7 2323.3,1665.2 2324.3,1665.8 2325.3,1666.3 2326.3,1666.7 2327.3,1667.1 2328.3,1667.5 2329.3,1667.8 2330.3,1668.1 2331.3,1668.4 2332.2,1668.6 2333.2,1668.8 2334.2,1668.9 2335.2,1669.1 2336.2,1669.2 2337.2,1669.3 2338.2,1669.4 2339.2,1669.4 2340.2,1669.5 2341.2,1669.5 2342.1,1669.5 2343.1,1669.6 2344.1,1669.6 2345.1,1669.6 2346.1,1669.6 2347.1,1669.6 2348.1,1669.6 2349.1,1669.6 2350.1,1669.6 2351,1669.6 2352,1669.6 2353,1669.6 2354,1669.6 2355,1669.6 2356,1669.6 2357,1669.6 2358,1669.6 2359,1669.6 2359.9,1669.6 2360.9,1669.6 2361.9,1669.6 2362.9,1669.6 2363.9,1669.6 2364.9,1669.6 2365.9,1669.6 2366.9,1669.6 2367.9,1669.6 2368.8,1669.6 2369.8,1669.6 2370.8,1669.6 2371.8,1669.6 2372.8,1669.6" fill="none" stroke="#0050f0" stroke-width="4.2" stroke-linejoin="round"/>
<polyline points="2613.1,1669.6 2614.1,1669.6 2615.1,1669.6 2616.1,1669.6 2617.1,1669.6 2618.1,1669.6 2619.1,1669.6 2620,1669.6 2621,1669.6 2622,1669.6 2623,1669.6 2624,1669.6 2625,1669.6 2626,1669.6 2627,1669.6 2628,1669.6 2629,1669.6 2629.9,1669.6 2630.9,1669.6 2631.9,1669.6 2632.9,1669.6 2633.9,1669.6 2634.9,1669.6 2635.9,1669.6 2636.9,1669.6 2637.9,1669.6 2638.8,1669.5 2639.8,1669.5 2640.8,1669.4 2641.8,1669.4 2642.8,1669.3 2643.8,1669.2 2644.8,1669 2645.8,1668.9 2646.8,1668.6 2647.7,1668.3 2648.7,1668 2649.7,1667.5 2650.7,1667 2651.7,1666.4 2652.7,1665.6 2653.7,1664.7 2654.7,1663.7 2655.7,1662.5 2656.6,1661.2 2657.6,1659.7 2658.6,1658.1 2659.6,1656.3 2660.6,1654.4 2661.6,1652.4 2662.6,1650.2 2663.6,1648.1 2664.6,1645.9 2665.5,1643.7 2666.5,1641.6 2667.5,1639.6 2668.5,1637.7 2669.5,1636 2670.5,1634.6 2671.5,1633.5 2672.5,1632.6 2673.5,1632.1 2674.4,1631.9 2675.4,1632.1 2676.4,1632.6 2677.4,1633.5 2678.4,1634.6 2679.4,1636 2680.4,1637.7 2681.4,1639.6 2682.4,1641.6 2683.3,1643.7 2684.3,1645.9 2685.3,1648.1 2686.3,1650.2 2687.3,1652.4 2688.3,1654.4 2689.3,1656.3 2690.3,1658.1 2691.3,1659.7 2692.2,1661.2 2693.2,1662.5 2694.2,1663.7 2695.2,1664.7 2696.2,1665.6 2697.2,1666.4 2698.2,1667 2699.2,1667.5 2700.2,1668 2701.1,1668.3 2702.1,1668.6 2703.1,1668.9 2704.1,1669 2705.1,1669.2 2706.1,1669.3 2707.1,1669.4 2708.1,1669.4 2709.1,1669.5 2710,1669.5 2711,1669.6 2712,1669.6 2713,1669.6 2714,1669.6 2715,1669.6 2716,1669.6 2717,1669.6 2718,1669.6 2718.9,1669.6 2719.9,1669.6 2720.9,1669.6 2721.9,1669.6 2722.9,1669.6 2723.9,1669.6 2724.9,1669.6 2725.9,1669.6 2726.9,1669.6 2727.9,1669.6 2728.8,1669.6 2729.8,1669.6 2730.8,1669.6 2731.8,1669.6 2732.8,1669.6 2733.8,1669.6 2734.8,1669.6 2735.8,1669.6" fill="none" stroke="#0050f0" stroke-width="4.2" stroke-linejoin="round"/>
<polyline points="2642.8,1669.6 2643.8,1669.6 2644.8,1669.6 2645.8,1669.6 2646.8,1669.6 2647.7,1669.6 2648.7,1669.6 2649.7,1669.6 2650.7,1669.6 2651.7,1669.6 2652.7,1669.6 2653.7,1669.6 2654.7,1669.6 2655.7,1669.6 2656.6,1669.6 2657.6,1669.6 2658.6,1669.6 2659.6,1669.6 2660.6,1669.6 2661.6,1669.6 2662.6,1669.6 2663.6,1669.5 2664.6,1669.5 2665.5,1669.4 2666.5,1669.3 2667.5,1669.2 2668.5,1669.1 2669.5,1668.8 2670.5,1668.5 2671.5,1668.1 2672.5,1667.6 2673.5,1666.9 2674.4,1666.1 2675.4,1664.9 2676.4,1663.5 2677.4,1661.8 2678.4,1659.6 2679.4,1656.9 2680.4,1653.7 2681.4,1649.8 2682.4,1645.2 2683.3,1639.8 2684.3,1633.6 2685.3,1626.5 2686.3,1618.4 2687.3,1609.5 2688.3,1599.5 2689.3,1588.7 2690.3,1577.1 2691.3,1564.8 2692.2,1552 2693.2,1538.8 2694.2,1525.5 2695.2,1512.2 2696.2,1499.4 2697.2,1487.1 2698.2,1475.8 2699.2,1465.7 2700.2,1457.1 2701.1,1450.1 2702.1,1444.9 2703.1,1441.8 2704.1,1440.7 2705.1,1441.8 2706.1,1444.9 2707.1,1450.1 2708.1,1457.1 2709.1,1465.7 2710,1475.8 2711,1487.1 2712,1499.4 2713,1512.2 2714,1525.5 2715,1538.8 2716,1552 2717,1564.8 2718,1577.1 2718.9,1588.7 2719.9,1599.5 2720.9,1609.5 2721.9,1618.4 2722.9,1626.5 2723.9,1633.6 2724.9,1639.8 2725.9,1645.2 2726.9,1649.8 2727.9,1653.7 2728.8,1656.9 2729.8,1659.6 2730.8,1661.8 2731.8,1663.5 2732.8,1664.9 2733.8,1666.1 2734.8,1666.9 2735.8,1667.6 2736.8,1668.1 2737.7,1668.5 2738.7,1668.8 2739.7,1669.1 2740.7,1669.2 2741.7,1669.3 2742.7,1669.4 2743.7,1669.5 2744.7,1669.5 2745.7,1669.6 2746.6,1669.6 2747.6,1669.6 2748.6,1669.6 2749.6,1669.6 2750.6,1669.6 2751.6,1669.6 2752.6,1669.6 2753.6,1669.6 2754.6,1669.6 2755.5,1669.6 2756.5,1669.6 2757.5,1669.6 2758.5,1669.6 2759.5,1669.6 2760.5,1669.6 2761.5,1669.6 2762.5,1669.6 2763.5,1669.6 2764.4,1669.6 2765.4,1669.6" fill="none" stroke="#0050f0" stroke-width="4.2" stroke-linejoin="round"/>
<polyline points="2682.4,1669.6 2683.3,1669.6 2684.3,1669.6 2685.3,1669.6 2686.3,1669.6 2687.3,1669.6 2688.3,1669.6 2689.3,1669.6 2690.3,1669.6 2691.3,1669.6 2692.2,1669.6 2693.2,1669.6 2694.2,1669.6 2695.2,1669.6 2696.2,1669.6 2697.2,1669.6 2698.2,1669.6 2699.2,1669.6 2700.2,1669.6 2701.1,1669.6 2702.1,1669.6 2703.1,1669.6 2704.1,1669.6 2705.1,1669.5 2706.1,1669.5 2707.1,1669.4 2708.1,1669.4 2709.1,1669.2 2710,1669.1 2711,1668.9 2712,1668.7 2713,1668.3 2714,1667.9 2715,1667.4 2716,1666.7 2717,1665.9 2718,1664.8 2718.9,1663.6 2719.9,1662 2720.9,1660.2 2721.9,1658 2722.9,1655.4 2723.9,1652.5 2724.9,1649.1 2725.9,1645.2 2726.9,1640.9 2727.9,1636.2 2728.8,1631.1 2729.8,1625.5 2730.8,1619.7 2731.8,1613.6 2732.8,1607.3 2733.8,1600.9 2734.8,1594.6 2735.8,1588.5 2736.8,1582.6 2737.7,1577.2 2738.7,1572.4 2739.7,1568.3 2740.7,1565 2741.7,1562.5 2742.7,1561 2743.7,1560.5 2744.7,1561 2745.7,1562.5 2746.6,1565 2747.6,1568.3 2748.6,1572.4 2749.6,1577.2 2750.6,1582.6 2751.6,1588.5 2752.6,1594.6 2753.6,1600.9 2754.6,1607.3 2755.5,1613.6 2756.5,1619.7 2757.5,1625.5 2758.5,1631.1 2759.5,1636.2 2760.5,1640.9 2761.5,1645.2 2762.5,1649.1 2763.5,1652.5 2764.4,1655.4 2765.4,1658 2766.4,1660.2 2767.4,1662 2768.4,1663.6 2769.4,1664.8 2770.4,1665.9 2771.4,1666.7 2772.4,1667.4 2773.3,1667.9 2774.3,1668.3 2775.3,1668.7 2776.3,1668.9 2777.3,1669.1 2778.3,1669.2 2779.3,1669.4 2780.3,1669.4 2781.3,1669.5 2782.2,1669.5 2783.2,1669.6 2784.2,1669.6 2785.2,1669.6 2786.2,1669.6 2787.2,1669.6 2788.2,1669.6 2789.2,1669.6 2790.2,1669.6 2791.1,1669.6 2792.1,1669.6 2793.1,1669.6 2794.1,1669.6 2795.1,1669.6 2796.1,1669.6 2797.1,1669.6 2798.1,1669.6 2799.1,1669.6 2800,1669.6 2801,1669.6 2802,1669.6 2803,1669.6 2804,1669.6 2805,1669.6" fill="none" stroke="#0050f0" stroke-width="4.2" stroke-linejoin="round"/>
<polyline points="2942.5,1669.6 2943.5,1669.6 2944.4,1669.6 2945.4,1669.6 2946.4,1669.6 2947.4,1669.6 2948.4,1669.6 2949.4,1669.6 2950.4,1669.6 2951.4,1669.6 2952.4,1669.6 2953.3,1669.6 2954.3,1669.6 2955.3,1669.6 2956.3,1669.6 2957.3,1669.6 2958.3,1669.6 2959.3,1669.6 2960.3,1669.6 2961.3,1669.6 2962.2,1669.6 2963.2,1669.6 2964.2,1669.6 2965.2,1669.6 2966.2,1669.6 2967.2,1669.6 2968.2,1669.5 2969.2,1669.5 2970.2,1669.5 2971.1,1669.4 2972.1,1669.3 2973.1,1669.2 2974.1,1669.1 2975.1,1668.9 2976.1,1668.7 2977.1,1668.4 2978.1,1668.1 2979.1,1667.7 2980,1667.2 2981,1666.6 2982,1665.9 2983,1665.1 2984,1664.1 2985,1663 2986,1661.7 2987,1660.2 2988,1658.5 2988.9,1656.7 2989.9,1654.7 2990.9,1652.5 2991.9,1650.2 2992.9,1647.7 2993.9,1645.1 2994.9,1642.4 2995.9,1639.7 2996.9,1637 2997.8,1634.3 2998.8,1631.8 2999.8,1629.3 3000.8,1627.1 3001.8,1625.1 3002.8,1623.4 3003.8,1622.1 3004.8,1621.1 3005.8,1620.5 3006.7,1620.3 3007.7,1620.5 3008.7,1621.1 3009.7,1622.1 3010.7,1623.4 3011.7,1625.1 3012.7,1627.1 3013.7,1629.3 3014.7,1631.8 3015.6,1634.3 3016.6,1637 3017.6,1639.7 3018.6,1642.4 3019.6,1645.1 3020.6,1647.7 3021.6,1650.2 3022.6,1652.5 3023.6,1654.7 3024.6,1656.7 3025.5,1658.5 3026.5,1660.2 3027.5,1661.7 3028.5,1663 3029.5,1664.1 3030.5,1665.1 3031.5,1665.9 3032.5,1666.6 3033.5,1667.2 3034.4,1667.7 3035.4,1668.1 3036.4,1668.4 3037.4,1668.7 3038.4,1668.9 3039.4,1669.1 3040.4,1669.2 3041.4,1669.3 3042.4,1669.4 3043.3,1669.5 3044.3,1669.5 3045.3,1669.5 3046.3,1669.6 3047.3,1669.6 3048.3,1669.6 3049.3,1669.6 3050.3,1669.6 3051.3,1669.6 3052.2,1669.6 3053.2,1669.6 3054.2,1669.6 3055.2,1669.6 3056.2,1669.6 3057.2,1669.6 3058.2,1669.6 3059.2,1669.6 3060.2,1669.6 3061.1,1669.6 3062.1,1669.6 3063.1,1669.6 3064.1,1669.6 3065.1,1669.6 3066.1,1669.6 3067.1,1669.6 3068.1,1669.6 3069.1,1669.6 3070,1669.6 3071,1669.6" fill="none" stroke="#0050f0" stroke-width="4.2" stroke-linejoin="round"/>
<polyline points="2972.1,1669.6 2973.1,1669.6 2974.1,1669.6 2975.1,1669.6 2976.1,1669.6 2977.1,1669.6 2978.1,1669.6 2979.1,1669.6 2980,1669.6 2981,1669.6 2982,1669.6 2983,1669.6 2984,1669.6 2985,1669.6 2986,1669.6 2987,1669.6 2988,1669.6 2988.9,1669.6 2989.9,1669.6 2990.9,1669.6 2991.9,1669.6 2992.9,1669.6 2993.9,1669.6 2994.9,1669.6 2995.9,1669.6 2996.9,1669.6 2997.8,1669.6 2998.8,1669.5 2999.8,1669.5 3000.8,1669.5 3001.8,1669.4 3002.8,1669.3 3003.8,1669.2 3004.8,1669.1 3005.8,1669 3006.7,1668.8 3007.7,1668.5 3008.7,1668.2 3009.7,1667.9 3010.7,1667.5 3011.7,1667 3012.7,1666.4 3013.7,1665.7 3014.7,1664.8 3015.6,1663.9 3016.6,1662.9 3017.6,1661.7 3018.6,1660.4 3019.6,1658.9 3020.6,1657.4 3021.6,1655.7 3022.6,1653.9 3023.6,1652 3024.6,1650.1 3025.5,1648.2 3026.5,1646.2 3027.5,1644.3 3028.5,1642.5 3029.5,1640.8 3030.5,1639.2 3031.5,1637.8 3032.5,1636.5 3033.5,1635.6 3034.4,1634.9 3035.4,1634.4 3036.4,1634.3 3037.4,1634.4 3038.4,1634.9 3039.4,1635.6 3040.4,1636.5 3041.4,1637.8 3042.4,1639.2 3043.3,1640.8 3044.3,1642.5 3045.3,1644.3 3046.3,1646.2 3047.3,1648.2 3048.3,1650.1 3049.3,1652 3050.3,1653.9 3051.3,1655.7 3052.2,1657.4 3053.2,1658.9 3054.2,1660.4 3055.2,1661.7 3056.2,1662.9 3057.2,1663.9 3058.2,1664.8 3059.2,1665.7 3060.2,1666.4 3061.1,1667 3062.1,1667.5 3063.1,1667.9 3064.1,1668.2 3065.1,1668.5 3066.1,1668.8 3067.1,1669 3068.1,1669.1 3069.1,1669.2 3070,1669.3 3071,1669.4 3072,1669.5 3073,1669.5 3074,1669.5 3075,1669.6 3076,1669.6 3077,1669.6 3078,1669.6 3078.9,1669.6 3079.9,1669.6 3080.9,1669.6 3081.9,1669.6 3082.9,1669.6 3083.9,1669.6 3084.9,1669.6 3085.9,1669.6 3086.9,1669.6 3087.8,1669.6 3088.8,1669.6 3089.8,1669.6 3090.8,1669.6 3091.8,1669.6 3092.8,1669.6 3093.8,1669.6 3094.8,1669.6 3095.8,1669.6 3096.7,1669.6 3097.7,1669.6 3098.7,1669.6 3099.7,1669.6 3100.7,1669.6" fill="none" stroke="#0050f0" stroke-width="4.2" stroke-linejoin="round"/>
<polyline points="2094.9,1669.6 3103.7,1669.6" fill="none" stroke="#0050f0" stroke-width="4.4" stroke-linejoin="round"/>
<polyline points="2104.5,1514.5 3093.3,1514.5" fill="none" stroke="#000" stroke-width="4" stroke-linejoin="round" stroke-dasharray="4.6 11.9"/>
<polyline points="2104.8,1514.9 2106.8,1515 2108.7,1515.1 2110.7,1515.1 2112.7,1515 2114.7,1514.9 2116.6,1514.8 2118.6,1514.7 2120.6,1514.7 2122.6,1514.6 2124.6,1514.6 2126.5,1514.5 2128.5,1514.3 2130.5,1514.1 2132.5,1514 2134.5,1514.2 2136.4,1514.4 2138.4,1514.7 2140.4,1515 2142.4,1515.1 2144.3,1515.2 2146.3,1515.4 2148.3,1515.6 2150.3,1515.6 2152.3,1515.4 2154.2,1515.2 2156.2,1515.1 2158.2,1515.3 2160.2,1515.8 2162.1,1516.7 2164.1,1517.8 2166.1,1518.7 2168.1,1519.2 2170.1,1518.9 2172,1517.7 2174,1515.8 2176,1513.4 2178,1510.8 2179.9,1508.5 2181.9,1506.8 2183.9,1505.9 2185.9,1506.1 2187.9,1507.3 2189.8,1508.9 2191.8,1510.7 2193.8,1512.2 2195.8,1513.4 2197.7,1514.1 2199.7,1514.4 2201.7,1514.6 2203.7,1514.6 2205.7,1514.7 2207.6,1514.7 2209.6,1514.8 2211.6,1514.9 2213.6,1514.8 2215.5,1514.8 2217.5,1514.7 2219.5,1514.6 2221.5,1514.5 2223.5,1514.4 2225.4,1514.3 2227.4,1514.3 2229.4,1514.4 2231.4,1514.4 2233.3,1514.4 2235.3,1514.3 2237.3,1514.3 2239.3,1514.4 2241.3,1514.5 2243.2,1514.7 2245.2,1514.8 2247.2,1514.9 2249.2,1514.9 2251.2,1514.8 2253.1,1514.5 2255.1,1514.4 2257.1,1514.3 2259.1,1514.4 2261,1514.6 2263,1514.8 2265,1515 2267,1514.9 2269,1514.8 2270.9,1514.6 2272.9,1514.4 2274.9,1514.3 2276.9,1514.4 2278.8,1514.4 2280.8,1514.3 2282.8,1514.2 2284.8,1514.2 2286.8,1514.1 2288.7,1514.1 2290.7,1513.9 2292.7,1513.9 2294.7,1513.9 2296.6,1514 2298.6,1514.3 2300.6,1514.7 2302.6,1515.1 2304.6,1515.5 2306.5,1515.7 2308.5,1515.7 2310.5,1515.5 2312.5,1515.1 2314.4,1514.8 2316.4,1514.6 2318.4,1514.4 2320.4,1514.4 2322.4,1514.3 2324.3,1514.2 2326.3,1514.2 2328.3,1514.3 2330.3,1514.5 2332.2,1514.5 2334.2,1514.3 2336.2,1514 2338.2,1513.6 2340.2,1513.3 2342.1,1513.1 2344.1,1513.2 2346.1,1513.4 2348.1,1513.8 2350.1,1514.1 2352,1514.4 2354,1514.6 2356,1514.8 2358,1515 2359.9,1515.3 2361.9,1515.4 2363.9,1515.5 2365.9,1515.5 2367.9,1515.4 2369.8,1515.3 2371.8,1514.9 2373.8,1514.5 2375.8,1514.1 2377.7,1513.9 2379.7,1513.8 2381.7,1514.1 2383.7,1514.4 2385.7,1514.7 2387.6,1515 2389.6,1515.2 2391.6,1515.2 2393.6,1515.2 2395.5,1515.3 2397.5,1515.3 2399.5,1515.4 2401.5,1515.4 2403.5,1515.2 2405.4,1515 2407.4,1514.5 2409.4,1514.1 2411.4,1513.9 2413.3,1513.7 2415.3,1513.7 2417.3,1513.7 2419.3,1513.8 2421.3,1513.9 2423.2,1513.9 2425.2,1514 2427.2,1514 2429.2,1513.9 2431.2,1513.9 2433.1,1513.9 2435.1,1514 2437.1,1514 2439.1,1514.3 2441,1514.7 2443,1515 2445,1515.4 2447,1515.6 2449,1515.7 2450.9,1515.7 2452.9,1515.6 2454.9,1515.6 2456.9,1515.3 2458.8,1515.1 2460.8,1514.7 2462.8,1514.4 2464.8,1514.1 2466.8,1513.9 2468.7,1513.9 2470.7,1514 2472.7,1514 2474.7,1514.2 2476.6,1514.4 2478.6,1514.4 2480.6,1514.4 2482.6,1514.3 2484.6,1514.1 2486.5,1514 2488.5,1513.8 2490.5,1513.7 2492.5,1513.7 2494.4,1513.9 2496.4,1514.2 2498.4,1514.6 2500.4,1514.8 2502.4,1514.9 2504.3,1514.8 2506.3,1514.5 2508.3,1514.3 2510.3,1514.3 2512.2,1514.3 2514.2,1514.4 2516.2,1514.5 2518.2,1514.5 2520.2,1514.7 2522.1,1515.1 2524.1,1515.5 2526.1,1515.7 2528.1,1515.8 2530.1,1515.7 2532,1515.4 2534,1515 2536,1514.8 2538,1514.5 2539.9,1514.4 2541.9,1514.4 2543.9,1514.6 2545.9,1514.8 2547.9,1514.9 2549.8,1515 2551.8,1515.1 2553.8,1515.2 2555.8,1515.5 2557.7,1515.5 2559.7,1515.3 2561.7,1515 2563.7,1514.7 2565.7,1514.5 2567.6,1514.4 2569.6,1514.5 2571.6,1514.6 2573.6,1514.7 2575.5,1514.8 2577.5,1514.7 2579.5,1514.3 2581.5,1513.9 2583.5,1513.5 2585.4,1513.4 2587.4,1513.3 2589.4,1513.4 2591.4,1513.6 2593.3,1513.9 2595.3,1514.3 2597.3,1514.8 2599.3,1515.1 2601.3,1515.2 2603.2,1515.2 2605.2,1515.1 2607.2,1514.8 2609.2,1514.5 2611.1,1514.3 2613.1,1514.3 2615.1,1514.3 2617.1,1514.5 2619.1,1514.9 2621,1515.1 2623,1515.4 2625,1515.5 2627,1515.7 2629,1515.8 2630.9,1515.9 2632.9,1515.7 2634.9,1515.2 2636.9,1514.6 2638.8,1513.9 2640.8,1513.4 2642.8,1513.2 2644.8,1513.2 2646.8,1513.5 2648.7,1514 2650.7,1514.4 2652.7,1514.4 2654.7,1514 2656.6,1513.1 2658.6,1511.9 2660.6,1510.4 2662.6,1508.9 2664.6,1507.5 2666.5,1505.9 2668.5,1504.4 2670.5,1503 2672.5,1502.1 2674.4,1502.1 2676.4,1503.2 2678.4,1505.5 2680.4,1509.1 2682.4,1513.5 2684.3,1518.4 2686.3,1523 2688.3,1526.3 2690.3,1527.2 2692.2,1525.4 2694.2,1520.8 2696.2,1514.1 2698.2,1506.3 2700.2,1498.9 2702.1,1493.5 2704.1,1491.4 2706.1,1493.2 2708.1,1498.6 2710,1506.5 2712,1515.3 2714,1523.3 2716,1529.2 2718,1532.2 2719.9,1532.1 2721.9,1529.5 2723.9,1525.2 2725.9,1520.6 2727.9,1516.2 2729.8,1512.7 2731.8,1509.9 2733.8,1507.7 2735.8,1505.8 2737.7,1504.3 2739.7,1503.3 2741.7,1502.8 2743.7,1503.3 2745.7,1504.8 2747.6,1507.4 2749.6,1510.9 2751.6,1515 2753.6,1519.2 2755.5,1522.9 2757.5,1525.7 2759.5,1527.3 2761.5,1527.7 2763.5,1526.8 2765.4,1525 2767.4,1522.7 2769.4,1520.6 2771.4,1518.8 2773.3,1517.4 2775.3,1516.5 2777.3,1515.8 2779.3,1515.3 2781.3,1514.9 2783.2,1514.5 2785.2,1514.2 2787.2,1514 2789.2,1513.9 2791.1,1513.7 2793.1,1513.6 2795.1,1513.4 2797.1,1513.4 2799.1,1513.3 2801,1513.5 2803,1513.7 2805,1514 2807,1514.3 2808.9,1514.6 2810.9,1514.7 2812.9,1514.7 2814.9,1514.5 2816.9,1514.3 2818.8,1514 2820.8,1513.8 2822.8,1513.7 2824.8,1513.7 2826.8,1513.9 2828.7,1513.9 2830.7,1514 2832.7,1514 2834.7,1514.1 2836.6,1514.2 2838.6,1514.5 2840.6,1514.8 2842.6,1514.9 2844.6,1514.9 2846.5,1515 2848.5,1515.2 2850.5,1515.4 2852.5,1515.7 2854.4,1515.8 2856.4,1515.8 2858.4,1515.6 2860.4,1515.3 2862.4,1515 2864.3,1514.7 2866.3,1514.5 2868.3,1514.5 2870.3,1514.7 2872.2,1514.9 2874.2,1514.9 2876.2,1514.8 2878.2,1514.5 2880.2,1514.2 2882.1,1514.1 2884.1,1514.3 2886.1,1514.3 2888.1,1514.3 2890,1514.3 2892,1514.3 2894,1514.4 2896,1514.6 2898,1514.8 2899.9,1514.9 2901.9,1514.8 2903.9,1514.6 2905.9,1514.4 2907.8,1514.1 2909.8,1514 2911.8,1513.9 2913.8,1513.9 2915.8,1513.9 2917.7,1513.9 2919.7,1513.9 2921.7,1513.9 2923.7,1513.9 2925.7,1514.1 2927.6,1514.3 2929.6,1514.6 2931.6,1515 2933.6,1515.2 2935.5,1515.3 2937.5,1515.2 2939.5,1514.9 2941.5,1514.6 2943.5,1514.2 2945.4,1514.1 2947.4,1514.2 2949.4,1514.5 2951.4,1514.9 2953.3,1515.2 2955.3,1515.4 2957.3,1515.5 2959.3,1515.4 2961.3,1515.2 2963.2,1515 2965.2,1514.8 2967.2,1514.7 2969.2,1514.6 2971.1,1514.6 2973.1,1514.7 2975.1,1514.8 2977.1,1514.8 2979.1,1514.8 2981,1514.6 2983,1514.5 2985,1514.5 2987,1514.5 2988.9,1514.5 2990.9,1514.3 2992.9,1513.9 2994.9,1513.2 2996.9,1512.4 2998.8,1511.6 3000.8,1510.7 3002.8,1509.9 3004.8,1509.4 3006.7,1509.2 3008.7,1509.3 3010.7,1509.8 3012.7,1510.6 3014.7,1512 3016.6,1513.9 3018.6,1516.1 3020.6,1518.3 3022.6,1519.9 3024.6,1520.4 3026.5,1519.7 3028.5,1517.8 3030.5,1515.1 3032.5,1512.2 3034.4,1509.7 3036.4,1508.3 3038.4,1508 3040.4,1508.7 3042.4,1510 3044.3,1511.4 3046.3,1512.4 3048.3,1513.1 3050.3,1513.4 3052.2,1513.5 3054.2,1513.6 3056.2,1513.8 3058.2,1514 3060.2,1514.2 3062.1,1514.3 3064.1,1514.6 3066.1,1514.9 3068.1,1515.1 3070,1515.1 3072,1514.9 3074,1514.6 3076,1514.4 3078,1514.5 3079.9,1514.6 3081.9,1514.7 3083.9,1514.6 3085.9,1514.4 3087.8,1514.3 3089.8,1514.4 3091.8,1514.5 3093.8,1514.6" fill="none" stroke="#000" stroke-width="2.3" stroke-linejoin="round" stroke-dasharray="2.4 2.8"/>
<polyline points="2104.8,1485.8 2106.8,1485.7 2108.7,1485.7 2110.7,1485.8 2112.7,1485.9 2114.7,1485.7 2116.6,1485.3 2118.6,1484.9 2120.6,1484.8 2122.6,1484.8 2124.6,1484.9 2126.5,1485 2128.5,1484.9 2130.5,1484.6 2132.5,1484.4 2134.5,1484.5 2136.4,1484.7 2138.4,1485 2140.4,1485.2 2142.4,1485.4 2144.3,1485.3 2146.3,1485.2 2148.3,1485 2150.3,1484.7 2152.3,1484.3 2154.2,1483.8 2156.2,1483 2158.2,1481.8 2160.2,1480.1 2162.1,1478 2164.1,1475.4 2166.1,1472.3 2168.1,1468.6 2170.1,1464.3 2172,1459.6 2174,1454.7 2176,1450.1 2178,1446.3 2179.9,1443.5 2181.9,1441.9 2183.9,1441.5 2185.9,1442.3 2187.9,1444.2 2189.8,1447.4 2191.8,1451.4 2193.8,1456 2195.8,1460.6 2197.7,1465.1 2199.7,1469.1 2201.7,1472.6 2203.7,1475.7 2205.7,1478.3 2207.6,1480.4 2209.6,1482 2211.6,1483 2213.6,1483.6 2215.5,1483.8 2217.5,1483.9 2219.5,1484 2221.5,1484.1 2223.5,1484.1 2225.4,1483.9 2227.4,1483.6 2229.4,1483.4 2231.4,1483.4 2233.3,1483.7 2235.3,1484.1 2237.3,1484.5 2239.3,1484.6 2241.3,1484.5 2243.2,1484.1 2245.2,1483.7 2247.2,1483.5 2249.2,1483.6 2251.2,1483.9 2253.1,1484.2 2255.1,1484.5 2257.1,1484.6 2259.1,1484.5 2261,1484.5 2263,1484.5 2265,1484.6 2267,1484.7 2269,1484.9 2270.9,1485.1 2272.9,1485.3 2274.9,1485.2 2276.9,1485 2278.8,1484.8 2280.8,1484.5 2282.8,1484.4 2284.8,1484.2 2286.8,1483.9 2288.7,1483.2 2290.7,1482.2 2292.7,1480.9 2294.7,1479.4 2296.6,1477.8 2298.6,1476.1 2300.6,1474.6 2302.6,1473.4 2304.6,1472.5 2306.5,1472 2308.5,1472 2310.5,1472.4 2312.5,1472.9 2314.4,1473.7 2316.4,1474.7 2318.4,1475.7 2320.4,1476.8 2322.4,1477.9 2324.3,1479.1 2326.3,1480.2 2328.3,1481.4 2330.3,1482.4 2332.2,1483.2 2334.2,1483.7 2336.2,1483.8 2338.2,1483.8 2340.2,1483.7 2342.1,1483.6 2344.1,1483.6 2346.1,1483.6 2348.1,1483.6 2350.1,1483.5 2352,1483.4 2354,1483.4 2356,1483.5 2358,1483.7 2359.9,1483.8 2361.9,1483.8 2363.9,1483.6 2365.9,1483.6 2367.9,1483.8 2369.8,1484.1 2371.8,1484.4 2373.8,1484.6 2375.8,1484.5 2377.7,1484.2 2379.7,1483.9 2381.7,1483.7 2383.7,1483.7 2385.7,1483.8 2387.6,1484 2389.6,1484.2 2391.6,1484.4 2393.6,1484.6 2395.5,1484.7 2397.5,1484.6 2399.5,1484.4 2401.5,1484.1 2403.5,1483.9 2405.4,1483.7 2407.4,1484 2409.4,1484.5 2411.4,1485.1 2413.3,1485.5 2415.3,1485.6 2417.3,1485.3 2419.3,1484.9 2421.3,1484.4 2423.2,1484 2425.2,1483.8 2427.2,1483.7 2429.2,1483.5 2431.2,1483.6 2433.1,1483.8 2435.1,1484.3 2437.1,1484.8 2439.1,1485.4 2441,1485.6 2443,1485.5 2445,1485.1 2447,1484.4 2449,1483.6 2450.9,1482.9 2452.9,1482.6 2454.9,1482.6 2456.9,1482.7 2458.8,1483 2460.8,1483.1 2462.8,1483 2464.8,1482.7 2466.8,1482.4 2468.7,1482.1 2470.7,1481.8 2472.7,1481.8 2474.7,1481.9 2476.6,1482.1 2478.6,1482.3 2480.6,1482.2 2482.6,1481.9 2484.6,1481.5 2486.5,1481 2488.5,1480.6 2490.5,1480.2 2492.5,1479.8 2494.4,1479.5 2496.4,1479.5 2498.4,1479.7 2500.4,1480.2 2502.4,1480.7 2504.3,1481 2506.3,1481.3 2508.3,1481.3 2510.3,1481.2 2512.2,1481 2514.2,1480.6 2516.2,1480.2 2518.2,1479.8 2520.2,1479.4 2522.1,1479.2 2524.1,1479 2526.1,1479.2 2528.1,1479.4 2530.1,1479.7 2532,1479.8 2534,1479.7 2536,1479.5 2538,1479.4 2539.9,1479.2 2541.9,1479.1 2543.9,1478.8 2545.9,1478.5 2547.9,1478.2 2549.8,1477.9 2551.8,1477.8 2553.8,1477.6 2555.8,1477.7 2557.7,1477.9 2559.7,1478.1 2561.7,1478.1 2563.7,1477.9 2565.7,1477.4 2567.6,1476.8 2569.6,1476.4 2571.6,1475.6 2573.6,1474.9 2575.5,1474.2 2577.5,1473.4 2579.5,1472.5 2581.5,1471.4 2583.5,1470.4 2585.4,1469.4 2587.4,1468.5 2589.4,1467.4 2591.4,1466.3 2593.3,1465.2 2595.3,1464.4 2597.3,1463.7 2599.3,1463.2 2601.3,1462.6 2603.2,1461.9 2605.2,1461 2607.2,1460.1 2609.2,1459.4 2611.1,1459.1 2613.1,1458.9 2615.1,1458.8 2617.1,1458.5 2619.1,1458 2621,1457.4 2623,1456.7 2625,1455.9 2627,1454.9 2629,1453.2 2630.9,1451.2 2632.9,1449.3 2634.9,1447.3 2636.9,1445.3 2638.8,1443.3 2640.8,1441.4 2642.8,1439.5 2644.8,1437.7 2646.8,1434.9 2648.7,1431.8 2650.7,1428.8 2652.7,1425.6 2654.7,1422.3 2656.6,1418.8 2658.6,1415.1 2660.6,1410.9 2662.6,1404.8 2664.6,1398.7 2666.5,1392.5 2668.5,1386.3 2670.5,1380.5 2672.5,1376.4 2674.4,1374 2676.4,1371.5 2678.4,1368.8 2680.4,1366 2682.4,1358.6 2684.3,1351.1 2686.3,1341.1 2688.3,1320.4 2690.3,1300 2692.2,1273.6 2694.2,1247.4 2696.2,1228 2698.2,1208.5 2700.2,1192.1 2702.1,1183.1 2704.1,1184.9 2706.1,1193.8 2708.1,1208.6 2710,1237.5 2712,1266.6 2714,1290.3 2716,1317 2718,1350.2 2719.9,1365.4 2721.9,1368.6 2723.9,1371.6 2725.9,1374.4 2727.9,1370.2 2729.8,1361.3 2731.8,1352.3 2733.8,1343.5 2735.8,1334.9 2737.7,1329.6 2739.7,1327.4 2741.7,1325.1 2743.7,1323.9 2745.7,1331.5 2747.6,1338.9 2749.6,1346.4 2751.6,1357.9 2753.6,1371.3 2755.5,1384.7 2757.5,1398.2 2759.5,1410.3 2761.5,1416.4 2763.5,1422.5 2765.4,1428.5 2767.4,1434.3 2769.4,1439.7 2771.4,1445.1 2773.3,1449.3 2775.3,1450.4 2777.3,1451.9 2779.3,1453.4 2781.3,1454.9 2783.2,1456.4 2785.2,1457.5 2787.2,1458.6 2789.2,1459.6 2791.1,1460.8 2793.1,1462.2 2795.1,1463.7 2797.1,1465.4 2799.1,1467 2801,1467.9 2803,1468.4 2805,1468.8 2807,1469.1 2808.9,1469.6 2810.9,1470.1 2812.9,1470.7 2814.9,1471.4 2816.9,1472.1 2818.8,1472.7 2820.8,1473.2 2822.8,1473.6 2824.8,1474 2826.8,1474.4 2828.7,1474.9 2830.7,1475.6 2832.7,1476.2 2834.7,1476.9 2836.6,1477.4 2838.6,1477.6 2840.6,1477.9 2842.6,1478.5 2844.6,1479.1 2846.5,1479.6 2848.5,1479.9 2850.5,1479.8 2852.5,1479.5 2854.4,1479.1 2856.4,1478.8 2858.4,1478.7 2860.4,1478.9 2862.4,1479.1 2864.3,1479.4 2866.3,1479.5 2868.3,1479.7 2870.3,1479.9 2872.2,1480.1 2874.2,1480.4 2876.2,1480.9 2878.2,1481 2880.2,1481.3 2882.1,1481.4 2884.1,1481.6 2886.1,1481.8 2888.1,1482.3 2890,1482.8 2892,1483.3 2894,1483.6 2896,1483.8 2898,1483.7 2899.9,1483.5 2901.9,1483.3 2903.9,1483.1 2905.9,1482.9 2907.8,1482.8 2909.8,1482.9 2911.8,1482.9 2913.8,1482.9 2915.8,1482.8 2917.7,1483 2919.7,1483.2 2921.7,1483.8 2923.7,1484.4 2925.7,1484.9 2927.6,1485.1 2929.6,1484.9 2931.6,1484.7 2933.6,1484.6 2935.5,1484.6 2937.5,1484.6 2939.5,1484.6 2941.5,1484.5 2943.5,1484.4 2945.4,1484.3 2947.4,1484.1 2949.4,1483.9 2951.4,1483.8 2953.3,1483.7 2955.3,1483.9 2957.3,1484.1 2959.3,1484.5 2961.3,1485.1 2963.2,1485.5 2965.2,1485.7 2967.2,1485.6 2969.2,1485.3 2971.1,1484.9 2973.1,1484.6 2975.1,1484.7 2977.1,1484.6 2979.1,1484.2 2981,1482.8 2983,1480.4 2985,1477.3 2987,1473.4 2988.9,1468.9 2990.9,1463.6 2992.9,1457.5 2994.9,1451.1 2996.9,1444.4 2998.8,1438.2 3000.8,1432.7 3002.8,1428.5 3004.8,1425.7 3006.7,1424.6 3008.7,1425.1 3010.7,1426.9 3012.7,1429.7 3014.7,1433.1 3016.6,1436.4 3018.6,1439.3 3020.6,1441.2 3022.6,1441.8 3024.6,1441.3 3026.5,1440 3028.5,1438.2 3030.5,1436.2 3032.5,1434.2 3034.4,1432.6 3036.4,1431.9 3038.4,1432.7 3040.4,1435.3 3042.4,1439.5 3044.3,1444.8 3046.3,1450.7 3048.3,1456.5 3050.3,1461.9 3052.2,1466.7 3054.2,1470.8 3056.2,1474.4 3058.2,1477.5 3060.2,1479.9 3062.1,1481.8 3064.1,1483.1 3066.1,1484.1 3068.1,1484.6 3070,1484.8 3072,1484.9 3074,1484.8 3076,1484.5 3078,1484.2 3079.9,1483.8 3081.9,1483.6 3083.9,1483.4 3085.9,1483.4 3087.8,1483.4 3089.8,1483.4 3091.8,1483.6 3093.8,1484" fill="none" stroke="#000" stroke-width="5.2" stroke-linejoin="round"/>
<polyline points="2104.8,1484.6 2106.8,1484.6 2108.7,1484.6 2110.7,1484.6 2112.7,1484.6 2114.7,1484.6 2116.6,1484.6 2118.6,1484.6 2120.6,1484.6 2122.6,1484.6 2124.6,1484.6 2126.5,1484.6 2128.5,1484.6 2130.5,1484.6 2132.5,1484.6 2134.5,1484.6 2136.4,1484.6 2138.4,1484.6 2140.4,1484.6 2142.4,1484.6 2144.3,1484.5 2146.3,1484.5 2148.3,1484.4 2150.3,1484.2 2152.3,1484 2154.2,1483.6 2156.2,1482.9 2158.2,1482 2160.2,1480.7 2162.1,1478.9 2164.1,1476.6 2166.1,1473.7 2168.1,1470.1 2170.1,1466.1 2172,1461.7 2174,1457.1 2176,1452.7 2178,1448.8 2179.9,1445.7 2181.9,1443.7 2183.9,1443 2185.9,1443.7 2187.9,1445.7 2189.8,1448.8 2191.8,1452.7 2193.8,1457.1 2195.8,1461.6 2197.7,1466.1 2199.7,1470.1 2201.7,1473.6 2203.7,1476.6 2205.7,1478.9 2207.6,1480.7 2209.6,1482 2211.6,1482.9 2213.6,1483.5 2215.5,1483.9 2217.5,1484.2 2219.5,1484.3 2221.5,1484.4 2223.5,1484.5 2225.4,1484.5 2227.4,1484.5 2229.4,1484.5 2231.4,1484.5 2233.3,1484.5 2235.3,1484.5 2237.3,1484.5 2239.3,1484.5 2241.3,1484.5 2243.2,1484.5 2245.2,1484.5 2247.2,1484.5 2249.2,1484.5 2251.2,1484.5 2253.1,1484.5 2255.1,1484.5 2257.1,1484.5 2259.1,1484.5 2261,1484.5 2263,1484.5 2265,1484.5 2267,1484.5 2269,1484.5 2270.9,1484.4 2272.9,1484.4 2274.9,1484.4 2276.9,1484.3 2278.8,1484.2 2280.8,1484 2282.8,1483.7 2284.8,1483.4 2286.8,1482.9 2288.7,1482.2 2290.7,1481.3 2292.7,1480.3 2294.7,1479.2 2296.6,1477.9 2298.6,1476.6 2300.6,1475.3 2302.6,1474.2 2304.6,1473.3 2306.5,1472.8 2308.5,1472.6 2310.5,1472.8 2312.5,1473.3 2314.4,1474.2 2316.4,1475.3 2318.4,1476.6 2320.4,1477.9 2322.4,1479.1 2324.3,1480.3 2326.3,1481.3 2328.3,1482.2 2330.3,1482.8 2332.2,1483.3 2334.2,1483.7 2336.2,1483.9 2338.2,1484.1 2340.2,1484.2 2342.1,1484.3 2344.1,1484.4 2346.1,1484.4 2348.1,1484.4 2350.1,1484.4 2352,1484.4 2354,1484.4 2356,1484.4 2358,1484.4 2359.9,1484.4 2361.9,1484.4 2363.9,1484.4 2365.9,1484.4 2367.9,1484.4 2369.8,1484.4 2371.8,1484.4 2373.8,1484.4 2375.8,1484.4 2377.7,1484.4 2379.7,1484.4 2381.7,1484.4 2383.7,1484.4 2385.7,1484.4 2387.6,1484.4 2389.6,1484.4 2391.6,1484.4 2393.6,1484.4 2395.5,1484.4 2397.5,1484.4 2399.5,1484.4 2401.5,1484.4 2403.5,1484.4 2405.4,1484.4 2407.4,1484.4 2409.4,1484.4 2411.4,1484.4 2413.3,1484.4 2415.3,1484.4 2417.3,1484.4 2419.3,1484.4 2421.3,1484.4 2423.2,1484.3 2425.2,1484.2 2427.2,1484.2 2429.2,1484.1 2431.2,1484 2433.1,1484 2435.1,1483.9 2437.1,1483.8 2439.1,1483.8 2441,1483.7 2443,1483.6 2445,1483.6 2447,1483.5 2449,1483.4 2450.9,1483.4 2452.9,1483.3 2454.9,1483.3 2456.9,1483.2 2458.8,1483.1 2460.8,1483.1 2462.8,1483 2464.8,1482.9 2466.8,1482.9 2468.7,1482.8 2470.7,1482.7 2472.7,1482.7 2474.7,1482.6 2476.6,1482.5 2478.6,1482.5 2480.6,1482.4 2482.6,1482.3 2484.6,1482.2 2486.5,1482.1 2488.5,1482 2490.5,1481.9 2492.5,1481.8 2494.4,1481.7 2496.4,1481.6 2498.4,1481.5 2500.4,1481.4 2502.4,1481.3 2504.3,1481.3 2506.3,1481.2 2508.3,1481.1 2510.3,1481 2512.2,1480.9 2514.2,1480.8 2516.2,1480.7 2518.2,1480.6 2520.2,1480.5 2522.1,1480.4 2524.1,1480.3 2526.1,1480.2 2528.1,1480.1 2530.1,1480 2532,1479.8 2534,1479.7 2536,1479.5 2538,1479.3 2539.9,1479.2 2541.9,1479 2543.9,1478.8 2545.9,1478.7 2547.9,1478.5 2549.8,1478.4 2551.8,1478.2 2553.8,1478 2555.8,1477.9 2557.7,1477.7 2559.7,1477.5 2561.7,1477.4 2563.7,1477.2 2565.7,1477.1 2567.6,1476.9 2569.6,1476.7 2571.6,1476 2573.6,1475.1 2575.5,1474.2 2577.5,1473.3 2579.5,1472.4 2581.5,1471.5 2583.5,1470.6 2585.4,1469.7 2587.4,1468.8 2589.4,1467.9 2591.4,1467 2593.3,1466.2 2595.3,1465.5 2597.3,1464.8 2599.3,1464 2601.3,1463.3 2603.2,1462.6 2605.2,1461.9 2607.2,1461.1 2609.2,1460.4 2611.1,1459.7 2613.1,1459 2615.1,1458.3 2617.1,1457.5 2619.1,1456.8 2621,1456.1 2623,1455.4 2625,1454.6 2627,1453.6 2629,1452 2630.9,1450.4 2632.9,1448.8 2634.9,1447.2 2636.9,1445.6 2638.8,1444 2640.8,1442.3 2642.8,1440.7 2644.8,1439.1 2646.8,1436.3 2648.7,1432.6 2650.7,1428.9 2652.7,1425.2 2654.7,1421.5 2656.6,1417.8 2658.6,1414.1 2660.6,1410 2662.6,1404.1 2664.6,1398.2 2666.5,1392.3 2668.5,1386.4 2670.5,1380.5 2672.5,1376.3 2674.4,1373.8 2676.4,1371.3 2678.4,1368.8 2680.4,1366.3 2682.4,1359.1 2684.3,1351.9 2686.3,1342 2688.3,1321.3 2690.3,1300.5 2692.2,1273.8 2694.2,1248.8 2696.2,1236.6 2698.2,1224.3 2700.2,1214.2 2702.1,1209.4 2704.1,1210.8 2706.1,1216.5 2708.1,1226.5 2710,1246.9 2712,1267.2 2714,1291 2716,1317.7 2718,1350.7 2719.9,1365.7 2721.9,1368.5 2723.9,1371.4 2725.9,1374.2 2727.9,1371.1 2729.8,1363.9 2731.8,1356.8 2733.8,1349.7 2735.8,1342.6 2737.7,1337.6 2739.7,1334.9 2741.7,1332.1 2743.7,1330.1 2745.7,1335.6 2747.6,1341.1 2749.6,1346.6 2751.6,1357.7 2753.6,1371.2 2755.5,1384.7 2757.5,1398.2 2759.5,1410.2 2761.5,1416.1 2763.5,1421.9 2765.4,1427.8 2767.4,1433.7 2769.4,1439.6 2771.4,1445.4 2773.3,1449.9 2775.3,1451.3 2777.3,1452.6 2779.3,1453.9 2781.3,1455.2 2783.2,1456.5 2785.2,1457.8 2787.2,1459.1 2789.2,1460.4 2791.1,1461.7 2793.1,1463 2795.1,1464.3 2797.1,1465.6 2799.1,1466.9 2801,1467.8 2803,1468.3 2805,1468.8 2807,1469.3 2808.9,1469.8 2810.9,1470.2 2812.9,1470.7 2814.9,1471.2 2816.9,1471.7 2818.8,1472.2 2820.8,1472.7 2822.8,1473.2 2824.8,1473.6 2826.8,1474.1 2828.7,1474.6 2830.7,1475.1 2832.7,1475.6 2834.7,1476.1 2836.6,1476.6 2838.6,1476.8 2840.6,1477 2842.6,1477.3 2844.6,1477.5 2846.5,1477.7 2848.5,1478 2850.5,1478.2 2852.5,1478.5 2854.4,1478.7 2856.4,1478.9 2858.4,1479.2 2860.4,1479.4 2862.4,1479.6 2864.3,1479.9 2866.3,1480.1 2868.3,1480.3 2870.3,1480.6 2872.2,1480.8 2874.2,1481.1 2876.2,1481.3 2878.2,1481.4 2880.2,1481.5 2882.1,1481.6 2884.1,1481.7 2886.1,1481.8 2888.1,1481.9 2890,1482 2892,1482.1 2894,1482.2 2896,1482.3 2898,1482.4 2899.9,1482.5 2901.9,1482.6 2903.9,1482.7 2905.9,1482.8 2907.8,1482.9 2909.8,1483 2911.8,1483.1 2913.8,1483.2 2915.8,1483.3 2917.7,1483.4 2919.7,1483.5 2921.7,1483.6 2923.7,1483.7 2925.7,1483.8 2927.6,1483.9 2929.6,1484 2931.6,1484.1 2933.6,1484.2 2935.5,1484.3 2937.5,1484.3 2939.5,1484.3 2941.5,1484.3 2943.5,1484.3 2945.4,1484.3 2947.4,1484.3 2949.4,1484.3 2951.4,1484.3 2953.3,1484.3 2955.3,1484.3 2957.3,1484.3 2959.3,1484.3 2961.3,1484.3 2963.2,1484.3 2965.2,1484.3 2967.2,1484.3 2969.2,1484.2 2971.1,1484.1 2973.1,1483.9 2975.1,1483.5 2977.1,1483 2979.1,1482.1 2981,1480.9 2983,1479.1 2985,1476.7 2987,1473.5 2988.9,1469.5 2990.9,1464.6 2992.9,1459 2994.9,1453 2996.9,1446.7 2998.8,1440.6 3000.8,1435.1 3002.8,1430.7 3004.8,1427.7 3006.7,1426.3 3008.7,1426.5 3010.7,1428.2 3012.7,1430.9 3014.7,1434.2 3016.6,1437.5 3018.6,1440.3 3020.6,1442.2 3022.6,1443.1 3024.6,1442.7 3026.5,1441.4 3028.5,1439.4 3030.5,1437.3 3032.5,1435.5 3034.4,1434.4 3036.4,1434.5 3038.4,1435.8 3040.4,1438.5 3042.4,1442.3 3044.3,1447 3046.3,1452.3 3048.3,1457.7 3050.3,1462.9 3052.2,1467.6 3054.2,1471.8 3056.2,1475.2 3058.2,1478 3060.2,1480 3062.1,1481.6 3064.1,1482.6 3066.1,1483.4 3068.1,1483.9 3070,1484.2 3072,1484.3 3074,1484.4 3076,1484.5 3078,1484.5 3079.9,1484.6 3081.9,1484.6 3083.9,1484.6 3085.9,1484.6 3087.8,1484.6 3089.8,1484.6 3091.8,1484.6 3093.8,1484.6" fill="none" stroke="#ff1a22" stroke-width="4.4" stroke-linejoin="round" stroke-dasharray="24 11.5 6.4 11.5"/>
</svg>
<path d="M2183.9 1081V1399M2310.5 1081V1424.3M2674.4 1081V1325.4M2704.1 1081V1671M2743.7 1081V1295.5M3006.7 1081V1382.9M3036.4 1081V1389.8" stroke="#000" stroke-width="2" stroke-dasharray="6 10.5" fill="none"/>
<rect x="2104.5" y="1079" width="988.8" height="603.5" fill="none" stroke="#000" stroke-width="3.6"/>
<path d="M2183.9 1682.5v-9M2183.9 1079v9M2381.7 1682.5v-9M2381.7 1079v9M2579.5 1682.5v-9M2579.5 1079v9M2777.3 1682.5v-9M2777.3 1079v9M2975.1 1682.5v-9M2975.1 1079v9M2104.8 1682.5v-4M2104.8 1079v4M2124.6 1682.5v-4M2124.6 1079v4M2144.3 1682.5v-4M2144.3 1079v4M2164.1 1682.5v-4M2164.1 1079v4M2183.9 1682.5v-4M2183.9 1079v4M2203.7 1682.5v-4M2203.7 1079v4M2223.5 1682.5v-4M2223.5 1079v4M2243.2 1682.5v-4M2243.2 1079v4M2263 1682.5v-4M2263 1079v4M2282.8 1682.5v-4M2282.8 1079v4M2302.6 1682.5v-4M2302.6 1079v4M2322.4 1682.5v-4M2322.4 1079v4M2342.1 1682.5v-4M2342.1 1079v4M2361.9 1682.5v-4M2361.9 1079v4M2381.7 1682.5v-4M2381.7 1079v4M2401.5 1682.5v-4M2401.5 1079v4M2421.3 1682.5v-4M2421.3 1079v4M2441 1682.5v-4M2441 1079v4M2460.8 1682.5v-4M2460.8 1079v4M2480.6 1682.5v-4M2480.6 1079v4M2500.4 1682.5v-4M2500.4 1079v4M2520.2 1682.5v-4M2520.2 1079v4M2539.9 1682.5v-4M2539.9 1079v4M2559.7 1682.5v-4M2559.7 1079v4M2579.5 1682.5v-4M2579.5 1079v4M2599.3 1682.5v-4M2599.3 1079v4M2619.1 1682.5v-4M2619.1 1079v4M2638.8 1682.5v-4M2638.8 1079v4M2658.6 1682.5v-4M2658.6 1079v4M2678.4 1682.5v-4M2678.4 1079v4M2698.2 1682.5v-4M2698.2 1079v4M2718 1682.5v-4M2718 1079v4M2737.7 1682.5v-4M2737.7 1079v4M2757.5 1682.5v-4M2757.5 1079v4M2777.3 1682.5v-4M2777.3 1079v4M2797.1 1682.5v-4M2797.1 1079v4M2816.9 1682.5v-4M2816.9 1079v4M2836.6 1682.5v-4M2836.6 1079v4M2856.4 1682.5v-4M2856.4 1079v4M2876.2 1682.5v-4M2876.2 1079v4M2896 1682.5v-4M2896 1079v4M2915.8 1682.5v-4M2915.8 1079v4M2935.5 1682.5v-4M2935.5 1079v4M2955.3 1682.5v-4M2955.3 1079v4M2975.1 1682.5v-4M2975.1 1079v4M2994.9 1682.5v-4M2994.9 1079v4M3014.7 1682.5v-4M3014.7 1079v4M3034.4 1682.5v-4M3034.4 1079v4M3054.2 1682.5v-4M3054.2 1079v4M3074 1682.5v-4M3074 1079v4M3093.8 1682.5v-4M3093.8 1079v4M2104.5 1633.1h12M3093.3 1633.1h-12M2104.5 1514.5h12M3093.3 1514.5h-12M2104.5 1395.9h12M3093.3 1395.9h-12M2104.5 1277.3h12M3093.3 1277.3h-12M2104.5 1158.7h12M3093.3 1158.7h-12M2104.5 1680.5h5.5M3093.3 1680.5h-5.5M2104.5 1656.8h5.5M3093.3 1656.8h-5.5M2104.5 1633.1h5.5M3093.3 1633.1h-5.5M2104.5 1609.4h5.5M3093.3 1609.4h-5.5M2104.5 1585.7h5.5M3093.3 1585.7h-5.5M2104.5 1561.9h5.5M3093.3 1561.9h-5.5M2104.5 1538.2h5.5M3093.3 1538.2h-5.5M2104.5 1514.5h5.5M3093.3 1514.5h-5.5M2104.5 1490.8h5.5M3093.3 1490.8h-5.5M2104.5 1467.1h5.5M3093.3 1467.1h-5.5M2104.5 1443.3h5.5M3093.3 1443.3h-5.5M2104.5 1419.6h5.5M3093.3 1419.6h-5.5M2104.5 1395.9h5.5M3093.3 1395.9h-5.5M2104.5 1372.2h5.5M3093.3 1372.2h-5.5M2104.5 1348.5h5.5M3093.3 1348.5h-5.5M2104.5 1324.7h5.5M3093.3 1324.7h-5.5M2104.5 1301h5.5M3093.3 1301h-5.5M2104.5 1277.3h5.5M3093.3 1277.3h-5.5M2104.5 1253.6h5.5M3093.3 1253.6h-5.5M2104.5 1229.9h5.5M3093.3 1229.9h-5.5M2104.5 1206.1h5.5M3093.3 1206.1h-5.5M2104.5 1182.4h5.5M3093.3 1182.4h-5.5M2104.5 1158.7h5.5M3093.3 1158.7h-5.5M2104.5 1135h5.5M3093.3 1135h-5.5M2104.5 1111.3h5.5M3093.3 1111.3h-5.5M2104.5 1087.5h5.5M3093.3 1087.5h-5.5" stroke="#000" stroke-width="3.4" fill="none"/>
<text x="2183.9" y="1736.5" font-size="40" fill="#000" stroke="#000" stroke-width="0.5" text-anchor="middle" textLength="88" lengthAdjust="spacing">6300</text>
<text x="2381.7" y="1736.5" font-size="40" fill="#000" stroke="#000" stroke-width="0.5" text-anchor="middle" textLength="88" lengthAdjust="spacing">6400</text>
<text x="2579.5" y="1736.5" font-size="40" fill="#000" stroke="#000" stroke-width="0.5" text-anchor="middle" textLength="88" lengthAdjust="spacing">6500</text>
<text x="2777.3" y="1736.5" font-size="40" fill="#000" stroke="#000" stroke-width="0.5" text-anchor="middle" textLength="88" lengthAdjust="spacing">6600</text>
<text x="2975.1" y="1736.5" font-size="40" fill="#000" stroke="#000" stroke-width="0.5" text-anchor="middle" textLength="88" lengthAdjust="spacing">6700</text>
<text x="2090" y="1649.4" font-size="40" fill="#000" stroke="#000" stroke-width="0.5" text-anchor="end" textLength="89.5" lengthAdjust="spacing">&#8722;500</text>
<text x="2090" y="1530.8" font-size="40" fill="#000" stroke="#000" stroke-width="0.5" text-anchor="end" textLength="21.5" lengthAdjust="spacing">0</text>
<text x="2090" y="1412.2" font-size="40" fill="#000" stroke="#000" stroke-width="0.5" text-anchor="end" textLength="64.5" lengthAdjust="spacing">500</text>
<text x="2090" y="1293.6" font-size="40" fill="#000" stroke="#000" stroke-width="0.5" text-anchor="end" textLength="86" lengthAdjust="spacing">1000</text>
<text x="2090" y="1175" font-size="40" fill="#000" stroke="#000" stroke-width="0.5" text-anchor="end" textLength="86" lengthAdjust="spacing">1500</text>
<text transform="translate(2182.3 1198.8) rotate(-90)" font-size="36" fill="#000" stroke="#000" stroke-width="0.2" textLength="55.2" lengthAdjust="spacingAndGlyphs">[OI]</text>
<text transform="translate(2306.6 1198.8) rotate(-90)" font-size="36" fill="#000" stroke="#000" stroke-width="0.2" textLength="55.2" lengthAdjust="spacingAndGlyphs">[OI]</text>
<text transform="translate(2672.3 1198.8) rotate(-90)" font-size="36" fill="#000" stroke="#000" stroke-width="0.2" textLength="66.7" lengthAdjust="spacingAndGlyphs">[NII]</text>
<text transform="translate(2698 1231) rotate(-90)" font-size="35">H<tspan font-style="italic">&#945;</tspan></text>
<text transform="translate(2698 1199) rotate(-90)" font-size="35">H<tspan font-style="italic">&#945;</tspan></text>
<text transform="translate(2741.3 1198.8) rotate(-90)" font-size="36" fill="#000" stroke="#000" stroke-width="0.2" textLength="66.7" lengthAdjust="spacingAndGlyphs">[NII]</text>
<text transform="translate(3006 1198.8) rotate(-90)" font-size="36" fill="#000" stroke="#000" stroke-width="0.2" textLength="64.4" lengthAdjust="spacingAndGlyphs">[SII]</text>
<text transform="translate(3031.3 1198.8) rotate(-90)" font-size="36" fill="#000" stroke="#000" stroke-width="0.2" textLength="64.4" lengthAdjust="spacingAndGlyphs">[SII]</text>
<text x="2545.4" y="1783" font-size="38">&#955;<tspan font-size="25" font-weight="bold" dy="10" letter-spacing="1.5">r.f.</tspan><tspan dy="-10" dx="2">[&#197;]</tspan></text>
<defs><filter id="dens" x="-20%" y="-20%" width="140%" height="140%"><feGaussianBlur stdDeviation="7"/><feComponentTransfer><feFuncA type="discrete" tableValues="0 0.1 0.18 0.26 0.34 0.42 0.5 0.58 0.66 0.76 0.88"/></feComponentTransfer></filter><clipPath id="c1"><rect x="2276" y="481.4" width="197" height="188.7"/></clipPath><clipPath id="c2"><rect x="2559.6" y="481.4" width="196.7" height="188.7"/></clipPath><clipPath id="c3"><rect x="2842" y="481.4" width="197.3" height="188.7"/></clipPath></defs>
<g clip-path="url(#c1)">
<g filter="url(#dens)">
<ellipse cx="2271" cy="568.3" rx="22" ry="11" transform="rotate(-8 2271 568.3)" fill="#1e2626" fill-opacity="0.22"/>
<ellipse cx="2295.6" cy="571.8" rx="22" ry="12" transform="rotate(8 2295.6 571.8)" fill="#1e2626" fill-opacity="0.30"/>
<ellipse cx="2315.3" cy="577.1" rx="22" ry="13" transform="rotate(15 2315.3 577.1)" fill="#1e2626" fill-opacity="0.36"/>
<ellipse cx="2333" cy="584.1" rx="22" ry="14" transform="rotate(25 2333 584.1)" fill="#1e2626" fill-opacity="0.40"/>
<ellipse cx="2348.8" cy="594.1" rx="20" ry="15" transform="rotate(40 2348.8 594.1)" fill="#1e2626" fill-opacity="0.44"/>
<ellipse cx="2360.6" cy="605.8" rx="18" ry="15" transform="rotate(55 2360.6 605.8)" fill="#1e2626" fill-opacity="0.50"/>
<ellipse cx="2369.4" cy="617.6" rx="16" ry="16" transform="rotate(70 2369.4 617.6)" fill="#1e2626" fill-opacity="0.58"/>
<ellipse cx="2377.3" cy="626.3" rx="8" ry="13" transform="rotate(85 2377.3 626.3)" fill="#1e2626" fill-opacity="0.95"/>
<ellipse cx="2378.3" cy="639.8" rx="13" ry="15" transform="rotate(85 2378.3 639.8)" fill="#1e2626" fill-opacity="0.55"/>
<ellipse cx="2380.3" cy="652.7" rx="11" ry="11" transform="rotate(90 2380.3 652.7)" fill="#1e2626" fill-opacity="0.32"/>
<ellipse cx="2386.2" cy="610.5" rx="14" ry="14" transform="rotate(0 2386.2 610.5)" fill="#1e2626" fill-opacity="0.42"/>
<ellipse cx="2396" cy="595.9" rx="16" ry="15" transform="rotate(0 2396 595.9)" fill="#1e2626" fill-opacity="0.36"/>
<ellipse cx="2408.8" cy="581.2" rx="18" ry="18" transform="rotate(0 2408.8 581.2)" fill="#1e2626" fill-opacity="0.30"/>
<ellipse cx="2418.7" cy="562.5" rx="20" ry="18" transform="rotate(0 2418.7 562.5)" fill="#1e2626" fill-opacity="0.24"/>
<ellipse cx="2428.5" cy="546.1" rx="18" ry="12" transform="rotate(0 2428.5 546.1)" fill="#1e2626" fill-opacity="0.16"/>
<ellipse cx="2438.3" cy="572.4" rx="16" ry="18" transform="rotate(0 2438.3 572.4)" fill="#1e2626" fill-opacity="0.18"/>
<ellipse cx="2392.1" cy="564.8" rx="14" ry="14" transform="rotate(0 2392.1 564.8)" fill="#1e2626" fill-opacity="0.20"/>
<ellipse cx="2401.9" cy="551.9" rx="14" ry="12" transform="rotate(0 2401.9 551.9)" fill="#1e2626" fill-opacity="0.18"/>
<ellipse cx="2445.2" cy="554.8" rx="14" ry="14" transform="rotate(0 2445.2 554.8)" fill="#1e2626" fill-opacity="0.12"/>
</g>
<polyline points="2275.9,547.2 2276.9,547.3 2277.8,547.4 2278.8,547.5 2279.8,547.6 2280.7,547.7 2281.7,547.8 2282.7,547.9 2283.6,548 2284.6,548.1 2285.5,548.2 2286.5,548.3 2287.5,548.4 2288.4,548.5 2289.4,548.6 2290.4,548.7 2291.3,548.8 2292.3,548.9 2293.3,549 2294.2,549.1 2295.2,549.2 2296.2,549.3 2297.1,549.4 2298.1,549.6 2299.1,549.7 2300,549.8 2301,549.9 2301.9,550 2302.9,550.1 2303.9,550.3 2304.8,550.4 2305.8,550.5 2306.8,550.6 2307.7,550.8 2308.7,550.9 2309.7,551 2310.6,551.2 2311.6,551.3 2312.6,551.4 2313.5,551.6 2314.5,551.7 2315.5,551.9 2316.4,552 2317.4,552.1 2318.4,552.3 2319.3,552.4 2320.3,552.6 2321.2,552.7 2322.2,552.9 2323.2,553.1 2324.1,553.2 2325.1,553.4 2326.1,553.5 2327,553.7 2328,553.9 2329,554 2329.9,554.2 2330.9,554.4 2331.9,554.6 2332.8,554.7 2333.8,554.9 2334.8,555.1 2335.7,555.3 2336.7,555.5 2337.6,555.7 2338.6,555.9 2339.6,556.1 2340.5,556.3 2341.5,556.5 2342.5,556.7 2343.4,556.9 2344.4,557.1 2345.4,557.3 2346.3,557.6 2347.3,557.8 2348.3,558 2349.2,558.2 2350.2,558.5 2351.2,558.7 2352.1,559 2353.1,559.2 2354,559.5 2355,559.7 2356,560 2356.9,560.2 2357.9,560.5 2358.9,560.8 2359.8,561.1 2360.8,561.3 2361.8,561.6 2362.7,561.9 2363.7,562.2 2364.7,562.5 2365.6,562.8 2366.6,563.1 2367.6,563.5 2368.5,563.8 2369.5,564.1 2370.5,564.5 2371.4,564.8 2372.4,565.2 2373.3,565.5 2374.3,565.9 2375.3,566.3 2376.2,566.7 2377.2,567.1 2378.2,567.5 2379.1,567.9 2380.1,568.3 2381.1,568.7 2382,569.1 2383,569.6 2384,570 2384.9,570.5 2385.9,571 2386.9,571.5 2387.8,572 2388.8,572.5 2389.7,573 2390.7,573.5 2391.7,574.1 2392.6,574.6 2393.6,575.2 2394.6,575.8 2395.5,576.4 2396.5,577 2397.5,577.7 2398.4,578.3 2399.4,579 2400.4,579.7 2401.3,580.4 2402.3,581.2 2403.3,581.9 2404.2,582.7 2405.2,583.5 2406.1,584.3 2407.1,585.2 2408.1,586 2409,586.9 2410,587.9 2411,588.8 2411.9,589.8 2412.9,590.9 2413.9,591.9 2414.8,593 2415.8,594.2 2416.8,595.4 2417.7,596.6 2418.7,597.9 2419.7,599.2 2420.6,600.6 2421.6,602 2422.6,603.5 2423.5,605 2424.5,606.6 2425.4,608.3 2426.4,610.1 2427.4,611.9 2428.3,613.9 2429.3,615.9 2430.3,618 2431.2,620.2 2432.2,622.5 2433.2,625 2434.1,627.6 2435.1,630.3 2436.1,633.2 2437,636.3 2438,639.5 2439,643 2439.9,646.7 2440.9,650.6 2441.8,654.8 2442.8,659.2 2443.8,664.1 2444.7,669.2 2445.7,674.8 2446.7,680.9" fill="none" stroke="#000" stroke-width="1.9"/>
<polyline points="2275.9,545.7 2276.7,545.8 2277.4,545.9 2278.2,546 2278.9,546.1 2279.7,546.3 2280.4,546.4 2281.2,546.5 2282,546.6 2282.7,546.8 2283.5,546.9 2284.2,547 2285,547.1 2285.8,547.3 2286.5,547.4 2287.3,547.5 2288,547.7 2288.8,547.8 2289.5,547.9 2290.3,548.1 2291.1,548.2 2291.8,548.4 2292.6,548.5 2293.3,548.7 2294.1,548.8 2294.9,549 2295.6,549.1 2296.4,549.3 2297.1,549.4 2297.9,549.6 2298.6,549.7 2299.4,549.9 2300.2,550 2300.9,550.2 2301.7,550.4 2302.4,550.5 2303.2,550.7 2303.9,550.9 2304.7,551 2305.5,551.2 2306.2,551.4 2307,551.6 2307.7,551.8 2308.5,551.9 2309.3,552.1 2310,552.3 2310.8,552.5 2311.5,552.7 2312.3,552.9 2313,553.1 2313.8,553.3 2314.6,553.5 2315.3,553.7 2316.1,553.9 2316.8,554.1 2317.6,554.4 2318.4,554.6 2319.1,554.8 2319.9,555 2320.6,555.2 2321.4,555.5 2322.1,555.7 2322.9,555.9 2323.7,556.2 2324.4,556.4 2325.2,556.7 2325.9,556.9 2326.7,557.2 2327.4,557.4 2328.2,557.7 2329,558 2329.7,558.2 2330.5,558.5 2331.2,558.8 2332,559.1 2332.8,559.4 2333.5,559.7 2334.3,560 2335,560.3 2335.8,560.6 2336.5,560.9 2337.3,561.2 2338.1,561.5 2338.8,561.9 2339.6,562.2 2340.3,562.5 2341.1,562.9 2341.9,563.2 2342.6,563.6 2343.4,564 2344.1,564.3 2344.9,564.7 2345.6,565.1 2346.4,565.5 2347.2,565.9 2347.9,566.3 2348.7,566.7 2349.4,567.1 2350.2,567.6 2350.9,568 2351.7,568.4 2352.5,568.9 2353.2,569.4 2354,569.8 2354.7,570.3 2355.5,570.8 2356.3,571.3 2357,571.9 2357.8,572.4 2358.5,572.9 2359.3,573.5 2360,574 2360.8,574.6 2361.6,575.2 2362.3,575.8 2363.1,576.4 2363.8,577 2364.6,577.7 2365.4,578.4 2366.1,579 2366.9,579.7 2367.6,580.4 2368.4,581.2 2369.1,581.9 2369.9,582.7 2370.7,583.5 2371.4,584.3 2372.2,585.1 2372.9,586 2373.7,586.8 2374.4,587.7 2375.2,588.7 2376,589.6 2376.7,590.6 2377.5,591.6 2378.2,592.6 2379,593.7 2379.8,594.8 2380.5,596 2381.3,597.1 2382,598.4 2382.8,599.6 2383.5,600.9 2384.3,602.3 2385.1,603.6 2385.8,605.1 2386.6,606.6 2387.3,608.1 2388.1,609.7 2388.9,611.4 2389.6,613.1 2390.4,614.9 2391.1,616.8 2391.9,618.7 2392.6,620.8 2393.4,622.9 2394.2,625.1 2394.9,627.4 2395.7,629.8 2396.4,632.4 2397.2,635 2397.9,637.8 2398.7,640.7 2399.5,643.8 2400.2,647.1 2401,650.5 2401.7,654.1 2402.5,658 2403.3,662 2404,666.4 2404.8,670.9 2405.5,675.8 2406.3,681.1" fill="none" stroke="#000" stroke-width="1.9" stroke-dasharray="53 23 46 23 70"/>
<polyline points="2406.1,583.4 2482.6,535.5" fill="none" stroke="#000" stroke-width="1.9"/>
</g>
<circle cx="2399" cy="556" r="4.2" fill="#1a6cf0" stroke="#000" stroke-width="1.6"/>
<text x="2284.4" y="499.6" font-family="'Liberation Sans', sans-serif" font-weight="bold" font-size="17" fill="#1a5ef0" textLength="21.6" lengthAdjust="spacingAndGlyphs">SY</text>
<rect x="2275.9" y="481.4" width="196.9" height="188.7" fill="none" stroke="#000" stroke-width="3.6"/>
<path d="M2275.9 670.1v-5M2275.9 481.4v5M2325.1 670.1v-5M2325.1 481.4v5M2374.3 670.1v-5M2374.3 481.4v5M2423.6 670.1v-5M2423.6 481.4v5M2472.8 670.1v-5M2472.8 481.4v5M2275.9 657.4h5M2472.8 657.4h-5M2275.9 628.1h5M2472.8 628.1h-5M2275.9 598.8h5M2472.8 598.8h-5M2275.9 569.5h5M2472.8 569.5h-5M2275.9 540.2h5M2472.8 540.2h-5M2275.9 510.9h5M2472.8 510.9h-5M2275.9 481.6h5M2472.8 481.6h-5M2285.7 670.1v-2.5M2285.7 481.4v2.5M2295.6 670.1v-2.5M2295.6 481.4v2.5M2305.4 670.1v-2.5M2305.4 481.4v2.5M2315.3 670.1v-2.5M2315.3 481.4v2.5M2275.9 663.3h2.5M2472.8 663.3h-2.5M2335 670.1v-2.5M2335 481.4v2.5M2275.9 651.5h2.5M2472.8 651.5h-2.5M2344.8 670.1v-2.5M2344.8 481.4v2.5M2275.9 645.7h2.5M2472.8 645.7h-2.5M2354.7 670.1v-2.5M2354.7 481.4v2.5M2275.9 639.8h2.5M2472.8 639.8h-2.5M2364.5 670.1v-2.5M2364.5 481.4v2.5M2275.9 634h2.5M2472.8 634h-2.5M2384.2 670.1v-2.5M2384.2 481.4v2.5M2275.9 622.2h2.5M2472.8 622.2h-2.5M2394 670.1v-2.5M2394 481.4v2.5M2275.9 616.4h2.5M2472.8 616.4h-2.5M2403.9 670.1v-2.5M2403.9 481.4v2.5M2275.9 610.5h2.5M2472.8 610.5h-2.5M2413.7 670.1v-2.5M2413.7 481.4v2.5M2275.9 604.7h2.5M2472.8 604.7h-2.5M2433.4 670.1v-2.5M2433.4 481.4v2.5M2275.9 592.9h2.5M2472.8 592.9h-2.5M2443.3 670.1v-2.5M2443.3 481.4v2.5M2275.9 587.1h2.5M2472.8 587.1h-2.5M2453.1 670.1v-2.5M2453.1 481.4v2.5M2275.9 581.2h2.5M2472.8 581.2h-2.5M2463 670.1v-2.5M2463 481.4v2.5M2275.9 575.4h2.5M2472.8 575.4h-2.5M2275.9 563.6h2.5M2472.8 563.6h-2.5M2275.9 557.8h2.5M2472.8 557.8h-2.5M2275.9 551.9h2.5M2472.8 551.9h-2.5M2275.9 546.1h2.5M2472.8 546.1h-2.5M2275.9 534.3h2.5M2472.8 534.3h-2.5M2275.9 528.5h2.5M2472.8 528.5h-2.5M2275.9 522.6h2.5M2472.8 522.6h-2.5M2275.9 516.8h2.5M2472.8 516.8h-2.5M2275.9 505h2.5M2472.8 505h-2.5M2275.9 499.2h2.5M2472.8 499.2h-2.5M2275.9 493.3h2.5M2472.8 493.3h-2.5M2275.9 487.5h2.5M2472.8 487.5h-2.5" stroke="#000" stroke-width="2.4" fill="none"/>
<text x="2275.9" y="694.6" font-size="18.5" fill="#000" font-weight="bold" text-anchor="middle" textLength="34.4" lengthAdjust="spacing">&#8722;1.5</text>
<text x="2325.1" y="694.6" font-size="18.5" fill="#000" font-weight="bold" text-anchor="middle" textLength="34.4" lengthAdjust="spacing">&#8722;1.0</text>
<text x="2374.3" y="694.6" font-size="18.5" fill="#000" font-weight="bold" text-anchor="middle" textLength="34.4" lengthAdjust="spacing">&#8722;0.5</text>
<text x="2423.6" y="694.6" font-size="18.5" fill="#000" font-weight="bold" text-anchor="middle" textLength="25.8" lengthAdjust="spacing">0.0</text>
<text x="2472.8" y="694.6" font-size="18.5" fill="#000" font-weight="bold" text-anchor="middle" textLength="25.8" lengthAdjust="spacing">0.5</text>
<text x="2270.4" y="664" font-size="18.5" fill="#000" font-weight="bold" text-anchor="end" textLength="34.4" lengthAdjust="spacing">&#8722;1.0</text>
<text x="2270.4" y="634.7" font-size="18.5" fill="#000" font-weight="bold" text-anchor="end" textLength="34.4" lengthAdjust="spacing">&#8722;0.5</text>
<text x="2270.4" y="605.4" font-size="18.5" fill="#000" font-weight="bold" text-anchor="end" textLength="25.8" lengthAdjust="spacing">0.0</text>
<text x="2270.4" y="576.1" font-size="18.5" fill="#000" font-weight="bold" text-anchor="end" textLength="25.8" lengthAdjust="spacing">0.5</text>
<text x="2270.4" y="546.8" font-size="18.5" fill="#000" font-weight="bold" text-anchor="end" textLength="25.8" lengthAdjust="spacing">1.0</text>
<text x="2270.4" y="517.5" font-size="18.5" fill="#000" font-weight="bold" text-anchor="end" textLength="25.8" lengthAdjust="spacing">1.5</text>
<text x="2270.4" y="495" font-size="18.5" fill="#000" font-weight="bold" text-anchor="end" textLength="25.8" lengthAdjust="spacing">2.0</text>
<text x="2282.8" y="714.7" font-weight="bold" font-size="18" textLength="180.7" lengthAdjust="spacingAndGlyphs">log([NII] &#955; 6583/H<tspan font-style="italic">&#945;</tspan>)</text>
<text transform="translate(2214.5 669) rotate(-90)" font-weight="bold" font-size="18" textLength="185.4" lengthAdjust="spacingAndGlyphs">log([OIII] &#955; 5007/H<tspan font-style="italic">&#946;</tspan>)</text>
<g clip-path="url(#c2)">
<g filter="url(#dens)">
<ellipse cx="2564.9" cy="545.7" rx="16" ry="10" transform="rotate(25 2564.9 545.7)" fill="#1e2626" fill-opacity="0.20"/>
<ellipse cx="2584" cy="560.7" rx="22" ry="14" transform="rotate(35 2584 560.7)" fill="#1e2626" fill-opacity="0.26"/>
<ellipse cx="2603" cy="575.7" rx="22" ry="18" transform="rotate(45 2603 575.7)" fill="#1e2626" fill-opacity="0.32"/>
<ellipse cx="2618.3" cy="591.4" rx="22" ry="20" transform="rotate(50 2618.3 591.4)" fill="#1e2626" fill-opacity="0.38"/>
<ellipse cx="2634.8" cy="608.4" rx="22" ry="22" transform="rotate(50 2634.8 608.4)" fill="#1e2626" fill-opacity="0.46"/>
<ellipse cx="2645" cy="621.4" rx="14" ry="7" transform="rotate(50 2645 621.4)" fill="#1e2626" fill-opacity="0.95"/>
<ellipse cx="2634.8" cy="637.1" rx="22" ry="16" transform="rotate(40 2634.8 637.1)" fill="#1e2626" fill-opacity="0.50"/>
<ellipse cx="2625.9" cy="652.7" rx="18" ry="10" transform="rotate(20 2625.9 652.7)" fill="#1e2626" fill-opacity="0.28"/>
<ellipse cx="2660.2" cy="598.2" rx="20" ry="22" transform="rotate(0 2660.2 598.2)" fill="#1e2626" fill-opacity="0.40"/>
<ellipse cx="2666.6" cy="577.8" rx="16" ry="18" transform="rotate(0 2666.6 577.8)" fill="#1e2626" fill-opacity="0.30"/>
<ellipse cx="2685.6" cy="588" rx="16" ry="16" transform="rotate(0 2685.6 588)" fill="#1e2626" fill-opacity="0.26"/>
<ellipse cx="2666.6" cy="540.3" rx="20" ry="18" transform="rotate(0 2666.6 540.3)" fill="#1e2626" fill-opacity="0.26"/>
<ellipse cx="2689.4" cy="536.9" rx="18" ry="14" transform="rotate(0 2689.4 536.9)" fill="#1e2626" fill-opacity="0.22"/>
<ellipse cx="2698.3" cy="560.7" rx="24" ry="20" transform="rotate(0 2698.3 560.7)" fill="#1e2626" fill-opacity="0.24"/>
<ellipse cx="2720" cy="570.9" rx="16" ry="20" transform="rotate(0 2720 570.9)" fill="#1e2626" fill-opacity="0.20"/>
<ellipse cx="2730.1" cy="557.3" rx="10" ry="14" transform="rotate(0 2730.1 557.3)" fill="#1e2626" fill-opacity="0.12"/>
</g>
<polyline points="2539.5,536.5 2540.5,536.6 2541.5,536.8 2542.5,536.9 2543.6,537.1 2544.6,537.3 2545.6,537.4 2546.6,537.6 2547.7,537.7 2548.7,537.9 2549.7,538.1 2550.7,538.2 2551.7,538.4 2552.8,538.6 2553.8,538.8 2554.8,538.9 2555.8,539.1 2556.9,539.3 2557.9,539.5 2558.9,539.6 2559.9,539.8 2561,540 2562,540.2 2563,540.4 2564,540.6 2565,540.8 2566.1,541 2567.1,541.2 2568.1,541.4 2569.1,541.6 2570.2,541.8 2571.2,542 2572.2,542.2 2573.2,542.4 2574.3,542.6 2575.3,542.9 2576.3,543.1 2577.3,543.3 2578.3,543.5 2579.4,543.8 2580.4,544 2581.4,544.2 2582.4,544.5 2583.5,544.7 2584.5,545 2585.5,545.2 2586.5,545.5 2587.6,545.7 2588.6,546 2589.6,546.2 2590.6,546.5 2591.7,546.8 2592.7,547 2593.7,547.3 2594.7,547.6 2595.7,547.9 2596.8,548.2 2597.8,548.5 2598.8,548.8 2599.8,549.1 2600.9,549.4 2601.9,549.7 2602.9,550 2603.9,550.3 2605,550.6 2606,550.9 2607,551.3 2608,551.6 2609,551.9 2610.1,552.3 2611.1,552.6 2612.1,553 2613.1,553.4 2614.2,553.7 2615.2,554.1 2616.2,554.5 2617.2,554.9 2618.3,555.3 2619.3,555.7 2620.3,556.1 2621.3,556.5 2622.3,556.9 2623.4,557.3 2624.4,557.7 2625.4,558.2 2626.4,558.6 2627.5,559.1 2628.5,559.6 2629.5,560 2630.5,560.5 2631.6,561 2632.6,561.5 2633.6,562 2634.6,562.5 2635.6,563 2636.7,563.6 2637.7,564.1 2638.7,564.7 2639.7,565.2 2640.8,565.8 2641.8,566.4 2642.8,567 2643.8,567.6 2644.9,568.2 2645.9,568.9 2646.9,569.5 2647.9,570.2 2648.9,570.9 2650,571.6 2651,572.3 2652,573 2653,573.7 2654.1,574.5 2655.1,575.3 2656.1,576.1 2657.1,576.9 2658.2,577.7 2659.2,578.6 2660.2,579.4 2661.2,580.3 2662.2,581.2 2663.3,582.2 2664.3,583.1 2665.3,584.1 2666.3,585.1 2667.4,586.2 2668.4,587.2 2669.4,588.3 2670.4,589.4 2671.5,590.6 2672.5,591.8 2673.5,593 2674.5,594.2 2675.5,595.5 2676.6,596.9 2677.6,598.2 2678.6,599.6 2679.6,601.1 2680.7,602.6 2681.7,604.1 2682.7,605.7 2683.7,607.4 2684.8,609.1 2685.8,610.9 2686.8,612.7 2687.8,614.6 2688.9,616.5 2689.9,618.6 2690.9,620.7 2691.9,622.9 2692.9,625.2 2694,627.5 2695,630 2696,632.6 2697,635.2 2698.1,638 2699.1,640.9 2700.1,644 2701.1,647.2 2702.2,650.5 2703.2,654 2704.2,657.7 2705.2,661.5 2706.2,665.6 2707.3,669.9 2708.3,674.4 2709.3,679.2 2710.3,684.2" fill="none" stroke="#000" stroke-width="1.9"/>
<polyline points="2665.6,582.7 2761.9,485" fill="none" stroke="#000" stroke-width="1.9"/>
</g>
<circle cx="2660" cy="543.9" r="4.2" fill="#1a6cf0" stroke="#000" stroke-width="1.6"/>
<text x="2568.1" y="499.6" font-family="'Liberation Sans', sans-serif" font-weight="bold" font-size="17" fill="#1a5ef0" textLength="21.6" lengthAdjust="spacingAndGlyphs">SY</text>
<rect x="2559.6" y="481.4" width="196.7" height="188.7" fill="none" stroke="#000" stroke-width="3.6"/>
<path d="M2577.6 670.1v-5M2577.6 481.4v5M2641.1 670.1v-5M2641.1 481.4v5M2704.7 670.1v-5M2704.7 481.4v5M2755.5 670.1v-5M2755.5 481.4v5M2559.6 663h5M2756.3 663h-5M2559.6 628.9h5M2756.3 628.9h-5M2559.6 594.8h5M2756.3 594.8h-5M2559.6 560.7h5M2756.3 560.7h-5M2559.6 526.6h5M2756.3 526.6h-5M2559.6 492.6h5M2756.3 492.6h-5M2564.9 670.1v-2.5M2564.9 481.4v2.5M2590.3 670.1v-2.5M2590.3 481.4v2.5M2559.6 656.1h2.5M2756.3 656.1h-2.5M2603 670.1v-2.5M2603 481.4v2.5M2559.6 649.3h2.5M2756.3 649.3h-2.5M2615.7 670.1v-2.5M2615.7 481.4v2.5M2559.6 642.5h2.5M2756.3 642.5h-2.5M2628.4 670.1v-2.5M2628.4 481.4v2.5M2559.6 635.7h2.5M2756.3 635.7h-2.5M2653.9 670.1v-2.5M2653.9 481.4v2.5M2559.6 622.1h2.5M2756.3 622.1h-2.5M2666.6 670.1v-2.5M2666.6 481.4v2.5M2559.6 615.2h2.5M2756.3 615.2h-2.5M2679.3 670.1v-2.5M2679.3 481.4v2.5M2559.6 608.4h2.5M2756.3 608.4h-2.5M2692 670.1v-2.5M2692 481.4v2.5M2559.6 601.6h2.5M2756.3 601.6h-2.5M2717.4 670.1v-2.5M2717.4 481.4v2.5M2559.6 588h2.5M2756.3 588h-2.5M2730.1 670.1v-2.5M2730.1 481.4v2.5M2559.6 581.2h2.5M2756.3 581.2h-2.5M2742.8 670.1v-2.5M2742.8 481.4v2.5M2559.6 574.4h2.5M2756.3 574.4h-2.5M2559.6 567.5h2.5M2756.3 567.5h-2.5M2559.6 553.9h2.5M2756.3 553.9h-2.5M2559.6 547.1h2.5M2756.3 547.1h-2.5M2559.6 540.3h2.5M2756.3 540.3h-2.5M2559.6 533.5h2.5M2756.3 533.5h-2.5M2559.6 519.8h2.5M2756.3 519.8h-2.5M2559.6 513h2.5M2756.3 513h-2.5M2559.6 506.2h2.5M2756.3 506.2h-2.5M2559.6 499.4h2.5M2756.3 499.4h-2.5M2559.6 485.7h2.5M2756.3 485.7h-2.5" stroke="#000" stroke-width="2.4" fill="none"/>
<text x="2577.6" y="694.6" font-size="18.5" fill="#000" font-weight="bold" text-anchor="middle" textLength="34.4" lengthAdjust="spacing">&#8722;1.0</text>
<text x="2641.1" y="694.6" font-size="18.5" fill="#000" font-weight="bold" text-anchor="middle" textLength="34.4" lengthAdjust="spacing">&#8722;0.5</text>
<text x="2704.7" y="694.6" font-size="18.5" fill="#000" font-weight="bold" text-anchor="middle" textLength="25.8" lengthAdjust="spacing">0.0</text>
<text x="2755.5" y="694.6" font-size="18.5" fill="#000" font-weight="bold" text-anchor="middle" textLength="25.8" lengthAdjust="spacing">0.4</text>
<text x="2552.4" y="669.6" font-size="18.5" fill="#000" font-weight="bold" text-anchor="end" textLength="34.4" lengthAdjust="spacing">&#8722;1.0</text>
<text x="2552.4" y="635.5" font-size="18.5" fill="#000" font-weight="bold" text-anchor="end" textLength="34.4" lengthAdjust="spacing">&#8722;0.5</text>
<text x="2552.4" y="601.4" font-size="18.5" fill="#000" font-weight="bold" text-anchor="end" textLength="25.8" lengthAdjust="spacing">0.0</text>
<text x="2552.4" y="567.3" font-size="18.5" fill="#000" font-weight="bold" text-anchor="end" textLength="25.8" lengthAdjust="spacing">0.5</text>
<text x="2552.4" y="533.2" font-size="18.5" fill="#000" font-weight="bold" text-anchor="end" textLength="25.8" lengthAdjust="spacing">1.0</text>
<text x="2552.4" y="499.2" font-size="18.5" fill="#000" font-weight="bold" text-anchor="end" textLength="25.8" lengthAdjust="spacing">1.5</text>
<text x="2543.2" y="714.7" font-weight="bold" font-size="18" textLength="226.3" lengthAdjust="spacingAndGlyphs">log([SII] &#955; 6716,6730/H<tspan font-style="italic">&#945;</tspan>)</text>
<text transform="translate(2499 669) rotate(-90)" font-weight="bold" font-size="18" textLength="185.4" lengthAdjust="spacingAndGlyphs">log([OIII] &#955; 5007/H<tspan font-style="italic">&#946;</tspan>)</text>
<g clip-path="url(#c3)">
<g filter="url(#dens)">
<ellipse cx="2846.8" cy="564.1" rx="14" ry="30" transform="rotate(0 2846.8 564.1)" fill="#1e2626" fill-opacity="0.30"/>
<ellipse cx="2851.3" cy="618.7" rx="14" ry="30" transform="rotate(0 2851.3 618.7)" fill="#1e2626" fill-opacity="0.30"/>
<ellipse cx="2874.2" cy="574.4" rx="18" ry="32" transform="rotate(0 2874.2 574.4)" fill="#1e2626" fill-opacity="0.42"/>
<ellipse cx="2878.8" cy="625.5" rx="18" ry="28" transform="rotate(0 2878.8 625.5)" fill="#1e2626" fill-opacity="0.42"/>
<ellipse cx="2904.3" cy="600.3" rx="9" ry="30" transform="rotate(8 2904.3 600.3)" fill="#1e2626" fill-opacity="0.95"/>
<ellipse cx="2901.6" cy="635.7" rx="16" ry="16" transform="rotate(10 2901.6 635.7)" fill="#1e2626" fill-opacity="0.50"/>
<ellipse cx="2919.9" cy="574.4" rx="16" ry="28" transform="rotate(5 2919.9 574.4)" fill="#1e2626" fill-opacity="0.45"/>
<ellipse cx="2929" cy="608.4" rx="16" ry="22" transform="rotate(0 2929 608.4)" fill="#1e2626" fill-opacity="0.40"/>
<ellipse cx="2915.3" cy="545.7" rx="18" ry="12" transform="rotate(0 2915.3 545.7)" fill="#1e2626" fill-opacity="0.32"/>
<ellipse cx="2947.3" cy="560.7" rx="20" ry="18" transform="rotate(0 2947.3 560.7)" fill="#1e2626" fill-opacity="0.30"/>
<ellipse cx="2961" cy="533.5" rx="24" ry="14" transform="rotate(0 2961 533.5)" fill="#1e2626" fill-opacity="0.36"/>
<ellipse cx="2983.9" cy="540.3" rx="18" ry="14" transform="rotate(0 2983.9 540.3)" fill="#1e2626" fill-opacity="0.26"/>
<ellipse cx="2993" cy="574.4" rx="18" ry="20" transform="rotate(0 2993 574.4)" fill="#1e2626" fill-opacity="0.32"/>
<ellipse cx="2961" cy="584.6" rx="22" ry="18" transform="rotate(0 2961 584.6)" fill="#1e2626" fill-opacity="0.26"/>
<ellipse cx="2974.7" cy="560.7" rx="20" ry="16" transform="rotate(0 2974.7 560.7)" fill="#1e2626" fill-opacity="0.24"/>
<ellipse cx="2997.6" cy="598.2" rx="14" ry="12" transform="rotate(0 2997.6 598.2)" fill="#1e2626" fill-opacity="0.14"/>
<ellipse cx="2942.7" cy="605" rx="14" ry="12" transform="rotate(0 2942.7 605)" fill="#1e2626" fill-opacity="0.20"/>
</g>
<polyline points="2828.5,533.2 2829.3,533.4 2830,533.5 2830.8,533.7 2831.6,533.8 2832.4,534 2833.1,534.1 2833.9,534.3 2834.7,534.4 2835.5,534.6 2836.2,534.8 2837,534.9 2837.8,535.1 2838.6,535.3 2839.4,535.4 2840.1,535.6 2840.9,535.8 2841.7,535.9 2842.5,536.1 2843.2,536.3 2844,536.5 2844.8,536.6 2845.6,536.8 2846.3,537 2847.1,537.2 2847.9,537.4 2848.7,537.6 2849.5,537.8 2850.2,537.9 2851,538.1 2851.8,538.3 2852.6,538.5 2853.3,538.7 2854.1,539 2854.9,539.2 2855.7,539.4 2856.4,539.6 2857.2,539.8 2858,540 2858.8,540.2 2859.6,540.5 2860.3,540.7 2861.1,540.9 2861.9,541.2 2862.7,541.4 2863.4,541.6 2864.2,541.9 2865,542.1 2865.8,542.4 2866.5,542.6 2867.3,542.9 2868.1,543.1 2868.9,543.4 2869.7,543.7 2870.4,543.9 2871.2,544.2 2872,544.5 2872.8,544.7 2873.5,545 2874.3,545.3 2875.1,545.6 2875.9,545.9 2876.6,546.2 2877.4,546.5 2878.2,546.8 2879,547.1 2879.8,547.5 2880.5,547.8 2881.3,548.1 2882.1,548.4 2882.9,548.8 2883.6,549.1 2884.4,549.5 2885.2,549.8 2886,550.2 2886.7,550.5 2887.5,550.9 2888.3,551.3 2889.1,551.7 2889.9,552.1 2890.6,552.5 2891.4,552.9 2892.2,553.3 2893,553.7 2893.7,554.1 2894.5,554.5 2895.3,555 2896.1,555.4 2896.8,555.9 2897.6,556.3 2898.4,556.8 2899.2,557.3 2900,557.8 2900.7,558.3 2901.5,558.8 2902.3,559.3 2903.1,559.8 2903.8,560.3 2904.6,560.9 2905.4,561.4 2906.2,562 2906.9,562.6 2907.7,563.2 2908.5,563.8 2909.3,564.4 2910.1,565 2910.8,565.7 2911.6,566.3 2912.4,567 2913.2,567.7 2913.9,568.3 2914.7,569.1 2915.5,569.8 2916.3,570.5 2917,571.3 2917.8,572.1 2918.6,572.9 2919.4,573.7 2920.2,574.5 2920.9,575.4 2921.7,576.3 2922.5,577.2 2923.3,578.1 2924,579 2924.8,580 2925.6,581 2926.4,582 2927.1,583.1 2927.9,584.1 2928.7,585.3 2929.5,586.4 2930.3,587.6 2931,588.8 2931.8,590 2932.6,591.3 2933.4,592.6 2934.1,594 2934.9,595.4 2935.7,596.8 2936.5,598.3 2937.2,599.8 2938,601.4 2938.8,603.1 2939.6,604.8 2940.4,606.5 2941.1,608.3 2941.9,610.2 2942.7,612.2 2943.5,614.2 2944.2,616.3 2945,618.5 2945.8,620.8 2946.6,623.2 2947.3,625.7 2948.1,628.2 2948.9,630.9 2949.7,633.7 2950.5,636.7 2951.2,639.7 2952,642.9 2952.8,646.3 2953.6,649.8 2954.3,653.6 2955.1,657.5 2955.9,661.6 2956.7,666 2957.4,670.6 2958.2,675.4 2959,680.6 2959.8,686.1" fill="none" stroke="#000" stroke-width="1.9"/>
<polyline points="2937.2,595.5 3043.3,502.2" fill="none" stroke="#000" stroke-width="1.9"/>
</g>
<circle cx="2969.2" cy="543.9" r="4.2" fill="#1a6cf0" stroke="#000" stroke-width="1.6"/>
<text x="2850.5" y="499.6" font-family="'Liberation Sans', sans-serif" font-weight="bold" font-size="17" fill="#1a5ef0" textLength="21.6" lengthAdjust="spacingAndGlyphs">SY</text>
<rect x="2842" y="481.4" width="197.3" height="188.7" fill="none" stroke="#000" stroke-width="3.6"/>
<path d="M2855.9 670.1v-5M2855.9 481.4v5M2901.6 670.1v-5M2901.6 481.4v5M2947.3 670.1v-5M2947.3 481.4v5M2993 670.1v-5M2993 481.4v5M3038.7 670.1v-5M3038.7 481.4v5M2842 663h5M3039.3 663h-5M2842 628.9h5M3039.3 628.9h-5M2842 594.8h5M3039.3 594.8h-5M2842 560.7h5M3039.3 560.7h-5M2842 526.6h5M3039.3 526.6h-5M2842 492.6h5M3039.3 492.6h-5M2846.8 670.1v-2.5M2846.8 481.4v2.5M2865 670.1v-2.5M2865 481.4v2.5M2874.2 670.1v-2.5M2874.2 481.4v2.5M2883.3 670.1v-2.5M2883.3 481.4v2.5M2892.5 670.1v-2.5M2892.5 481.4v2.5M2910.7 670.1v-2.5M2910.7 481.4v2.5M2919.9 670.1v-2.5M2919.9 481.4v2.5M2929 670.1v-2.5M2929 481.4v2.5M2938.2 670.1v-2.5M2938.2 481.4v2.5M2956.4 670.1v-2.5M2956.4 481.4v2.5M2842 656.1h2.5M3039.3 656.1h-2.5M2965.6 670.1v-2.5M2965.6 481.4v2.5M2842 649.3h2.5M3039.3 649.3h-2.5M2974.7 670.1v-2.5M2974.7 481.4v2.5M2842 642.5h2.5M3039.3 642.5h-2.5M2983.9 670.1v-2.5M2983.9 481.4v2.5M2842 635.7h2.5M3039.3 635.7h-2.5M3002.1 670.1v-2.5M3002.1 481.4v2.5M2842 622.1h2.5M3039.3 622.1h-2.5M3011.3 670.1v-2.5M3011.3 481.4v2.5M2842 615.2h2.5M3039.3 615.2h-2.5M3020.4 670.1v-2.5M3020.4 481.4v2.5M2842 608.4h2.5M3039.3 608.4h-2.5M3029.6 670.1v-2.5M3029.6 481.4v2.5M2842 601.6h2.5M3039.3 601.6h-2.5M2842 588h2.5M3039.3 588h-2.5M2842 581.2h2.5M3039.3 581.2h-2.5M2842 574.4h2.5M3039.3 574.4h-2.5M2842 567.5h2.5M3039.3 567.5h-2.5M2842 553.9h2.5M3039.3 553.9h-2.5M2842 547.1h2.5M3039.3 547.1h-2.5M2842 540.3h2.5M3039.3 540.3h-2.5M2842 533.5h2.5M3039.3 533.5h-2.5M2842 519.8h2.5M3039.3 519.8h-2.5M2842 513h2.5M3039.3 513h-2.5M2842 506.2h2.5M3039.3 506.2h-2.5M2842 499.4h2.5M3039.3 499.4h-2.5M2842 485.7h2.5M3039.3 485.7h-2.5" stroke="#000" stroke-width="2.4" fill="none"/>
<text x="2855.9" y="694.6" font-size="18.5" fill="#000" font-weight="bold" text-anchor="middle" textLength="34.4" lengthAdjust="spacing">&#8722;2.0</text>
<text x="2901.6" y="694.6" font-size="18.5" fill="#000" font-weight="bold" text-anchor="middle" textLength="34.4" lengthAdjust="spacing">&#8722;1.5</text>
<text x="2947.3" y="694.6" font-size="18.5" fill="#000" font-weight="bold" text-anchor="middle" textLength="34.4" lengthAdjust="spacing">&#8722;1.0</text>
<text x="2993" y="694.6" font-size="18.5" fill="#000" font-weight="bold" text-anchor="middle" textLength="34.4" lengthAdjust="spacing">&#8722;0.5</text>
<text x="3038.7" y="694.6" font-size="18.5" fill="#000" font-weight="bold" text-anchor="middle" textLength="25.8" lengthAdjust="spacing">0.0</text>
<text x="2836" y="669.6" font-size="18.5" fill="#000" font-weight="bold" text-anchor="end" textLength="34.4" lengthAdjust="spacing">&#8722;1.0</text>
<text x="2836" y="635.5" font-size="18.5" fill="#000" font-weight="bold" text-anchor="end" textLength="34.4" lengthAdjust="spacing">&#8722;0.5</text>
<text x="2836" y="601.4" font-size="18.5" fill="#000" font-weight="bold" text-anchor="end" textLength="25.8" lengthAdjust="spacing">0.0</text>
<text x="2836" y="567.3" font-size="18.5" fill="#000" font-weight="bold" text-anchor="end" textLength="25.8" lengthAdjust="spacing">0.5</text>
<text x="2836" y="533.2" font-size="18.5" fill="#000" font-weight="bold" text-anchor="end" textLength="25.8" lengthAdjust="spacing">1.0</text>
<text x="2836" y="499.2" font-size="18.5" fill="#000" font-weight="bold" text-anchor="end" textLength="25.8" lengthAdjust="spacing">1.5</text>
<text x="2852.4" y="714.7" font-weight="bold" font-size="18" textLength="175.9" lengthAdjust="spacingAndGlyphs">log([OI] &#955; 6300/H<tspan font-style="italic">&#945;</tspan>)</text>
<text transform="translate(2782 669) rotate(-90)" font-weight="bold" font-size="18" textLength="185.4" lengthAdjust="spacingAndGlyphs">log([OIII] &#955; 5007/H<tspan font-style="italic">&#946;</tspan>)</text>
</svg></body></html>
